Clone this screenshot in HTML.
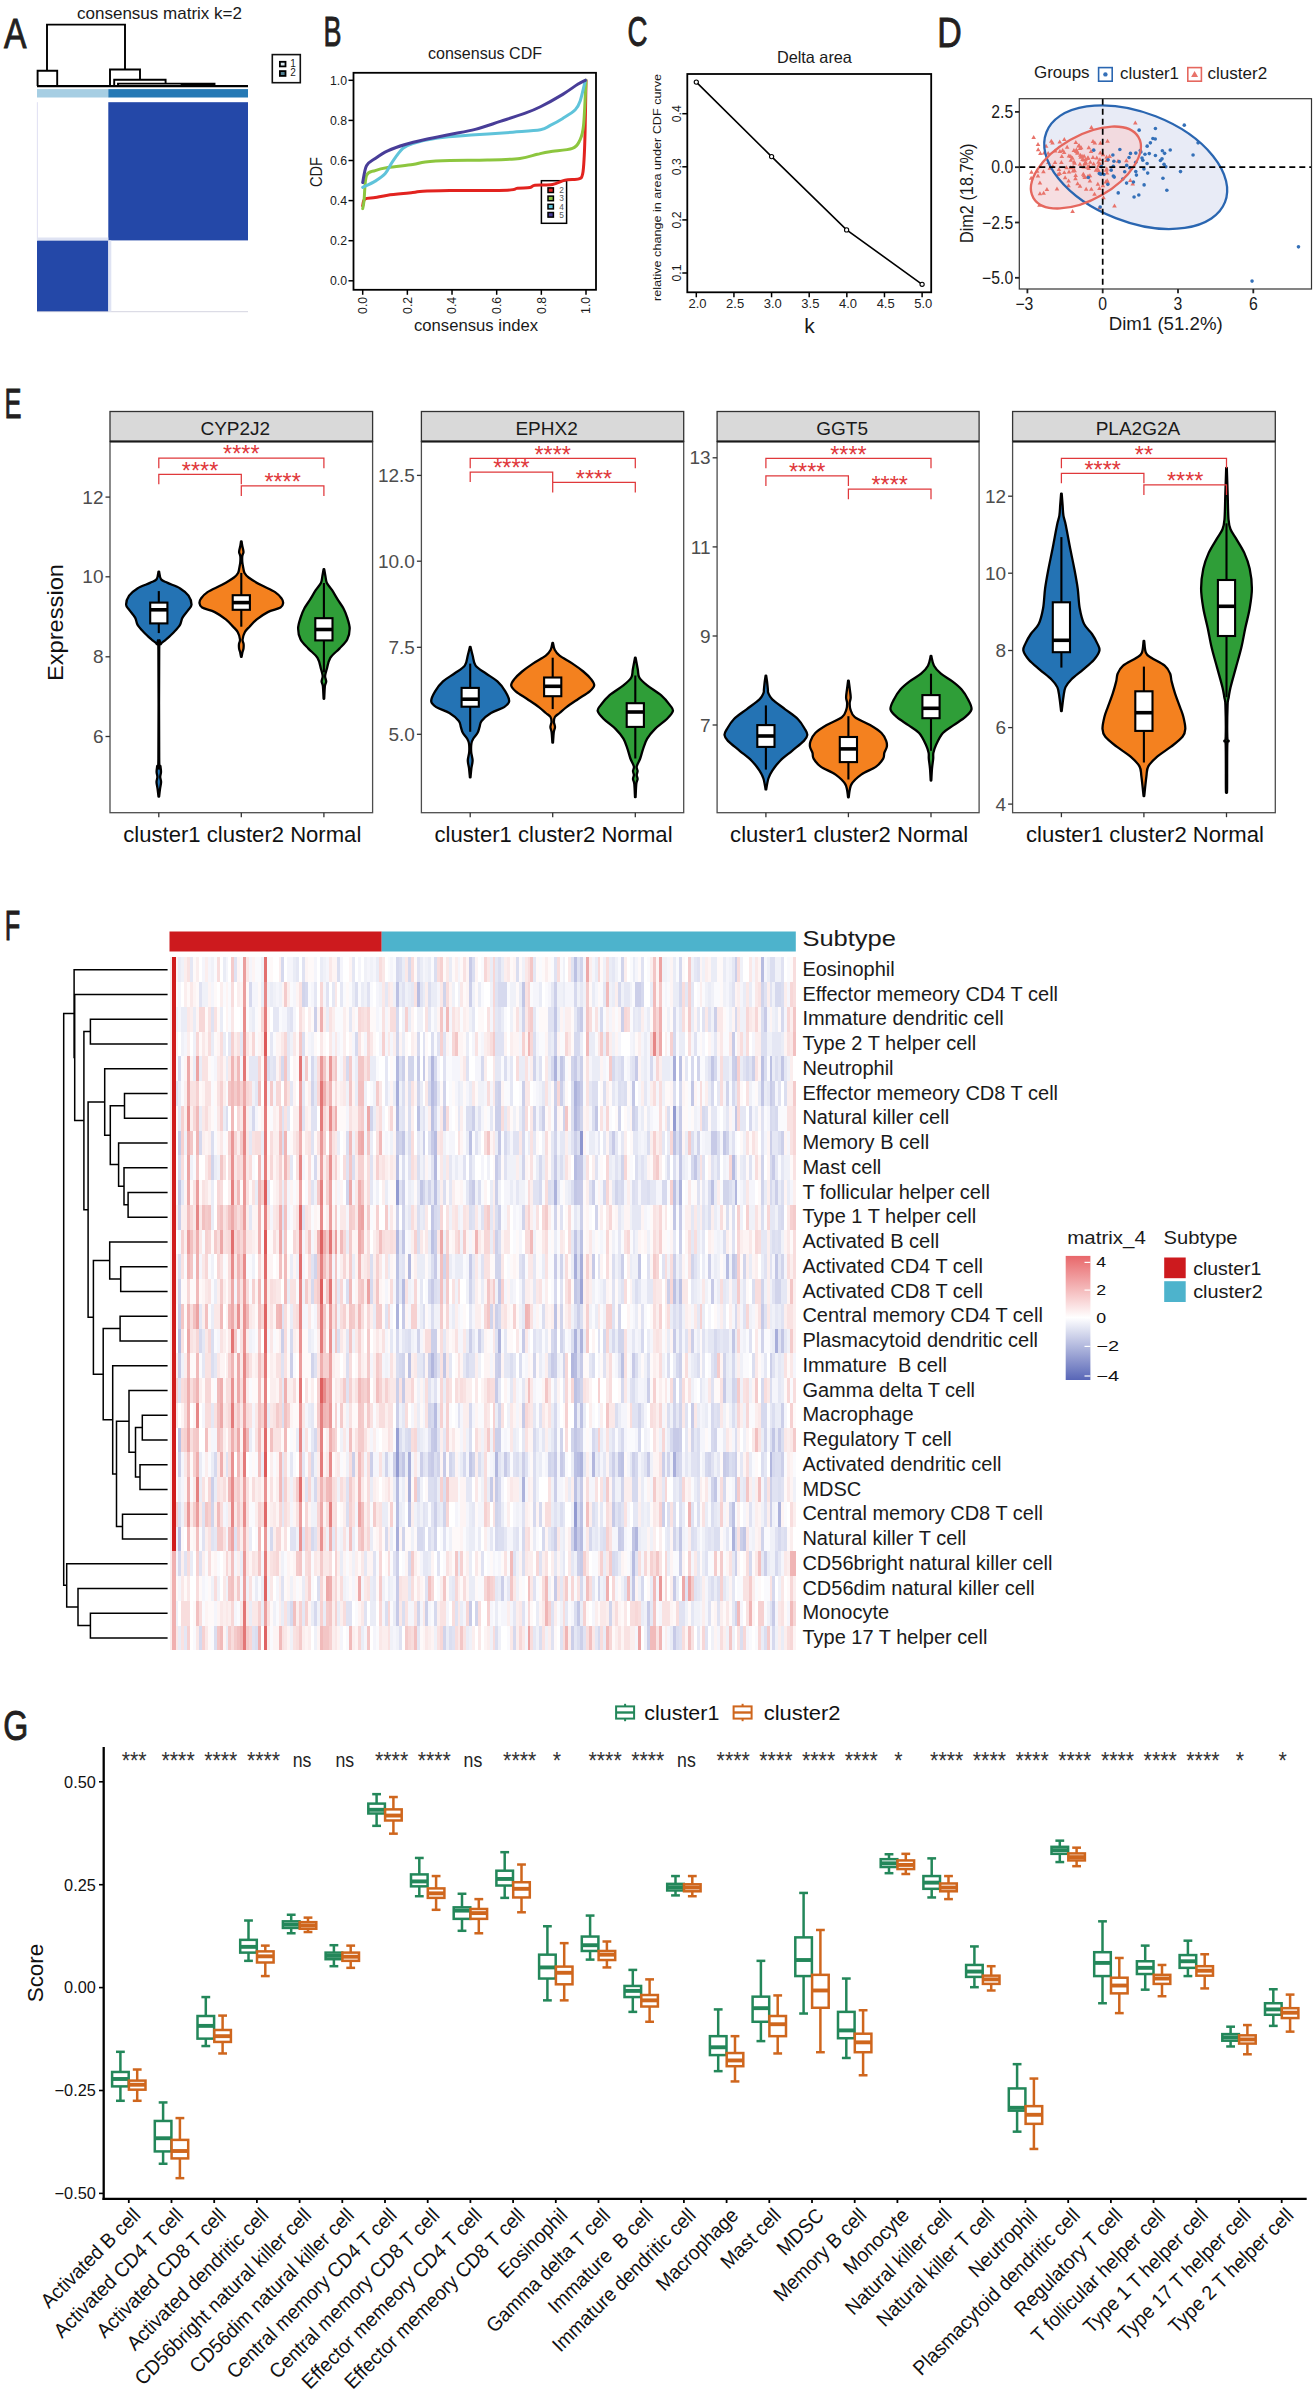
<!DOCTYPE html><html><head><meta charset="utf-8"><style>html,body{margin:0;padding:0;background:#fff;}svg{display:block;}text{font-family:"Liberation Sans",sans-serif;}</style></head><body>
<svg width="1315" height="2396" viewBox="0 0 1315 2396">
<rect x="0" y="0" width="1315" height="2396" fill="#fff"/>
<text x="4" y="47.5" font-size="42" fill="#231f20" textLength="22.5" lengthAdjust="spacingAndGlyphs" stroke="#231f20" stroke-width="0.9">A</text>
<text x="77" y="18.8" font-size="17" fill="#1a1a1a" textLength="165" lengthAdjust="spacingAndGlyphs">consensus matrix k=2</text>
<polyline points="47,70.8 47,24.6 125,24.6 125,69.5" fill="none" stroke="#000" stroke-width="1.9"/>
<polyline points="37.6,86 37.6,70.8 57.2,70.8 57.2,86" fill="none" stroke="#000" stroke-width="1.9"/>
<polyline points="110,86 110,69.5 140,69.5 140,79.8" fill="none" stroke="#000" stroke-width="1.9"/>
<polyline points="114.2,86 114.2,79.8 165.6,79.8 165.6,83.6" fill="none" stroke="#000" stroke-width="1.9"/>
<polyline points="118,86 118,83.6 214.5,83.6 214.5,86" fill="none" stroke="#000" stroke-width="1.9"/>
<line x1="180.7" y1="84.6" x2="214.5" y2="84.6" stroke="#000" stroke-width="1.4"/>
<line x1="37" y1="86.2" x2="248" y2="86.2" stroke="#000" stroke-width="2.2"/>
<rect x="37" y="89.1" width="71.3" height="8.4" fill="#a6cee3"/>
<rect x="108.3" y="89.1" width="139.7" height="8.4" fill="#2579b5"/>
<rect x="108.3" y="102.2" width="139.7" height="138.2" fill="#2448a8"/>
<rect x="37" y="240.4" width="71.3" height="71.3" fill="#2448a8"/>
<line x1="37" y1="311.7" x2="248" y2="311.7" stroke="#c8c8d8" stroke-width="0.8"/>
<line x1="37.4" y1="102.2" x2="37.4" y2="240.4" stroke="#d8d8f0" stroke-width="0.8"/>
<rect x="37" y="237.5" width="71.3" height="2.9" fill="#dfe3f3"/>
<rect x="108.3" y="240.4" width="3" height="71.3" fill="#dfe3f3"/>
<rect x="272.3" y="54.6" width="28" height="28.1" fill="#fff" stroke="#111" stroke-width="1.6"/>
<rect x="279.9" y="61.8" width="5.6" height="4.6" fill="#d8e8f0" stroke="#000" stroke-width="1.8"/>
<rect x="279.9" y="71.1" width="5.6" height="4.8" fill="#4f7f90" stroke="#000" stroke-width="1.8"/>
<text x="293" y="66.6" font-size="10" fill="#1a1a1a" text-anchor="middle">1</text>
<text x="293.1" y="76" font-size="10" fill="#1a1a1a" text-anchor="middle">2</text>
<text x="323.5" y="46.4" font-size="42" fill="#231f20" textLength="18" lengthAdjust="spacingAndGlyphs" stroke="#231f20" stroke-width="0.9">B</text>
<text x="485" y="58.8" font-size="16" fill="#1a1a1a" text-anchor="middle" textLength="114" lengthAdjust="spacingAndGlyphs">consensus CDF</text>
<rect x="353.5" y="72.8" width="242.5" height="217" fill="none" stroke="#000" stroke-width="1.8"/>
<line x1="348.5" y1="280.8" x2="353.5" y2="280.8" stroke="#000" stroke-width="1.5"/>
<text x="347" y="285.2" font-size="12.3" fill="#1a1a1a" text-anchor="end">0.0</text>
<line x1="348.5" y1="240.7" x2="353.5" y2="240.7" stroke="#000" stroke-width="1.5"/>
<text x="347" y="245.1" font-size="12.3" fill="#1a1a1a" text-anchor="end">0.2</text>
<line x1="348.5" y1="200.6" x2="353.5" y2="200.6" stroke="#000" stroke-width="1.5"/>
<text x="347" y="205" font-size="12.3" fill="#1a1a1a" text-anchor="end">0.4</text>
<line x1="348.5" y1="160.5" x2="353.5" y2="160.5" stroke="#000" stroke-width="1.5"/>
<text x="347" y="164.9" font-size="12.3" fill="#1a1a1a" text-anchor="end">0.6</text>
<line x1="348.5" y1="120.4" x2="353.5" y2="120.4" stroke="#000" stroke-width="1.5"/>
<text x="347" y="124.8" font-size="12.3" fill="#1a1a1a" text-anchor="end">0.8</text>
<line x1="348.5" y1="80.3" x2="353.5" y2="80.3" stroke="#000" stroke-width="1.5"/>
<text x="347" y="84.7" font-size="12.3" fill="#1a1a1a" text-anchor="end">1.0</text>
<line x1="362.7" y1="289.8" x2="362.7" y2="294.8" stroke="#000" stroke-width="1.5"/>
<text x="367.1" y="296.8" font-size="12.3" fill="#1a1a1a" text-anchor="end" transform="rotate(-90 367.1 296.8)">0.0</text>
<line x1="407.36" y1="289.8" x2="407.36" y2="294.8" stroke="#000" stroke-width="1.5"/>
<text x="411.76" y="296.8" font-size="12.3" fill="#1a1a1a" text-anchor="end" transform="rotate(-90 411.76 296.8)">0.2</text>
<line x1="452.02" y1="289.8" x2="452.02" y2="294.8" stroke="#000" stroke-width="1.5"/>
<text x="456.42" y="296.8" font-size="12.3" fill="#1a1a1a" text-anchor="end" transform="rotate(-90 456.42 296.8)">0.4</text>
<line x1="496.68" y1="289.8" x2="496.68" y2="294.8" stroke="#000" stroke-width="1.5"/>
<text x="501.08" y="296.8" font-size="12.3" fill="#1a1a1a" text-anchor="end" transform="rotate(-90 501.08 296.8)">0.6</text>
<line x1="541.34" y1="289.8" x2="541.34" y2="294.8" stroke="#000" stroke-width="1.5"/>
<text x="545.74" y="296.8" font-size="12.3" fill="#1a1a1a" text-anchor="end" transform="rotate(-90 545.74 296.8)">0.8</text>
<line x1="586" y1="289.8" x2="586" y2="294.8" stroke="#000" stroke-width="1.5"/>
<text x="590.4" y="296.8" font-size="12.3" fill="#1a1a1a" text-anchor="end" transform="rotate(-90 590.4 296.8)">1.0</text>
<text x="476" y="331" font-size="16" fill="#1a1a1a" text-anchor="middle" textLength="124" lengthAdjust="spacingAndGlyphs">consensus index</text>
<text x="322.3" y="172" font-size="16" fill="#1a1a1a" text-anchor="middle" textLength="30" lengthAdjust="spacingAndGlyphs" transform="rotate(-90 322.3 172)">CDF</text>
<rect x="541.4" y="180.7" width="25.2" height="42.6" fill="none" stroke="#000" stroke-width="1.5"/>
<rect x="548" y="187.9" width="5.4" height="4.6" fill="#e2231f" stroke="#000" stroke-width="1.5"/>
<text x="561.6" y="193.1" font-size="8.3" fill="#555" text-anchor="middle">2</text>
<rect x="548" y="196.1" width="5.4" height="4.6" fill="#8dc63f" stroke="#000" stroke-width="1.5"/>
<text x="561.6" y="201.3" font-size="8.3" fill="#555" text-anchor="middle">3</text>
<rect x="548" y="204.3" width="5.4" height="4.6" fill="#5fc3da" stroke="#000" stroke-width="1.5"/>
<text x="561.6" y="209.5" font-size="8.3" fill="#555" text-anchor="middle">4</text>
<rect x="548" y="212.5" width="5.4" height="4.6" fill="#483d98" stroke="#000" stroke-width="1.5"/>
<text x="561.6" y="217.7" font-size="8.3" fill="#555" text-anchor="middle">5</text>
<path d="M362.7,205.81 C363.07,204.68 362.85,200.37 364.93,199 C367.02,197.63 371.41,198.23 375.2,197.59 C379,196.96 381.46,196.02 387.71,195.19 C393.96,194.35 406.84,193.25 412.72,192.58 C418.6,191.91 416.81,191.51 422.99,191.18 C429.17,190.84 435.72,190.74 449.79,190.57 C463.85,190.41 496.12,190.57 507.4,190.17 C518.68,189.77 513.69,188.6 517.45,188.17 C521.21,187.73 527.05,188.07 529.95,187.57 C532.85,187.07 531.11,185.66 534.86,185.16 C538.62,184.66 547.48,185.4 552.5,184.56 C557.53,183.72 560.62,181.08 565.01,180.15 C569.4,179.21 575.91,179.98 578.85,178.95 C581.79,177.91 581.76,177.68 582.65,173.93 C583.54,170.19 583.8,163.74 584.21,156.49 C584.62,149.24 584.81,143.12 585.11,130.43 C585.4,117.73 585.85,88.65 586,80.3" fill="none" stroke="#e2231f" stroke-width="3" stroke-linejoin="round" stroke-linecap="round"/>
<path d="M362.7,208.62 C362.92,207.28 363.41,206.11 364.04,200.6 C364.67,195.09 364.64,180.55 366.5,175.54 C368.36,170.53 371.67,171.86 375.2,170.53 C378.74,169.19 381.46,168.52 387.71,167.52 C393.96,166.52 406.47,165.45 412.72,164.51 C418.97,163.57 419.05,162.57 425.22,161.9 C431.4,161.24 439.44,160.8 449.79,160.5 C460.13,160.2 475.62,160.43 487.3,160.1 C498.99,159.76 511.57,159.46 519.9,158.5 C528.24,157.53 532.33,155.42 537.32,154.28 C542.31,153.15 543.98,152.65 549.83,151.68 C555.67,150.71 567.39,150.34 572.38,148.47 C577.37,146.6 577.89,144.29 579.75,140.45 C581.61,136.61 582.5,135.44 583.54,125.41 C584.59,115.39 585.59,87.82 586,80.3" fill="none" stroke="#8dc63f" stroke-width="3" stroke-linejoin="round" stroke-linecap="round"/>
<path d="M362.7,187.37 C364.78,186.33 371.45,183.46 375.2,181.15 C378.96,178.85 382.31,176.87 385.25,173.53 C388.19,170.19 389.91,165.28 392.85,161.1 C395.79,156.92 399.58,151.41 402.89,148.47 C406.21,145.53 406.91,145.2 412.72,143.46 C418.52,141.72 427.31,139.48 437.73,138.04 C448.15,136.61 462.74,135.81 475.24,134.84 C487.75,133.87 501.89,133.06 512.76,132.23 C523.62,131.39 534.19,130.96 540.45,129.82 C546.7,128.69 546.55,127.32 550.27,125.41 C553.99,123.51 558.61,121 562.78,118.4 C566.95,115.79 572.38,112.68 575.28,109.77 C578.18,106.87 578.52,105.86 580.19,100.95 C581.87,96.04 584.47,83.74 585.33,80.3" fill="none" stroke="#5fc3da" stroke-width="3" stroke-linejoin="round" stroke-linecap="round"/>
<path d="M362.7,182.56 C363.33,179.75 364.41,169.72 366.5,165.71 C368.58,161.7 371.67,160.97 375.2,158.5 C378.74,156.02 382.72,153.22 387.71,150.88 C392.7,148.54 398.87,146.36 405.13,144.46 C411.38,142.56 417.78,141.12 425.22,139.45 C432.67,137.78 441.45,136.11 449.79,134.44 C458.12,132.76 466.83,131.59 475.24,129.42 C483.65,127.25 491.92,124.11 500.25,121.4 C508.59,118.7 518.56,115.62 525.26,113.18 C531.96,110.74 534.19,109.91 540.45,106.77 C546.7,103.62 556.56,98.08 562.78,94.34 C568.99,90.59 573.98,86.65 577.74,84.31 C581.5,81.97 584.06,80.97 585.33,80.3" fill="none" stroke="#483d98" stroke-width="3" stroke-linejoin="round" stroke-linecap="round"/>
<text x="627.5" y="46.4" font-size="42" fill="#231f20" textLength="20" lengthAdjust="spacingAndGlyphs" stroke="#231f20" stroke-width="0.9">C</text>
<text x="814.4" y="62.5" font-size="16.5" fill="#1a1a1a" text-anchor="middle" textLength="75" lengthAdjust="spacingAndGlyphs">Delta area</text>
<rect x="687.3" y="74" width="243.9" height="218.3" fill="none" stroke="#000" stroke-width="1.8"/>
<line x1="696.3" y1="292.3" x2="696.3" y2="297.3" stroke="#000" stroke-width="1.5"/>
<text x="697.5" y="307.6" font-size="13" fill="#222" text-anchor="middle">2.0</text>
<line x1="733.93" y1="292.3" x2="733.93" y2="297.3" stroke="#000" stroke-width="1.5"/>
<text x="735.13" y="307.6" font-size="13" fill="#222" text-anchor="middle">2.5</text>
<line x1="771.57" y1="292.3" x2="771.57" y2="297.3" stroke="#000" stroke-width="1.5"/>
<text x="772.77" y="307.6" font-size="13" fill="#222" text-anchor="middle">3.0</text>
<line x1="809.2" y1="292.3" x2="809.2" y2="297.3" stroke="#000" stroke-width="1.5"/>
<text x="810.4" y="307.6" font-size="13" fill="#222" text-anchor="middle">3.5</text>
<line x1="846.84" y1="292.3" x2="846.84" y2="297.3" stroke="#000" stroke-width="1.5"/>
<text x="848.04" y="307.6" font-size="13" fill="#222" text-anchor="middle">4.0</text>
<line x1="884.47" y1="292.3" x2="884.47" y2="297.3" stroke="#000" stroke-width="1.5"/>
<text x="885.67" y="307.6" font-size="13" fill="#222" text-anchor="middle">4.5</text>
<line x1="922.11" y1="292.3" x2="922.11" y2="297.3" stroke="#000" stroke-width="1.5"/>
<text x="923.31" y="307.6" font-size="13" fill="#222" text-anchor="middle">5.0</text>
<line x1="682.3" y1="273" x2="687.3" y2="273" stroke="#000" stroke-width="1.5"/>
<text x="681.3" y="273" font-size="12.3" fill="#1a1a1a" text-anchor="middle" transform="rotate(-90 681.3 273)">0.1</text>
<line x1="682.3" y1="219.9" x2="687.3" y2="219.9" stroke="#000" stroke-width="1.5"/>
<text x="681.3" y="219.9" font-size="12.3" fill="#1a1a1a" text-anchor="middle" transform="rotate(-90 681.3 219.9)">0.2</text>
<line x1="682.3" y1="166.8" x2="687.3" y2="166.8" stroke="#000" stroke-width="1.5"/>
<text x="681.3" y="166.8" font-size="12.3" fill="#1a1a1a" text-anchor="middle" transform="rotate(-90 681.3 166.8)">0.3</text>
<line x1="682.3" y1="113.7" x2="687.3" y2="113.7" stroke="#000" stroke-width="1.5"/>
<text x="681.3" y="113.7" font-size="12.3" fill="#1a1a1a" text-anchor="middle" transform="rotate(-90 681.3 113.7)">0.4</text>
<text x="661.2" y="187.5" font-size="11.6" fill="#1a1a1a" text-anchor="middle" textLength="227" lengthAdjust="spacingAndGlyphs" transform="rotate(-90 661.2 187.5)">relative change in area under CDF curve</text>
<text x="809.5" y="332.5" font-size="21" fill="#1a1a1a" text-anchor="middle">k</text>
<polyline points="696.3,82.1 771.6,156.6 846.6,229.9 922.1,284.3" fill="none" stroke="#000" stroke-width="1.6"/>
<circle cx="696.3" cy="82.1" r="2.1" fill="#fff" stroke="#000" stroke-width="1.1"/>
<circle cx="771.6" cy="156.6" r="2.1" fill="#fff" stroke="#000" stroke-width="1.1"/>
<circle cx="846.6" cy="229.9" r="2.1" fill="#fff" stroke="#000" stroke-width="1.1"/>
<circle cx="922.1" cy="284.3" r="2.1" fill="#fff" stroke="#000" stroke-width="1.1"/>
<text x="937.3" y="46.6" font-size="42" fill="#231f20" textLength="24.5" lengthAdjust="spacingAndGlyphs" stroke="#231f20" stroke-width="0.9">D</text>
<ellipse cx="1135.7" cy="167.2" rx="95.9" ry="54.7" transform="rotate(21.4 1135.7 167.2)" fill="#e8ebf6"/>
<ellipse cx="1085.9" cy="167.5" rx="60.7" ry="31.8" transform="rotate(-30 1085.9 167.5)" fill="#f4d6da" fill-opacity="0.8"/>
<path d="M1072.46,155.78 L1070.16,159.77 L1074.76,159.77Z" fill="#e8736a"/>
<path d="M1073.06,168.58 L1070.76,172.57 L1075.36,172.57Z" fill="#e8736a"/>
<path d="M1058.93,167.01 L1056.63,170.99 L1061.23,170.99Z" fill="#e8736a"/>
<path d="M1099.93,157.14 L1097.63,161.12 L1102.23,161.12Z" fill="#e8736a"/>
<path d="M1098.42,159.85 L1096.12,163.83 L1100.72,163.83Z" fill="#e8736a"/>
<path d="M1085.53,160.83 L1083.23,164.82 L1087.83,164.82Z" fill="#e8736a"/>
<path d="M1044.15,150.46 L1041.85,154.44 L1046.45,154.44Z" fill="#e8736a"/>
<path d="M1087.77,155.98 L1085.47,159.96 L1090.07,159.96Z" fill="#e8736a"/>
<path d="M1043.64,190.71 L1041.34,194.69 L1045.94,194.69Z" fill="#e8736a"/>
<path d="M1059.74,170.95 L1057.44,174.94 L1062.04,174.94Z" fill="#e8736a"/>
<path d="M1083.73,164.41 L1081.43,168.4 L1086.03,168.4Z" fill="#e8736a"/>
<path d="M1088.06,173.65 L1085.76,177.63 L1090.36,177.63Z" fill="#e8736a"/>
<path d="M1083.8,157.6 L1081.5,161.58 L1086.1,161.58Z" fill="#e8736a"/>
<path d="M1064.32,137.11 L1062.02,141.09 L1066.62,141.09Z" fill="#e8736a"/>
<path d="M1088.78,145.17 L1086.48,149.15 L1091.08,149.15Z" fill="#e8736a"/>
<path d="M1065.14,175.15 L1062.84,179.14 L1067.44,179.14Z" fill="#e8736a"/>
<path d="M1070.69,165.35 L1068.39,169.34 L1072.99,169.34Z" fill="#e8736a"/>
<path d="M1090.29,159.86 L1087.99,163.84 L1092.59,163.84Z" fill="#e8736a"/>
<path d="M1068.62,178.52 L1066.32,182.5 L1070.92,182.5Z" fill="#e8736a"/>
<path d="M1067.15,144.8 L1064.85,148.78 L1069.45,148.78Z" fill="#e8736a"/>
<path d="M1061.38,159.91 L1059.08,163.9 L1063.68,163.9Z" fill="#e8736a"/>
<path d="M1086.16,186.77 L1083.86,190.75 L1088.46,190.75Z" fill="#e8736a"/>
<path d="M1078.57,143.48 L1076.27,147.46 L1080.87,147.46Z" fill="#e8736a"/>
<path d="M1037.15,168.68 L1034.85,172.67 L1039.45,172.67Z" fill="#e8736a"/>
<path d="M1075.47,176.36 L1073.17,180.34 L1077.77,180.34Z" fill="#e8736a"/>
<path d="M1087.59,164.67 L1085.29,168.65 L1089.89,168.65Z" fill="#e8736a"/>
<path d="M1048.19,150.89 L1045.89,154.87 L1050.49,154.87Z" fill="#e8736a"/>
<path d="M1091.04,149.06 L1088.74,153.04 L1093.34,153.04Z" fill="#e8736a"/>
<path d="M1106.53,158.09 L1104.23,162.08 L1108.83,162.08Z" fill="#e8736a"/>
<path d="M1080,183.82 L1077.7,187.8 L1082.3,187.8Z" fill="#e8736a"/>
<path d="M1089.96,173.18 L1087.66,177.16 L1092.26,177.16Z" fill="#e8736a"/>
<path d="M1068.51,183.29 L1066.21,187.27 L1070.81,187.27Z" fill="#e8736a"/>
<path d="M1058.17,171.93 L1055.87,175.91 L1060.47,175.91Z" fill="#e8736a"/>
<path d="M1103.48,195.16 L1101.18,199.15 L1105.78,199.15Z" fill="#e8736a"/>
<path d="M1048.33,160 L1046.03,163.98 L1050.63,163.98Z" fill="#e8736a"/>
<path d="M1106.58,154.75 L1104.28,158.73 L1108.88,158.73Z" fill="#e8736a"/>
<path d="M1039.45,202.7 L1037.15,206.68 L1041.75,206.68Z" fill="#e8736a"/>
<path d="M1084.78,175.1 L1082.48,179.09 L1087.08,179.09Z" fill="#e8736a"/>
<path d="M1055.11,148.57 L1052.81,152.55 L1057.41,152.55Z" fill="#e8736a"/>
<path d="M1099.72,161.27 L1097.42,165.25 L1102.02,165.25Z" fill="#e8736a"/>
<path d="M1082.54,156.98 L1080.24,160.96 L1084.84,160.96Z" fill="#e8736a"/>
<path d="M1109.61,154.12 L1107.31,158.1 L1111.91,158.1Z" fill="#e8736a"/>
<path d="M1088.01,155.22 L1085.71,159.21 L1090.31,159.21Z" fill="#e8736a"/>
<path d="M1046.11,143.86 L1043.81,147.84 L1048.41,147.84Z" fill="#e8736a"/>
<path d="M1096.78,155.5 L1094.48,159.49 L1099.08,159.49Z" fill="#e8736a"/>
<path d="M1037.96,173.52 L1035.66,177.5 L1040.26,177.5Z" fill="#e8736a"/>
<path d="M1094.51,191.75 L1092.21,195.73 L1096.81,195.73Z" fill="#e8736a"/>
<path d="M1073.9,147.92 L1071.6,151.9 L1076.2,151.9Z" fill="#e8736a"/>
<path d="M1051.27,138.77 L1048.97,142.76 L1053.57,142.76Z" fill="#e8736a"/>
<path d="M1088.68,166.03 L1086.38,170.01 L1090.98,170.01Z" fill="#e8736a"/>
<path d="M1084.12,153.64 L1081.82,157.63 L1086.42,157.63Z" fill="#e8736a"/>
<path d="M1080.02,145.96 L1077.72,149.95 L1082.32,149.95Z" fill="#e8736a"/>
<path d="M1064.32,170.13 L1062.02,174.11 L1066.62,174.11Z" fill="#e8736a"/>
<path d="M1098.52,163.29 L1096.22,167.27 L1100.82,167.27Z" fill="#e8736a"/>
<path d="M1059.92,149.05 L1057.62,153.03 L1062.22,153.03Z" fill="#e8736a"/>
<path d="M1107.03,170.59 L1104.73,174.58 L1109.33,174.58Z" fill="#e8736a"/>
<path d="M1049.89,165.79 L1047.59,169.77 L1052.19,169.77Z" fill="#e8736a"/>
<path d="M1074.61,168.32 L1072.31,172.3 L1076.91,172.3Z" fill="#e8736a"/>
<path d="M1105.81,179.6 L1103.51,183.59 L1108.11,183.59Z" fill="#e8736a"/>
<path d="M1102.91,183.34 L1100.61,187.33 L1105.21,187.33Z" fill="#e8736a"/>
<path d="M1061.8,153.93 L1059.5,157.91 L1064.1,157.91Z" fill="#e8736a"/>
<path d="M1100.26,150.4 L1097.96,154.39 L1102.56,154.39Z" fill="#e8736a"/>
<path d="M1084.53,161.5 L1082.23,165.48 L1086.83,165.48Z" fill="#e8736a"/>
<path d="M1080.66,154.8 L1078.36,158.78 L1082.96,158.78Z" fill="#e8736a"/>
<path d="M1074.06,159.41 L1071.76,163.39 L1076.36,163.39Z" fill="#e8736a"/>
<path d="M1089.1,163.69 L1086.8,167.67 L1091.4,167.67Z" fill="#e8736a"/>
<path d="M1092.94,154.94 L1090.64,158.93 L1095.24,158.93Z" fill="#e8736a"/>
<path d="M1117.97,158.67 L1115.67,162.66 L1120.27,162.66Z" fill="#e8736a"/>
<path d="M1069.01,169.47 L1066.71,173.46 L1071.31,173.46Z" fill="#e8736a"/>
<path d="M1077.34,149.4 L1075.04,153.38 L1079.64,153.38Z" fill="#e8736a"/>
<path d="M1070.84,157.73 L1068.54,161.71 L1073.14,161.71Z" fill="#e8736a"/>
<path d="M1114.49,203.42 L1112.19,207.4 L1116.79,207.4Z" fill="#e8736a"/>
<path d="M1055.03,159.93 L1052.73,163.91 L1057.33,163.91Z" fill="#e8736a"/>
<path d="M1085.6,160.01 L1083.3,163.99 L1087.9,163.99Z" fill="#e8736a"/>
<path d="M1068.94,153.56 L1066.64,157.54 L1071.24,157.54Z" fill="#e8736a"/>
<path d="M1083.27,171.79 L1080.97,175.77 L1085.57,175.77Z" fill="#e8736a"/>
<path d="M1126.4,158.2 L1124.1,162.19 L1128.7,162.19Z" fill="#e8736a"/>
<path d="M1066.47,165.24 L1064.17,169.23 L1068.77,169.23Z" fill="#e8736a"/>
<path d="M1073.07,164.68 L1070.77,168.66 L1075.37,168.66Z" fill="#e8736a"/>
<path d="M1097.85,181.8 L1095.55,185.78 L1100.15,185.78Z" fill="#e8736a"/>
<path d="M1076.26,148.94 L1073.96,152.92 L1078.56,152.92Z" fill="#e8736a"/>
<path d="M1094.79,140.62 L1092.49,144.6 L1097.09,144.6Z" fill="#e8736a"/>
<path d="M1043.44,169.18 L1041.14,173.16 L1045.74,173.16Z" fill="#e8736a"/>
<path d="M1070.75,154.05 L1068.45,158.04 L1073.05,158.04Z" fill="#e8736a"/>
<path d="M1099.52,205.24 L1097.22,209.23 L1101.82,209.23Z" fill="#e8736a"/>
<path d="M1099.46,186.12 L1097.16,190.1 L1101.76,190.1Z" fill="#e8736a"/>
<path d="M1091.32,186.81 L1089.02,190.79 L1093.62,190.79Z" fill="#e8736a"/>
<path d="M1081.13,145.21 L1078.83,149.19 L1083.43,149.19Z" fill="#e8736a"/>
<path d="M1074.6,160.74 L1072.3,164.73 L1076.9,164.73Z" fill="#e8736a"/>
<path d="M1093.61,161.51 L1091.31,165.5 L1095.91,165.5Z" fill="#e8736a"/>
<path d="M1075.82,139.96 L1073.52,143.95 L1078.12,143.95Z" fill="#e8736a"/>
<path d="M1098.65,168.25 L1096.35,172.24 L1100.95,172.24Z" fill="#e8736a"/>
<path d="M1132.73,181.46 L1130.43,185.45 L1135.03,185.45Z" fill="#e8736a"/>
<path d="M1095.97,167.82 L1093.67,171.8 L1098.27,171.8Z" fill="#e8736a"/>
<path d="M1080.26,152.79 L1077.96,156.77 L1082.56,156.77Z" fill="#e8736a"/>
<path d="M1082.06,153.82 L1079.76,157.8 L1084.36,157.8Z" fill="#e8736a"/>
<path d="M1046.93,187.08 L1044.63,191.06 L1049.23,191.06Z" fill="#e8736a"/>
<path d="M1089.95,178.62 L1087.65,182.6 L1092.25,182.6Z" fill="#e8736a"/>
<path d="M1056.98,186.47 L1054.68,190.45 L1059.28,190.45Z" fill="#e8736a"/>
<path d="M1103.03,152.14 L1100.73,156.13 L1105.33,156.13Z" fill="#e8736a"/>
<path d="M1107.18,178.22 L1104.88,182.21 L1109.48,182.21Z" fill="#e8736a"/>
<path d="M1077.62,181.36 L1075.32,185.34 L1079.92,185.34Z" fill="#e8736a"/>
<path d="M1092.98,139.09 L1090.68,143.08 L1095.28,143.08Z" fill="#e8736a"/>
<path d="M1059.72,139.54 L1057.42,143.53 L1062.02,143.53Z" fill="#e8736a"/>
<path d="M1097.44,166.46 L1095.14,170.44 L1099.74,170.44Z" fill="#e8736a"/>
<path d="M1038,141.92 L1035.7,145.91 L1040.3,145.91Z" fill="#e8736a"/>
<path d="M1075.67,173.04 L1073.37,177.02 L1077.97,177.02Z" fill="#e8736a"/>
<path d="M1085.62,157.36 L1083.32,161.34 L1087.92,161.34Z" fill="#e8736a"/>
<path d="M1107.68,179.5 L1105.38,183.48 L1109.98,183.48Z" fill="#e8736a"/>
<path d="M1100.42,140.67 L1098.12,144.66 L1102.72,144.66Z" fill="#e8736a"/>
<path d="M1106.76,166.5 L1104.46,170.48 L1109.06,170.48Z" fill="#e8736a"/>
<path d="M1062.66,147.93 L1060.36,151.92 L1064.96,151.92Z" fill="#e8736a"/>
<path d="M1079.91,161.78 L1077.61,165.76 L1082.21,165.76Z" fill="#e8736a"/>
<path d="M1106.2,167.78 L1103.9,171.77 L1108.5,171.77Z" fill="#e8736a"/>
<path d="M1031.48,169.7 L1029.18,173.68 L1033.78,173.68Z" fill="#e8736a"/>
<path d="M1040.37,151.03 L1038.07,155.01 L1042.67,155.01Z" fill="#e8736a"/>
<path d="M1083.97,173.17 L1081.67,177.15 L1086.27,177.15Z" fill="#e8736a"/>
<path d="M1077.41,150.81 L1075.11,154.8 L1079.71,154.8Z" fill="#e8736a"/>
<path d="M1079.19,143.16 L1076.89,147.15 L1081.49,147.15Z" fill="#e8736a"/>
<path d="M1076.37,147.6 L1074.07,151.58 L1078.67,151.58Z" fill="#e8736a"/>
<path d="M1107.55,138.78 L1105.25,142.76 L1109.85,142.76Z" fill="#e8736a"/>
<path d="M1064.11,150.08 L1061.81,154.06 L1066.41,154.06Z" fill="#e8736a"/>
<path d="M1039.93,180.48 L1037.63,184.46 L1042.23,184.46Z" fill="#e8736a"/>
<path d="M1038.19,147.15 L1035.89,151.14 L1040.49,151.14Z" fill="#e8736a"/>
<path d="M1052.86,163.9 L1050.56,167.89 L1055.16,167.89Z" fill="#e8736a"/>
<path d="M1033.67,134.95 L1031.38,138.93 L1035.97,138.93Z" fill="#e8736a"/>
<path d="M1072.58,209.05 L1070.28,213.03 L1074.88,213.03Z" fill="#e8736a"/>
<path d="M1135.33,120.57 L1133.03,124.55 L1137.63,124.55Z" fill="#e8736a"/>
<path d="M1031.16,175.87 L1028.87,179.85 L1033.46,179.85Z" fill="#e8736a"/>
<path d="M1130.31,178.08 L1128.01,182.07 L1132.61,182.07Z" fill="#e8736a"/>
<path d="M1091.4,124.99 L1089.11,128.98 L1093.7,128.98Z" fill="#e8736a"/>
<path d="M1039.95,191.35 L1037.65,195.34 L1042.25,195.34Z" fill="#e8736a"/>
<path d="M1052.5,140.48 L1050.2,144.46 L1054.8,144.46Z" fill="#e8736a"/>
<circle cx="1126.69" cy="165.4" r="1.8" fill="#3470b8"/>
<circle cx="1119.17" cy="161.63" r="1.8" fill="#3470b8"/>
<circle cx="1164.03" cy="164.35" r="1.8" fill="#3470b8"/>
<circle cx="1140.31" cy="150.6" r="1.8" fill="#3470b8"/>
<circle cx="1126.58" cy="183.1" r="1.8" fill="#3470b8"/>
<circle cx="1119.85" cy="149.55" r="1.8" fill="#3470b8"/>
<circle cx="1099.32" cy="173.58" r="1.8" fill="#3470b8"/>
<circle cx="1149.27" cy="153.59" r="1.8" fill="#3470b8"/>
<circle cx="1130.45" cy="153.41" r="1.8" fill="#3470b8"/>
<circle cx="1133.43" cy="181.94" r="1.8" fill="#3470b8"/>
<circle cx="1100.87" cy="174.17" r="1.8" fill="#3470b8"/>
<circle cx="1147.68" cy="173.12" r="1.8" fill="#3470b8"/>
<circle cx="1113.32" cy="176.07" r="1.8" fill="#3470b8"/>
<circle cx="1101.47" cy="166.67" r="1.8" fill="#3470b8"/>
<circle cx="1108.1" cy="159.75" r="1.8" fill="#3470b8"/>
<circle cx="1118.23" cy="192.91" r="1.8" fill="#3470b8"/>
<circle cx="1143.95" cy="168.95" r="1.8" fill="#3470b8"/>
<circle cx="1088.33" cy="177.57" r="1.8" fill="#3470b8"/>
<circle cx="1135.79" cy="171.58" r="1.8" fill="#3470b8"/>
<circle cx="1144.99" cy="154.24" r="1.8" fill="#3470b8"/>
<circle cx="1142.85" cy="160.29" r="1.8" fill="#3470b8"/>
<circle cx="1155.42" cy="155.5" r="1.8" fill="#3470b8"/>
<circle cx="1138.8" cy="194.95" r="1.8" fill="#3470b8"/>
<circle cx="1147.19" cy="146.16" r="1.8" fill="#3470b8"/>
<circle cx="1124.72" cy="171.74" r="1.8" fill="#3470b8"/>
<circle cx="1166.84" cy="190.27" r="1.8" fill="#3470b8"/>
<circle cx="1139.14" cy="130.14" r="1.8" fill="#3470b8"/>
<circle cx="1112.85" cy="155.07" r="1.8" fill="#3470b8"/>
<circle cx="1165.82" cy="166.72" r="1.8" fill="#3470b8"/>
<circle cx="1140.87" cy="152.01" r="1.8" fill="#3470b8"/>
<circle cx="1113.26" cy="166.27" r="1.8" fill="#3470b8"/>
<circle cx="1135.82" cy="153.12" r="1.8" fill="#3470b8"/>
<circle cx="1129.66" cy="167.8" r="1.8" fill="#3470b8"/>
<circle cx="1111.18" cy="170.15" r="1.8" fill="#3470b8"/>
<circle cx="1147.1" cy="163.53" r="1.8" fill="#3470b8"/>
<circle cx="1114.25" cy="177.09" r="1.8" fill="#3470b8"/>
<circle cx="1142.01" cy="158.08" r="1.8" fill="#3470b8"/>
<circle cx="1162.01" cy="158.84" r="1.8" fill="#3470b8"/>
<circle cx="1129.04" cy="157.48" r="1.8" fill="#3470b8"/>
<circle cx="1093.71" cy="150.13" r="1.8" fill="#3470b8"/>
<circle cx="1136.43" cy="175.08" r="1.8" fill="#3470b8"/>
<circle cx="1155.26" cy="138.97" r="1.8" fill="#3470b8"/>
<circle cx="1103.91" cy="174.57" r="1.8" fill="#3470b8"/>
<circle cx="1135.79" cy="162.35" r="1.8" fill="#3470b8"/>
<circle cx="1122.81" cy="179" r="1.8" fill="#3470b8"/>
<circle cx="1170.23" cy="150.07" r="1.8" fill="#3470b8"/>
<circle cx="1107.83" cy="184.33" r="1.8" fill="#3470b8"/>
<circle cx="1162.37" cy="150.77" r="1.8" fill="#3470b8"/>
<circle cx="1164.59" cy="153.34" r="1.8" fill="#3470b8"/>
<circle cx="1113.89" cy="161.24" r="1.8" fill="#3470b8"/>
<circle cx="1252.05" cy="281.12" r="1.8" fill="#3470b8"/>
<circle cx="1298.48" cy="246.83" r="1.8" fill="#3470b8"/>
<circle cx="1184.28" cy="125.17" r="1.8" fill="#3470b8"/>
<circle cx="1198.08" cy="142.87" r="1.8" fill="#3470b8"/>
<circle cx="1193.06" cy="155.03" r="1.8" fill="#3470b8"/>
<circle cx="1155.41" cy="128.49" r="1.8" fill="#3470b8"/>
<circle cx="1100.19" cy="207.02" r="1.8" fill="#3470b8"/>
<circle cx="1134.08" cy="197.06" r="1.8" fill="#3470b8"/>
<circle cx="1180.51" cy="171.62" r="1.8" fill="#3470b8"/>
<circle cx="1162.94" cy="178.26" r="1.8" fill="#3470b8"/>
<circle cx="1160.43" cy="160.56" r="1.8" fill="#3470b8"/>
<circle cx="1144.12" cy="184.9" r="1.8" fill="#3470b8"/>
<circle cx="1150.39" cy="142.87" r="1.8" fill="#3470b8"/>
<circle cx="1152.9" cy="138.44" r="1.8" fill="#3470b8"/>
<ellipse cx="1135.7" cy="167.2" rx="95.9" ry="54.7" transform="rotate(21.4 1135.7 167.2)" fill="none" stroke="#2a66b1" stroke-width="2.3"/>
<ellipse cx="1085.9" cy="167.5" rx="60.7" ry="31.8" transform="rotate(-30 1085.9 167.5)" fill="none" stroke="#e5675e" stroke-width="2.3"/>
<line x1="1102.7" y1="98.7" x2="1102.7" y2="289" stroke="#000" stroke-width="1.7" stroke-dasharray="6,4"/>
<line x1="1019.3" y1="167.2" x2="1311.5" y2="167.2" stroke="#000" stroke-width="1.7" stroke-dasharray="6,4"/>
<rect x="1019.3" y="98.7" width="292.2" height="190.3" fill="none" stroke="#333" stroke-width="1.2"/>
<line x1="1015" y1="111.9" x2="1019.3" y2="111.9" stroke="#222" stroke-width="1.8"/>
<text x="1013.2" y="118" font-size="17.5" fill="#1a1a1a" text-anchor="end" textLength="21.89" lengthAdjust="spacingAndGlyphs">2.5</text>
<line x1="1015" y1="167.2" x2="1019.3" y2="167.2" stroke="#222" stroke-width="1.8"/>
<text x="1013.2" y="173.3" font-size="17.5" fill="#1a1a1a" text-anchor="end" textLength="21.89" lengthAdjust="spacingAndGlyphs">0.0</text>
<line x1="1015" y1="222.5" x2="1019.3" y2="222.5" stroke="#222" stroke-width="1.8"/>
<text x="1013.2" y="228.6" font-size="17.5" fill="#1a1a1a" text-anchor="end" textLength="31.09" lengthAdjust="spacingAndGlyphs">−2.5</text>
<line x1="1015" y1="277.8" x2="1019.3" y2="277.8" stroke="#222" stroke-width="1.8"/>
<text x="1013.2" y="283.9" font-size="17.5" fill="#1a1a1a" text-anchor="end" textLength="31.09" lengthAdjust="spacingAndGlyphs">−5.0</text>
<line x1="1027.4" y1="289" x2="1027.4" y2="293.3" stroke="#222" stroke-width="1.8"/>
<text x="1024.4" y="310.3" font-size="17.5" fill="#1a1a1a" text-anchor="middle" textLength="17.96" lengthAdjust="spacingAndGlyphs">−3</text>
<line x1="1102.7" y1="289" x2="1102.7" y2="293.3" stroke="#222" stroke-width="1.8"/>
<text x="1102.7" y="310.3" font-size="17.5" fill="#1a1a1a" text-anchor="middle" textLength="8.76" lengthAdjust="spacingAndGlyphs">0</text>
<line x1="1178" y1="289" x2="1178" y2="293.3" stroke="#222" stroke-width="1.8"/>
<text x="1178" y="310.3" font-size="17.5" fill="#1a1a1a" text-anchor="middle" textLength="8.76" lengthAdjust="spacingAndGlyphs">3</text>
<line x1="1253.3" y1="289" x2="1253.3" y2="293.3" stroke="#222" stroke-width="1.8"/>
<text x="1253.3" y="310.3" font-size="17.5" fill="#1a1a1a" text-anchor="middle" textLength="8.76" lengthAdjust="spacingAndGlyphs">6</text>
<text x="1165.7" y="330.2" font-size="17.5" fill="#1a1a1a" text-anchor="middle" textLength="114" lengthAdjust="spacingAndGlyphs">Dim1 (51.2%)</text>
<text x="973.4" y="193.3" font-size="17.5" fill="#1a1a1a" text-anchor="middle" textLength="99.5" lengthAdjust="spacingAndGlyphs" transform="rotate(-90 973.4 193.3)">Dim2 (18.7%)</text>
<text x="1034" y="78" font-size="16.5" fill="#1a1a1a" textLength="55.6" lengthAdjust="spacingAndGlyphs">Groups</text>
<rect x="1098.6" y="67.6" width="13.6" height="13.6" fill="#fff" stroke="#2a66b1" stroke-width="1.6"/>
<circle cx="1105.4" cy="74.4" r="2.2" fill="#3470b8"/>
<text x="1120" y="78.8" font-size="16.5" fill="#1a1a1a" textLength="59" lengthAdjust="spacingAndGlyphs">cluster1</text>
<rect x="1187.8" y="67.6" width="13.6" height="13.6" fill="#fff" stroke="#e5675e" stroke-width="1.6"/>
<path d="M1194.6,70.96 L1191.1,77.02 L1198.1,77.02Z" fill="#e8736a"/>
<text x="1207.5" y="78.8" font-size="16.5" fill="#1a1a1a" textLength="59.8" lengthAdjust="spacingAndGlyphs">cluster2</text>
<text x="4.6" y="418" font-size="42" fill="#231f20" textLength="17" lengthAdjust="spacingAndGlyphs" stroke="#231f20" stroke-width="0.9">E</text>
<text x="62.6" y="622.5" font-size="22.5" fill="#111" text-anchor="middle" textLength="117" lengthAdjust="spacingAndGlyphs" transform="rotate(-90 62.6 622.5)">Expression</text>
<rect x="110" y="411.5" width="262.6" height="30" fill="#d9d9d9" stroke="#333" stroke-width="1.3"/>
<rect x="110" y="441.5" width="262.6" height="371.2" fill="#fff" stroke="#4d4d4d" stroke-width="1.3"/>
<line x1="110" y1="441.5" x2="372.6" y2="441.5" stroke="#1a1a1a" stroke-width="2"/>
<text x="235.3" y="434.8" font-size="19" fill="#1a1a1a" text-anchor="middle">CYP2J2</text>
<line x1="105.5" y1="497.1" x2="110" y2="497.1" stroke="#333" stroke-width="1.3"/>
<text x="103.5" y="503.7" font-size="19" fill="#4d4d4d" text-anchor="end">12</text>
<line x1="105.5" y1="576.8" x2="110" y2="576.8" stroke="#333" stroke-width="1.3"/>
<text x="103.5" y="583.4" font-size="19" fill="#4d4d4d" text-anchor="end">10</text>
<line x1="105.5" y1="656.8" x2="110" y2="656.8" stroke="#333" stroke-width="1.3"/>
<text x="103.5" y="663.4" font-size="19" fill="#4d4d4d" text-anchor="end">8</text>
<line x1="105.5" y1="736.5" x2="110" y2="736.5" stroke="#333" stroke-width="1.3"/>
<text x="103.5" y="743.1" font-size="19" fill="#4d4d4d" text-anchor="end">6</text>
<line x1="158.8" y1="812.7" x2="158.8" y2="817.2" stroke="#333" stroke-width="1.3"/>
<line x1="241.3" y1="812.7" x2="241.3" y2="817.2" stroke="#333" stroke-width="1.3"/>
<line x1="323.9" y1="812.7" x2="323.9" y2="817.2" stroke="#333" stroke-width="1.3"/>
<text x="242.3" y="842.2" font-size="21.3" fill="#111" text-anchor="middle" textLength="238" lengthAdjust="spacingAndGlyphs">cluster1 cluster2 Normal</text>
<path d="M158.8,571.6 L159.1,571.6 C159.42,572.88 159.58,577.42 161,579.3 C162.42,581.18 164.4,581.38 167.6,582.9 C170.8,584.42 176.72,586.27 180.2,588.4 C183.68,590.53 186.62,592.97 188.5,595.7 C190.38,598.43 191.58,602.37 191.5,604.8 C191.42,607.23 189.5,608.17 188,610.3 C186.5,612.43 183.83,615.17 182.5,617.6 C181.17,620.03 181.45,622.47 180,624.9 C178.55,627.33 176.12,629.77 173.8,632.2 C171.48,634.63 168.27,637.52 166.1,639.5 C163.93,641.48 161.95,642.35 160.8,644.1 C159.65,645.85 159.47,631.02 159.2,650 C158.93,668.98 159,738.67 159.2,758 C159.4,777.33 160.1,763.67 160.4,766 C160.7,768.33 161.03,770.17 161,772 C160.97,773.83 160.18,775.33 160.2,777 C160.22,778.67 161.13,780 161.1,782 C161.07,784 160.33,786.55 160,789 C159.67,791.45 159.25,795.42 159.1,796.7 L158.8,796.7 L158.5,796.7 C158.35,795.42 157.93,791.45 157.6,789 C157.27,786.55 156.53,784 156.5,782 C156.47,780 157.38,778.67 157.4,777 C157.42,775.33 156.63,773.83 156.6,772 C156.57,770.17 156.9,768.33 157.2,766 C157.5,763.67 158.2,777.33 158.4,758 C158.6,738.67 158.67,668.98 158.4,650 C158.13,631.02 157.95,645.85 156.8,644.1 C155.65,642.35 153.67,641.48 151.5,639.5 C149.33,637.52 146.12,634.63 143.8,632.2 C141.48,629.77 139.05,627.33 137.6,624.9 C136.15,622.47 136.43,620.03 135.1,617.6 C133.77,615.17 131.1,612.43 129.6,610.3 C128.1,608.17 126.18,607.23 126.1,604.8 C126.02,602.37 127.22,598.43 129.1,595.7 C130.98,592.97 133.92,590.53 137.4,588.4 C140.88,586.27 146.8,584.42 150,582.9 C153.2,581.38 155.18,581.18 156.6,579.3 C158.02,577.42 158.18,572.88 158.5,571.6 Z" fill="#2473b4" stroke="#000" stroke-width="2.3" stroke-linejoin="round"/>
<path d="M241.3,541.3 L241.6,541.3 C241.72,542.08 241.98,544.23 242.3,546 C242.62,547.77 243.5,550.23 243.5,551.9 C243.5,553.57 242.5,554.32 242.3,556 C242.1,557.68 242.13,560 242.3,562 C242.47,564 242.93,566.18 243.3,568 C243.67,569.82 243.62,571.32 244.5,572.9 C245.38,574.48 245.93,575.52 248.6,577.5 C251.27,579.48 256.08,582.37 260.5,584.8 C264.92,587.23 271.6,589.83 275.1,592.1 C278.6,594.37 280.17,596.58 281.5,598.4 C282.83,600.22 283.27,601.47 283.1,603 C282.93,604.53 283.05,606.08 280.5,607.6 C277.95,609.12 271.75,610.13 267.8,612.1 C263.85,614.07 259.85,616.97 256.8,619.4 C253.75,621.83 251.5,624.57 249.5,626.7 C247.5,628.83 245.95,630.07 244.8,632.2 C243.65,634.33 242.8,637.53 242.6,639.5 C242.4,641.47 243.45,642.48 243.6,644 C243.75,645.52 243.68,647.27 243.5,648.6 C243.32,649.93 242.82,650.63 242.5,652 C242.18,653.37 241.75,656 241.6,656.8 L241.3,656.8 L241,656.8 C240.85,656 240.42,653.37 240.1,652 C239.78,650.63 239.28,649.93 239.1,648.6 C238.92,647.27 238.85,645.52 239,644 C239.15,642.48 240.2,641.47 240,639.5 C239.8,637.53 238.95,634.33 237.8,632.2 C236.65,630.07 235.1,628.83 233.1,626.7 C231.1,624.57 228.85,621.83 225.8,619.4 C222.75,616.97 218.75,614.07 214.8,612.1 C210.85,610.13 204.65,609.12 202.1,607.6 C199.55,606.08 199.67,604.53 199.5,603 C199.33,601.47 199.77,600.22 201.1,598.4 C202.43,596.58 204,594.37 207.5,592.1 C211,589.83 217.68,587.23 222.1,584.8 C226.52,582.37 231.33,579.48 234,577.5 C236.67,575.52 237.22,574.48 238.1,572.9 C238.98,571.32 238.93,569.82 239.3,568 C239.67,566.18 240.13,564 240.3,562 C240.47,560 240.5,557.68 240.3,556 C240.1,554.32 239.1,553.57 239.1,551.9 C239.1,550.23 239.98,547.77 240.3,546 C240.62,544.23 240.88,542.08 241,541.3 Z" fill="#f4811f" stroke="#000" stroke-width="2.3" stroke-linejoin="round"/>
<path d="M323.9,569.2 L324.2,569.2 C324.4,570.33 324.95,573.72 325.4,576 C325.85,578.28 325.78,580.53 326.9,582.9 C328.02,585.27 330.32,587.45 332.1,590.2 C333.88,592.95 335.7,596.35 337.6,599.4 C339.5,602.45 341.9,605.47 343.5,608.5 C345.1,611.53 346.17,614.25 347.2,617.6 C348.23,620.95 349.7,624.95 349.7,628.6 C349.7,632.25 348.92,636.17 347.2,639.5 C345.48,642.83 342.22,645.55 339.4,648.6 C336.58,651.65 332.38,654.45 330.3,657.8 C328.22,661.15 327.77,665.67 326.9,668.7 C326.03,671.73 325.22,673.87 325.1,676 C324.98,678.13 326.23,679.83 326.2,681.5 C326.17,683.17 325.23,683.12 324.9,686 C324.57,688.88 324.32,696.67 324.2,698.8 L323.9,698.8 L323.6,698.8 C323.48,696.67 323.23,688.88 322.9,686 C322.57,683.12 321.63,683.17 321.6,681.5 C321.57,679.83 322.82,678.13 322.7,676 C322.58,673.87 321.77,671.73 320.9,668.7 C320.03,665.67 319.58,661.15 317.5,657.8 C315.42,654.45 311.22,651.65 308.4,648.6 C305.58,645.55 302.32,642.83 300.6,639.5 C298.88,636.17 298.1,632.25 298.1,628.6 C298.1,624.95 299.57,620.95 300.6,617.6 C301.63,614.25 302.7,611.53 304.3,608.5 C305.9,605.47 308.3,602.45 310.2,599.4 C312.1,596.35 313.92,592.95 315.7,590.2 C317.48,587.45 319.78,585.27 320.9,582.9 C322.02,580.53 321.95,578.28 322.4,576 C322.85,573.72 323.4,570.33 323.6,569.2 Z" fill="#2f9e38" stroke="#000" stroke-width="2.3" stroke-linejoin="round"/>
<line x1="158.8" y1="591.1" x2="158.8" y2="633.1" stroke="#000" stroke-width="2.1"/>
<rect x="150.2" y="602.6" width="17.2" height="20.8" fill="#fff" stroke="#000" stroke-width="2.1"/>
<line x1="150.2" y1="609.8" x2="167.4" y2="609.8" stroke="#000" stroke-width="3.6"/>
<line x1="241.3" y1="572.9" x2="241.3" y2="626.7" stroke="#000" stroke-width="2.1"/>
<rect x="232.7" y="595.2" width="17.2" height="14.6" fill="#fff" stroke="#000" stroke-width="2.1"/>
<line x1="232.7" y1="602.6" x2="249.9" y2="602.6" stroke="#000" stroke-width="3.6"/>
<line x1="323.9" y1="583" x2="323.9" y2="672.4" stroke="#000" stroke-width="2.1"/>
<rect x="315.3" y="618.2" width="17.2" height="22.2" fill="#fff" stroke="#000" stroke-width="2.1"/>
<line x1="315.3" y1="629.5" x2="332.5" y2="629.5" stroke="#000" stroke-width="3.6"/>
<polyline points="158.8,468.2 158.8,458.2 323.9,458.2 323.9,468.2" fill="none" stroke="#e0383b" stroke-width="1.25"/>
<polyline points="158.8,484.3 158.8,474.3 241.3,474.3 241.3,484.3" fill="none" stroke="#e0383b" stroke-width="1.25"/>
<polyline points="241.3,495.9 241.3,485.9 323.9,485.9 323.9,495.9" fill="none" stroke="#e0383b" stroke-width="1.25"/>
<text x="241.3" y="462.4" font-size="24" fill="#e0383b" text-anchor="middle" textLength="36.4" lengthAdjust="spacingAndGlyphs">****</text>
<text x="200.05" y="478.5" font-size="24" fill="#e0383b" text-anchor="middle" textLength="36.4" lengthAdjust="spacingAndGlyphs">****</text>
<text x="282.6" y="490.1" font-size="24" fill="#e0383b" text-anchor="middle" textLength="36.4" lengthAdjust="spacingAndGlyphs">****</text>
<rect x="421.4" y="411.5" width="262.3" height="30" fill="#d9d9d9" stroke="#333" stroke-width="1.3"/>
<rect x="421.4" y="441.5" width="262.3" height="371.2" fill="#fff" stroke="#4d4d4d" stroke-width="1.3"/>
<line x1="421.4" y1="441.5" x2="683.7" y2="441.5" stroke="#1a1a1a" stroke-width="2"/>
<text x="546.55" y="434.8" font-size="19" fill="#1a1a1a" text-anchor="middle">EPHX2</text>
<line x1="416.9" y1="475.4" x2="421.4" y2="475.4" stroke="#333" stroke-width="1.3"/>
<text x="414.9" y="482" font-size="19" fill="#4d4d4d" text-anchor="end">12.5</text>
<line x1="416.9" y1="561.2" x2="421.4" y2="561.2" stroke="#333" stroke-width="1.3"/>
<text x="414.9" y="567.8" font-size="19" fill="#4d4d4d" text-anchor="end">10.0</text>
<line x1="416.9" y1="647.3" x2="421.4" y2="647.3" stroke="#333" stroke-width="1.3"/>
<text x="414.9" y="653.9" font-size="19" fill="#4d4d4d" text-anchor="end">7.5</text>
<line x1="416.9" y1="734.3" x2="421.4" y2="734.3" stroke="#333" stroke-width="1.3"/>
<text x="414.9" y="740.9" font-size="19" fill="#4d4d4d" text-anchor="end">5.0</text>
<line x1="470.2" y1="812.7" x2="470.2" y2="817.2" stroke="#333" stroke-width="1.3"/>
<line x1="552.7" y1="812.7" x2="552.7" y2="817.2" stroke="#333" stroke-width="1.3"/>
<line x1="635.3" y1="812.7" x2="635.3" y2="817.2" stroke="#333" stroke-width="1.3"/>
<text x="553.55" y="842.2" font-size="21.3" fill="#111" text-anchor="middle" textLength="238" lengthAdjust="spacingAndGlyphs">cluster1 cluster2 Normal</text>
<path d="M470.2,646.8 L470.5,646.8 C470.87,648.28 471.85,652.57 472.7,655.7 C473.55,658.83 473.38,662.63 475.6,665.6 C477.82,668.57 482.37,670.87 486,673.5 C489.63,676.13 494.18,678.43 497.4,681.4 C500.62,684.37 503.33,688 505.3,691.3 C507.27,694.6 509.38,698.57 509.2,701.2 C509.02,703.83 507.23,705.13 504.2,707.1 C501.17,709.07 494.77,710.7 491,713 C487.23,715.3 483.5,718.58 481.6,720.9 C479.7,723.22 480.27,724.92 479.6,726.9 C478.93,728.88 478.67,730.83 477.6,732.8 C476.53,734.77 474.23,736.88 473.2,738.7 C472.17,740.52 471.73,741.48 471.4,743.7 C471.07,745.92 471,749.2 471.2,752 C471.4,754.8 472.57,757.83 472.6,760.5 C472.63,763.17 471.75,765.2 471.4,768 C471.05,770.8 470.65,775.75 470.5,777.3 L470.2,777.3 L469.9,777.3 C469.75,775.75 469.35,770.8 469,768 C468.65,765.2 467.77,763.17 467.8,760.5 C467.83,757.83 469,754.8 469.2,752 C469.4,749.2 469.33,745.92 469,743.7 C468.67,741.48 468.23,740.52 467.2,738.7 C466.17,736.88 463.87,734.77 462.8,732.8 C461.73,730.83 461.47,728.88 460.8,726.9 C460.13,724.92 460.7,723.22 458.8,720.9 C456.9,718.58 453.17,715.3 449.4,713 C445.63,710.7 439.23,709.07 436.2,707.1 C433.17,705.13 431.38,703.83 431.2,701.2 C431.02,698.57 433.13,694.6 435.1,691.3 C437.07,688 439.78,684.37 443,681.4 C446.22,678.43 450.77,676.13 454.4,673.5 C458.03,670.87 462.58,668.57 464.8,665.6 C467.02,662.63 466.85,658.83 467.7,655.7 C468.55,652.57 469.53,648.28 469.9,646.8 Z" fill="#2473b4" stroke="#000" stroke-width="2.3" stroke-linejoin="round"/>
<path d="M552.7,642.9 L553,642.9 C553.28,644.05 553.6,647.67 554.7,649.8 C555.8,651.93 556.63,653.4 559.6,655.7 C562.57,658 568.55,660.97 572.5,663.6 C576.45,666.23 580.17,668.87 583.3,671.5 C586.43,674.13 589.48,677.08 591.3,679.4 C593.12,681.72 594.47,683.42 594.2,685.4 C593.93,687.38 592.42,689 589.7,691.3 C586.98,693.6 581.77,696.57 577.9,699.2 C574.03,701.83 569.55,704.8 566.5,707.1 C563.45,709.4 561.53,711.35 559.6,713 C557.67,714.65 555.85,715.5 554.9,717 C553.95,718.5 553.88,720.35 553.9,722 C553.92,723.65 555.02,725.23 555,726.9 C554.98,728.57 554.13,729.37 553.8,732 C553.47,734.63 553.13,740.92 553,742.7 L552.7,742.7 L552.4,742.7 C552.27,740.92 551.93,734.63 551.6,732 C551.27,729.37 550.42,728.57 550.4,726.9 C550.38,725.23 551.48,723.65 551.5,722 C551.52,720.35 551.45,718.5 550.5,717 C549.55,715.5 547.73,714.65 545.8,713 C543.87,711.35 541.95,709.4 538.9,707.1 C535.85,704.8 531.37,701.83 527.5,699.2 C523.63,696.57 518.42,693.6 515.7,691.3 C512.98,689 511.47,687.38 511.2,685.4 C510.93,683.42 512.28,681.72 514.1,679.4 C515.92,677.08 518.97,674.13 522.1,671.5 C525.23,668.87 528.95,666.23 532.9,663.6 C536.85,660.97 542.83,658 545.8,655.7 C548.77,653.4 549.6,651.93 550.7,649.8 C551.8,647.67 552.12,644.05 552.4,642.9 Z" fill="#f4811f" stroke="#000" stroke-width="2.3" stroke-linejoin="round"/>
<path d="M635.3,657.7 L635.6,657.7 C635.97,659.67 637.18,666.2 637.8,669.5 C638.42,672.8 637.73,674.85 639.3,677.5 C640.87,680.15 643.58,682.45 647.2,685.4 C650.82,688.35 657.22,691.92 661,695.2 C664.78,698.48 667.92,702.45 669.9,705.1 C671.88,707.75 673.4,708.78 672.9,711.1 C672.4,713.42 669.87,716.03 666.9,719 C663.93,721.97 658.38,725.62 655.1,728.9 C651.82,732.18 649.18,735.42 647.2,738.7 C645.22,741.98 644.37,745.3 643.2,748.6 C642.03,751.9 641.28,755.53 640.2,758.5 C639.12,761.47 637.13,764.32 636.7,766.4 C636.27,768.48 637.6,769.57 637.6,771 C637.6,772.43 636.7,773.67 636.7,775 C636.7,776.33 637.67,777.5 637.6,779 C637.53,780.5 636.63,780.98 636.3,784 C635.97,787.02 635.72,794.92 635.6,797.1 L635.3,797.1 L635,797.1 C634.88,794.92 634.63,787.02 634.3,784 C633.97,780.98 633.07,780.5 633,779 C632.93,777.5 633.9,776.33 633.9,775 C633.9,773.67 633,772.43 633,771 C633,769.57 634.33,768.48 633.9,766.4 C633.47,764.32 631.48,761.47 630.4,758.5 C629.32,755.53 628.57,751.9 627.4,748.6 C626.23,745.3 625.38,741.98 623.4,738.7 C621.42,735.42 618.78,732.18 615.5,728.9 C612.22,725.62 606.67,721.97 603.7,719 C600.73,716.03 598.2,713.42 597.7,711.1 C597.2,708.78 598.72,707.75 600.7,705.1 C602.68,702.45 605.82,698.48 609.6,695.2 C613.38,691.92 619.78,688.35 623.4,685.4 C627.02,682.45 629.73,680.15 631.3,677.5 C632.87,674.85 632.18,672.8 632.8,669.5 C633.42,666.2 634.63,659.67 635,657.7 Z" fill="#2f9e38" stroke="#000" stroke-width="2.3" stroke-linejoin="round"/>
<line x1="470.2" y1="663.6" x2="470.2" y2="731.8" stroke="#000" stroke-width="2.1"/>
<rect x="461.6" y="687.9" width="17.2" height="18.8" fill="#fff" stroke="#000" stroke-width="2.1"/>
<line x1="461.6" y1="699.2" x2="478.8" y2="699.2" stroke="#000" stroke-width="3.6"/>
<line x1="552.7" y1="657.7" x2="552.7" y2="709.1" stroke="#000" stroke-width="2.1"/>
<rect x="544.1" y="677.5" width="17.2" height="18.7" fill="#fff" stroke="#000" stroke-width="2.1"/>
<line x1="544.1" y1="686.3" x2="561.3" y2="686.3" stroke="#000" stroke-width="3.6"/>
<line x1="635.3" y1="675.5" x2="635.3" y2="758.5" stroke="#000" stroke-width="2.1"/>
<rect x="626.7" y="703.2" width="17.2" height="23.7" fill="#fff" stroke="#000" stroke-width="2.1"/>
<line x1="626.7" y1="712" x2="643.9" y2="712" stroke="#000" stroke-width="3.6"/>
<polyline points="470.2,468.3 470.2,458.3 635.3,458.3 635.3,468.3" fill="none" stroke="#e0383b" stroke-width="1.25"/>
<polyline points="470.2,482.1 470.2,472.1 552.7,472.1 552.7,482.1" fill="none" stroke="#e0383b" stroke-width="1.25"/>
<polyline points="552.7,492.4 552.7,482.4 635.3,482.4 635.3,492.4" fill="none" stroke="#e0383b" stroke-width="1.25"/>
<text x="552.7" y="462.5" font-size="24" fill="#e0383b" text-anchor="middle" textLength="36.4" lengthAdjust="spacingAndGlyphs">****</text>
<text x="511.45" y="476.3" font-size="24" fill="#e0383b" text-anchor="middle" textLength="36.4" lengthAdjust="spacingAndGlyphs">****</text>
<text x="594" y="486.6" font-size="24" fill="#e0383b" text-anchor="middle" textLength="36.4" lengthAdjust="spacingAndGlyphs">****</text>
<rect x="717.1" y="411.5" width="262" height="30" fill="#d9d9d9" stroke="#333" stroke-width="1.3"/>
<rect x="717.1" y="441.5" width="262" height="371.2" fill="#fff" stroke="#4d4d4d" stroke-width="1.3"/>
<line x1="717.1" y1="441.5" x2="979.1" y2="441.5" stroke="#1a1a1a" stroke-width="2"/>
<text x="842.1" y="434.8" font-size="19" fill="#1a1a1a" text-anchor="middle">GGT5</text>
<line x1="712.6" y1="457.8" x2="717.1" y2="457.8" stroke="#333" stroke-width="1.3"/>
<text x="710.6" y="464.4" font-size="19" fill="#4d4d4d" text-anchor="end">13</text>
<line x1="712.6" y1="546.9" x2="717.1" y2="546.9" stroke="#333" stroke-width="1.3"/>
<text x="710.6" y="553.5" font-size="19" fill="#4d4d4d" text-anchor="end">11</text>
<line x1="712.6" y1="636" x2="717.1" y2="636" stroke="#333" stroke-width="1.3"/>
<text x="710.6" y="642.6" font-size="19" fill="#4d4d4d" text-anchor="end">9</text>
<line x1="712.6" y1="725" x2="717.1" y2="725" stroke="#333" stroke-width="1.3"/>
<text x="710.6" y="731.6" font-size="19" fill="#4d4d4d" text-anchor="end">7</text>
<line x1="765.9" y1="812.7" x2="765.9" y2="817.2" stroke="#333" stroke-width="1.3"/>
<line x1="848.4" y1="812.7" x2="848.4" y2="817.2" stroke="#333" stroke-width="1.3"/>
<line x1="931" y1="812.7" x2="931" y2="817.2" stroke="#333" stroke-width="1.3"/>
<text x="849.1" y="842.2" font-size="21.3" fill="#111" text-anchor="middle" textLength="238" lengthAdjust="spacingAndGlyphs">cluster1 cluster2 Normal</text>
<path d="M765.9,675.7 L766.2,675.7 C766.35,676.75 766.82,679.7 767.1,682 C767.38,684.3 767.7,687.67 767.9,689.5 C768.1,691.33 767.57,691.35 768.3,693 C769.03,694.65 769.48,696.68 772.3,699.4 C775.12,702.12 780.92,706 785.2,709.3 C789.48,712.6 794.72,715.9 798,719.2 C801.28,722.5 803.35,726.47 804.9,729.1 C806.45,731.73 807.47,733.03 807.3,735 C807.13,736.97 806.43,738.27 803.9,740.9 C801.37,743.53 796.05,747.5 792.1,750.8 C788.15,754.1 783.5,757.4 780.2,760.7 C776.9,764 774.27,767.63 772.3,770.6 C770.33,773.57 769.42,775.37 768.4,778.5 C767.38,781.63 766.57,787.58 766.2,789.4 L765.9,789.4 L765.6,789.4 C765.23,787.58 764.42,781.63 763.4,778.5 C762.38,775.37 761.47,773.57 759.5,770.6 C757.53,767.63 754.9,764 751.6,760.7 C748.3,757.4 743.65,754.1 739.7,750.8 C735.75,747.5 730.43,743.53 727.9,740.9 C725.37,738.27 724.67,736.97 724.5,735 C724.33,733.03 725.35,731.73 726.9,729.1 C728.45,726.47 730.52,722.5 733.8,719.2 C737.08,715.9 742.32,712.6 746.6,709.3 C750.88,706 756.68,702.12 759.5,699.4 C762.32,696.68 762.77,694.65 763.5,693 C764.23,691.35 763.7,691.33 763.9,689.5 C764.1,687.67 764.42,684.3 764.7,682 C764.98,679.7 765.45,676.75 765.6,675.7 Z" fill="#2473b4" stroke="#000" stroke-width="2.3" stroke-linejoin="round"/>
<path d="M848.4,680.6 L848.7,680.6 C848.9,682.17 849.57,687.2 849.9,690 C850.23,692.8 850.73,695.23 850.7,697.4 C850.67,699.57 849.75,701.02 849.7,703 C849.65,704.98 849.55,706.93 850.4,709.3 C851.25,711.67 851.52,714.57 854.8,717.2 C858.08,719.83 865.65,722.47 870.1,725.1 C874.55,727.73 878.82,730.37 881.5,733 C884.18,735.63 885.32,738.58 886.2,740.9 C887.08,743.22 887.12,744.92 886.8,746.9 C886.48,748.88 884.9,750.83 884.3,752.8 C883.7,754.77 884.57,756.4 883.2,758.7 C881.83,761 879.77,763.95 876.1,766.6 C872.43,769.25 865.32,771.63 861.2,774.6 C857.08,777.57 853.48,780.62 851.4,784.4 C849.32,788.18 849.15,795.15 848.7,797.3 L848.4,797.3 L848.1,797.3 C847.65,795.15 847.48,788.18 845.4,784.4 C843.32,780.62 839.72,777.57 835.6,774.6 C831.48,771.63 824.37,769.25 820.7,766.6 C817.03,763.95 814.97,761 813.6,758.7 C812.23,756.4 813.1,754.77 812.5,752.8 C811.9,750.83 810.32,748.88 810,746.9 C809.68,744.92 809.72,743.22 810.6,740.9 C811.48,738.58 812.62,735.63 815.3,733 C817.98,730.37 822.25,727.73 826.7,725.1 C831.15,722.47 838.72,719.83 842,717.2 C845.28,714.57 845.55,711.67 846.4,709.3 C847.25,706.93 847.15,704.98 847.1,703 C847.05,701.02 846.13,699.57 846.1,697.4 C846.07,695.23 846.57,692.8 846.9,690 C847.23,687.2 847.9,682.17 848.1,680.6 Z" fill="#f4811f" stroke="#000" stroke-width="2.3" stroke-linejoin="round"/>
<path d="M931,655.9 L931.3,655.9 C931.75,657.55 932.4,662.83 934,665.8 C935.6,668.77 937.78,671.07 940.9,673.7 C944.02,676.33 949.25,678.97 952.7,681.6 C956.15,684.23 959.03,686.53 961.6,689.5 C964.17,692.47 966.45,696.1 968.1,699.4 C969.75,702.7 972,706.33 971.5,709.3 C971,712.27 968.07,714.57 965.1,717.2 C962.13,719.83 957.4,722.47 953.7,725.1 C950,727.73 945.85,729.7 942.9,733 C939.95,736.3 937.58,741.6 936,744.9 C934.42,748.2 933.87,750.5 933.4,752.8 C932.93,755.1 933.43,756.07 933.2,758.7 C932.97,761.33 932.32,764.97 932,768.6 C931.68,772.23 931.42,778.52 931.3,780.5 L931,780.5 L930.7,780.5 C930.58,778.52 930.32,772.23 930,768.6 C929.68,764.97 929.03,761.33 928.8,758.7 C928.57,756.07 929.07,755.1 928.6,752.8 C928.13,750.5 927.58,748.2 926,744.9 C924.42,741.6 922.05,736.3 919.1,733 C916.15,729.7 912,727.73 908.3,725.1 C904.6,722.47 899.87,719.83 896.9,717.2 C893.93,714.57 891,712.27 890.5,709.3 C890,706.33 892.25,702.7 893.9,699.4 C895.55,696.1 897.83,692.47 900.4,689.5 C902.97,686.53 905.85,684.23 909.3,681.6 C912.75,678.97 917.98,676.33 921.1,673.7 C924.22,671.07 926.4,668.77 928,665.8 C929.6,662.83 930.25,657.55 930.7,655.9 Z" fill="#2f9e38" stroke="#000" stroke-width="2.3" stroke-linejoin="round"/>
<line x1="765.9" y1="705.4" x2="765.9" y2="769.6" stroke="#000" stroke-width="2.1"/>
<rect x="757.3" y="725.1" width="17.2" height="21.8" fill="#fff" stroke="#000" stroke-width="2.1"/>
<line x1="757.3" y1="736" x2="774.5" y2="736" stroke="#000" stroke-width="3.6"/>
<line x1="848.4" y1="716.2" x2="848.4" y2="779.5" stroke="#000" stroke-width="2.1"/>
<rect x="839.8" y="737" width="17.2" height="25.1" fill="#fff" stroke="#000" stroke-width="2.1"/>
<line x1="839.8" y1="748.9" x2="857" y2="748.9" stroke="#000" stroke-width="3.6"/>
<line x1="931" y1="673.7" x2="931" y2="750.8" stroke="#000" stroke-width="2.1"/>
<rect x="922.4" y="695.1" width="17.2" height="23.1" fill="#fff" stroke="#000" stroke-width="2.1"/>
<line x1="922.4" y1="708.3" x2="939.6" y2="708.3" stroke="#000" stroke-width="3.6"/>
<polyline points="765.9,468.3 765.9,458.3 931,458.3 931,468.3" fill="none" stroke="#e0383b" stroke-width="1.25"/>
<polyline points="765.9,485.9 765.9,475.9 848.4,475.9 848.4,485.9" fill="none" stroke="#e0383b" stroke-width="1.25"/>
<polyline points="848.4,499.2 848.4,489.2 931,489.2 931,499.2" fill="none" stroke="#e0383b" stroke-width="1.25"/>
<text x="848.4" y="462.5" font-size="24" fill="#e0383b" text-anchor="middle" textLength="36.4" lengthAdjust="spacingAndGlyphs">****</text>
<text x="807.15" y="480.1" font-size="24" fill="#e0383b" text-anchor="middle" textLength="36.4" lengthAdjust="spacingAndGlyphs">****</text>
<text x="889.7" y="493.4" font-size="24" fill="#e0383b" text-anchor="middle" textLength="36.4" lengthAdjust="spacingAndGlyphs">****</text>
<rect x="1012.6" y="411.5" width="262.7" height="30" fill="#d9d9d9" stroke="#333" stroke-width="1.3"/>
<rect x="1012.6" y="441.5" width="262.7" height="371.2" fill="#fff" stroke="#4d4d4d" stroke-width="1.3"/>
<line x1="1012.6" y1="441.5" x2="1275.3" y2="441.5" stroke="#1a1a1a" stroke-width="2"/>
<text x="1137.95" y="434.8" font-size="19" fill="#1a1a1a" text-anchor="middle">PLA2G2A</text>
<line x1="1008.1" y1="496.2" x2="1012.6" y2="496.2" stroke="#333" stroke-width="1.3"/>
<text x="1006.1" y="502.8" font-size="19" fill="#4d4d4d" text-anchor="end">12</text>
<line x1="1008.1" y1="573.2" x2="1012.6" y2="573.2" stroke="#333" stroke-width="1.3"/>
<text x="1006.1" y="579.8" font-size="19" fill="#4d4d4d" text-anchor="end">10</text>
<line x1="1008.1" y1="650.5" x2="1012.6" y2="650.5" stroke="#333" stroke-width="1.3"/>
<text x="1006.1" y="657.1" font-size="19" fill="#4d4d4d" text-anchor="end">8</text>
<line x1="1008.1" y1="727.6" x2="1012.6" y2="727.6" stroke="#333" stroke-width="1.3"/>
<text x="1006.1" y="734.2" font-size="19" fill="#4d4d4d" text-anchor="end">6</text>
<line x1="1008.1" y1="804.1" x2="1012.6" y2="804.1" stroke="#333" stroke-width="1.3"/>
<text x="1006.1" y="810.7" font-size="19" fill="#4d4d4d" text-anchor="end">4</text>
<line x1="1061.4" y1="812.7" x2="1061.4" y2="817.2" stroke="#333" stroke-width="1.3"/>
<line x1="1143.9" y1="812.7" x2="1143.9" y2="817.2" stroke="#333" stroke-width="1.3"/>
<line x1="1226.5" y1="812.7" x2="1226.5" y2="817.2" stroke="#333" stroke-width="1.3"/>
<text x="1144.95" y="842.2" font-size="21.3" fill="#111" text-anchor="middle" textLength="238" lengthAdjust="spacingAndGlyphs">cluster1 cluster2 Normal</text>
<path d="M1061.4,493.6 L1061.7,493.6 C1061.85,495.5 1062.32,501.37 1062.6,505 C1062.88,508.63 1062.87,512.03 1063.4,515.4 C1063.93,518.77 1064.65,519.6 1065.8,525.2 C1066.95,530.8 1068.88,541.75 1070.3,549 C1071.72,556.25 1073.07,562.12 1074.3,568.7 C1075.53,575.28 1076.8,581.9 1077.7,588.5 C1078.6,595.1 1078.63,602.37 1079.7,608.3 C1080.77,614.23 1082.05,619.82 1084.1,624.1 C1086.15,628.38 1089.77,630.7 1092,634 C1094.23,637.3 1096.27,641.1 1097.5,643.9 C1098.73,646.7 1099.98,648.17 1099.4,650.8 C1098.82,653.43 1096.72,656.57 1094,659.7 C1091.28,662.83 1086.88,666.3 1083.1,669.6 C1079.32,672.9 1074.25,676.53 1071.3,679.5 C1068.35,682.47 1066.72,684.45 1065.4,687.4 C1064.08,690.35 1064.02,693.25 1063.4,697.2 C1062.78,701.15 1061.98,708.78 1061.7,711.1 L1061.4,711.1 L1061.1,711.1 C1060.82,708.78 1060.02,701.15 1059.4,697.2 C1058.78,693.25 1058.72,690.35 1057.4,687.4 C1056.08,684.45 1054.45,682.47 1051.5,679.5 C1048.55,676.53 1043.48,672.9 1039.7,669.6 C1035.92,666.3 1031.52,662.83 1028.8,659.7 C1026.08,656.57 1023.98,653.43 1023.4,650.8 C1022.82,648.17 1024.07,646.7 1025.3,643.9 C1026.53,641.1 1028.57,637.3 1030.8,634 C1033.03,630.7 1036.65,628.38 1038.7,624.1 C1040.75,619.82 1042.03,614.23 1043.1,608.3 C1044.17,602.37 1044.2,595.1 1045.1,588.5 C1046,581.9 1047.27,575.28 1048.5,568.7 C1049.73,562.12 1051.08,556.25 1052.5,549 C1053.92,541.75 1055.85,530.8 1057,525.2 C1058.15,519.6 1058.87,518.77 1059.4,515.4 C1059.93,512.03 1059.92,508.63 1060.2,505 C1060.48,501.37 1060.95,495.5 1061.1,493.6 Z" fill="#2473b4" stroke="#000" stroke-width="2.3" stroke-linejoin="round"/>
<path d="M1143.9,640.9 L1144.2,640.9 C1144.48,642.88 1144.72,650 1145.9,652.8 C1147.08,655.6 1148.17,655.57 1151.3,657.7 C1154.43,659.83 1161.57,662.97 1164.7,665.6 C1167.83,668.23 1168.95,670.87 1170.1,673.5 C1171.25,676.13 1170.78,678.1 1171.6,681.4 C1172.42,684.7 1173.6,689.02 1175,693.3 C1176.4,697.58 1178.6,703.15 1180,707.1 C1181.4,711.05 1182.52,713.37 1183.4,717 C1184.28,720.63 1185.45,725.6 1185.3,728.9 C1185.15,732.2 1184.87,733.83 1182.5,736.8 C1180.13,739.77 1175.32,743.4 1171.1,746.7 C1166.88,750 1161,753.32 1157.2,756.6 C1153.4,759.88 1150.1,763.12 1148.3,766.4 C1146.5,769.68 1147.08,771.35 1146.4,776.3 C1145.72,781.25 1144.57,792.8 1144.2,796.1 L1143.9,796.1 L1143.6,796.1 C1143.23,792.8 1142.08,781.25 1141.4,776.3 C1140.72,771.35 1141.3,769.68 1139.5,766.4 C1137.7,763.12 1134.4,759.88 1130.6,756.6 C1126.8,753.32 1120.92,750 1116.7,746.7 C1112.48,743.4 1107.67,739.77 1105.3,736.8 C1102.93,733.83 1102.65,732.2 1102.5,728.9 C1102.35,725.6 1103.52,720.63 1104.4,717 C1105.28,713.37 1106.4,711.05 1107.8,707.1 C1109.2,703.15 1111.4,697.58 1112.8,693.3 C1114.2,689.02 1115.38,684.7 1116.2,681.4 C1117.02,678.1 1116.55,676.13 1117.7,673.5 C1118.85,670.87 1119.97,668.23 1123.1,665.6 C1126.23,662.97 1133.37,659.83 1136.5,657.7 C1139.63,655.57 1140.72,655.6 1141.9,652.8 C1143.08,650 1143.32,642.88 1143.6,640.9 Z" fill="#f4811f" stroke="#000" stroke-width="2.3" stroke-linejoin="round"/>
<path d="M1226.5,467.9 L1226.8,467.9 C1226.95,472.52 1227.42,487.03 1227.7,495.6 C1227.98,504.17 1228.03,513.7 1228.5,519.3 C1228.97,524.9 1229.18,525.9 1230.5,529.2 C1231.82,532.5 1234.1,535.15 1236.4,539.1 C1238.7,543.05 1242.08,547.97 1244.3,552.9 C1246.52,557.83 1248.43,562.77 1249.7,568.7 C1250.97,574.63 1251.9,581.9 1251.9,588.5 C1251.9,595.1 1250.8,601.72 1249.7,608.3 C1248.6,614.88 1246.7,621.42 1245.3,628 C1243.9,634.58 1242.87,641.2 1241.3,647.8 C1239.73,654.4 1237.7,661 1235.9,667.6 C1234.1,674.2 1231.7,682.47 1230.5,687.4 C1229.3,692.33 1229.18,694.27 1228.7,697.2 C1228.22,700.13 1227.83,698.4 1227.6,705 C1227.37,711.6 1227.12,730.8 1227.3,736.8 C1227.48,742.8 1228.7,739.63 1228.7,741 C1228.7,742.37 1227.57,737.17 1227.3,745 C1227.03,752.83 1227.18,780.15 1227.1,788 C1227.02,795.85 1226.85,791.42 1226.8,792.1 L1226.5,792.1 L1226.2,792.1 C1226.15,791.42 1225.98,795.85 1225.9,788 C1225.82,780.15 1225.97,752.83 1225.7,745 C1225.43,737.17 1224.3,742.37 1224.3,741 C1224.3,739.63 1225.52,742.8 1225.7,736.8 C1225.88,730.8 1225.63,711.6 1225.4,705 C1225.17,698.4 1224.78,700.13 1224.3,697.2 C1223.82,694.27 1223.7,692.33 1222.5,687.4 C1221.3,682.47 1218.9,674.2 1217.1,667.6 C1215.3,661 1213.27,654.4 1211.7,647.8 C1210.13,641.2 1209.1,634.58 1207.7,628 C1206.3,621.42 1204.4,614.88 1203.3,608.3 C1202.2,601.72 1201.1,595.1 1201.1,588.5 C1201.1,581.9 1202.03,574.63 1203.3,568.7 C1204.57,562.77 1206.48,557.83 1208.7,552.9 C1210.92,547.97 1214.3,543.05 1216.6,539.1 C1218.9,535.15 1221.18,532.5 1222.5,529.2 C1223.82,525.9 1224.03,524.9 1224.5,519.3 C1224.97,513.7 1225.02,504.17 1225.3,495.6 C1225.58,487.03 1226.05,472.52 1226.2,467.9 Z" fill="#2f9e38" stroke="#000" stroke-width="2.3" stroke-linejoin="round"/>
<line x1="1061.4" y1="537.1" x2="1061.4" y2="667.6" stroke="#000" stroke-width="2.1"/>
<rect x="1052.8" y="602.3" width="17.2" height="49.9" fill="#fff" stroke="#000" stroke-width="2.1"/>
<line x1="1052.8" y1="640.3" x2="1070" y2="640.3" stroke="#000" stroke-width="3.6"/>
<line x1="1143.9" y1="666.6" x2="1143.9" y2="762.5" stroke="#000" stroke-width="2.1"/>
<rect x="1135.3" y="691.3" width="17.2" height="39.6" fill="#fff" stroke="#000" stroke-width="2.1"/>
<line x1="1135.3" y1="712.7" x2="1152.5" y2="712.7" stroke="#000" stroke-width="3.6"/>
<line x1="1226.5" y1="523.3" x2="1226.5" y2="697.2" stroke="#000" stroke-width="2.1"/>
<rect x="1217.9" y="580" width="17.2" height="56" fill="#fff" stroke="#000" stroke-width="2.1"/>
<line x1="1217.9" y1="606.3" x2="1235.1" y2="606.3" stroke="#000" stroke-width="3.6"/>
<polyline points="1061.4,468.3 1061.4,458.3 1226.5,458.3 1226.5,468.3" fill="none" stroke="#e0383b" stroke-width="1.25"/>
<polyline points="1061.4,483.3 1061.4,473.3 1143.9,473.3 1143.9,483.3" fill="none" stroke="#e0383b" stroke-width="1.25"/>
<polyline points="1143.9,494.9 1143.9,484.9 1226.5,484.9 1226.5,494.9" fill="none" stroke="#e0383b" stroke-width="1.25"/>
<text x="1143.9" y="462.5" font-size="24" fill="#e0383b" text-anchor="middle" textLength="18.2" lengthAdjust="spacingAndGlyphs">**</text>
<text x="1102.65" y="477.5" font-size="24" fill="#e0383b" text-anchor="middle" textLength="36.4" lengthAdjust="spacingAndGlyphs">****</text>
<text x="1185.2" y="489.1" font-size="24" fill="#e0383b" text-anchor="middle" textLength="36.4" lengthAdjust="spacingAndGlyphs">****</text>
<text x="4.8" y="939.5" font-size="42" fill="#231f20" textLength="15.5" lengthAdjust="spacingAndGlyphs" stroke="#231f20" stroke-width="0.9">F</text>
<rect x="169.5" y="931.5" width="212.2" height="20" fill="#cd1a1e"/>
<rect x="381.7" y="931.5" width="414.1" height="20" fill="#4db3cc"/>
<text x="802.4" y="945.8" font-size="22" fill="#1a1a1a" textLength="93.6" lengthAdjust="spacingAndGlyphs">Subtype</text>
<g shape-rendering="crispEdges">
<path fill="#fbeeee" d="M169.5 957.3h5.89v24.75h-5.89zM184.24 957.3h2.95v24.75h-2.95zM196.03 957.3h2.95v24.75h-2.95zM204.87 957.3h2.95v24.75h-2.95zM278.55 957.3h2.95v24.75h-2.95zM454.6 957.3h2.92v24.75h-2.92zM504.18 957.3h2.92v24.75h-2.92zM545.01 957.3h2.92v24.75h-2.92zM588.75 957.3h2.92v24.75h-2.92zM623.74 957.3h2.92v24.75h-2.92zM649.99 957.3h2.92v24.75h-2.92zM705.4 957.3h2.92v24.75h-2.92zM169.5 982.05h5.89v24.75h-5.89zM184.24 982.05h2.95v24.75h-2.95zM219.6 982.05h2.95v24.75h-2.95zM237.29 982.05h2.95v24.75h-2.95zM287.39 982.05h2.95v24.75h-2.95zM390.45 982.05h2.92v24.75h-2.92zM425.44 982.05h2.92v24.75h-2.92zM615 982.05h2.92v24.75h-2.92zM699.57 982.05h2.92v24.75h-2.92zM737.48 982.05h2.92v24.75h-2.92zM766.64 982.05h2.92v24.75h-2.92zM784.14 982.05h2.92v24.75h-2.92zM169.5 1006.8h5.89v24.75h-5.89zM190.13 1006.8h2.95v24.75h-2.95zM302.12 1006.8h2.95v24.75h-2.95zM308.02 1006.8h2.95v24.75h-2.95zM322.76 1006.8h2.95v24.75h-2.95zM331.6 1006.8h2.95v24.75h-2.95zM343.39 1006.8h2.95v24.75h-2.95zM454.6 1006.8h2.92v24.75h-2.92zM463.35 1006.8h2.92v24.75h-2.92zM565.42 1006.8h5.83v24.75h-5.83zM606.25 1006.8h2.92v24.75h-2.92zM641.24 1006.8h2.92v24.75h-2.92zM752.06 1006.8h2.92v24.75h-2.92zM789.97 1006.8h2.92v24.75h-2.92zM169.5 1031.55h5.89v24.75h-5.89zM187.18 1031.55h2.95v24.75h-2.95zM234.34 1031.55h2.95v24.75h-2.95zM343.39 1031.55h2.95v24.75h-2.95zM393.36 1031.55h2.92v24.75h-2.92zM410.86 1031.55h2.92v24.75h-2.92zM483.77 1031.55h2.92v24.75h-2.92zM510.01 1031.55h2.92v24.75h-2.92zM609.16 1031.55h2.92v24.75h-2.92zM638.33 1031.55h2.92v24.75h-2.92zM664.57 1031.55h2.92v24.75h-2.92zM737.48 1031.55h2.92v24.75h-2.92zM754.97 1031.55h5.83v24.75h-5.83zM169.5 1056.3h5.89v24.75h-5.89zM325.7 1056.3h2.95v24.75h-2.95zM483.77 1056.3h2.92v24.75h-2.92zM530.43 1056.3h2.92v24.75h-2.92zM658.74 1056.3h2.92v24.75h-2.92zM789.97 1056.3h2.92v24.75h-2.92zM169.5 1081.05h5.89v24.75h-5.89zM184.24 1081.05h2.95v24.75h-2.95zM222.55 1081.05h2.95v24.75h-2.95zM308.02 1081.05h2.95v24.75h-2.95zM340.44 1081.05h2.95v24.75h-2.95zM606.25 1081.05h2.92v24.75h-2.92zM641.24 1081.05h2.92v24.75h-2.92zM649.99 1081.05h2.92v24.75h-2.92zM705.4 1081.05h2.92v24.75h-2.92zM787.05 1081.05h5.83v24.75h-5.83zM169.5 1105.8h5.89v24.75h-5.89zM184.24 1105.8h2.95v24.75h-2.95zM190.13 1105.8h2.95v24.75h-2.95zM207.81 1105.8h2.95v24.75h-2.95zM246.13 1105.8h2.95v24.75h-2.95zM272.65 1105.8h2.95v24.75h-2.95zM293.28 1105.8h5.89v24.75h-5.89zM305.07 1105.8h2.95v24.75h-2.95zM352.23 1105.8h5.89v24.75h-5.89zM387.53 1105.8h2.92v24.75h-2.92zM410.86 1105.8h2.92v24.75h-2.92zM428.36 1105.8h2.92v24.75h-2.92zM460.44 1105.8h2.92v24.75h-2.92zM547.92 1105.8h2.92v24.75h-2.92zM585.83 1105.8h2.92v24.75h-2.92zM169.5 1130.55h5.89v24.75h-5.89zM201.92 1130.55h2.95v24.75h-2.95zM207.81 1130.55h2.95v24.75h-2.95zM237.29 1130.55h2.95v24.75h-2.95zM272.65 1130.55h5.89v24.75h-5.89zM565.42 1130.55h2.92v24.75h-2.92zM623.74 1130.55h2.92v24.75h-2.92zM649.99 1130.55h2.92v24.75h-2.92zM655.82 1130.55h2.92v24.75h-2.92zM754.97 1130.55h2.92v24.75h-2.92zM169.5 1155.3h5.89v24.75h-5.89zM322.76 1155.3h2.95v24.75h-2.95zM355.17 1155.3h2.95v24.75h-2.95zM384.62 1155.3h2.92v24.75h-2.92zM393.36 1155.3h2.92v24.75h-2.92zM515.85 1155.3h2.92v24.75h-2.92zM591.67 1155.3h2.92v24.75h-2.92zM658.74 1155.3h2.92v24.75h-2.92zM169.5 1180.05h5.89v24.75h-5.89zM228.44 1180.05h2.95v24.75h-2.95zM275.6 1180.05h2.95v24.75h-2.95zM334.54 1180.05h2.95v24.75h-2.95zM381.7 1180.05h2.92v24.75h-2.92zM440.02 1180.05h2.92v24.75h-2.92zM451.69 1180.05h2.92v24.75h-2.92zM492.52 1180.05h2.92v24.75h-2.92zM530.43 1180.05h2.92v24.75h-2.92zM585.83 1180.05h2.92v24.75h-2.92zM626.66 1180.05h2.92v24.75h-2.92zM717.06 1180.05h2.92v24.75h-2.92zM766.64 1180.05h2.92v24.75h-2.92zM792.88 1180.05h2.92v24.75h-2.92zM169.5 1204.8h8.84v24.75h-8.84zM181.29 1204.8h5.89v24.75h-5.89zM246.13 1204.8h2.95v24.75h-2.95zM293.28 1204.8h2.95v24.75h-2.95zM325.7 1204.8h2.95v24.75h-2.95zM413.78 1204.8h2.92v24.75h-2.92zM530.43 1204.8h2.92v24.75h-2.92zM547.92 1204.8h2.92v24.75h-2.92zM600.41 1204.8h2.92v24.75h-2.92zM684.98 1204.8h5.83v24.75h-5.83zM699.57 1204.8h2.92v24.75h-2.92zM711.23 1204.8h2.92v24.75h-2.92zM169.5 1229.55h5.89v24.75h-5.89zM184.24 1229.55h2.95v24.75h-2.95zM252.02 1229.55h2.95v24.75h-2.95zM275.6 1229.55h2.95v24.75h-2.95zM313.91 1229.55h2.95v24.75h-2.95zM372.86 1229.55h2.95v24.75h-2.95zM410.86 1229.55h2.92v24.75h-2.92zM562.5 1229.55h2.92v24.75h-2.92zM708.31 1229.55h2.92v24.75h-2.92zM725.81 1229.55h2.92v24.75h-2.92zM740.39 1229.55h2.92v24.75h-2.92zM766.64 1229.55h2.92v24.75h-2.92zM169.5 1254.3h5.89v24.75h-5.89zM340.44 1254.3h2.95v24.75h-2.95zM361.07 1254.3h2.95v24.75h-2.95zM372.86 1254.3h2.95v24.75h-2.95zM413.78 1254.3h2.92v24.75h-2.92zM588.75 1254.3h2.92v24.75h-2.92zM626.66 1254.3h2.92v24.75h-2.92zM746.22 1254.3h2.92v24.75h-2.92zM754.97 1254.3h2.92v24.75h-2.92zM766.64 1254.3h2.92v24.75h-2.92zM789.97 1254.3h2.92v24.75h-2.92zM169.5 1279.05h5.89v24.75h-5.89zM216.66 1279.05h2.95v24.75h-2.95zM222.55 1279.05h2.95v24.75h-2.95zM266.76 1279.05h2.95v24.75h-2.95zM322.76 1279.05h2.95v24.75h-2.95zM331.6 1279.05h2.95v24.75h-2.95zM364.02 1279.05h2.95v24.75h-2.95zM475.02 1279.05h2.92v24.75h-2.92zM524.59 1279.05h5.83v24.75h-5.83zM545.01 1279.05h2.92v24.75h-2.92zM582.92 1279.05h2.92v24.75h-2.92zM588.75 1279.05h2.92v24.75h-2.92zM766.64 1279.05h2.92v24.75h-2.92zM792.88 1279.05h2.92v24.75h-2.92zM169.5 1303.8h5.89v24.75h-5.89zM201.92 1303.8h2.95v24.75h-2.95zM252.02 1303.8h2.95v24.75h-2.95zM266.76 1303.8h2.95v24.75h-2.95zM369.91 1303.8h2.95v24.75h-2.95zM454.6 1303.8h2.92v24.75h-2.92zM475.02 1303.8h5.83v24.75h-5.83zM545.01 1303.8h2.92v24.75h-2.92zM550.84 1303.8h2.92v24.75h-2.92zM565.42 1303.8h2.92v24.75h-2.92zM655.82 1303.8h2.92v24.75h-2.92zM664.57 1303.8h2.92v24.75h-2.92zM684.98 1303.8h2.92v24.75h-2.92zM719.98 1303.8h2.92v24.75h-2.92zM728.73 1303.8h2.92v24.75h-2.92zM784.14 1303.8h2.92v24.75h-2.92zM792.88 1303.8h2.92v24.75h-2.92zM169.5 1328.55h5.89v24.75h-5.89zM222.55 1328.55h2.95v24.75h-2.95zM246.13 1328.55h2.95v24.75h-2.95zM278.55 1328.55h2.95v24.75h-2.95zM293.28 1328.55h2.95v24.75h-2.95zM316.86 1328.55h2.95v24.75h-2.95zM361.07 1328.55h2.95v24.75h-2.95zM445.86 1328.55h2.92v24.75h-2.92zM792.88 1328.55h2.92v24.75h-2.92zM169.5 1353.3h8.84v24.75h-8.84zM184.24 1353.3h2.95v24.75h-2.95zM225.5 1353.3h2.95v24.75h-2.95zM254.97 1353.3h2.95v24.75h-2.95zM269.71 1353.3h2.95v24.75h-2.95zM331.6 1353.3h2.95v24.75h-2.95zM361.07 1353.3h2.95v24.75h-2.95zM372.86 1353.3h2.95v24.75h-2.95zM410.86 1353.3h2.92v24.75h-2.92zM475.02 1353.3h2.92v24.75h-2.92zM545.01 1353.3h2.92v24.75h-2.92zM606.25 1353.3h2.92v24.75h-2.92zM652.91 1353.3h2.92v24.75h-2.92zM737.48 1353.3h2.92v24.75h-2.92zM169.5 1378.05h5.89v24.75h-5.89zM198.97 1378.05h2.95v24.75h-2.95zM234.34 1378.05h2.95v24.75h-2.95zM246.13 1378.05h2.95v24.75h-2.95zM269.71 1378.05h5.89v24.75h-5.89zM287.39 1378.05h5.89v24.75h-5.89zM310.97 1378.05h2.95v24.75h-2.95zM337.49 1378.05h2.95v24.75h-2.95zM352.23 1378.05h2.95v24.75h-2.95zM372.86 1378.05h2.95v24.75h-2.95zM466.27 1378.05h5.83v24.75h-5.83zM524.59 1378.05h2.92v24.75h-2.92zM658.74 1378.05h2.92v24.75h-2.92zM169.5 1402.8h5.89v24.75h-5.89zM375.81 1402.8h2.95v24.75h-2.95zM384.62 1402.8h2.92v24.75h-2.92zM413.78 1402.8h2.92v24.75h-2.92zM463.35 1402.8h5.83v24.75h-5.83zM588.75 1402.8h2.92v24.75h-2.92zM600.41 1402.8h2.92v24.75h-2.92zM655.82 1402.8h2.92v24.75h-2.92zM740.39 1402.8h2.92v24.75h-2.92zM754.97 1402.8h2.92v24.75h-2.92zM169.5 1427.55h5.89v24.75h-5.89zM222.55 1427.55h2.95v24.75h-2.95zM260.86 1427.55h2.95v24.75h-2.95zM325.7 1427.55h2.95v24.75h-2.95zM372.86 1427.55h2.95v24.75h-2.95zM440.02 1427.55h2.92v24.75h-2.92zM463.35 1427.55h2.92v24.75h-2.92zM477.93 1427.55h2.92v24.75h-2.92zM545.01 1427.55h2.92v24.75h-2.92zM737.48 1427.55h2.92v24.75h-2.92zM787.05 1427.55h2.92v24.75h-2.92zM169.5 1452.3h5.89v24.75h-5.89zM204.87 1452.3h2.95v24.75h-2.95zM222.55 1452.3h2.95v24.75h-2.95zM269.71 1452.3h2.95v24.75h-2.95zM316.86 1452.3h2.95v24.75h-2.95zM334.54 1452.3h2.95v24.75h-2.95zM355.17 1452.3h2.95v24.75h-2.95zM475.02 1452.3h2.92v24.75h-2.92zM585.83 1452.3h2.92v24.75h-2.92zM787.05 1452.3h2.92v24.75h-2.92zM169.5 1477.05h5.89v24.75h-5.89zM254.97 1477.05h2.95v24.75h-2.95zM275.6 1477.05h2.95v24.75h-2.95zM287.39 1477.05h2.95v24.75h-2.95zM302.12 1477.05h2.95v24.75h-2.95zM372.86 1477.05h2.95v24.75h-2.95zM384.62 1477.05h2.92v24.75h-2.92zM492.52 1477.05h2.92v24.75h-2.92zM512.93 1477.05h5.83v24.75h-5.83zM527.51 1477.05h2.92v24.75h-2.92zM565.42 1477.05h2.92v24.75h-2.92zM571.25 1477.05h2.92v24.75h-2.92zM623.74 1477.05h8.75v24.75h-8.75zM655.82 1477.05h2.92v24.75h-2.92zM687.9 1477.05h2.92v24.75h-2.92zM699.57 1477.05h2.92v24.75h-2.92zM749.14 1477.05h2.92v24.75h-2.92zM754.97 1477.05h2.92v24.75h-2.92zM169.5 1501.8h5.89v24.75h-5.89zM213.71 1501.8h2.95v24.75h-2.95zM254.97 1501.8h2.95v24.75h-2.95zM269.71 1501.8h2.95v24.75h-2.95zM343.39 1501.8h2.95v24.75h-2.95zM364.02 1501.8h2.95v24.75h-2.95zM410.86 1501.8h2.92v24.75h-2.92zM507.1 1501.8h2.92v24.75h-2.92zM524.59 1501.8h2.92v24.75h-2.92zM588.75 1501.8h2.92v24.75h-2.92zM638.33 1501.8h2.92v24.75h-2.92zM655.82 1501.8h2.92v24.75h-2.92zM737.48 1501.8h2.92v24.75h-2.92zM754.97 1501.8h2.92v24.75h-2.92zM766.64 1501.8h2.92v24.75h-2.92zM792.88 1501.8h2.92v24.75h-2.92zM169.5 1526.55h5.89v24.75h-5.89zM204.87 1526.55h2.95v24.75h-2.95zM240.23 1526.55h2.95v24.75h-2.95zM272.65 1526.55h2.95v24.75h-2.95zM387.53 1526.55h2.92v24.75h-2.92zM483.77 1526.55h2.92v24.75h-2.92zM568.34 1526.55h2.92v24.75h-2.92zM652.91 1526.55h2.92v24.75h-2.92zM658.74 1526.55h2.92v24.75h-2.92zM687.9 1526.55h2.92v24.75h-2.92zM757.89 1526.55h2.92v24.75h-2.92zM789.97 1526.55h2.92v24.75h-2.92zM169.5 1551.3h5.89v24.75h-5.89zM181.29 1551.3h2.95v24.75h-2.95zM201.92 1551.3h2.95v24.75h-2.95zM228.44 1551.3h2.95v24.75h-2.95zM237.29 1551.3h2.95v24.75h-2.95zM266.76 1551.3h2.95v24.75h-2.95zM316.86 1551.3h2.95v24.75h-2.95zM337.49 1551.3h2.95v24.75h-2.95zM355.17 1551.3h2.95v24.75h-2.95zM413.78 1551.3h2.92v24.75h-2.92zM448.77 1551.3h2.92v24.75h-2.92zM466.27 1551.3h2.92v24.75h-2.92zM527.51 1551.3h5.83v24.75h-5.83zM542.09 1551.3h2.92v24.75h-2.92zM550.84 1551.3h2.92v24.75h-2.92zM597.5 1551.3h2.92v24.75h-2.92zM787.05 1551.3h2.92v24.75h-2.92zM169.5 1576.05h5.89v24.75h-5.89zM234.34 1576.05h2.95v24.75h-2.95zM278.55 1576.05h2.95v24.75h-2.95zM440.02 1576.05h2.92v24.75h-2.92zM457.52 1576.05h2.92v24.75h-2.92zM670.4 1576.05h2.92v24.75h-2.92zM702.48 1576.05h2.92v24.75h-2.92zM752.06 1576.05h2.92v24.75h-2.92zM792.88 1576.05h2.92v24.75h-2.92zM169.5 1600.8h5.89v24.75h-5.89zM222.55 1600.8h2.95v24.75h-2.95zM228.44 1600.8h2.95v24.75h-2.95zM278.55 1600.8h2.95v24.75h-2.95zM296.23 1600.8h2.95v24.75h-2.95zM331.6 1600.8h2.95v24.75h-2.95zM340.44 1600.8h2.95v24.75h-2.95zM437.11 1600.8h2.92v24.75h-2.92zM507.1 1600.8h2.92v24.75h-2.92zM515.85 1600.8h2.92v24.75h-2.92zM553.76 1600.8h2.92v24.75h-2.92zM594.58 1600.8h2.92v24.75h-2.92zM606.25 1600.8h2.92v24.75h-2.92zM612.08 1600.8h2.92v24.75h-2.92zM702.48 1600.8h2.92v24.75h-2.92zM719.98 1600.8h2.92v24.75h-2.92zM169.5 1625.55h5.89v24.75h-5.89zM266.76 1625.55h2.95v24.75h-2.95zM302.12 1625.55h2.95v24.75h-2.95zM308.02 1625.55h2.95v24.75h-2.95zM331.6 1625.55h2.95v24.75h-2.95zM352.23 1625.55h2.95v24.75h-2.95zM381.7 1625.55h5.83v24.75h-5.83zM428.36 1625.55h2.92v24.75h-2.92zM472.1 1625.55h2.92v24.75h-2.92zM486.68 1625.55h2.92v24.75h-2.92zM515.85 1625.55h2.92v24.75h-2.92zM547.92 1625.55h2.92v24.75h-2.92zM568.34 1625.55h2.92v24.75h-2.92zM615 1625.55h2.92v24.75h-2.92zM629.58 1625.55h5.83v24.75h-5.83zM664.57 1625.55h2.92v24.75h-2.92zM722.9 1625.55h2.92v24.75h-2.92zM778.3 1625.55h2.92v24.75h-2.92zM784.14 1625.55h2.92v24.75h-2.92z"/>
<path fill="#fdf4f4" d="M175.39 957.3h2.95v24.75h-2.95zM237.29 957.3h2.95v24.75h-2.95zM252.02 957.3h2.95v24.75h-2.95zM305.07 957.3h2.95v24.75h-2.95zM331.6 957.3h5.89v24.75h-5.89zM349.28 957.3h2.95v24.75h-2.95zM466.27 957.3h2.92v24.75h-2.92zM475.02 957.3h2.92v24.75h-2.92zM512.93 957.3h2.92v24.75h-2.92zM655.82 957.3h2.92v24.75h-2.92zM670.4 957.3h2.92v24.75h-2.92zM699.57 957.3h2.92v24.75h-2.92zM708.31 957.3h2.92v24.75h-2.92zM757.89 957.3h2.92v24.75h-2.92zM193.08 982.05h2.95v24.75h-2.95zM207.81 982.05h2.95v24.75h-2.95zM225.5 982.05h2.95v24.75h-2.95zM240.23 982.05h2.95v24.75h-2.95zM281.49 982.05h2.95v24.75h-2.95zM296.23 982.05h2.95v24.75h-2.95zM448.77 982.05h2.92v24.75h-2.92zM466.27 982.05h2.92v24.75h-2.92zM655.82 982.05h2.92v24.75h-2.92zM670.4 982.05h2.92v24.75h-2.92zM734.56 982.05h2.92v24.75h-2.92zM196.03 1006.8h2.95v24.75h-2.95zM225.5 1006.8h2.95v24.75h-2.95zM266.76 1006.8h2.95v24.75h-2.95zM316.86 1006.8h2.95v24.75h-2.95zM352.23 1006.8h2.95v24.75h-2.95zM387.53 1006.8h2.92v24.75h-2.92zM410.86 1006.8h2.92v24.75h-2.92zM437.11 1006.8h2.92v24.75h-2.92zM466.27 1006.8h2.92v24.75h-2.92zM559.59 1006.8h2.92v24.75h-2.92zM612.08 1006.8h2.92v24.75h-2.92zM617.91 1006.8h2.92v24.75h-2.92zM693.73 1006.8h2.92v24.75h-2.92zM731.64 1006.8h2.92v24.75h-2.92zM757.89 1006.8h2.92v24.75h-2.92zM769.55 1006.8h2.92v24.75h-2.92zM175.39 1031.55h2.95v24.75h-2.95zM204.87 1031.55h2.95v24.75h-2.95zM216.66 1031.55h2.95v24.75h-2.95zM249.07 1031.55h2.95v24.75h-2.95zM257.92 1031.55h2.95v24.75h-2.95zM275.6 1031.55h5.89v24.75h-5.89zM349.28 1031.55h2.95v24.75h-2.95zM399.2 1031.55h2.92v24.75h-2.92zM413.78 1031.55h2.92v24.75h-2.92zM445.86 1031.55h2.92v24.75h-2.92zM457.52 1031.55h5.83v24.75h-5.83zM504.18 1031.55h2.92v24.75h-2.92zM512.93 1031.55h5.83v24.75h-5.83zM524.59 1031.55h2.92v24.75h-2.92zM545.01 1031.55h2.92v24.75h-2.92zM556.67 1031.55h2.92v24.75h-2.92zM615 1031.55h2.92v24.75h-2.92zM708.31 1031.55h2.92v24.75h-2.92zM717.06 1031.55h2.92v24.75h-2.92zM784.14 1031.55h2.92v24.75h-2.92zM184.24 1056.3h2.95v24.75h-2.95zM190.13 1056.3h2.95v24.75h-2.95zM222.55 1056.3h2.95v24.75h-2.95zM246.13 1056.3h2.95v24.75h-2.95zM275.6 1056.3h2.95v24.75h-2.95zM293.28 1056.3h2.95v24.75h-2.95zM460.44 1056.3h2.92v24.75h-2.92zM600.41 1056.3h2.92v24.75h-2.92zM638.33 1056.3h2.92v24.75h-2.92zM757.89 1056.3h2.92v24.75h-2.92zM201.92 1081.05h2.95v24.75h-2.95zM293.28 1081.05h2.95v24.75h-2.95zM331.6 1081.05h2.95v24.75h-2.95zM337.49 1081.05h2.95v24.75h-2.95zM352.23 1081.05h2.95v24.75h-2.95zM390.45 1081.05h2.92v24.75h-2.92zM405.03 1081.05h2.92v24.75h-2.92zM413.78 1081.05h2.92v24.75h-2.92zM501.26 1081.05h2.92v24.75h-2.92zM670.4 1081.05h2.92v24.75h-2.92zM682.07 1081.05h2.92v24.75h-2.92zM693.73 1081.05h2.92v24.75h-2.92zM260.86 1105.8h2.95v24.75h-2.95zM275.6 1105.8h2.95v24.75h-2.95zM308.02 1105.8h2.95v24.75h-2.95zM556.67 1105.8h2.92v24.75h-2.92zM582.92 1105.8h2.92v24.75h-2.92zM629.58 1105.8h2.92v24.75h-2.92zM728.73 1105.8h2.92v24.75h-2.92zM204.87 1130.55h2.95v24.75h-2.95zM216.66 1130.55h2.95v24.75h-2.95zM393.36 1130.55h2.92v24.75h-2.92zM460.44 1130.55h2.92v24.75h-2.92zM489.6 1130.55h2.92v24.75h-2.92zM582.92 1130.55h2.92v24.75h-2.92zM606.25 1130.55h2.92v24.75h-2.92zM682.07 1130.55h2.92v24.75h-2.92zM766.64 1130.55h2.92v24.75h-2.92zM784.14 1130.55h2.92v24.75h-2.92zM266.76 1155.3h2.95v24.75h-2.95zM272.65 1155.3h2.95v24.75h-2.95zM281.49 1155.3h2.95v24.75h-2.95zM316.86 1155.3h2.95v24.75h-2.95zM337.49 1155.3h2.95v24.75h-2.95zM372.86 1155.3h2.95v24.75h-2.95zM387.53 1155.3h2.92v24.75h-2.92zM425.44 1155.3h2.92v24.75h-2.92zM524.59 1155.3h2.92v24.75h-2.92zM568.34 1155.3h2.92v24.75h-2.92zM647.07 1155.3h2.92v24.75h-2.92zM708.31 1155.3h2.92v24.75h-2.92zM757.89 1155.3h2.92v24.75h-2.92zM766.64 1155.3h2.92v24.75h-2.92zM184.24 1180.05h2.95v24.75h-2.95zM207.81 1180.05h2.95v24.75h-2.95zM272.65 1180.05h2.95v24.75h-2.95zM290.34 1180.05h2.95v24.75h-2.95zM296.23 1180.05h2.95v24.75h-2.95zM322.76 1180.05h2.95v24.75h-2.95zM340.44 1180.05h2.95v24.75h-2.95zM364.02 1180.05h2.95v24.75h-2.95zM460.44 1180.05h2.92v24.75h-2.92zM483.77 1180.05h2.92v24.75h-2.92zM597.5 1180.05h2.92v24.75h-2.92zM609.16 1180.05h2.92v24.75h-2.92zM784.14 1180.05h2.92v24.75h-2.92zM252.02 1204.8h5.89v24.75h-5.89zM313.91 1204.8h2.95v24.75h-2.95zM331.6 1204.8h2.95v24.75h-2.95zM364.02 1204.8h2.95v24.75h-2.95zM585.83 1204.8h2.92v24.75h-2.92zM615 1204.8h2.92v24.75h-2.92zM623.74 1204.8h5.83v24.75h-5.83zM641.24 1204.8h2.92v24.75h-2.92zM757.89 1204.8h2.92v24.75h-2.92zM254.97 1229.55h2.95v24.75h-2.95zM337.49 1229.55h2.95v24.75h-2.95zM352.23 1229.55h5.89v24.75h-5.89zM364.02 1229.55h2.95v24.75h-2.95zM451.69 1229.55h2.92v24.75h-2.92zM466.27 1229.55h2.92v24.75h-2.92zM472.1 1229.55h2.92v24.75h-2.92zM480.85 1229.55h2.92v24.75h-2.92zM501.26 1229.55h2.92v24.75h-2.92zM585.83 1229.55h2.92v24.75h-2.92zM638.33 1229.55h2.92v24.75h-2.92zM644.16 1229.55h2.92v24.75h-2.92zM670.4 1229.55h2.92v24.75h-2.92zM684.98 1229.55h2.92v24.75h-2.92zM711.23 1229.55h2.92v24.75h-2.92zM743.31 1229.55h5.83v24.75h-5.83zM784.14 1229.55h2.92v24.75h-2.92zM175.39 1254.3h2.95v24.75h-2.95zM260.86 1254.3h2.95v24.75h-2.95zM266.76 1254.3h5.89v24.75h-5.89zM293.28 1254.3h2.95v24.75h-2.95zM346.33 1254.3h2.95v24.75h-2.95zM355.17 1254.3h2.95v24.75h-2.95zM390.45 1254.3h2.92v24.75h-2.92zM512.93 1254.3h2.92v24.75h-2.92zM582.92 1254.3h2.92v24.75h-2.92zM600.41 1254.3h2.92v24.75h-2.92zM649.99 1254.3h2.92v24.75h-2.92zM682.07 1254.3h2.92v24.75h-2.92zM752.06 1254.3h2.92v24.75h-2.92zM175.39 1279.05h2.95v24.75h-2.95zM201.92 1279.05h2.95v24.75h-2.95zM254.97 1279.05h2.95v24.75h-2.95zM355.17 1279.05h2.95v24.75h-2.95zM378.75 1279.05h2.95v24.75h-2.95zM483.77 1279.05h2.92v24.75h-2.92zM507.1 1279.05h2.92v24.75h-2.92zM530.43 1279.05h2.92v24.75h-2.92zM606.25 1279.05h2.92v24.75h-2.92zM629.58 1279.05h2.92v24.75h-2.92zM728.73 1279.05h2.92v24.75h-2.92zM787.05 1279.05h2.92v24.75h-2.92zM225.5 1303.8h2.95v24.75h-2.95zM272.65 1303.8h2.95v24.75h-2.95zM325.7 1303.8h2.95v24.75h-2.95zM346.33 1303.8h2.95v24.75h-2.95zM405.03 1303.8h2.92v24.75h-2.92zM507.1 1303.8h2.92v24.75h-2.92zM536.26 1303.8h2.92v24.75h-2.92zM547.92 1303.8h2.92v24.75h-2.92zM556.67 1303.8h2.92v24.75h-2.92zM582.92 1303.8h2.92v24.75h-2.92zM626.66 1303.8h2.92v24.75h-2.92zM687.9 1303.8h2.92v24.75h-2.92zM754.97 1303.8h2.92v24.75h-2.92zM296.23 1328.55h2.95v24.75h-2.95zM343.39 1328.55h2.95v24.75h-2.95zM372.86 1328.55h2.95v24.75h-2.95zM378.75 1328.55h2.95v24.75h-2.95zM422.53 1328.55h2.92v24.75h-2.92zM451.69 1328.55h2.92v24.75h-2.92zM483.77 1328.55h2.92v24.75h-2.92zM591.67 1328.55h2.92v24.75h-2.92zM664.57 1328.55h2.92v24.75h-2.92zM670.4 1328.55h2.92v24.75h-2.92zM219.6 1353.3h5.89v24.75h-5.89zM234.34 1353.3h2.95v24.75h-2.95zM252.02 1353.3h2.95v24.75h-2.95zM272.65 1353.3h2.95v24.75h-2.95zM334.54 1353.3h5.89v24.75h-5.89zM343.39 1353.3h2.95v24.75h-2.95zM364.02 1353.3h2.95v24.75h-2.95zM393.36 1353.3h2.92v24.75h-2.92zM425.44 1353.3h2.92v24.75h-2.92zM460.44 1353.3h2.92v24.75h-2.92zM483.77 1353.3h5.83v24.75h-5.83zM492.52 1353.3h2.92v24.75h-2.92zM501.26 1353.3h2.92v24.75h-2.92zM527.51 1353.3h2.92v24.75h-2.92zM655.82 1353.3h2.92v24.75h-2.92zM719.98 1353.3h2.92v24.75h-2.92zM222.55 1378.05h2.95v24.75h-2.95zM260.86 1378.05h2.95v24.75h-2.95zM275.6 1378.05h2.95v24.75h-2.95zM419.61 1378.05h2.92v24.75h-2.92zM480.85 1378.05h2.92v24.75h-2.92zM504.18 1378.05h2.92v24.75h-2.92zM542.09 1378.05h2.92v24.75h-2.92zM556.67 1378.05h2.92v24.75h-2.92zM588.75 1378.05h2.92v24.75h-2.92zM752.06 1378.05h2.92v24.75h-2.92zM181.29 1402.8h2.95v24.75h-2.95zM193.08 1402.8h2.95v24.75h-2.95zM290.34 1402.8h2.95v24.75h-2.95zM343.39 1402.8h2.95v24.75h-2.95zM364.02 1402.8h2.95v24.75h-2.95zM475.02 1402.8h2.92v24.75h-2.92zM512.93 1402.8h2.92v24.75h-2.92zM518.76 1402.8h2.92v24.75h-2.92zM545.01 1402.8h2.92v24.75h-2.92zM664.57 1402.8h2.92v24.75h-2.92zM207.81 1427.55h2.95v24.75h-2.95zM240.23 1427.55h2.95v24.75h-2.95zM352.23 1427.55h2.95v24.75h-2.95zM366.96 1427.55h2.95v24.75h-2.95zM381.7 1427.55h5.83v24.75h-5.83zM448.77 1427.55h2.92v24.75h-2.92zM527.51 1427.55h5.83v24.75h-5.83zM655.82 1427.55h2.92v24.75h-2.92zM687.9 1427.55h2.92v24.75h-2.92zM728.73 1427.55h2.92v24.75h-2.92zM746.22 1427.55h2.92v24.75h-2.92zM275.6 1452.3h2.95v24.75h-2.95zM322.76 1452.3h2.95v24.75h-2.95zM440.02 1452.3h2.92v24.75h-2.92zM454.6 1452.3h2.92v24.75h-2.92zM606.25 1452.3h2.92v24.75h-2.92zM652.91 1452.3h5.83v24.75h-5.83zM743.31 1452.3h2.92v24.75h-2.92zM789.97 1452.3h2.92v24.75h-2.92zM184.24 1477.05h2.95v24.75h-2.95zM225.5 1477.05h2.95v24.75h-2.95zM260.86 1477.05h2.95v24.75h-2.95zM355.17 1477.05h2.95v24.75h-2.95zM375.81 1477.05h2.95v24.75h-2.95zM381.7 1477.05h2.92v24.75h-2.92zM390.45 1477.05h2.92v24.75h-2.92zM405.03 1477.05h2.92v24.75h-2.92zM460.44 1477.05h5.83v24.75h-5.83zM507.1 1477.05h2.92v24.75h-2.92zM530.43 1477.05h2.92v24.75h-2.92zM609.16 1477.05h2.92v24.75h-2.92zM638.33 1477.05h2.92v24.75h-2.92zM647.07 1477.05h2.92v24.75h-2.92zM684.98 1477.05h2.92v24.75h-2.92zM789.97 1477.05h2.92v24.75h-2.92zM266.76 1501.8h2.95v24.75h-2.95zM275.6 1501.8h2.95v24.75h-2.95zM293.28 1501.8h2.95v24.75h-2.95zM308.02 1501.8h2.95v24.75h-2.95zM322.76 1501.8h2.95v24.75h-2.95zM460.44 1501.8h5.83v24.75h-5.83zM527.51 1501.8h2.92v24.75h-2.92zM536.26 1501.8h2.92v24.75h-2.92zM725.81 1501.8h2.92v24.75h-2.92zM746.22 1501.8h2.92v24.75h-2.92zM757.89 1501.8h2.92v24.75h-2.92zM781.22 1501.8h2.92v24.75h-2.92zM193.08 1526.55h2.95v24.75h-2.95zM375.81 1526.55h2.95v24.75h-2.95zM399.2 1526.55h2.92v24.75h-2.92zM460.44 1526.55h2.92v24.75h-2.92zM545.01 1526.55h2.92v24.75h-2.92zM647.07 1526.55h2.92v24.75h-2.92zM670.4 1526.55h2.92v24.75h-2.92zM754.97 1526.55h2.92v24.75h-2.92zM213.71 1551.3h2.95v24.75h-2.95zM222.55 1551.3h2.95v24.75h-2.95zM249.07 1551.3h2.95v24.75h-2.95zM278.55 1551.3h2.95v24.75h-2.95zM287.39 1551.3h2.95v24.75h-2.95zM293.28 1551.3h2.95v24.75h-2.95zM343.39 1551.3h2.95v24.75h-2.95zM349.28 1551.3h2.95v24.75h-2.95zM366.96 1551.3h5.89v24.75h-5.89zM405.03 1551.3h2.92v24.75h-2.92zM431.28 1551.3h2.92v24.75h-2.92zM518.76 1551.3h2.92v24.75h-2.92zM556.67 1551.3h2.92v24.75h-2.92zM620.83 1551.3h2.92v24.75h-2.92zM647.07 1551.3h2.92v24.75h-2.92zM670.4 1551.3h2.92v24.75h-2.92zM682.07 1551.3h2.92v24.75h-2.92zM725.81 1551.3h2.92v24.75h-2.92zM737.48 1551.3h2.92v24.75h-2.92zM287.39 1576.05h2.95v24.75h-2.95zM293.28 1576.05h2.95v24.75h-2.95zM322.76 1576.05h2.95v24.75h-2.95zM337.49 1576.05h2.95v24.75h-2.95zM355.17 1576.05h2.95v24.75h-2.95zM419.61 1576.05h2.92v24.75h-2.92zM466.27 1576.05h2.92v24.75h-2.92zM635.41 1576.05h2.92v24.75h-2.92zM728.73 1576.05h2.92v24.75h-2.92zM204.87 1600.8h2.95v24.75h-2.95zM216.66 1600.8h2.95v24.75h-2.95zM308.02 1600.8h2.95v24.75h-2.95zM358.12 1600.8h2.95v24.75h-2.95zM539.17 1600.8h2.92v24.75h-2.92zM617.91 1600.8h2.92v24.75h-2.92zM670.4 1600.8h2.92v24.75h-2.92zM714.15 1600.8h2.92v24.75h-2.92zM752.06 1600.8h2.92v24.75h-2.92zM222.55 1625.55h2.95v24.75h-2.95zM272.65 1625.55h5.89v24.75h-5.89zM287.39 1625.55h2.95v24.75h-2.95zM305.07 1625.55h2.95v24.75h-2.95zM316.86 1625.55h2.95v24.75h-2.95zM337.49 1625.55h2.95v24.75h-2.95zM355.17 1625.55h2.95v24.75h-2.95zM422.53 1625.55h2.92v24.75h-2.92zM431.28 1625.55h2.92v24.75h-2.92zM483.77 1625.55h2.92v24.75h-2.92zM620.83 1625.55h2.92v24.75h-2.92zM684.98 1625.55h2.92v24.75h-2.92zM714.15 1625.55h2.92v24.75h-2.92zM792.88 1625.55h2.92v24.75h-2.92z"/>
<path fill="#eaecf6" d="M178.34 957.3h2.95v24.75h-2.95zM222.55 957.3h2.95v24.75h-2.95zM293.28 957.3h2.95v24.75h-2.95zM319.81 957.3h2.95v24.75h-2.95zM375.81 957.3h2.95v24.75h-2.95zM402.11 957.3h2.92v24.75h-2.92zM419.61 957.3h2.92v24.75h-2.92zM428.36 957.3h2.92v24.75h-2.92zM448.77 957.3h2.92v24.75h-2.92zM489.6 957.3h2.92v24.75h-2.92zM501.26 957.3h2.92v24.75h-2.92zM594.58 957.3h2.92v24.75h-2.92zM609.16 957.3h2.92v24.75h-2.92zM632.49 957.3h2.92v24.75h-2.92zM673.32 957.3h2.92v24.75h-2.92zM711.23 957.3h5.83v24.75h-5.83zM722.9 957.3h2.92v24.75h-2.92zM766.64 957.3h2.92v24.75h-2.92zM260.86 982.05h2.95v24.75h-2.95zM269.71 982.05h2.95v24.75h-2.95zM352.23 982.05h2.95v24.75h-2.95zM361.07 982.05h2.95v24.75h-2.95zM399.2 982.05h2.92v24.75h-2.92zM407.95 982.05h2.92v24.75h-2.92zM422.53 982.05h2.92v24.75h-2.92zM431.28 982.05h5.83v24.75h-5.83zM477.93 982.05h2.92v24.75h-2.92zM518.76 982.05h2.92v24.75h-2.92zM539.17 982.05h2.92v24.75h-2.92zM562.5 982.05h2.92v24.75h-2.92zM591.67 982.05h2.92v24.75h-2.92zM612.08 982.05h2.92v24.75h-2.92zM649.99 982.05h2.92v24.75h-2.92zM673.32 982.05h5.83v24.75h-5.83zM708.31 982.05h2.92v24.75h-2.92zM728.73 982.05h2.92v24.75h-2.92zM743.31 982.05h2.92v24.75h-2.92zM749.14 982.05h2.92v24.75h-2.92zM181.29 1006.8h5.89v24.75h-5.89zM193.08 1006.8h2.95v24.75h-2.95zM219.6 1006.8h2.95v24.75h-2.95zM252.02 1006.8h2.95v24.75h-2.95zM325.7 1006.8h2.95v24.75h-2.95zM407.95 1006.8h2.92v24.75h-2.92zM501.26 1006.8h2.92v24.75h-2.92zM556.67 1006.8h2.92v24.75h-2.92zM635.41 1006.8h2.92v24.75h-2.92zM647.07 1006.8h2.92v24.75h-2.92zM690.82 1006.8h2.92v24.75h-2.92zM775.39 1006.8h2.92v24.75h-2.92zM210.76 1031.55h2.95v24.75h-2.95zM222.55 1031.55h2.95v24.75h-2.95zM402.11 1031.55h2.92v24.75h-2.92zM466.27 1031.55h2.92v24.75h-2.92zM550.84 1031.55h2.92v24.75h-2.92zM580 1031.55h2.92v24.75h-2.92zM588.75 1031.55h5.83v24.75h-5.83zM603.33 1031.55h2.92v24.75h-2.92zM644.16 1031.55h2.92v24.75h-2.92zM679.15 1031.55h5.83v24.75h-5.83zM781.22 1031.55h2.92v24.75h-2.92zM193.08 1056.3h2.95v24.75h-2.95zM198.97 1056.3h2.95v24.75h-2.95zM225.5 1056.3h2.95v24.75h-2.95zM313.91 1056.3h2.95v24.75h-2.95zM355.17 1056.3h2.95v24.75h-2.95zM369.91 1056.3h5.89v24.75h-5.89zM518.76 1056.3h5.83v24.75h-5.83zM547.92 1056.3h2.92v24.75h-2.92zM556.67 1056.3h2.92v24.75h-2.92zM591.67 1056.3h8.75v24.75h-8.75zM644.16 1056.3h2.92v24.75h-2.92zM661.65 1056.3h8.75v24.75h-8.75zM705.4 1056.3h2.92v24.75h-2.92zM740.39 1056.3h2.92v24.75h-2.92zM772.47 1056.3h2.92v24.75h-2.92zM178.34 1081.05h2.95v24.75h-2.95zM355.17 1081.05h2.95v24.75h-2.95zM393.36 1081.05h2.92v24.75h-2.92zM419.61 1081.05h2.92v24.75h-2.92zM457.52 1081.05h2.92v24.75h-2.92zM469.19 1081.05h2.92v24.75h-2.92zM708.31 1081.05h2.92v24.75h-2.92zM757.89 1081.05h2.92v24.75h-2.92zM763.72 1081.05h2.92v24.75h-2.92zM198.97 1105.8h2.95v24.75h-2.95zM222.55 1105.8h2.95v24.75h-2.95zM372.86 1105.8h2.95v24.75h-2.95zM419.61 1105.8h2.92v24.75h-2.92zM518.76 1105.8h2.92v24.75h-2.92zM641.24 1105.8h2.92v24.75h-2.92zM647.07 1105.8h2.92v24.75h-2.92zM676.24 1105.8h2.92v24.75h-2.92zM754.97 1105.8h2.92v24.75h-2.92zM260.86 1130.55h2.95v24.75h-2.95zM337.49 1130.55h2.95v24.75h-2.95zM369.91 1130.55h2.95v24.75h-2.95zM466.27 1130.55h2.92v24.75h-2.92zM495.43 1130.55h2.92v24.75h-2.92zM527.51 1130.55h2.92v24.75h-2.92zM588.75 1130.55h5.83v24.75h-5.83zM667.49 1130.55h2.92v24.75h-2.92zM684.98 1130.55h2.92v24.75h-2.92zM213.71 1155.3h2.95v24.75h-2.95zM442.94 1155.3h2.92v24.75h-2.92zM454.6 1155.3h2.92v24.75h-2.92zM472.1 1155.3h2.92v24.75h-2.92zM536.26 1155.3h2.92v24.75h-2.92zM542.09 1155.3h2.92v24.75h-2.92zM556.67 1155.3h2.92v24.75h-2.92zM562.5 1155.3h2.92v24.75h-2.92zM582.92 1155.3h2.92v24.75h-2.92zM609.16 1155.3h2.92v24.75h-2.92zM617.91 1155.3h2.92v24.75h-2.92zM638.33 1155.3h2.92v24.75h-2.92zM644.16 1155.3h2.92v24.75h-2.92zM682.07 1155.3h2.92v24.75h-2.92zM714.15 1155.3h2.92v24.75h-2.92zM740.39 1155.3h2.92v24.75h-2.92zM210.76 1180.05h2.95v24.75h-2.95zM254.97 1180.05h2.95v24.75h-2.95zM281.49 1180.05h2.95v24.75h-2.95zM384.62 1180.05h2.92v24.75h-2.92zM407.95 1180.05h2.92v24.75h-2.92zM489.6 1180.05h2.92v24.75h-2.92zM510.01 1180.05h2.92v24.75h-2.92zM568.34 1180.05h2.92v24.75h-2.92zM714.15 1180.05h2.92v24.75h-2.92zM743.31 1180.05h2.92v24.75h-2.92zM763.72 1180.05h2.92v24.75h-2.92zM778.3 1180.05h2.92v24.75h-2.92zM787.05 1180.05h2.92v24.75h-2.92zM210.76 1204.8h2.95v24.75h-2.95zM419.61 1204.8h2.92v24.75h-2.92zM696.65 1204.8h2.92v24.75h-2.92zM705.4 1204.8h2.92v24.75h-2.92zM714.15 1204.8h2.92v24.75h-2.92zM281.49 1229.55h2.95v24.75h-2.95zM346.33 1229.55h2.95v24.75h-2.95zM428.36 1229.55h2.92v24.75h-2.92zM489.6 1229.55h2.92v24.75h-2.92zM553.76 1229.55h2.92v24.75h-2.92zM696.65 1229.55h2.92v24.75h-2.92zM290.34 1254.3h2.95v24.75h-2.95zM352.23 1254.3h2.95v24.75h-2.95zM387.53 1254.3h2.92v24.75h-2.92zM416.69 1254.3h8.75v24.75h-8.75zM448.77 1254.3h2.92v24.75h-2.92zM454.6 1254.3h8.75v24.75h-8.75zM542.09 1254.3h2.92v24.75h-2.92zM571.25 1254.3h2.92v24.75h-2.92zM629.58 1254.3h2.92v24.75h-2.92zM696.65 1254.3h2.92v24.75h-2.92zM702.48 1254.3h2.92v24.75h-2.92zM714.15 1254.3h2.92v24.75h-2.92zM749.14 1254.3h2.92v24.75h-2.92zM760.81 1254.3h2.92v24.75h-2.92zM213.71 1279.05h2.95v24.75h-2.95zM287.39 1279.05h2.95v24.75h-2.95zM442.94 1279.05h2.92v24.75h-2.92zM480.85 1279.05h2.92v24.75h-2.92zM617.91 1279.05h2.92v24.75h-2.92zM632.49 1279.05h2.92v24.75h-2.92zM693.73 1279.05h2.92v24.75h-2.92zM717.06 1279.05h2.92v24.75h-2.92zM725.81 1279.05h2.92v24.75h-2.92zM210.76 1303.8h2.95v24.75h-2.95zM290.34 1303.8h2.95v24.75h-2.95zM372.86 1303.8h2.95v24.75h-2.95zM419.61 1303.8h2.92v24.75h-2.92zM451.69 1303.8h2.92v24.75h-2.92zM594.58 1303.8h2.92v24.75h-2.92zM635.41 1303.8h2.92v24.75h-2.92zM670.4 1303.8h2.92v24.75h-2.92zM702.48 1303.8h2.92v24.75h-2.92zM722.9 1303.8h2.92v24.75h-2.92zM769.55 1303.8h2.92v24.75h-2.92zM778.3 1303.8h2.92v24.75h-2.92zM308.02 1328.55h2.95v24.75h-2.95zM466.27 1328.55h2.92v24.75h-2.92zM536.26 1328.55h2.92v24.75h-2.92zM545.01 1328.55h2.92v24.75h-2.92zM582.92 1328.55h2.92v24.75h-2.92zM609.16 1328.55h2.92v24.75h-2.92zM615 1328.55h2.92v24.75h-2.92zM647.07 1328.55h2.92v24.75h-2.92zM667.49 1328.55h2.92v24.75h-2.92zM696.65 1328.55h2.92v24.75h-2.92zM734.56 1328.55h2.92v24.75h-2.92zM772.47 1328.55h2.92v24.75h-2.92zM539.17 1353.3h2.92v24.75h-2.92zM673.32 1353.3h2.92v24.75h-2.92zM690.82 1353.3h2.92v24.75h-2.92zM725.81 1353.3h2.92v24.75h-2.92zM781.22 1353.3h2.92v24.75h-2.92zM442.94 1378.05h2.92v24.75h-2.92zM635.41 1378.05h2.92v24.75h-2.92zM725.81 1378.05h5.83v24.75h-5.83zM781.22 1378.05h2.92v24.75h-2.92zM266.76 1402.8h2.95v24.75h-2.95zM308.02 1402.8h2.95v24.75h-2.95zM416.69 1402.8h2.92v24.75h-2.92zM437.11 1402.8h2.92v24.75h-2.92zM495.43 1402.8h2.92v24.75h-2.92zM550.84 1402.8h2.92v24.75h-2.92zM577.09 1402.8h2.92v24.75h-2.92zM582.92 1402.8h2.92v24.75h-2.92zM617.91 1402.8h2.92v24.75h-2.92zM696.65 1402.8h2.92v24.75h-2.92zM705.4 1402.8h2.92v24.75h-2.92zM734.56 1402.8h2.92v24.75h-2.92zM775.39 1402.8h5.83v24.75h-5.83zM249.07 1427.55h2.95v24.75h-2.95zM296.23 1427.55h2.95v24.75h-2.95zM402.11 1427.55h2.92v24.75h-2.92zM419.61 1427.55h2.92v24.75h-2.92zM512.93 1427.55h2.92v24.75h-2.92zM600.41 1427.55h2.92v24.75h-2.92zM609.16 1427.55h2.92v24.75h-2.92zM667.49 1427.55h2.92v24.75h-2.92zM722.9 1427.55h2.92v24.75h-2.92zM760.81 1427.55h2.92v24.75h-2.92zM198.97 1452.3h2.95v24.75h-2.95zM210.76 1452.3h2.95v24.75h-2.95zM260.86 1452.3h2.95v24.75h-2.95zM405.03 1452.3h2.92v24.75h-2.92zM460.44 1452.3h2.92v24.75h-2.92zM480.85 1452.3h2.92v24.75h-2.92zM501.26 1452.3h2.92v24.75h-2.92zM518.76 1452.3h2.92v24.75h-2.92zM539.17 1452.3h2.92v24.75h-2.92zM571.25 1452.3h2.92v24.75h-2.92zM594.58 1452.3h2.92v24.75h-2.92zM641.24 1452.3h2.92v24.75h-2.92zM749.14 1452.3h2.92v24.75h-2.92zM178.34 1477.05h2.95v24.75h-2.95zM198.97 1477.05h2.95v24.75h-2.95zM213.71 1477.05h2.95v24.75h-2.95zM369.91 1477.05h2.95v24.75h-2.95zM393.36 1477.05h2.92v24.75h-2.92zM402.11 1477.05h2.92v24.75h-2.92zM437.11 1477.05h2.92v24.75h-2.92zM486.68 1477.05h2.92v24.75h-2.92zM568.34 1477.05h2.92v24.75h-2.92zM641.24 1477.05h2.92v24.75h-2.92zM676.24 1477.05h2.92v24.75h-2.92zM693.73 1477.05h2.92v24.75h-2.92zM740.39 1477.05h2.92v24.75h-2.92zM381.7 1501.8h5.83v24.75h-5.83zM399.2 1501.8h2.92v24.75h-2.92zM440.02 1501.8h2.92v24.75h-2.92zM469.19 1501.8h2.92v24.75h-2.92zM501.26 1501.8h2.92v24.75h-2.92zM550.84 1501.8h2.92v24.75h-2.92zM556.67 1501.8h2.92v24.75h-2.92zM641.24 1501.8h2.92v24.75h-2.92zM647.07 1501.8h2.92v24.75h-2.92zM682.07 1501.8h2.92v24.75h-2.92zM705.4 1501.8h2.92v24.75h-2.92zM717.06 1501.8h2.92v24.75h-2.92zM249.07 1526.55h2.95v24.75h-2.95zM352.23 1526.55h2.95v24.75h-2.95zM369.91 1526.55h2.95v24.75h-2.95zM390.45 1526.55h2.92v24.75h-2.92zM469.19 1526.55h5.83v24.75h-5.83zM477.93 1526.55h2.92v24.75h-2.92zM533.34 1526.55h2.92v24.75h-2.92zM562.5 1526.55h2.92v24.75h-2.92zM591.67 1526.55h2.92v24.75h-2.92zM638.33 1526.55h2.92v24.75h-2.92zM664.57 1526.55h2.92v24.75h-2.92zM190.13 1551.3h2.95v24.75h-2.95zM240.23 1551.3h2.95v24.75h-2.95zM340.44 1551.3h2.95v24.75h-2.95zM428.36 1551.3h2.92v24.75h-2.92zM457.52 1551.3h2.92v24.75h-2.92zM469.19 1551.3h2.92v24.75h-2.92zM603.33 1551.3h2.92v24.75h-2.92zM617.91 1551.3h2.92v24.75h-2.92zM629.58 1551.3h2.92v24.75h-2.92zM667.49 1551.3h2.92v24.75h-2.92zM702.48 1551.3h2.92v24.75h-2.92zM766.64 1551.3h2.92v24.75h-2.92zM254.97 1576.05h2.95v24.75h-2.95zM260.86 1576.05h2.95v24.75h-2.95zM302.12 1576.05h2.95v24.75h-2.95zM369.91 1576.05h2.95v24.75h-2.95zM387.53 1576.05h2.92v24.75h-2.92zM448.77 1576.05h2.92v24.75h-2.92zM469.19 1576.05h5.83v24.75h-5.83zM498.35 1576.05h2.92v24.75h-2.92zM603.33 1576.05h2.92v24.75h-2.92zM629.58 1576.05h2.92v24.75h-2.92zM649.99 1576.05h2.92v24.75h-2.92zM676.24 1576.05h2.92v24.75h-2.92zM699.57 1576.05h2.92v24.75h-2.92zM714.15 1576.05h2.92v24.75h-2.92zM249.07 1600.8h2.95v24.75h-2.95zM260.86 1600.8h2.95v24.75h-2.95zM281.49 1600.8h2.95v24.75h-2.95zM310.97 1600.8h2.95v24.75h-2.95zM322.76 1600.8h2.95v24.75h-2.95zM337.49 1600.8h2.95v24.75h-2.95zM369.91 1600.8h5.89v24.75h-5.89zM393.36 1600.8h2.92v24.75h-2.92zM460.44 1600.8h2.92v24.75h-2.92zM495.43 1600.8h2.92v24.75h-2.92zM536.26 1600.8h2.92v24.75h-2.92zM580 1600.8h2.92v24.75h-2.92zM641.24 1600.8h2.92v24.75h-2.92zM178.34 1625.55h2.95v24.75h-2.95zM225.5 1625.55h2.95v24.75h-2.95zM361.07 1625.55h2.95v24.75h-2.95zM445.86 1625.55h2.92v24.75h-2.92zM466.27 1625.55h2.92v24.75h-2.92zM603.33 1625.55h2.92v24.75h-2.92zM670.4 1625.55h2.92v24.75h-2.92zM760.81 1625.55h2.92v24.75h-2.92zM781.22 1625.55h2.92v24.75h-2.92z"/>
<path fill="#f0f1f8" d="M181.29 957.3h2.95v24.75h-2.95zM210.76 957.3h2.95v24.75h-2.95zM260.86 957.3h2.95v24.75h-2.95zM322.76 957.3h2.95v24.75h-2.95zM364.02 957.3h2.95v24.75h-2.95zM369.91 957.3h2.95v24.75h-2.95zM425.44 957.3h2.92v24.75h-2.92zM521.68 957.3h2.92v24.75h-2.92zM562.5 957.3h2.92v24.75h-2.92zM603.33 957.3h2.92v24.75h-2.92zM615 957.3h2.92v24.75h-2.92zM661.65 957.3h5.83v24.75h-5.83zM690.82 957.3h2.92v24.75h-2.92zM702.48 957.3h2.92v24.75h-2.92zM728.73 957.3h2.92v24.75h-2.92zM740.39 957.3h2.92v24.75h-2.92zM775.39 957.3h5.83v24.75h-5.83zM201.92 982.05h5.89v24.75h-5.89zM266.76 982.05h2.95v24.75h-2.95zM272.65 982.05h2.95v24.75h-2.95zM278.55 982.05h2.95v24.75h-2.95zM364.02 982.05h2.95v24.75h-2.95zM378.75 982.05h2.95v24.75h-2.95zM393.36 982.05h2.92v24.75h-2.92zM405.03 982.05h2.92v24.75h-2.92zM451.69 982.05h2.92v24.75h-2.92zM457.52 982.05h2.92v24.75h-2.92zM472.1 982.05h2.92v24.75h-2.92zM489.6 982.05h2.92v24.75h-2.92zM510.01 982.05h5.83v24.75h-5.83zM556.67 982.05h5.83v24.75h-5.83zM577.09 982.05h2.92v24.75h-2.92zM582.92 982.05h2.92v24.75h-2.92zM609.16 982.05h2.92v24.75h-2.92zM620.83 982.05h2.92v24.75h-2.92zM629.58 982.05h2.92v24.75h-2.92zM705.4 982.05h2.92v24.75h-2.92zM711.23 982.05h2.92v24.75h-2.92zM722.9 982.05h2.92v24.75h-2.92zM772.47 982.05h2.92v24.75h-2.92zM175.39 1006.8h2.95v24.75h-2.95zM249.07 1006.8h2.95v24.75h-2.95zM402.11 1006.8h2.92v24.75h-2.92zM416.69 1006.8h5.83v24.75h-5.83zM434.19 1006.8h2.92v24.75h-2.92zM469.19 1006.8h2.92v24.75h-2.92zM510.01 1006.8h2.92v24.75h-2.92zM518.76 1006.8h2.92v24.75h-2.92zM667.49 1006.8h2.92v24.75h-2.92zM711.23 1006.8h2.92v24.75h-2.92zM728.73 1006.8h2.92v24.75h-2.92zM740.39 1006.8h5.83v24.75h-5.83zM772.47 1006.8h2.92v24.75h-2.92zM181.29 1031.55h2.95v24.75h-2.95zM193.08 1031.55h2.95v24.75h-2.95zM290.34 1031.55h2.95v24.75h-2.95zM310.97 1031.55h2.95v24.75h-2.95zM612.08 1031.55h2.92v24.75h-2.92zM632.49 1031.55h2.92v24.75h-2.92zM743.31 1031.55h2.92v24.75h-2.92zM766.64 1031.55h5.83v24.75h-5.83zM302.12 1056.3h2.95v24.75h-2.95zM536.26 1056.3h2.92v24.75h-2.92zM641.24 1056.3h2.92v24.75h-2.92zM670.4 1056.3h2.92v24.75h-2.92zM728.73 1056.3h2.92v24.75h-2.92zM787.05 1056.3h2.92v24.75h-2.92zM252.02 1081.05h2.95v24.75h-2.95zM346.33 1081.05h2.95v24.75h-2.95zM364.02 1081.05h2.95v24.75h-2.95zM372.86 1081.05h2.95v24.75h-2.95zM399.2 1081.05h2.92v24.75h-2.92zM460.44 1081.05h2.92v24.75h-2.92zM477.93 1081.05h5.83v24.75h-5.83zM539.17 1081.05h2.92v24.75h-2.92zM547.92 1081.05h2.92v24.75h-2.92zM615 1081.05h2.92v24.75h-2.92zM661.65 1081.05h2.92v24.75h-2.92zM749.14 1081.05h2.92v24.75h-2.92zM249.07 1105.8h2.95v24.75h-2.95zM475.02 1105.8h2.92v24.75h-2.92zM512.93 1105.8h2.92v24.75h-2.92zM693.73 1105.8h2.92v24.75h-2.92zM722.9 1105.8h2.92v24.75h-2.92zM184.24 1130.55h2.95v24.75h-2.95zM352.23 1130.55h2.95v24.75h-2.95zM390.45 1130.55h2.92v24.75h-2.92zM405.03 1130.55h2.92v24.75h-2.92zM419.61 1130.55h2.92v24.75h-2.92zM442.94 1130.55h2.92v24.75h-2.92zM477.93 1130.55h2.92v24.75h-2.92zM542.09 1130.55h2.92v24.75h-2.92zM568.34 1130.55h2.92v24.75h-2.92zM638.33 1130.55h2.92v24.75h-2.92zM644.16 1130.55h2.92v24.75h-2.92zM693.73 1130.55h2.92v24.75h-2.92zM705.4 1130.55h5.83v24.75h-5.83zM728.73 1130.55h2.92v24.75h-2.92zM743.31 1130.55h2.92v24.75h-2.92zM190.13 1155.3h2.95v24.75h-2.95zM216.66 1155.3h2.95v24.75h-2.95zM419.61 1155.3h2.92v24.75h-2.92zM486.68 1155.3h2.92v24.75h-2.92zM507.1 1155.3h8.75v24.75h-8.75zM518.76 1155.3h2.92v24.75h-2.92zM612.08 1155.3h2.92v24.75h-2.92zM664.57 1155.3h2.92v24.75h-2.92zM684.98 1155.3h2.92v24.75h-2.92zM722.9 1155.3h2.92v24.75h-2.92zM784.14 1155.3h5.83v24.75h-5.83zM313.91 1180.05h2.95v24.75h-2.95zM375.81 1180.05h2.95v24.75h-2.95zM410.86 1180.05h2.92v24.75h-2.92zM475.02 1180.05h2.92v24.75h-2.92zM498.35 1180.05h2.92v24.75h-2.92zM518.76 1180.05h5.83v24.75h-5.83zM565.42 1180.05h2.92v24.75h-2.92zM405.03 1204.8h2.92v24.75h-2.92zM448.77 1204.8h2.92v24.75h-2.92zM457.52 1204.8h2.92v24.75h-2.92zM577.09 1204.8h2.92v24.75h-2.92zM620.83 1204.8h2.92v24.75h-2.92zM629.58 1204.8h2.92v24.75h-2.92zM740.39 1204.8h2.92v24.75h-2.92zM749.14 1204.8h5.83v24.75h-5.83zM775.39 1204.8h2.92v24.75h-2.92zM442.94 1229.55h2.92v24.75h-2.92zM460.44 1229.55h2.92v24.75h-2.92zM533.34 1229.55h2.92v24.75h-2.92zM612.08 1229.55h2.92v24.75h-2.92zM635.41 1229.55h2.92v24.75h-2.92zM647.07 1229.55h2.92v24.75h-2.92zM717.06 1229.55h2.92v24.75h-2.92zM781.22 1229.55h2.92v24.75h-2.92zM210.76 1254.3h2.95v24.75h-2.95zM252.02 1254.3h2.95v24.75h-2.95zM296.23 1254.3h2.95v24.75h-2.95zM428.36 1254.3h2.92v24.75h-2.92zM615 1254.3h2.92v24.75h-2.92zM632.49 1254.3h5.83v24.75h-5.83zM667.49 1254.3h2.92v24.75h-2.92zM676.24 1254.3h2.92v24.75h-2.92zM717.06 1254.3h2.92v24.75h-2.92zM728.73 1254.3h2.92v24.75h-2.92zM302.12 1279.05h2.95v24.75h-2.95zM407.95 1279.05h2.92v24.75h-2.92zM454.6 1279.05h2.92v24.75h-2.92zM466.27 1279.05h2.92v24.75h-2.92zM495.43 1279.05h2.92v24.75h-2.92zM510.01 1279.05h2.92v24.75h-2.92zM591.67 1279.05h2.92v24.75h-2.92zM600.41 1279.05h2.92v24.75h-2.92zM696.65 1279.05h2.92v24.75h-2.92zM705.4 1279.05h2.92v24.75h-2.92zM740.39 1279.05h2.92v24.75h-2.92zM763.72 1279.05h2.92v24.75h-2.92zM769.55 1279.05h2.92v24.75h-2.92zM337.49 1303.8h2.95v24.75h-2.95zM434.19 1303.8h5.83v24.75h-5.83zM518.76 1303.8h2.92v24.75h-2.92zM571.25 1303.8h2.92v24.75h-2.92zM588.75 1303.8h2.92v24.75h-2.92zM603.33 1303.8h2.92v24.75h-2.92zM682.07 1303.8h2.92v24.75h-2.92zM749.14 1303.8h2.92v24.75h-2.92zM772.47 1303.8h2.92v24.75h-2.92zM249.07 1328.55h2.95v24.75h-2.95zM310.97 1328.55h2.95v24.75h-2.95zM331.6 1328.55h2.95v24.75h-2.95zM352.23 1328.55h2.95v24.75h-2.95zM410.86 1328.55h2.92v24.75h-2.92zM638.33 1328.55h2.92v24.75h-2.92zM676.24 1328.55h2.92v24.75h-2.92zM705.4 1328.55h2.92v24.75h-2.92zM728.73 1328.55h2.92v24.75h-2.92zM743.31 1328.55h2.92v24.75h-2.92zM769.55 1328.55h2.92v24.75h-2.92zM787.05 1328.55h2.92v24.75h-2.92zM181.29 1353.3h2.95v24.75h-2.95zM384.62 1353.3h2.92v24.75h-2.92zM477.93 1353.3h2.92v24.75h-2.92zM556.67 1353.3h2.92v24.75h-2.92zM638.33 1353.3h2.92v24.75h-2.92zM644.16 1353.3h2.92v24.75h-2.92zM661.65 1353.3h2.92v24.75h-2.92zM728.73 1353.3h2.92v24.75h-2.92zM734.56 1353.3h2.92v24.75h-2.92zM740.39 1353.3h2.92v24.75h-2.92zM775.39 1353.3h2.92v24.75h-2.92zM416.69 1378.05h2.92v24.75h-2.92zM422.53 1378.05h2.92v24.75h-2.92zM431.28 1378.05h2.92v24.75h-2.92zM644.16 1378.05h2.92v24.75h-2.92zM690.82 1378.05h2.92v24.75h-2.92zM702.48 1378.05h2.92v24.75h-2.92zM740.39 1378.05h2.92v24.75h-2.92zM749.14 1378.05h2.92v24.75h-2.92zM346.33 1402.8h2.95v24.75h-2.95zM399.2 1402.8h2.92v24.75h-2.92zM507.1 1402.8h2.92v24.75h-2.92zM670.4 1402.8h2.92v24.75h-2.92zM702.48 1402.8h2.92v24.75h-2.92zM722.9 1402.8h2.92v24.75h-2.92zM728.73 1402.8h2.92v24.75h-2.92zM743.31 1402.8h2.92v24.75h-2.92zM302.12 1427.55h2.95v24.75h-2.95zM340.44 1427.55h2.95v24.75h-2.95zM422.53 1427.55h2.92v24.75h-2.92zM466.27 1427.55h2.92v24.75h-2.92zM480.85 1427.55h2.92v24.75h-2.92zM489.6 1427.55h2.92v24.75h-2.92zM515.85 1427.55h2.92v24.75h-2.92zM547.92 1427.55h2.92v24.75h-2.92zM644.16 1427.55h2.92v24.75h-2.92zM658.74 1427.55h2.92v24.75h-2.92zM743.31 1427.55h2.92v24.75h-2.92zM313.91 1452.3h2.95v24.75h-2.95zM346.33 1452.3h2.95v24.75h-2.95zM381.7 1452.3h2.92v24.75h-2.92zM387.53 1452.3h2.92v24.75h-2.92zM492.52 1452.3h2.92v24.75h-2.92zM536.26 1452.3h2.92v24.75h-2.92zM649.99 1452.3h2.92v24.75h-2.92zM664.57 1452.3h2.92v24.75h-2.92zM670.4 1452.3h2.92v24.75h-2.92zM687.9 1452.3h2.92v24.75h-2.92zM702.48 1452.3h2.92v24.75h-2.92zM714.15 1452.3h2.92v24.75h-2.92zM290.34 1477.05h2.95v24.75h-2.95zM310.97 1477.05h2.95v24.75h-2.95zM337.49 1477.05h2.95v24.75h-2.95zM419.61 1477.05h2.92v24.75h-2.92zM480.85 1477.05h2.92v24.75h-2.92zM518.76 1477.05h2.92v24.75h-2.92zM536.26 1477.05h2.92v24.75h-2.92zM550.84 1477.05h2.92v24.75h-2.92zM615 1477.05h5.83v24.75h-5.83zM752.06 1477.05h2.92v24.75h-2.92zM792.88 1477.05h2.92v24.75h-2.92zM181.29 1501.8h2.95v24.75h-2.95zM225.5 1501.8h2.95v24.75h-2.95zM310.97 1501.8h5.89v24.75h-5.89zM402.11 1501.8h2.92v24.75h-2.92zM413.78 1501.8h2.92v24.75h-2.92zM419.61 1501.8h2.92v24.75h-2.92zM515.85 1501.8h2.92v24.75h-2.92zM571.25 1501.8h2.92v24.75h-2.92zM644.16 1501.8h2.92v24.75h-2.92zM760.81 1501.8h2.92v24.75h-2.92zM772.47 1501.8h2.92v24.75h-2.92zM175.39 1526.55h2.95v24.75h-2.95zM296.23 1526.55h2.95v24.75h-2.95zM325.7 1526.55h2.95v24.75h-2.95zM340.44 1526.55h2.95v24.75h-2.95zM410.86 1526.55h2.92v24.75h-2.92zM448.77 1526.55h2.92v24.75h-2.92zM466.27 1526.55h2.92v24.75h-2.92zM559.59 1526.55h2.92v24.75h-2.92zM597.5 1526.55h2.92v24.75h-2.92zM641.24 1526.55h5.83v24.75h-5.83zM649.99 1526.55h2.92v24.75h-2.92zM682.07 1526.55h2.92v24.75h-2.92zM696.65 1526.55h2.92v24.75h-2.92zM702.48 1526.55h2.92v24.75h-2.92zM752.06 1526.55h2.92v24.75h-2.92zM769.55 1526.55h5.83v24.75h-5.83zM281.49 1551.3h2.95v24.75h-2.95zM352.23 1551.3h2.95v24.75h-2.95zM515.85 1551.3h2.92v24.75h-2.92zM559.59 1551.3h2.92v24.75h-2.92zM574.17 1551.3h2.92v24.75h-2.92zM769.55 1551.3h5.83v24.75h-5.83zM210.76 1576.05h2.95v24.75h-2.95zM216.66 1576.05h2.95v24.75h-2.95zM225.5 1576.05h2.95v24.75h-2.95zM246.13 1576.05h2.95v24.75h-2.95zM266.76 1576.05h2.95v24.75h-2.95zM290.34 1576.05h2.95v24.75h-2.95zM343.39 1576.05h2.95v24.75h-2.95zM381.7 1576.05h2.92v24.75h-2.92zM390.45 1576.05h2.92v24.75h-2.92zM515.85 1576.05h2.92v24.75h-2.92zM547.92 1576.05h2.92v24.75h-2.92zM600.41 1576.05h2.92v24.75h-2.92zM620.83 1576.05h2.92v24.75h-2.92zM638.33 1576.05h2.92v24.75h-2.92zM725.81 1576.05h2.92v24.75h-2.92zM778.3 1576.05h2.92v24.75h-2.92zM175.39 1600.8h2.95v24.75h-2.95zM272.65 1600.8h2.95v24.75h-2.95zM316.86 1600.8h2.95v24.75h-2.95zM559.59 1600.8h2.92v24.75h-2.92zM644.16 1600.8h2.92v24.75h-2.92zM684.98 1600.8h2.92v24.75h-2.92zM693.73 1600.8h5.83v24.75h-5.83zM766.64 1600.8h2.92v24.75h-2.92zM290.34 1625.55h2.95v24.75h-2.95zM313.91 1625.55h2.95v24.75h-2.95zM390.45 1625.55h2.92v24.75h-2.92zM396.28 1625.55h2.92v24.75h-2.92zM434.19 1625.55h2.92v24.75h-2.92zM469.19 1625.55h2.92v24.75h-2.92zM489.6 1625.55h2.92v24.75h-2.92zM498.35 1625.55h2.92v24.75h-2.92zM536.26 1625.55h2.92v24.75h-2.92zM545.01 1625.55h2.92v24.75h-2.92zM644.16 1625.55h2.92v24.75h-2.92zM711.23 1625.55h2.92v24.75h-2.92zM725.81 1625.55h2.92v24.75h-2.92zM731.64 1625.55h2.92v24.75h-2.92zM775.39 1625.55h2.92v24.75h-2.92z"/>
<path fill="#f9e2e2" d="M187.18 957.3h2.95v24.75h-2.95zM463.35 957.3h2.92v24.75h-2.92zM299.18 982.05h2.95v24.75h-2.95zM413.78 982.05h2.92v24.75h-2.92zM524.59 982.05h2.92v24.75h-2.92zM757.89 982.05h2.92v24.75h-2.92zM207.81 1006.8h2.95v24.75h-2.95zM213.71 1006.8h2.95v24.75h-2.95zM328.65 1006.8h2.95v24.75h-2.95zM364.02 1006.8h2.95v24.75h-2.95zM381.7 1006.8h2.92v24.75h-2.92zM425.44 1006.8h2.92v24.75h-2.92zM451.69 1006.8h2.92v24.75h-2.92zM486.68 1006.8h2.92v24.75h-2.92zM515.85 1006.8h2.92v24.75h-2.92zM594.58 1006.8h2.92v24.75h-2.92zM237.29 1031.55h2.95v24.75h-2.95zM358.12 1031.55h2.95v24.75h-2.95zM475.02 1031.55h2.92v24.75h-2.92zM787.05 1031.55h2.92v24.75h-2.92zM201.92 1056.3h5.89v24.75h-5.89zM219.6 1056.3h2.95v24.75h-2.95zM234.34 1056.3h2.95v24.75h-2.95zM278.55 1056.3h2.95v24.75h-2.95zM343.39 1056.3h2.95v24.75h-2.95zM364.02 1056.3h2.95v24.75h-2.95zM524.59 1056.3h2.92v24.75h-2.92zM585.83 1056.3h2.92v24.75h-2.92zM754.97 1056.3h2.92v24.75h-2.92zM190.13 1081.05h5.89v24.75h-5.89zM204.87 1081.05h5.89v24.75h-5.89zM216.66 1081.05h2.95v24.75h-2.95zM287.39 1081.05h2.95v24.75h-2.95zM410.86 1081.05h2.92v24.75h-2.92zM545.01 1081.05h2.92v24.75h-2.92zM585.83 1081.05h2.92v24.75h-2.92zM746.22 1081.05h2.92v24.75h-2.92zM284.44 1105.8h2.95v24.75h-2.95zM349.28 1105.8h2.95v24.75h-2.95zM600.41 1105.8h2.92v24.75h-2.92zM699.57 1105.8h2.92v24.75h-2.92zM787.05 1105.8h5.83v24.75h-5.83zM252.02 1130.55h2.95v24.75h-2.95zM308.02 1130.55h2.95v24.75h-2.95zM316.86 1130.55h2.95v24.75h-2.95zM331.6 1130.55h2.95v24.75h-2.95zM355.17 1130.55h2.95v24.75h-2.95zM375.81 1130.55h2.95v24.75h-2.95zM440.02 1130.55h2.92v24.75h-2.92zM457.52 1130.55h2.92v24.75h-2.92zM530.43 1130.55h2.92v24.75h-2.92zM658.74 1130.55h2.92v24.75h-2.92zM746.22 1130.55h2.92v24.75h-2.92zM752.06 1130.55h2.92v24.75h-2.92zM789.97 1130.55h2.92v24.75h-2.92zM222.55 1155.3h2.95v24.75h-2.95zM296.23 1155.3h2.95v24.75h-2.95zM381.7 1155.3h2.92v24.75h-2.92zM530.43 1155.3h2.92v24.75h-2.92zM545.01 1155.3h2.92v24.75h-2.92zM565.42 1155.3h2.92v24.75h-2.92zM585.83 1155.3h2.92v24.75h-2.92zM699.57 1155.3h2.92v24.75h-2.92zM792.88 1155.3h2.92v24.75h-2.92zM193.08 1180.05h2.95v24.75h-2.95zM201.92 1180.05h2.95v24.75h-2.95zM234.34 1180.05h2.95v24.75h-2.95zM246.13 1180.05h2.95v24.75h-2.95zM252.02 1180.05h2.95v24.75h-2.95zM308.02 1180.05h2.95v24.75h-2.95zM222.55 1204.8h2.95v24.75h-2.95zM275.6 1204.8h2.95v24.75h-2.95zM296.23 1204.8h2.95v24.75h-2.95zM305.07 1204.8h2.95v24.75h-2.95zM445.86 1204.8h2.92v24.75h-2.92zM454.6 1204.8h2.92v24.75h-2.92zM463.35 1204.8h2.92v24.75h-2.92zM524.59 1204.8h2.92v24.75h-2.92zM536.26 1204.8h2.92v24.75h-2.92zM652.91 1204.8h2.92v24.75h-2.92zM754.97 1204.8h2.92v24.75h-2.92zM222.55 1229.55h2.95v24.75h-2.95zM296.23 1229.55h2.95v24.75h-2.95zM375.81 1229.55h2.95v24.75h-2.95zM384.62 1229.55h5.83v24.75h-5.83zM393.36 1229.55h2.92v24.75h-2.92zM623.74 1229.55h2.92v24.75h-2.92zM181.29 1254.3h2.95v24.75h-2.95zM219.6 1254.3h2.95v24.75h-2.95zM384.62 1254.3h2.92v24.75h-2.92zM483.77 1254.3h5.83v24.75h-5.83zM545.01 1254.3h2.92v24.75h-2.92zM687.9 1254.3h2.92v24.75h-2.92zM207.81 1279.05h2.95v24.75h-2.95zM228.44 1279.05h2.95v24.75h-2.95zM240.23 1279.05h2.95v24.75h-2.95zM272.65 1279.05h2.95v24.75h-2.95zM290.34 1279.05h5.89v24.75h-5.89zM405.03 1279.05h2.92v24.75h-2.92zM451.69 1279.05h2.92v24.75h-2.92zM489.6 1279.05h2.92v24.75h-2.92zM539.17 1279.05h2.92v24.75h-2.92zM565.42 1279.05h2.92v24.75h-2.92zM585.83 1279.05h2.92v24.75h-2.92zM652.91 1279.05h2.92v24.75h-2.92zM269.71 1303.8h2.95v24.75h-2.95zM293.28 1303.8h2.95v24.75h-2.95zM331.6 1303.8h2.95v24.75h-2.95zM504.18 1303.8h2.92v24.75h-2.92zM530.43 1303.8h2.92v24.75h-2.92zM568.34 1303.8h2.92v24.75h-2.92zM757.89 1303.8h2.92v24.75h-2.92zM787.05 1303.8h5.83v24.75h-5.83zM181.29 1328.55h2.95v24.75h-2.95zM190.13 1328.55h2.95v24.75h-2.95zM219.6 1328.55h2.95v24.75h-2.95zM240.23 1328.55h2.95v24.75h-2.95zM381.7 1328.55h2.92v24.75h-2.92zM454.6 1328.55h2.92v24.75h-2.92zM623.74 1328.55h2.92v24.75h-2.92zM655.82 1328.55h2.92v24.75h-2.92zM204.87 1353.3h5.89v24.75h-5.89zM249.07 1353.3h2.95v24.75h-2.95zM275.6 1353.3h5.89v24.75h-5.89zM284.44 1353.3h2.95v24.75h-2.95zM390.45 1353.3h2.92v24.75h-2.92zM440.02 1353.3h2.92v24.75h-2.92zM457.52 1353.3h2.92v24.75h-2.92zM623.74 1353.3h2.92v24.75h-2.92zM784.14 1353.3h2.92v24.75h-2.92zM305.07 1378.05h2.95v24.75h-2.95zM340.44 1378.05h2.95v24.75h-2.95zM355.17 1378.05h2.95v24.75h-2.95zM387.53 1378.05h2.92v24.75h-2.92zM399.2 1378.05h2.92v24.75h-2.92zM448.77 1378.05h2.92v24.75h-2.92zM463.35 1378.05h2.92v24.75h-2.92zM547.92 1378.05h2.92v24.75h-2.92zM582.92 1378.05h2.92v24.75h-2.92zM687.9 1378.05h2.92v24.75h-2.92zM719.98 1378.05h2.92v24.75h-2.92zM743.31 1378.05h2.92v24.75h-2.92zM213.71 1402.8h2.95v24.75h-2.95zM225.5 1402.8h2.95v24.75h-2.95zM249.07 1402.8h2.95v24.75h-2.95zM272.65 1402.8h2.95v24.75h-2.95zM349.28 1402.8h2.95v24.75h-2.95zM369.91 1402.8h2.95v24.75h-2.95zM387.53 1402.8h5.83v24.75h-5.83zM425.44 1402.8h2.92v24.75h-2.92zM483.77 1402.8h2.92v24.75h-2.92zM501.26 1402.8h2.92v24.75h-2.92zM527.51 1402.8h2.92v24.75h-2.92zM547.92 1402.8h2.92v24.75h-2.92zM652.91 1402.8h2.92v24.75h-2.92zM254.97 1427.55h2.95v24.75h-2.95zM272.65 1427.55h8.84v24.75h-8.84zM305.07 1427.55h2.95v24.75h-2.95zM355.17 1427.55h2.95v24.75h-2.95zM364.02 1427.55h2.95v24.75h-2.95zM387.53 1427.55h2.92v24.75h-2.92zM524.59 1427.55h2.92v24.75h-2.92zM606.25 1427.55h2.92v24.75h-2.92zM652.91 1427.55h2.92v24.75h-2.92zM757.89 1427.55h2.92v24.75h-2.92zM378.75 1452.3h2.95v24.75h-2.95zM658.74 1452.3h2.92v24.75h-2.92zM201.92 1477.05h2.95v24.75h-2.95zM216.66 1477.05h2.95v24.75h-2.95zM246.13 1477.05h2.95v24.75h-2.95zM269.71 1477.05h2.95v24.75h-2.95zM316.86 1477.05h2.95v24.75h-2.95zM334.54 1477.05h2.95v24.75h-2.95zM352.23 1477.05h2.95v24.75h-2.95zM387.53 1477.05h2.92v24.75h-2.92zM547.92 1477.05h2.92v24.75h-2.92zM594.58 1477.05h2.92v24.75h-2.92zM600.41 1477.05h2.92v24.75h-2.92zM766.64 1477.05h2.92v24.75h-2.92zM240.23 1501.8h2.95v24.75h-2.95zM246.13 1501.8h2.95v24.75h-2.95zM296.23 1501.8h2.95v24.75h-2.95zM331.6 1501.8h2.95v24.75h-2.95zM352.23 1501.8h2.95v24.75h-2.95zM378.75 1501.8h2.95v24.75h-2.95zM492.52 1501.8h2.92v24.75h-2.92zM623.74 1501.8h2.92v24.75h-2.92zM670.4 1501.8h2.92v24.75h-2.92zM702.48 1501.8h2.92v24.75h-2.92zM207.81 1526.55h2.95v24.75h-2.95zM222.55 1526.55h2.95v24.75h-2.95zM284.44 1526.55h2.95v24.75h-2.95zM316.86 1526.55h2.95v24.75h-2.95zM322.76 1526.55h2.95v24.75h-2.95zM343.39 1526.55h2.95v24.75h-2.95zM378.75 1526.55h2.95v24.75h-2.95zM524.59 1526.55h2.92v24.75h-2.92zM609.16 1526.55h2.92v24.75h-2.92zM737.48 1526.55h2.92v24.75h-2.92zM252.02 1551.3h2.95v24.75h-2.95zM269.71 1551.3h2.95v24.75h-2.95zM445.86 1551.3h2.92v24.75h-2.92zM504.18 1551.3h2.92v24.75h-2.92zM545.01 1551.3h2.92v24.75h-2.92zM658.74 1551.3h2.92v24.75h-2.92zM728.73 1551.3h2.92v24.75h-2.92zM249.07 1576.05h2.95v24.75h-2.95zM366.96 1576.05h2.95v24.75h-2.95zM399.2 1576.05h2.92v24.75h-2.92zM556.67 1576.05h2.92v24.75h-2.92zM562.5 1576.05h2.92v24.75h-2.92zM577.09 1576.05h2.92v24.75h-2.92zM743.31 1576.05h5.83v24.75h-5.83zM769.55 1576.05h2.92v24.75h-2.92zM266.76 1600.8h2.95v24.75h-2.95zM284.44 1600.8h2.95v24.75h-2.95zM405.03 1600.8h2.92v24.75h-2.92zM413.78 1600.8h2.92v24.75h-2.92zM440.02 1600.8h5.83v24.75h-5.83zM661.65 1600.8h8.75v24.75h-8.75zM746.22 1600.8h2.92v24.75h-2.92zM781.22 1600.8h2.92v24.75h-2.92zM181.29 1625.55h2.95v24.75h-2.95zM281.49 1625.55h2.95v24.75h-2.95zM293.28 1625.55h2.95v24.75h-2.95zM387.53 1625.55h2.92v24.75h-2.92zM437.11 1625.55h2.92v24.75h-2.92zM463.35 1625.55h2.92v24.75h-2.92zM542.09 1625.55h2.92v24.75h-2.92zM617.91 1625.55h2.92v24.75h-2.92zM623.74 1625.55h5.83v24.75h-5.83zM655.82 1625.55h2.92v24.75h-2.92zM690.82 1625.55h2.92v24.75h-2.92zM737.48 1625.55h2.92v24.75h-2.92z"/>
<path fill="#e5e7f4" d="M190.13 957.3h2.95v24.75h-2.95zM296.23 957.3h2.95v24.75h-2.95zM352.23 957.3h2.95v24.75h-2.95zM495.43 957.3h2.92v24.75h-2.92zM533.34 957.3h2.92v24.75h-2.92zM612.08 957.3h2.92v24.75h-2.92zM693.73 957.3h2.92v24.75h-2.92zM731.64 957.3h2.92v24.75h-2.92zM313.91 982.05h2.95v24.75h-2.95zM331.6 982.05h2.95v24.75h-2.95zM340.44 982.05h2.95v24.75h-2.95zM384.62 982.05h2.92v24.75h-2.92zM410.86 982.05h2.92v24.75h-2.92zM550.84 982.05h2.92v24.75h-2.92zM580 982.05h2.92v24.75h-2.92zM603.33 982.05h2.92v24.75h-2.92zM623.74 982.05h5.83v24.75h-5.83zM684.98 982.05h2.92v24.75h-2.92zM690.82 982.05h2.92v24.75h-2.92zM272.65 1006.8h5.89v24.75h-5.89zM287.39 1006.8h2.95v24.75h-2.95zM349.28 1006.8h2.95v24.75h-2.95zM428.36 1006.8h2.92v24.75h-2.92zM472.1 1006.8h2.92v24.75h-2.92zM495.43 1006.8h2.92v24.75h-2.92zM533.34 1006.8h2.92v24.75h-2.92zM574.17 1006.8h2.92v24.75h-2.92zM632.49 1006.8h2.92v24.75h-2.92zM638.33 1006.8h2.92v24.75h-2.92zM679.15 1006.8h2.92v24.75h-2.92zM696.65 1006.8h2.92v24.75h-2.92zM228.44 1031.55h2.95v24.75h-2.95zM240.23 1031.55h2.95v24.75h-2.95zM269.71 1031.55h2.95v24.75h-2.95zM287.39 1031.55h2.95v24.75h-2.95zM547.92 1031.55h2.92v24.75h-2.92zM714.15 1031.55h2.92v24.75h-2.92zM772.47 1031.55h8.75v24.75h-8.75zM249.07 1056.3h8.84v24.75h-8.84zM269.71 1056.3h2.95v24.75h-2.95zM287.39 1056.3h2.95v24.75h-2.95zM384.62 1056.3h2.92v24.75h-2.92zM495.43 1056.3h5.83v24.75h-5.83zM510.01 1056.3h2.92v24.75h-2.92zM615 1056.3h2.92v24.75h-2.92zM629.58 1056.3h2.92v24.75h-2.92zM684.98 1056.3h2.92v24.75h-2.92zM722.9 1056.3h5.83v24.75h-5.83zM778.3 1056.3h2.92v24.75h-2.92zM784.14 1056.3h2.92v24.75h-2.92zM254.97 1081.05h2.95v24.75h-2.95zM290.34 1081.05h2.95v24.75h-2.95zM302.12 1081.05h2.95v24.75h-2.95zM313.91 1081.05h2.95v24.75h-2.95zM384.62 1081.05h2.92v24.75h-2.92zM437.11 1081.05h2.92v24.75h-2.92zM510.01 1081.05h2.92v24.75h-2.92zM542.09 1081.05h2.92v24.75h-2.92zM562.5 1081.05h2.92v24.75h-2.92zM588.75 1081.05h2.92v24.75h-2.92zM612.08 1081.05h2.92v24.75h-2.92zM644.16 1081.05h2.92v24.75h-2.92zM717.06 1081.05h2.92v24.75h-2.92zM734.56 1081.05h2.92v24.75h-2.92zM766.64 1081.05h2.92v24.75h-2.92zM178.34 1105.8h2.95v24.75h-2.95zM287.39 1105.8h2.95v24.75h-2.95zM399.2 1105.8h2.92v24.75h-2.92zM457.52 1105.8h2.92v24.75h-2.92zM489.6 1105.8h2.92v24.75h-2.92zM504.18 1105.8h2.92v24.75h-2.92zM711.23 1105.8h5.83v24.75h-5.83zM725.81 1105.8h2.92v24.75h-2.92zM740.39 1105.8h5.83v24.75h-5.83zM249.07 1130.55h2.95v24.75h-2.95zM416.69 1130.55h2.92v24.75h-2.92zM507.1 1130.55h2.92v24.75h-2.92zM533.34 1130.55h2.92v24.75h-2.92zM550.84 1130.55h2.92v24.75h-2.92zM559.59 1130.55h5.83v24.75h-5.83zM597.5 1130.55h2.92v24.75h-2.92zM603.33 1130.55h2.92v24.75h-2.92zM615 1130.55h2.92v24.75h-2.92zM620.83 1130.55h2.92v24.75h-2.92zM632.49 1130.55h5.83v24.75h-5.83zM661.65 1130.55h2.92v24.75h-2.92zM772.47 1130.55h5.83v24.75h-5.83zM290.34 1155.3h2.95v24.75h-2.95zM422.53 1155.3h2.92v24.75h-2.92zM448.77 1155.3h2.92v24.75h-2.92zM550.84 1155.3h2.92v24.75h-2.92zM743.31 1155.3h2.92v24.75h-2.92zM775.39 1155.3h2.92v24.75h-2.92zM781.22 1155.3h2.92v24.75h-2.92zM181.29 1180.05h2.95v24.75h-2.95zM266.76 1180.05h2.95v24.75h-2.95zM369.91 1180.05h2.95v24.75h-2.95zM416.69 1180.05h2.92v24.75h-2.92zM425.44 1180.05h2.92v24.75h-2.92zM431.28 1180.05h2.92v24.75h-2.92zM437.11 1180.05h2.92v24.75h-2.92zM448.77 1180.05h2.92v24.75h-2.92zM466.27 1180.05h2.92v24.75h-2.92zM515.85 1180.05h2.92v24.75h-2.92zM556.67 1180.05h2.92v24.75h-2.92zM612.08 1180.05h2.92v24.75h-2.92zM649.99 1180.05h5.83v24.75h-5.83zM676.24 1180.05h2.92v24.75h-2.92zM702.48 1180.05h2.92v24.75h-2.92zM731.64 1180.05h2.92v24.75h-2.92zM772.47 1180.05h2.92v24.75h-2.92zM249.07 1204.8h2.95v24.75h-2.95zM407.95 1204.8h2.92v24.75h-2.92zM422.53 1204.8h2.92v24.75h-2.92zM489.6 1204.8h2.92v24.75h-2.92zM574.17 1204.8h2.92v24.75h-2.92zM617.91 1204.8h2.92v24.75h-2.92zM632.49 1204.8h8.75v24.75h-8.75zM690.82 1204.8h2.92v24.75h-2.92zM769.55 1204.8h5.83v24.75h-5.83zM399.2 1229.55h2.92v24.75h-2.92zM571.25 1229.55h2.92v24.75h-2.92zM617.91 1229.55h2.92v24.75h-2.92zM632.49 1229.55h2.92v24.75h-2.92zM673.32 1229.55h2.92v24.75h-2.92zM690.82 1229.55h2.92v24.75h-2.92zM702.48 1229.55h2.92v24.75h-2.92zM760.81 1229.55h5.83v24.75h-5.83zM769.55 1229.55h2.92v24.75h-2.92zM399.2 1254.3h2.92v24.75h-2.92zM472.1 1254.3h2.92v24.75h-2.92zM533.34 1254.3h2.92v24.75h-2.92zM617.91 1254.3h2.92v24.75h-2.92zM778.3 1254.3h2.92v24.75h-2.92zM337.49 1279.05h2.95v24.75h-2.95zM399.2 1279.05h2.92v24.75h-2.92zM419.61 1279.05h2.92v24.75h-2.92zM472.1 1279.05h2.92v24.75h-2.92zM533.34 1279.05h2.92v24.75h-2.92zM603.33 1279.05h2.92v24.75h-2.92zM638.33 1279.05h2.92v24.75h-2.92zM647.07 1279.05h5.83v24.75h-5.83zM690.82 1279.05h2.92v24.75h-2.92zM722.9 1279.05h2.92v24.75h-2.92zM731.64 1279.05h5.83v24.75h-5.83zM743.31 1279.05h2.92v24.75h-2.92zM781.22 1279.05h5.83v24.75h-5.83zM198.97 1303.8h2.95v24.75h-2.95zM469.19 1303.8h2.92v24.75h-2.92zM521.68 1303.8h2.92v24.75h-2.92zM676.24 1303.8h2.92v24.75h-2.92zM696.65 1303.8h2.92v24.75h-2.92zM775.39 1303.8h2.92v24.75h-2.92zM201.92 1328.55h2.95v24.75h-2.95zM346.33 1328.55h2.95v24.75h-2.95zM390.45 1328.55h2.92v24.75h-2.92zM402.11 1328.55h2.92v24.75h-2.92zM442.94 1328.55h2.92v24.75h-2.92zM472.1 1328.55h2.92v24.75h-2.92zM480.85 1328.55h2.92v24.75h-2.92zM504.18 1328.55h2.92v24.75h-2.92zM539.17 1328.55h2.92v24.75h-2.92zM632.49 1328.55h2.92v24.75h-2.92zM708.31 1328.55h5.83v24.75h-5.83zM719.98 1328.55h2.92v24.75h-2.92zM784.14 1328.55h2.92v24.75h-2.92zM201.92 1353.3h2.95v24.75h-2.95zM213.71 1353.3h2.95v24.75h-2.95zM416.69 1353.3h5.83v24.75h-5.83zM448.77 1353.3h2.92v24.75h-2.92zM463.35 1353.3h2.92v24.75h-2.92zM504.18 1353.3h5.83v24.75h-5.83zM512.93 1353.3h2.92v24.75h-2.92zM588.75 1353.3h2.92v24.75h-2.92zM693.73 1353.3h2.92v24.75h-2.92zM702.48 1353.3h2.92v24.75h-2.92zM763.72 1353.3h2.92v24.75h-2.92zM778.3 1353.3h2.92v24.75h-2.92zM281.49 1378.05h2.95v24.75h-2.95zM498.35 1378.05h2.92v24.75h-2.92zM510.01 1378.05h2.92v24.75h-2.92zM521.68 1378.05h2.92v24.75h-2.92zM553.76 1378.05h2.92v24.75h-2.92zM562.5 1378.05h2.92v24.75h-2.92zM699.57 1378.05h2.92v24.75h-2.92zM778.3 1378.05h2.92v24.75h-2.92zM210.76 1402.8h2.95v24.75h-2.95zM310.97 1402.8h2.95v24.75h-2.95zM402.11 1402.8h2.92v24.75h-2.92zM533.34 1402.8h2.92v24.75h-2.92zM641.24 1402.8h2.92v24.75h-2.92zM676.24 1402.8h2.92v24.75h-2.92zM769.55 1402.8h2.92v24.75h-2.92zM310.97 1427.55h2.95v24.75h-2.95zM416.69 1427.55h2.92v24.75h-2.92zM442.94 1427.55h2.92v24.75h-2.92zM521.68 1427.55h2.92v24.75h-2.92zM536.26 1427.55h2.92v24.75h-2.92zM542.09 1427.55h2.92v24.75h-2.92zM550.84 1427.55h2.92v24.75h-2.92zM617.91 1427.55h2.92v24.75h-2.92zM684.98 1427.55h2.92v24.75h-2.92zM693.73 1427.55h2.92v24.75h-2.92zM775.39 1427.55h2.92v24.75h-2.92zM281.49 1452.3h2.95v24.75h-2.95zM290.34 1452.3h2.95v24.75h-2.95zM302.12 1452.3h2.95v24.75h-2.95zM425.44 1452.3h2.92v24.75h-2.92zM582.92 1452.3h2.92v24.75h-2.92zM603.33 1452.3h2.92v24.75h-2.92zM615 1452.3h2.92v24.75h-2.92zM629.58 1452.3h2.92v24.75h-2.92zM684.98 1452.3h2.92v24.75h-2.92zM717.06 1452.3h2.92v24.75h-2.92zM740.39 1452.3h2.92v24.75h-2.92zM763.72 1452.3h2.92v24.75h-2.92zM466.27 1477.05h5.83v24.75h-5.83zM603.33 1477.05h2.92v24.75h-2.92zM661.65 1477.05h2.92v24.75h-2.92zM673.32 1477.05h2.92v24.75h-2.92zM743.31 1477.05h2.92v24.75h-2.92zM281.49 1501.8h2.95v24.75h-2.95zM416.69 1501.8h2.92v24.75h-2.92zM425.44 1501.8h2.92v24.75h-2.92zM437.11 1501.8h2.92v24.75h-2.92zM472.1 1501.8h2.92v24.75h-2.92zM562.5 1501.8h2.92v24.75h-2.92zM594.58 1501.8h2.92v24.75h-2.92zM600.41 1501.8h2.92v24.75h-2.92zM632.49 1501.8h5.83v24.75h-5.83zM714.15 1501.8h2.92v24.75h-2.92zM213.71 1526.55h2.95v24.75h-2.95zM331.6 1526.55h2.95v24.75h-2.95zM431.28 1526.55h2.92v24.75h-2.92zM489.6 1526.55h2.92v24.75h-2.92zM504.18 1526.55h2.92v24.75h-2.92zM512.93 1526.55h2.92v24.75h-2.92zM547.92 1526.55h2.92v24.75h-2.92zM594.58 1526.55h2.92v24.75h-2.92zM667.49 1526.55h2.92v24.75h-2.92zM676.24 1526.55h2.92v24.75h-2.92zM705.4 1526.55h2.92v24.75h-2.92zM711.23 1526.55h2.92v24.75h-2.92zM725.81 1526.55h2.92v24.75h-2.92zM364.02 1551.3h2.95v24.75h-2.95zM422.53 1551.3h5.83v24.75h-5.83zM553.76 1551.3h2.92v24.75h-2.92zM562.5 1551.3h2.92v24.75h-2.92zM571.25 1551.3h2.92v24.75h-2.92zM696.65 1551.3h2.92v24.75h-2.92zM731.64 1551.3h2.92v24.75h-2.92zM760.81 1551.3h2.92v24.75h-2.92zM778.3 1551.3h2.92v24.75h-2.92zM372.86 1576.05h2.95v24.75h-2.95zM407.95 1576.05h2.92v24.75h-2.92zM451.69 1576.05h2.92v24.75h-2.92zM495.43 1576.05h2.92v24.75h-2.92zM507.1 1576.05h2.92v24.75h-2.92zM559.59 1576.05h2.92v24.75h-2.92zM591.67 1576.05h2.92v24.75h-2.92zM696.65 1576.05h2.92v24.75h-2.92zM708.31 1576.05h2.92v24.75h-2.92zM722.9 1576.05h2.92v24.75h-2.92zM731.64 1576.05h2.92v24.75h-2.92zM287.39 1600.8h2.95v24.75h-2.95zM302.12 1600.8h2.95v24.75h-2.95zM512.93 1600.8h2.92v24.75h-2.92zM565.42 1600.8h2.92v24.75h-2.92zM649.99 1600.8h2.92v24.75h-2.92zM690.82 1600.8h2.92v24.75h-2.92zM731.64 1600.8h2.92v24.75h-2.92zM184.24 1625.55h2.95v24.75h-2.95zM416.69 1625.55h2.92v24.75h-2.92zM533.34 1625.55h2.92v24.75h-2.92zM574.17 1625.55h2.92v24.75h-2.92zM594.58 1625.55h2.92v24.75h-2.92zM696.65 1625.55h2.92v24.75h-2.92z"/>
<path fill="#fef9f9" d="M193.08 957.3h2.95v24.75h-2.95zM269.71 957.3h2.95v24.75h-2.95zM308.02 957.3h5.89v24.75h-5.89zM413.78 957.3h2.92v24.75h-2.92zM442.94 957.3h2.92v24.75h-2.92zM451.69 957.3h2.92v24.75h-2.92zM460.44 957.3h2.92v24.75h-2.92zM510.01 957.3h2.92v24.75h-2.92zM518.76 957.3h2.92v24.75h-2.92zM536.26 957.3h2.92v24.75h-2.92zM542.09 957.3h2.92v24.75h-2.92zM547.92 957.3h2.92v24.75h-2.92zM600.41 957.3h2.92v24.75h-2.92zM638.33 957.3h2.92v24.75h-2.92zM682.07 957.3h2.92v24.75h-2.92zM717.06 957.3h5.83v24.75h-5.83zM789.97 957.3h2.92v24.75h-2.92zM175.39 982.05h2.95v24.75h-2.95zM187.18 982.05h2.95v24.75h-2.95zM196.03 982.05h2.95v24.75h-2.95zM213.71 982.05h2.95v24.75h-2.95zM246.13 982.05h2.95v24.75h-2.95zM257.92 982.05h2.95v24.75h-2.95zM346.33 982.05h2.95v24.75h-2.95zM463.35 982.05h2.92v24.75h-2.92zM475.02 982.05h2.92v24.75h-2.92zM515.85 982.05h2.92v24.75h-2.92zM588.75 982.05h2.92v24.75h-2.92zM597.5 982.05h2.92v24.75h-2.92zM719.98 982.05h2.92v24.75h-2.92zM204.87 1006.8h2.95v24.75h-2.95zM216.66 1006.8h2.95v24.75h-2.95zM257.92 1006.8h2.95v24.75h-2.95zM310.97 1006.8h2.95v24.75h-2.95zM346.33 1006.8h2.95v24.75h-2.95zM369.91 1006.8h5.89v24.75h-5.89zM477.93 1006.8h5.83v24.75h-5.83zM512.93 1006.8h2.92v24.75h-2.92zM539.17 1006.8h8.75v24.75h-8.75zM571.25 1006.8h2.92v24.75h-2.92zM649.99 1006.8h2.92v24.75h-2.92zM664.57 1006.8h2.92v24.75h-2.92zM670.4 1006.8h2.92v24.75h-2.92zM684.98 1006.8h2.92v24.75h-2.92zM722.9 1006.8h2.92v24.75h-2.92zM778.3 1006.8h2.92v24.75h-2.92zM198.97 1031.55h2.95v24.75h-2.95zM213.71 1031.55h2.95v24.75h-2.95zM266.76 1031.55h2.95v24.75h-2.95zM296.23 1031.55h2.95v24.75h-2.95zM305.07 1031.55h2.95v24.75h-2.95zM313.91 1031.55h2.95v24.75h-2.95zM322.76 1031.55h2.95v24.75h-2.95zM361.07 1031.55h2.95v24.75h-2.95zM372.86 1031.55h2.95v24.75h-2.95zM405.03 1031.55h2.92v24.75h-2.92zM425.44 1031.55h2.92v24.75h-2.92zM463.35 1031.55h2.92v24.75h-2.92zM571.25 1031.55h2.92v24.75h-2.92zM635.41 1031.55h2.92v24.75h-2.92zM699.57 1031.55h2.92v24.75h-2.92zM207.81 1056.3h2.95v24.75h-2.95zM260.86 1056.3h2.95v24.75h-2.95zM296.23 1056.3h2.95v24.75h-2.95zM390.45 1056.3h2.92v24.75h-2.92zM405.03 1056.3h2.92v24.75h-2.92zM425.44 1056.3h2.92v24.75h-2.92zM568.34 1056.3h2.92v24.75h-2.92zM582.92 1056.3h2.92v24.75h-2.92zM682.07 1056.3h2.92v24.75h-2.92zM198.97 1081.05h2.95v24.75h-2.95zM213.71 1081.05h2.95v24.75h-2.95zM305.07 1081.05h2.95v24.75h-2.95zM440.02 1081.05h2.92v24.75h-2.92zM451.69 1081.05h2.92v24.75h-2.92zM463.35 1081.05h2.92v24.75h-2.92zM475.02 1081.05h2.92v24.75h-2.92zM550.84 1081.05h2.92v24.75h-2.92zM565.42 1081.05h2.92v24.75h-2.92zM600.41 1081.05h2.92v24.75h-2.92zM609.16 1081.05h2.92v24.75h-2.92zM626.66 1081.05h2.92v24.75h-2.92zM664.57 1081.05h5.83v24.75h-5.83zM684.98 1081.05h2.92v24.75h-2.92zM740.39 1081.05h2.92v24.75h-2.92zM754.97 1081.05h2.92v24.75h-2.92zM175.39 1105.8h2.95v24.75h-2.95zM210.76 1105.8h2.95v24.75h-2.95zM257.92 1105.8h2.95v24.75h-2.95zM266.76 1105.8h2.95v24.75h-2.95zM337.49 1105.8h8.84v24.75h-8.84zM393.36 1105.8h2.92v24.75h-2.92zM405.03 1105.8h2.92v24.75h-2.92zM454.6 1105.8h2.92v24.75h-2.92zM483.77 1105.8h2.92v24.75h-2.92zM492.52 1105.8h2.92v24.75h-2.92zM510.01 1105.8h2.92v24.75h-2.92zM515.85 1105.8h2.92v24.75h-2.92zM545.01 1105.8h2.92v24.75h-2.92zM559.59 1105.8h2.92v24.75h-2.92zM568.34 1105.8h2.92v24.75h-2.92zM615 1105.8h2.92v24.75h-2.92zM623.74 1105.8h2.92v24.75h-2.92zM644.16 1105.8h2.92v24.75h-2.92zM670.4 1105.8h2.92v24.75h-2.92zM682.07 1105.8h5.83v24.75h-5.83zM690.82 1105.8h2.92v24.75h-2.92zM708.31 1105.8h2.92v24.75h-2.92zM757.89 1105.8h2.92v24.75h-2.92zM193.08 1130.55h2.95v24.75h-2.95zM225.5 1130.55h2.95v24.75h-2.95zM266.76 1130.55h2.95v24.75h-2.95zM290.34 1130.55h2.95v24.75h-2.95zM302.12 1130.55h2.95v24.75h-2.95zM313.91 1130.55h2.95v24.75h-2.95zM343.39 1130.55h2.95v24.75h-2.95zM536.26 1130.55h2.92v24.75h-2.92zM547.92 1130.55h2.92v24.75h-2.92zM629.58 1130.55h2.92v24.75h-2.92zM740.39 1130.55h2.92v24.75h-2.92zM749.14 1130.55h2.92v24.75h-2.92zM305.07 1155.3h2.95v24.75h-2.95zM364.02 1155.3h2.95v24.75h-2.95zM492.52 1155.3h2.92v24.75h-2.92zM501.26 1155.3h2.92v24.75h-2.92zM527.51 1155.3h2.92v24.75h-2.92zM547.92 1155.3h2.92v24.75h-2.92zM600.41 1155.3h2.92v24.75h-2.92zM626.66 1155.3h2.92v24.75h-2.92zM649.99 1155.3h2.92v24.75h-2.92zM737.48 1155.3h2.92v24.75h-2.92zM746.22 1155.3h2.92v24.75h-2.92zM789.97 1155.3h2.92v24.75h-2.92zM175.39 1180.05h2.95v24.75h-2.95zM190.13 1180.05h2.95v24.75h-2.95zM198.97 1180.05h2.95v24.75h-2.95zM240.23 1180.05h2.95v24.75h-2.95zM249.07 1180.05h2.95v24.75h-2.95zM390.45 1180.05h5.83v24.75h-5.83zM413.78 1180.05h2.92v24.75h-2.92zM445.86 1180.05h2.92v24.75h-2.92zM454.6 1180.05h5.83v24.75h-5.83zM562.5 1180.05h2.92v24.75h-2.92zM582.92 1180.05h2.92v24.75h-2.92zM693.73 1180.05h2.92v24.75h-2.92zM699.57 1180.05h2.92v24.75h-2.92zM757.89 1180.05h2.92v24.75h-2.92zM260.86 1204.8h2.95v24.75h-2.95zM316.86 1204.8h2.95v24.75h-2.95zM322.76 1204.8h2.95v24.75h-2.95zM372.86 1204.8h2.95v24.75h-2.95zM393.36 1204.8h2.92v24.75h-2.92zM556.67 1204.8h2.92v24.75h-2.92zM565.42 1204.8h2.92v24.75h-2.92zM582.92 1204.8h2.92v24.75h-2.92zM597.5 1204.8h2.92v24.75h-2.92zM612.08 1204.8h2.92v24.75h-2.92zM649.99 1204.8h2.92v24.75h-2.92zM661.65 1204.8h2.92v24.75h-2.92zM670.4 1204.8h2.92v24.75h-2.92zM722.9 1204.8h2.92v24.75h-2.92zM728.73 1204.8h2.92v24.75h-2.92zM210.76 1229.55h2.95v24.75h-2.95zM266.76 1229.55h5.89v24.75h-5.89zM422.53 1229.55h2.92v24.75h-2.92zM448.77 1229.55h2.92v24.75h-2.92zM515.85 1229.55h2.92v24.75h-2.92zM536.26 1229.55h5.83v24.75h-5.83zM550.84 1229.55h2.92v24.75h-2.92zM582.92 1229.55h2.92v24.75h-2.92zM594.58 1229.55h2.92v24.75h-2.92zM609.16 1229.55h2.92v24.75h-2.92zM641.24 1229.55h2.92v24.75h-2.92zM649.99 1229.55h2.92v24.75h-2.92zM661.65 1229.55h5.83v24.75h-5.83zM728.73 1229.55h2.92v24.75h-2.92zM752.06 1229.55h2.92v24.75h-2.92zM789.97 1229.55h2.92v24.75h-2.92zM225.5 1254.3h2.95v24.75h-2.95zM275.6 1254.3h2.95v24.75h-2.95zM281.49 1254.3h2.95v24.75h-2.95zM287.39 1254.3h2.95v24.75h-2.95zM305.07 1254.3h2.95v24.75h-2.95zM393.36 1254.3h2.92v24.75h-2.92zM405.03 1254.3h2.92v24.75h-2.92zM410.86 1254.3h2.92v24.75h-2.92zM425.44 1254.3h2.92v24.75h-2.92zM489.6 1254.3h5.83v24.75h-5.83zM510.01 1254.3h2.92v24.75h-2.92zM515.85 1254.3h2.92v24.75h-2.92zM536.26 1254.3h2.92v24.75h-2.92zM568.34 1254.3h2.92v24.75h-2.92zM609.16 1254.3h2.92v24.75h-2.92zM719.98 1254.3h2.92v24.75h-2.92zM740.39 1254.3h2.92v24.75h-2.92zM181.29 1279.05h5.89v24.75h-5.89zM190.13 1279.05h5.89v24.75h-5.89zM198.97 1279.05h2.95v24.75h-2.95zM225.5 1279.05h2.95v24.75h-2.95zM381.7 1279.05h2.92v24.75h-2.92zM387.53 1279.05h2.92v24.75h-2.92zM477.93 1279.05h2.92v24.75h-2.92zM571.25 1279.05h2.92v24.75h-2.92zM609.16 1279.05h2.92v24.75h-2.92zM615 1279.05h2.92v24.75h-2.92zM746.22 1279.05h2.92v24.75h-2.92zM175.39 1303.8h2.95v24.75h-2.95zM184.24 1303.8h2.95v24.75h-2.95zM254.97 1303.8h2.95v24.75h-2.95zM287.39 1303.8h2.95v24.75h-2.95zM364.02 1303.8h2.95v24.75h-2.95zM381.7 1303.8h2.92v24.75h-2.92zM425.44 1303.8h2.92v24.75h-2.92zM442.94 1303.8h2.92v24.75h-2.92zM463.35 1303.8h2.92v24.75h-2.92zM510.01 1303.8h2.92v24.75h-2.92zM515.85 1303.8h2.92v24.75h-2.92zM562.5 1303.8h2.92v24.75h-2.92zM615 1303.8h2.92v24.75h-2.92zM638.33 1303.8h2.92v24.75h-2.92zM649.99 1303.8h2.92v24.75h-2.92zM714.15 1303.8h2.92v24.75h-2.92zM225.5 1328.55h2.95v24.75h-2.95zM275.6 1328.55h2.95v24.75h-2.95zM302.12 1328.55h5.89v24.75h-5.89zM325.7 1328.55h2.95v24.75h-2.95zM387.53 1328.55h2.92v24.75h-2.92zM437.11 1328.55h2.92v24.75h-2.92zM448.77 1328.55h2.92v24.75h-2.92zM486.68 1328.55h2.92v24.75h-2.92zM507.1 1328.55h5.83v24.75h-5.83zM547.92 1328.55h2.92v24.75h-2.92zM699.57 1328.55h2.92v24.75h-2.92zM190.13 1353.3h5.89v24.75h-5.89zM266.76 1353.3h2.95v24.75h-2.95zM287.39 1353.3h2.95v24.75h-2.95zM302.12 1353.3h8.84v24.75h-8.84zM355.17 1353.3h2.95v24.75h-2.95zM405.03 1353.3h2.92v24.75h-2.92zM454.6 1353.3h2.92v24.75h-2.92zM530.43 1353.3h2.92v24.75h-2.92zM536.26 1353.3h2.92v24.75h-2.92zM582.92 1353.3h5.83v24.75h-5.83zM600.41 1353.3h2.92v24.75h-2.92zM641.24 1353.3h2.92v24.75h-2.92zM649.99 1353.3h2.92v24.75h-2.92zM682.07 1353.3h2.92v24.75h-2.92zM699.57 1353.3h2.92v24.75h-2.92zM757.89 1353.3h2.92v24.75h-2.92zM787.05 1353.3h2.92v24.75h-2.92zM201.92 1378.05h2.95v24.75h-2.95zM210.76 1378.05h2.95v24.75h-2.95zM252.02 1378.05h5.89v24.75h-5.89zM296.23 1378.05h2.95v24.75h-2.95zM308.02 1378.05h2.95v24.75h-2.95zM331.6 1378.05h2.95v24.75h-2.95zM413.78 1378.05h2.92v24.75h-2.92zM568.34 1378.05h2.92v24.75h-2.92zM617.91 1378.05h2.92v24.75h-2.92zM649.99 1378.05h2.92v24.75h-2.92zM655.82 1378.05h2.92v24.75h-2.92zM661.65 1378.05h2.92v24.75h-2.92zM684.98 1378.05h2.92v24.75h-2.92zM714.15 1378.05h5.83v24.75h-5.83zM784.14 1378.05h2.92v24.75h-2.92zM293.28 1402.8h5.89v24.75h-5.89zM313.91 1402.8h2.95v24.75h-2.95zM331.6 1402.8h2.95v24.75h-2.95zM352.23 1402.8h5.89v24.75h-5.89zM419.61 1402.8h2.92v24.75h-2.92zM562.5 1402.8h2.92v24.75h-2.92zM626.66 1402.8h2.92v24.75h-2.92zM725.81 1402.8h2.92v24.75h-2.92zM792.88 1402.8h2.92v24.75h-2.92zM225.5 1427.55h2.95v24.75h-2.95zM266.76 1427.55h2.95v24.75h-2.95zM281.49 1427.55h2.95v24.75h-2.95zM293.28 1427.55h2.95v24.75h-2.95zM322.76 1427.55h2.95v24.75h-2.95zM454.6 1427.55h5.83v24.75h-5.83zM585.83 1427.55h2.92v24.75h-2.92zM705.4 1427.55h2.92v24.75h-2.92zM175.39 1452.3h2.95v24.75h-2.95zM190.13 1452.3h2.95v24.75h-2.95zM252.02 1452.3h2.95v24.75h-2.95zM331.6 1452.3h2.95v24.75h-2.95zM343.39 1452.3h2.95v24.75h-2.95zM445.86 1452.3h2.92v24.75h-2.92zM530.43 1452.3h2.92v24.75h-2.92zM623.74 1452.3h2.92v24.75h-2.92zM719.98 1452.3h2.92v24.75h-2.92zM737.48 1452.3h2.92v24.75h-2.92zM754.97 1452.3h2.92v24.75h-2.92zM175.39 1477.05h2.95v24.75h-2.95zM204.87 1477.05h2.95v24.75h-2.95zM249.07 1477.05h2.95v24.75h-2.95zM266.76 1477.05h2.95v24.75h-2.95zM272.65 1477.05h2.95v24.75h-2.95zM364.02 1477.05h2.95v24.75h-2.95zM410.86 1477.05h2.92v24.75h-2.92zM425.44 1477.05h2.92v24.75h-2.92zM582.92 1477.05h2.92v24.75h-2.92zM702.48 1477.05h2.92v24.75h-2.92zM725.81 1477.05h2.92v24.75h-2.92zM784.14 1477.05h2.92v24.75h-2.92zM340.44 1501.8h2.95v24.75h-2.95zM387.53 1501.8h2.92v24.75h-2.92zM475.02 1501.8h2.92v24.75h-2.92zM530.43 1501.8h2.92v24.75h-2.92zM542.09 1501.8h2.92v24.75h-2.92zM597.5 1501.8h2.92v24.75h-2.92zM649.99 1501.8h2.92v24.75h-2.92zM699.57 1501.8h2.92v24.75h-2.92zM181.29 1526.55h2.95v24.75h-2.95zM190.13 1526.55h2.95v24.75h-2.95zM281.49 1526.55h2.95v24.75h-2.95zM372.86 1526.55h2.95v24.75h-2.95zM381.7 1526.55h2.92v24.75h-2.92zM405.03 1526.55h5.83v24.75h-5.83zM413.78 1526.55h2.92v24.75h-2.92zM451.69 1526.55h8.75v24.75h-8.75zM530.43 1526.55h2.92v24.75h-2.92zM565.42 1526.55h2.92v24.75h-2.92zM719.98 1526.55h2.92v24.75h-2.92zM787.05 1526.55h2.92v24.75h-2.92zM210.76 1551.3h2.95v24.75h-2.95zM290.34 1551.3h2.95v24.75h-2.95zM358.12 1551.3h2.95v24.75h-2.95zM384.62 1551.3h2.92v24.75h-2.92zM416.69 1551.3h2.92v24.75h-2.92zM451.69 1551.3h2.92v24.75h-2.92zM463.35 1551.3h2.92v24.75h-2.92zM477.93 1551.3h2.92v24.75h-2.92zM489.6 1551.3h2.92v24.75h-2.92zM501.26 1551.3h2.92v24.75h-2.92zM623.74 1551.3h2.92v24.75h-2.92zM699.57 1551.3h2.92v24.75h-2.92zM717.06 1551.3h2.92v24.75h-2.92zM743.31 1551.3h2.92v24.75h-2.92zM752.06 1551.3h2.92v24.75h-2.92zM175.39 1576.05h2.95v24.75h-2.95zM184.24 1576.05h2.95v24.75h-2.95zM198.97 1576.05h2.95v24.75h-2.95zM207.81 1576.05h2.95v24.75h-2.95zM284.44 1576.05h2.95v24.75h-2.95zM299.18 1576.05h2.95v24.75h-2.95zM349.28 1576.05h2.95v24.75h-2.95zM375.81 1576.05h2.95v24.75h-2.95zM413.78 1576.05h2.92v24.75h-2.92zM422.53 1576.05h2.92v24.75h-2.92zM445.86 1576.05h2.92v24.75h-2.92zM460.44 1576.05h2.92v24.75h-2.92zM475.02 1576.05h2.92v24.75h-2.92zM518.76 1576.05h2.92v24.75h-2.92zM539.17 1576.05h2.92v24.75h-2.92zM550.84 1576.05h2.92v24.75h-2.92zM617.91 1576.05h2.92v24.75h-2.92zM647.07 1576.05h2.92v24.75h-2.92zM661.65 1576.05h2.92v24.75h-2.92zM757.89 1576.05h2.92v24.75h-2.92zM787.05 1576.05h2.92v24.75h-2.92zM193.08 1600.8h2.95v24.75h-2.95zM207.81 1600.8h5.89v24.75h-5.89zM269.71 1600.8h2.95v24.75h-2.95zM530.43 1600.8h2.92v24.75h-2.92zM585.83 1600.8h2.92v24.75h-2.92zM597.5 1600.8h2.92v24.75h-2.92zM620.83 1600.8h2.92v24.75h-2.92zM673.32 1600.8h2.92v24.75h-2.92zM687.9 1600.8h2.92v24.75h-2.92zM711.23 1600.8h2.92v24.75h-2.92zM722.9 1600.8h2.92v24.75h-2.92zM728.73 1600.8h2.92v24.75h-2.92zM784.14 1600.8h2.92v24.75h-2.92zM207.81 1625.55h2.95v24.75h-2.95zM419.61 1625.55h2.92v24.75h-2.92zM553.76 1625.55h2.92v24.75h-2.92zM612.08 1625.55h2.92v24.75h-2.92zM699.57 1625.55h2.92v24.75h-2.92z"/>
<path fill="#ffffff" d="M198.97 957.3h2.95v24.75h-2.95zM219.6 957.3h2.95v24.75h-2.95zM228.44 957.3h2.95v24.75h-2.95zM272.65 957.3h5.89v24.75h-5.89zM284.44 957.3h2.95v24.75h-2.95zM299.18 957.3h2.95v24.75h-2.95zM316.86 957.3h2.95v24.75h-2.95zM343.39 957.3h5.89v24.75h-5.89zM355.17 957.3h2.95v24.75h-2.95zM361.07 957.3h2.95v24.75h-2.95zM384.62 957.3h2.92v24.75h-2.92zM477.93 957.3h2.92v24.75h-2.92zM565.42 957.3h2.92v24.75h-2.92zM626.66 957.3h2.92v24.75h-2.92zM644.16 957.3h2.92v24.75h-2.92zM684.98 957.3h2.92v24.75h-2.92zM743.31 957.3h5.83v24.75h-5.83zM784.14 957.3h2.92v24.75h-2.92zM181.29 982.05h2.95v24.75h-2.95zM216.66 982.05h2.95v24.75h-2.95zM234.34 982.05h2.95v24.75h-2.95zM316.86 982.05h2.95v24.75h-2.95zM328.65 982.05h2.95v24.75h-2.95zM337.49 982.05h2.95v24.75h-2.95zM372.86 982.05h2.95v24.75h-2.95zM454.6 982.05h2.92v24.75h-2.92zM483.77 982.05h5.83v24.75h-5.83zM542.09 982.05h2.92v24.75h-2.92zM644.16 982.05h5.83v24.75h-5.83zM693.73 982.05h2.92v24.75h-2.92zM222.55 1006.8h2.95v24.75h-2.95zM234.34 1006.8h5.89v24.75h-5.89zM269.71 1006.8h2.95v24.75h-2.95zM296.23 1006.8h2.95v24.75h-2.95zM305.07 1006.8h2.95v24.75h-2.95zM399.2 1006.8h2.92v24.75h-2.92zM413.78 1006.8h2.92v24.75h-2.92zM422.53 1006.8h2.92v24.75h-2.92zM475.02 1006.8h2.92v24.75h-2.92zM483.77 1006.8h2.92v24.75h-2.92zM507.1 1006.8h2.92v24.75h-2.92zM699.57 1006.8h2.92v24.75h-2.92zM178.34 1031.55h2.95v24.75h-2.95zM190.13 1031.55h2.95v24.75h-2.95zM225.5 1031.55h2.95v24.75h-2.95zM316.86 1031.55h2.95v24.75h-2.95zM325.7 1031.55h2.95v24.75h-2.95zM346.33 1031.55h2.95v24.75h-2.95zM375.81 1031.55h2.95v24.75h-2.95zM407.95 1031.55h2.92v24.75h-2.92zM419.61 1031.55h2.92v24.75h-2.92zM428.36 1031.55h2.92v24.75h-2.92zM469.19 1031.55h2.92v24.75h-2.92zM507.1 1031.55h2.92v24.75h-2.92zM582.92 1031.55h2.92v24.75h-2.92zM620.83 1031.55h8.75v24.75h-8.75zM661.65 1031.55h2.92v24.75h-2.92zM684.98 1031.55h2.92v24.75h-2.92zM705.4 1031.55h2.92v24.75h-2.92zM749.14 1031.55h2.92v24.75h-2.92zM290.34 1056.3h2.95v24.75h-2.95zM378.75 1056.3h5.86v24.75h-5.86zM387.53 1056.3h2.92v24.75h-2.92zM419.61 1056.3h2.92v24.75h-2.92zM440.02 1056.3h2.92v24.75h-2.92zM469.19 1056.3h5.83v24.75h-5.83zM486.68 1056.3h5.83v24.75h-5.83zM512.93 1056.3h2.92v24.75h-2.92zM542.09 1056.3h2.92v24.75h-2.92zM676.24 1056.3h2.92v24.75h-2.92zM687.9 1056.3h2.92v24.75h-2.92zM693.73 1056.3h2.92v24.75h-2.92zM792.88 1056.3h2.92v24.75h-2.92zM260.86 1081.05h2.95v24.75h-2.95zM281.49 1081.05h2.95v24.75h-2.95zM296.23 1081.05h2.95v24.75h-2.95zM366.96 1081.05h2.95v24.75h-2.95zM381.7 1081.05h2.92v24.75h-2.92zM422.53 1081.05h2.92v24.75h-2.92zM445.86 1081.05h2.92v24.75h-2.92zM512.93 1081.05h5.83v24.75h-5.83zM530.43 1081.05h2.92v24.75h-2.92zM568.34 1081.05h2.92v24.75h-2.92zM597.5 1081.05h2.92v24.75h-2.92zM635.41 1081.05h2.92v24.75h-2.92zM676.24 1081.05h2.92v24.75h-2.92zM714.15 1081.05h2.92v24.75h-2.92zM743.31 1081.05h2.92v24.75h-2.92zM781.22 1081.05h2.92v24.75h-2.92zM228.44 1105.8h2.95v24.75h-2.95zM234.34 1105.8h2.95v24.75h-2.95zM290.34 1105.8h2.95v24.75h-2.95zM316.86 1105.8h2.95v24.75h-2.95zM384.62 1105.8h2.92v24.75h-2.92zM413.78 1105.8h2.92v24.75h-2.92zM451.69 1105.8h2.92v24.75h-2.92zM527.51 1105.8h2.92v24.75h-2.92zM597.5 1105.8h2.92v24.75h-2.92zM612.08 1105.8h2.92v24.75h-2.92zM620.83 1105.8h2.92v24.75h-2.92zM719.98 1105.8h2.92v24.75h-2.92zM746.22 1105.8h2.92v24.75h-2.92zM175.39 1130.55h2.95v24.75h-2.95zM325.7 1130.55h2.95v24.75h-2.95zM340.44 1130.55h2.95v24.75h-2.95zM372.86 1130.55h2.95v24.75h-2.95zM413.78 1130.55h2.92v24.75h-2.92zM425.44 1130.55h2.92v24.75h-2.92zM454.6 1130.55h2.92v24.75h-2.92zM480.85 1130.55h2.92v24.75h-2.92zM539.17 1130.55h2.92v24.75h-2.92zM600.41 1130.55h2.92v24.75h-2.92zM626.66 1130.55h2.92v24.75h-2.92zM664.57 1130.55h2.92v24.75h-2.92zM737.48 1130.55h2.92v24.75h-2.92zM757.89 1130.55h2.92v24.75h-2.92zM175.39 1155.3h2.95v24.75h-2.95zM198.97 1155.3h5.89v24.75h-5.89zM225.5 1155.3h2.95v24.75h-2.95zM254.97 1155.3h2.95v24.75h-2.95zM293.28 1155.3h2.95v24.75h-2.95zM340.44 1155.3h2.95v24.75h-2.95zM466.27 1155.3h2.92v24.75h-2.92zM475.02 1155.3h5.83v24.75h-5.83zM483.77 1155.3h2.92v24.75h-2.92zM489.6 1155.3h2.92v24.75h-2.92zM571.25 1155.3h2.92v24.75h-2.92zM588.75 1155.3h2.92v24.75h-2.92zM603.33 1155.3h2.92v24.75h-2.92zM632.49 1155.3h2.92v24.75h-2.92zM661.65 1155.3h2.92v24.75h-2.92zM670.4 1155.3h2.92v24.75h-2.92zM705.4 1155.3h2.92v24.75h-2.92zM719.98 1155.3h2.92v24.75h-2.92zM763.72 1155.3h2.92v24.75h-2.92zM213.71 1180.05h2.95v24.75h-2.95zM222.55 1180.05h5.89v24.75h-5.89zM269.71 1180.05h2.95v24.75h-2.95zM302.12 1180.05h2.95v24.75h-2.95zM343.39 1180.05h2.95v24.75h-2.95zM378.75 1180.05h2.95v24.75h-2.95zM486.68 1180.05h2.92v24.75h-2.92zM501.26 1180.05h2.92v24.75h-2.92zM682.07 1180.05h2.92v24.75h-2.92zM754.97 1180.05h2.92v24.75h-2.92zM213.71 1204.8h2.95v24.75h-2.95zM378.75 1204.8h5.86v24.75h-5.86zM399.2 1204.8h2.92v24.75h-2.92zM428.36 1204.8h2.92v24.75h-2.92zM442.94 1204.8h2.92v24.75h-2.92zM510.01 1204.8h2.92v24.75h-2.92zM539.17 1204.8h2.92v24.75h-2.92zM562.5 1204.8h2.92v24.75h-2.92zM591.67 1204.8h2.92v24.75h-2.92zM603.33 1204.8h2.92v24.75h-2.92zM667.49 1204.8h2.92v24.75h-2.92zM734.56 1204.8h2.92v24.75h-2.92zM743.31 1204.8h2.92v24.75h-2.92zM784.14 1204.8h2.92v24.75h-2.92zM175.39 1229.55h2.95v24.75h-2.95zM287.39 1229.55h5.89v24.75h-5.89zM369.91 1229.55h2.95v24.75h-2.95zM510.01 1229.55h2.92v24.75h-2.92zM521.68 1229.55h2.92v24.75h-2.92zM565.42 1229.55h2.92v24.75h-2.92zM676.24 1229.55h2.92v24.75h-2.92zM682.07 1229.55h2.92v24.75h-2.92zM705.4 1229.55h2.92v24.75h-2.92zM734.56 1229.55h2.92v24.75h-2.92zM213.71 1254.3h2.95v24.75h-2.95zM254.97 1254.3h2.95v24.75h-2.95zM272.65 1254.3h2.95v24.75h-2.95zM504.18 1254.3h2.92v24.75h-2.92zM594.58 1254.3h2.92v24.75h-2.92zM603.33 1254.3h2.92v24.75h-2.92zM623.74 1254.3h2.92v24.75h-2.92zM641.24 1254.3h5.83v24.75h-5.83zM658.74 1254.3h2.92v24.75h-2.92zM699.57 1254.3h2.92v24.75h-2.92zM757.89 1254.3h2.92v24.75h-2.92zM281.49 1279.05h2.95v24.75h-2.95zM422.53 1279.05h2.92v24.75h-2.92zM448.77 1279.05h2.92v24.75h-2.92zM460.44 1279.05h5.83v24.75h-5.83zM515.85 1279.05h2.92v24.75h-2.92zM547.92 1279.05h2.92v24.75h-2.92zM556.67 1279.05h2.92v24.75h-2.92zM562.5 1279.05h2.92v24.75h-2.92zM626.66 1279.05h2.92v24.75h-2.92zM661.65 1279.05h2.92v24.75h-2.92zM687.9 1279.05h2.92v24.75h-2.92zM749.14 1279.05h2.92v24.75h-2.92zM222.55 1303.8h2.95v24.75h-2.95zM393.36 1303.8h2.92v24.75h-2.92zM399.2 1303.8h2.92v24.75h-2.92zM466.27 1303.8h2.92v24.75h-2.92zM620.83 1303.8h5.83v24.75h-5.83zM647.07 1303.8h2.92v24.75h-2.92zM661.65 1303.8h2.92v24.75h-2.92zM705.4 1303.8h2.92v24.75h-2.92zM711.23 1303.8h2.92v24.75h-2.92zM725.81 1303.8h2.92v24.75h-2.92zM175.39 1328.55h2.95v24.75h-2.95zM184.24 1328.55h2.95v24.75h-2.95zM260.86 1328.55h2.95v24.75h-2.95zM364.02 1328.55h2.95v24.75h-2.95zM369.91 1328.55h2.95v24.75h-2.95zM512.93 1328.55h2.92v24.75h-2.92zM530.43 1328.55h2.92v24.75h-2.92zM556.67 1328.55h2.92v24.75h-2.92zM588.75 1328.55h2.92v24.75h-2.92zM594.58 1328.55h2.92v24.75h-2.92zM600.41 1328.55h2.92v24.75h-2.92zM644.16 1328.55h2.92v24.75h-2.92zM752.06 1328.55h2.92v24.75h-2.92zM296.23 1353.3h2.95v24.75h-2.95zM340.44 1353.3h2.95v24.75h-2.95zM352.23 1353.3h2.95v24.75h-2.95zM451.69 1353.3h2.92v24.75h-2.92zM480.85 1353.3h2.92v24.75h-2.92zM515.85 1353.3h2.92v24.75h-2.92zM568.34 1353.3h2.92v24.75h-2.92zM594.58 1353.3h2.92v24.75h-2.92zM670.4 1353.3h2.92v24.75h-2.92zM705.4 1353.3h2.92v24.75h-2.92zM749.14 1353.3h2.92v24.75h-2.92zM766.64 1353.3h2.92v24.75h-2.92zM266.76 1378.05h2.95v24.75h-2.95zM302.12 1378.05h2.95v24.75h-2.95zM313.91 1378.05h2.95v24.75h-2.95zM369.91 1378.05h2.95v24.75h-2.95zM451.69 1378.05h2.92v24.75h-2.92zM472.1 1378.05h2.92v24.75h-2.92zM477.93 1378.05h2.92v24.75h-2.92zM501.26 1378.05h2.92v24.75h-2.92zM559.59 1378.05h2.92v24.75h-2.92zM591.67 1378.05h5.83v24.75h-5.83zM600.41 1378.05h5.83v24.75h-5.83zM612.08 1378.05h5.83v24.75h-5.83zM676.24 1378.05h2.92v24.75h-2.92zM696.65 1378.05h2.92v24.75h-2.92zM757.89 1378.05h2.92v24.75h-2.92zM178.34 1402.8h2.95v24.75h-2.95zM190.13 1402.8h2.95v24.75h-2.95zM198.97 1402.8h2.95v24.75h-2.95zM393.36 1402.8h2.92v24.75h-2.92zM407.95 1402.8h2.92v24.75h-2.92zM451.69 1402.8h2.92v24.75h-2.92zM489.6 1402.8h2.92v24.75h-2.92zM504.18 1402.8h2.92v24.75h-2.92zM559.59 1402.8h2.92v24.75h-2.92zM568.34 1402.8h5.83v24.75h-5.83zM585.83 1402.8h2.92v24.75h-2.92zM594.58 1402.8h2.92v24.75h-2.92zM603.33 1402.8h2.92v24.75h-2.92zM647.07 1402.8h2.92v24.75h-2.92zM687.9 1402.8h2.92v24.75h-2.92zM787.05 1402.8h2.92v24.75h-2.92zM175.39 1427.55h2.95v24.75h-2.95zM198.97 1427.55h5.89v24.75h-5.89zM287.39 1427.55h2.95v24.75h-2.95zM337.49 1427.55h2.95v24.75h-2.95zM378.75 1427.55h2.95v24.75h-2.95zM472.1 1427.55h2.92v24.75h-2.92zM518.76 1427.55h2.92v24.75h-2.92zM562.5 1427.55h2.92v24.75h-2.92zM568.34 1427.55h2.92v24.75h-2.92zM641.24 1427.55h2.92v24.75h-2.92zM649.99 1427.55h2.92v24.75h-2.92zM682.07 1427.55h2.92v24.75h-2.92zM740.39 1427.55h2.92v24.75h-2.92zM749.14 1427.55h2.92v24.75h-2.92zM234.34 1452.3h2.95v24.75h-2.95zM246.13 1452.3h2.95v24.75h-2.95zM266.76 1452.3h2.95v24.75h-2.95zM296.23 1452.3h2.95v24.75h-2.95zM568.34 1452.3h2.92v24.75h-2.92zM757.89 1452.3h2.92v24.75h-2.92zM766.64 1452.3h2.92v24.75h-2.92zM378.75 1477.05h2.95v24.75h-2.95zM422.53 1477.05h2.92v24.75h-2.92zM472.1 1477.05h2.92v24.75h-2.92zM504.18 1477.05h2.92v24.75h-2.92zM539.17 1477.05h8.75v24.75h-8.75zM597.5 1477.05h2.92v24.75h-2.92zM667.49 1477.05h5.83v24.75h-5.83zM302.12 1501.8h2.95v24.75h-2.95zM337.49 1501.8h2.95v24.75h-2.95zM405.03 1501.8h2.92v24.75h-2.92zM448.77 1501.8h5.83v24.75h-5.83zM489.6 1501.8h2.92v24.75h-2.92zM510.01 1501.8h2.92v24.75h-2.92zM565.42 1501.8h5.83v24.75h-5.83zM629.58 1501.8h2.92v24.75h-2.92zM664.57 1501.8h2.92v24.75h-2.92zM676.24 1501.8h2.92v24.75h-2.92zM684.98 1501.8h2.92v24.75h-2.92zM740.39 1501.8h2.92v24.75h-2.92zM787.05 1501.8h2.92v24.75h-2.92zM184.24 1526.55h2.95v24.75h-2.95zM252.02 1526.55h2.95v24.75h-2.95zM260.86 1526.55h2.95v24.75h-2.95zM287.39 1526.55h2.95v24.75h-2.95zM425.44 1526.55h2.92v24.75h-2.92zM437.11 1526.55h2.92v24.75h-2.92zM480.85 1526.55h2.92v24.75h-2.92zM539.17 1526.55h2.92v24.75h-2.92zM655.82 1526.55h2.92v24.75h-2.92zM661.65 1526.55h2.92v24.75h-2.92zM792.88 1526.55h2.92v24.75h-2.92zM193.08 1551.3h2.95v24.75h-2.95zM219.6 1551.3h2.95v24.75h-2.95zM331.6 1551.3h2.95v24.75h-2.95zM381.7 1551.3h2.92v24.75h-2.92zM399.2 1551.3h2.92v24.75h-2.92zM434.19 1551.3h2.92v24.75h-2.92zM440.02 1551.3h2.92v24.75h-2.92zM472.1 1551.3h2.92v24.75h-2.92zM483.77 1551.3h2.92v24.75h-2.92zM533.34 1551.3h2.92v24.75h-2.92zM547.92 1551.3h2.92v24.75h-2.92zM565.42 1551.3h2.92v24.75h-2.92zM588.75 1551.3h2.92v24.75h-2.92zM661.65 1551.3h2.92v24.75h-2.92zM684.98 1551.3h2.92v24.75h-2.92zM740.39 1551.3h2.92v24.75h-2.92zM190.13 1576.05h5.89v24.75h-5.89zM219.6 1576.05h2.95v24.75h-2.95zM272.65 1576.05h2.95v24.75h-2.95zM313.91 1576.05h2.95v24.75h-2.95zM434.19 1576.05h2.92v24.75h-2.92zM524.59 1576.05h2.92v24.75h-2.92zM609.16 1576.05h2.92v24.75h-2.92zM644.16 1576.05h2.92v24.75h-2.92zM667.49 1576.05h2.92v24.75h-2.92zM679.15 1576.05h2.92v24.75h-2.92zM734.56 1576.05h2.92v24.75h-2.92zM760.81 1576.05h2.92v24.75h-2.92zM775.39 1576.05h2.92v24.75h-2.92zM784.14 1576.05h2.92v24.75h-2.92zM178.34 1600.8h2.95v24.75h-2.95zM190.13 1600.8h2.95v24.75h-2.95zM352.23 1600.8h2.95v24.75h-2.95zM366.96 1600.8h2.95v24.75h-2.95zM375.81 1600.8h2.95v24.75h-2.95zM448.77 1600.8h2.92v24.75h-2.92zM472.1 1600.8h2.92v24.75h-2.92zM480.85 1600.8h5.83v24.75h-5.83zM533.34 1600.8h2.92v24.75h-2.92zM588.75 1600.8h2.92v24.75h-2.92zM626.66 1600.8h2.92v24.75h-2.92zM743.31 1600.8h2.92v24.75h-2.92zM754.97 1600.8h2.92v24.75h-2.92zM190.13 1625.55h2.95v24.75h-2.95zM260.86 1625.55h2.95v24.75h-2.95zM310.97 1625.55h2.95v24.75h-2.95zM343.39 1625.55h2.95v24.75h-2.95zM369.91 1625.55h2.95v24.75h-2.95zM402.11 1625.55h2.92v24.75h-2.92zM475.02 1625.55h2.92v24.75h-2.92zM480.85 1625.55h2.92v24.75h-2.92zM501.26 1625.55h5.83v24.75h-5.83zM556.67 1625.55h2.92v24.75h-2.92zM641.24 1625.55h2.92v24.75h-2.92zM693.73 1625.55h2.92v24.75h-2.92zM708.31 1625.55h2.92v24.75h-2.92zM734.56 1625.55h2.92v24.75h-2.92zM752.06 1625.55h2.92v24.75h-2.92z"/>
<path fill="#f5f5fb" d="M201.92 957.3h2.95v24.75h-2.95zM207.81 957.3h2.95v24.75h-2.95zM225.5 957.3h2.95v24.75h-2.95zM249.07 957.3h2.95v24.75h-2.95zM287.39 957.3h5.89v24.75h-5.89zM313.91 957.3h2.95v24.75h-2.95zM325.7 957.3h2.95v24.75h-2.95zM340.44 957.3h2.95v24.75h-2.95zM358.12 957.3h2.95v24.75h-2.95zM366.96 957.3h2.95v24.75h-2.95zM372.86 957.3h2.95v24.75h-2.95zM390.45 957.3h2.92v24.75h-2.92zM422.53 957.3h2.92v24.75h-2.92zM457.52 957.3h2.92v24.75h-2.92zM582.92 957.3h2.92v24.75h-2.92zM591.67 957.3h2.92v24.75h-2.92zM635.41 957.3h2.92v24.75h-2.92zM667.49 957.3h2.92v24.75h-2.92zM725.81 957.3h2.92v24.75h-2.92zM752.06 957.3h2.92v24.75h-2.92zM763.72 957.3h2.92v24.75h-2.92zM178.34 982.05h2.95v24.75h-2.95zM210.76 982.05h2.95v24.75h-2.95zM252.02 982.05h5.89v24.75h-5.89zM275.6 982.05h2.95v24.75h-2.95zM293.28 982.05h2.95v24.75h-2.95zM310.97 982.05h2.95v24.75h-2.95zM322.76 982.05h2.95v24.75h-2.95zM375.81 982.05h2.95v24.75h-2.95zM437.11 982.05h2.92v24.75h-2.92zM533.34 982.05h5.83v24.75h-5.83zM547.92 982.05h2.92v24.75h-2.92zM565.42 982.05h8.75v24.75h-8.75zM594.58 982.05h2.92v24.75h-2.92zM664.57 982.05h2.92v24.75h-2.92zM725.81 982.05h2.92v24.75h-2.92zM740.39 982.05h2.92v24.75h-2.92zM787.05 982.05h2.92v24.75h-2.92zM178.34 1006.8h2.95v24.75h-2.95zM281.49 1006.8h5.89v24.75h-5.89zM293.28 1006.8h2.95v24.75h-2.95zM375.81 1006.8h2.95v24.75h-2.95zM384.62 1006.8h2.92v24.75h-2.92zM442.94 1006.8h2.92v24.75h-2.92zM448.77 1006.8h2.92v24.75h-2.92zM489.6 1006.8h2.92v24.75h-2.92zM562.5 1006.8h2.92v24.75h-2.92zM582.92 1006.8h2.92v24.75h-2.92zM597.5 1006.8h2.92v24.75h-2.92zM609.16 1006.8h2.92v24.75h-2.92zM644.16 1006.8h2.92v24.75h-2.92zM676.24 1006.8h2.92v24.75h-2.92zM766.64 1006.8h2.92v24.75h-2.92zM784.14 1006.8h2.92v24.75h-2.92zM184.24 1031.55h2.95v24.75h-2.95zM308.02 1031.55h2.95v24.75h-2.95zM331.6 1031.55h2.95v24.75h-2.95zM337.49 1031.55h2.95v24.75h-2.95zM352.23 1031.55h2.95v24.75h-2.95zM364.02 1031.55h2.95v24.75h-2.95zM378.75 1031.55h2.95v24.75h-2.95zM384.62 1031.55h2.92v24.75h-2.92zM390.45 1031.55h2.92v24.75h-2.92zM472.1 1031.55h2.92v24.75h-2.92zM480.85 1031.55h2.92v24.75h-2.92zM518.76 1031.55h2.92v24.75h-2.92zM536.26 1031.55h2.92v24.75h-2.92zM617.91 1031.55h2.92v24.75h-2.92zM629.58 1031.55h2.92v24.75h-2.92zM641.24 1031.55h2.92v24.75h-2.92zM647.07 1031.55h2.92v24.75h-2.92zM690.82 1031.55h2.92v24.75h-2.92zM702.48 1031.55h2.92v24.75h-2.92zM711.23 1031.55h2.92v24.75h-2.92zM752.06 1031.55h2.92v24.75h-2.92zM213.71 1056.3h2.95v24.75h-2.95zM240.23 1056.3h2.95v24.75h-2.95zM340.44 1056.3h2.95v24.75h-2.95zM352.23 1056.3h2.95v24.75h-2.95zM437.11 1056.3h2.92v24.75h-2.92zM451.69 1056.3h8.75v24.75h-8.75zM475.02 1056.3h5.83v24.75h-5.83zM507.1 1056.3h2.92v24.75h-2.92zM527.51 1056.3h2.92v24.75h-2.92zM588.75 1056.3h2.92v24.75h-2.92zM603.33 1056.3h2.92v24.75h-2.92zM626.66 1056.3h2.92v24.75h-2.92zM647.07 1056.3h2.92v24.75h-2.92zM652.91 1056.3h2.92v24.75h-2.92zM717.06 1056.3h2.92v24.75h-2.92zM266.76 1081.05h2.95v24.75h-2.95zM272.65 1081.05h2.95v24.75h-2.95zM387.53 1081.05h2.92v24.75h-2.92zM454.6 1081.05h2.92v24.75h-2.92zM466.27 1081.05h2.92v24.75h-2.92zM483.77 1081.05h2.92v24.75h-2.92zM489.6 1081.05h2.92v24.75h-2.92zM536.26 1081.05h2.92v24.75h-2.92zM629.58 1081.05h2.92v24.75h-2.92zM638.33 1081.05h2.92v24.75h-2.92zM647.07 1081.05h2.92v24.75h-2.92zM655.82 1081.05h2.92v24.75h-2.92zM722.9 1081.05h2.92v24.75h-2.92zM775.39 1081.05h2.92v24.75h-2.92zM254.97 1105.8h2.95v24.75h-2.95zM346.33 1105.8h2.95v24.75h-2.95zM364.02 1105.8h2.95v24.75h-2.95zM381.7 1105.8h2.92v24.75h-2.92zM425.44 1105.8h2.92v24.75h-2.92zM437.11 1105.8h2.92v24.75h-2.92zM480.85 1105.8h2.92v24.75h-2.92zM536.26 1105.8h2.92v24.75h-2.92zM588.75 1105.8h2.92v24.75h-2.92zM603.33 1105.8h2.92v24.75h-2.92zM626.66 1105.8h2.92v24.75h-2.92zM638.33 1105.8h2.92v24.75h-2.92zM649.99 1105.8h2.92v24.75h-2.92zM696.65 1105.8h2.92v24.75h-2.92zM731.64 1105.8h2.92v24.75h-2.92zM752.06 1105.8h2.92v24.75h-2.92zM766.64 1105.8h2.92v24.75h-2.92zM364.02 1130.55h2.95v24.75h-2.95zM384.62 1130.55h2.92v24.75h-2.92zM448.77 1130.55h5.83v24.75h-5.83zM510.01 1130.55h2.92v24.75h-2.92zM556.67 1130.55h2.92v24.75h-2.92zM594.58 1130.55h2.92v24.75h-2.92zM641.24 1130.55h2.92v24.75h-2.92zM702.48 1130.55h2.92v24.75h-2.92zM719.98 1130.55h2.92v24.75h-2.92zM763.72 1130.55h2.92v24.75h-2.92zM787.05 1130.55h2.92v24.75h-2.92zM260.86 1155.3h2.95v24.75h-2.95zM302.12 1155.3h2.95v24.75h-2.95zM428.36 1155.3h2.92v24.75h-2.92zM451.69 1155.3h2.92v24.75h-2.92zM457.52 1155.3h5.83v24.75h-5.83zM480.85 1155.3h2.92v24.75h-2.92zM676.24 1155.3h2.92v24.75h-2.92zM725.81 1155.3h2.92v24.75h-2.92zM287.39 1180.05h2.95v24.75h-2.95zM337.49 1180.05h2.95v24.75h-2.95zM352.23 1180.05h2.95v24.75h-2.95zM504.18 1180.05h5.83v24.75h-5.83zM512.93 1180.05h2.92v24.75h-2.92zM600.41 1180.05h2.92v24.75h-2.92zM623.74 1180.05h2.92v24.75h-2.92zM629.58 1180.05h2.92v24.75h-2.92zM638.33 1180.05h2.92v24.75h-2.92zM655.82 1180.05h5.83v24.75h-5.83zM705.4 1180.05h2.92v24.75h-2.92zM740.39 1180.05h2.92v24.75h-2.92zM749.14 1180.05h5.83v24.75h-5.83zM789.97 1180.05h2.92v24.75h-2.92zM269.71 1204.8h2.95v24.75h-2.95zM287.39 1204.8h2.95v24.75h-2.95zM346.33 1204.8h2.95v24.75h-2.95zM387.53 1204.8h2.92v24.75h-2.92zM460.44 1204.8h2.92v24.75h-2.92zM477.93 1204.8h2.92v24.75h-2.92zM504.18 1204.8h2.92v24.75h-2.92zM512.93 1204.8h2.92v24.75h-2.92zM518.76 1204.8h2.92v24.75h-2.92zM533.34 1204.8h2.92v24.75h-2.92zM644.16 1204.8h2.92v24.75h-2.92zM717.06 1204.8h2.92v24.75h-2.92zM178.34 1229.55h2.95v24.75h-2.95zM302.12 1229.55h2.95v24.75h-2.95zM310.97 1229.55h2.95v24.75h-2.95zM407.95 1229.55h2.92v24.75h-2.92zM469.19 1229.55h2.92v24.75h-2.92zM518.76 1229.55h2.92v24.75h-2.92zM591.67 1229.55h2.92v24.75h-2.92zM600.41 1229.55h2.92v24.75h-2.92zM699.57 1229.55h2.92v24.75h-2.92zM714.15 1229.55h2.92v24.75h-2.92zM719.98 1229.55h2.92v24.75h-2.92zM198.97 1254.3h2.95v24.75h-2.95zM302.12 1254.3h2.95v24.75h-2.95zM331.6 1254.3h2.95v24.75h-2.95zM437.11 1254.3h2.92v24.75h-2.92zM451.69 1254.3h2.92v24.75h-2.92zM466.27 1254.3h2.92v24.75h-2.92zM477.93 1254.3h2.92v24.75h-2.92zM556.67 1254.3h2.92v24.75h-2.92zM562.5 1254.3h2.92v24.75h-2.92zM711.23 1254.3h2.92v24.75h-2.92zM722.9 1254.3h2.92v24.75h-2.92zM772.47 1254.3h2.92v24.75h-2.92zM784.14 1254.3h2.92v24.75h-2.92zM234.34 1279.05h2.95v24.75h-2.95zM384.62 1279.05h2.92v24.75h-2.92zM393.36 1279.05h2.92v24.75h-2.92zM410.86 1279.05h2.92v24.75h-2.92zM504.18 1279.05h2.92v24.75h-2.92zM512.93 1279.05h2.92v24.75h-2.92zM518.76 1279.05h2.92v24.75h-2.92zM597.5 1279.05h2.92v24.75h-2.92zM641.24 1279.05h5.83v24.75h-5.83zM699.57 1279.05h2.92v24.75h-2.92zM714.15 1279.05h2.92v24.75h-2.92zM302.12 1303.8h5.89v24.75h-5.89zM313.91 1303.8h2.95v24.75h-2.95zM390.45 1303.8h2.92v24.75h-2.92zM407.95 1303.8h2.92v24.75h-2.92zM416.69 1303.8h2.92v24.75h-2.92zM428.36 1303.8h2.92v24.75h-2.92zM448.77 1303.8h2.92v24.75h-2.92zM457.52 1303.8h2.92v24.75h-2.92zM472.1 1303.8h2.92v24.75h-2.92zM533.34 1303.8h2.92v24.75h-2.92zM632.49 1303.8h2.92v24.75h-2.92zM690.82 1303.8h2.92v24.75h-2.92zM708.31 1303.8h2.92v24.75h-2.92zM717.06 1303.8h2.92v24.75h-2.92zM731.64 1303.8h2.92v24.75h-2.92zM740.39 1303.8h2.92v24.75h-2.92zM752.06 1303.8h2.92v24.75h-2.92zM216.66 1328.55h2.95v24.75h-2.95zM252.02 1328.55h2.95v24.75h-2.95zM266.76 1328.55h2.95v24.75h-2.95zM384.62 1328.55h2.92v24.75h-2.92zM399.2 1328.55h2.92v24.75h-2.92zM413.78 1328.55h2.92v24.75h-2.92zM419.61 1328.55h2.92v24.75h-2.92zM457.52 1328.55h5.83v24.75h-5.83zM475.02 1328.55h2.92v24.75h-2.92zM527.51 1328.55h2.92v24.75h-2.92zM568.34 1328.55h2.92v24.75h-2.92zM626.66 1328.55h5.83v24.75h-5.83zM635.41 1328.55h2.92v24.75h-2.92zM649.99 1328.55h2.92v24.75h-2.92zM682.07 1328.55h2.92v24.75h-2.92zM693.73 1328.55h2.92v24.75h-2.92zM740.39 1328.55h2.92v24.75h-2.92zM369.91 1353.3h2.95v24.75h-2.95zM381.7 1353.3h2.92v24.75h-2.92zM387.53 1353.3h2.92v24.75h-2.92zM489.6 1353.3h2.92v24.75h-2.92zM524.59 1353.3h2.92v24.75h-2.92zM542.09 1353.3h2.92v24.75h-2.92zM559.59 1353.3h2.92v24.75h-2.92zM597.5 1353.3h2.92v24.75h-2.92zM615 1353.3h2.92v24.75h-2.92zM629.58 1353.3h2.92v24.75h-2.92zM687.9 1353.3h2.92v24.75h-2.92zM760.81 1353.3h2.92v24.75h-2.92zM792.88 1353.3h2.92v24.75h-2.92zM515.85 1378.05h2.92v24.75h-2.92zM533.34 1378.05h2.92v24.75h-2.92zM626.66 1378.05h2.92v24.75h-2.92zM638.33 1378.05h5.83v24.75h-5.83zM705.4 1378.05h2.92v24.75h-2.92zM772.47 1378.05h5.83v24.75h-5.83zM201.92 1402.8h2.95v24.75h-2.95zM252.02 1402.8h2.95v24.75h-2.95zM305.07 1402.8h2.95v24.75h-2.95zM410.86 1402.8h2.92v24.75h-2.92zM422.53 1402.8h2.92v24.75h-2.92zM442.94 1402.8h2.92v24.75h-2.92zM460.44 1402.8h2.92v24.75h-2.92zM472.1 1402.8h2.92v24.75h-2.92zM515.85 1402.8h2.92v24.75h-2.92zM556.67 1402.8h2.92v24.75h-2.92zM597.5 1402.8h2.92v24.75h-2.92zM620.83 1402.8h5.83v24.75h-5.83zM644.16 1402.8h2.92v24.75h-2.92zM661.65 1402.8h2.92v24.75h-2.92zM699.57 1402.8h2.92v24.75h-2.92zM784.14 1402.8h2.92v24.75h-2.92zM210.76 1427.55h5.89v24.75h-5.89zM346.33 1427.55h2.95v24.75h-2.95zM369.91 1427.55h2.95v24.75h-2.95zM425.44 1427.55h2.92v24.75h-2.92zM460.44 1427.55h2.92v24.75h-2.92zM504.18 1427.55h2.92v24.75h-2.92zM539.17 1427.55h2.92v24.75h-2.92zM603.33 1427.55h2.92v24.75h-2.92zM623.74 1427.55h2.92v24.75h-2.92zM635.41 1427.55h2.92v24.75h-2.92zM647.07 1427.55h2.92v24.75h-2.92zM664.57 1427.55h2.92v24.75h-2.92zM699.57 1427.55h5.83v24.75h-5.83zM731.64 1427.55h2.92v24.75h-2.92zM766.64 1427.55h2.92v24.75h-2.92zM181.29 1452.3h2.95v24.75h-2.95zM364.02 1452.3h2.95v24.75h-2.95zM372.86 1452.3h5.89v24.75h-5.89zM390.45 1452.3h2.92v24.75h-2.92zM410.86 1452.3h2.92v24.75h-2.92zM416.69 1452.3h2.92v24.75h-2.92zM457.52 1452.3h2.92v24.75h-2.92zM466.27 1452.3h2.92v24.75h-2.92zM489.6 1452.3h2.92v24.75h-2.92zM527.51 1452.3h2.92v24.75h-2.92zM545.01 1452.3h2.92v24.75h-2.92zM556.67 1452.3h2.92v24.75h-2.92zM588.75 1452.3h2.92v24.75h-2.92zM600.41 1452.3h2.92v24.75h-2.92zM626.66 1452.3h2.92v24.75h-2.92zM638.33 1452.3h2.92v24.75h-2.92zM682.07 1452.3h2.92v24.75h-2.92zM181.29 1477.05h2.95v24.75h-2.95zM399.2 1477.05h2.92v24.75h-2.92zM501.26 1477.05h2.92v24.75h-2.92zM524.59 1477.05h2.92v24.75h-2.92zM556.67 1477.05h5.83v24.75h-5.83zM588.75 1477.05h5.83v24.75h-5.83zM649.99 1477.05h2.92v24.75h-2.92zM708.31 1477.05h2.92v24.75h-2.92zM717.06 1477.05h2.92v24.75h-2.92zM731.64 1477.05h2.92v24.75h-2.92zM760.81 1477.05h2.92v24.75h-2.92zM222.55 1501.8h2.95v24.75h-2.95zM290.34 1501.8h2.95v24.75h-2.95zM355.17 1501.8h2.95v24.75h-2.95zM454.6 1501.8h2.92v24.75h-2.92zM466.27 1501.8h2.92v24.75h-2.92zM477.93 1501.8h5.83v24.75h-5.83zM512.93 1501.8h2.92v24.75h-2.92zM518.76 1501.8h2.92v24.75h-2.92zM626.66 1501.8h2.92v24.75h-2.92zM722.9 1501.8h2.92v24.75h-2.92zM743.31 1501.8h2.92v24.75h-2.92zM752.06 1501.8h2.92v24.75h-2.92zM775.39 1501.8h2.92v24.75h-2.92zM225.5 1526.55h2.95v24.75h-2.95zM266.76 1526.55h2.95v24.75h-2.95zM337.49 1526.55h2.95v24.75h-2.95zM346.33 1526.55h2.95v24.75h-2.95zM486.68 1526.55h2.92v24.75h-2.92zM507.1 1526.55h5.83v24.75h-5.83zM582.92 1526.55h2.92v24.75h-2.92zM612.08 1526.55h5.83v24.75h-5.83zM623.74 1526.55h2.92v24.75h-2.92zM684.98 1526.55h2.92v24.75h-2.92zM722.9 1526.55h2.92v24.75h-2.92zM749.14 1526.55h2.92v24.75h-2.92zM175.39 1551.3h2.95v24.75h-2.95zM234.34 1551.3h2.95v24.75h-2.95zM260.86 1551.3h2.95v24.75h-2.95zM419.61 1551.3h2.92v24.75h-2.92zM492.52 1551.3h2.92v24.75h-2.92zM498.35 1551.3h2.92v24.75h-2.92zM641.24 1551.3h2.92v24.75h-2.92zM690.82 1551.3h2.92v24.75h-2.92zM781.22 1551.3h2.92v24.75h-2.92zM178.34 1576.05h2.95v24.75h-2.95zM201.92 1576.05h2.95v24.75h-2.95zM240.23 1576.05h2.95v24.75h-2.95zM275.6 1576.05h2.95v24.75h-2.95zM346.33 1576.05h2.95v24.75h-2.95zM352.23 1576.05h2.95v24.75h-2.95zM361.07 1576.05h2.95v24.75h-2.95zM393.36 1576.05h2.92v24.75h-2.92zM504.18 1576.05h2.92v24.75h-2.92zM582.92 1576.05h2.92v24.75h-2.92zM615 1576.05h2.92v24.75h-2.92zM655.82 1576.05h2.92v24.75h-2.92zM705.4 1576.05h2.92v24.75h-2.92zM213.71 1600.8h2.95v24.75h-2.95zM234.34 1600.8h2.95v24.75h-2.95zM381.7 1600.8h2.92v24.75h-2.92zM407.95 1600.8h5.83v24.75h-5.83zM419.61 1600.8h2.92v24.75h-2.92zM428.36 1600.8h2.92v24.75h-2.92zM445.86 1600.8h2.92v24.75h-2.92zM463.35 1600.8h2.92v24.75h-2.92zM489.6 1600.8h2.92v24.75h-2.92zM501.26 1600.8h5.83v24.75h-5.83zM510.01 1600.8h2.92v24.75h-2.92zM571.25 1600.8h2.92v24.75h-2.92zM591.67 1600.8h2.92v24.75h-2.92zM658.74 1600.8h2.92v24.75h-2.92zM699.57 1600.8h2.92v24.75h-2.92zM705.4 1600.8h2.92v24.75h-2.92zM740.39 1600.8h2.92v24.75h-2.92zM775.39 1600.8h2.92v24.75h-2.92zM787.05 1600.8h2.92v24.75h-2.92zM340.44 1625.55h2.95v24.75h-2.95zM364.02 1625.55h2.95v24.75h-2.95zM372.86 1625.55h2.95v24.75h-2.95zM393.36 1625.55h2.92v24.75h-2.92zM524.59 1625.55h2.92v24.75h-2.92zM635.41 1625.55h2.92v24.75h-2.92zM667.49 1625.55h2.92v24.75h-2.92zM717.06 1625.55h2.92v24.75h-2.92zM746.22 1625.55h2.92v24.75h-2.92zM769.55 1625.55h2.92v24.75h-2.92z"/>
<path fill="#fafafd" d="M213.71 957.3h2.95v24.75h-2.95zM240.23 957.3h2.95v24.75h-2.95zM254.97 957.3h5.89v24.75h-5.89zM266.76 957.3h2.95v24.75h-2.95zM387.53 957.3h2.92v24.75h-2.92zM393.36 957.3h2.92v24.75h-2.92zM431.28 957.3h2.92v24.75h-2.92zM480.85 957.3h2.92v24.75h-2.92zM539.17 957.3h2.92v24.75h-2.92zM550.84 957.3h2.92v24.75h-2.92zM559.59 957.3h2.92v24.75h-2.92zM617.91 957.3h2.92v24.75h-2.92zM629.58 957.3h2.92v24.75h-2.92zM647.07 957.3h2.92v24.75h-2.92zM676.24 957.3h2.92v24.75h-2.92zM787.05 957.3h2.92v24.75h-2.92zM222.55 982.05h2.95v24.75h-2.95zM228.44 982.05h2.95v24.75h-2.95zM290.34 982.05h2.95v24.75h-2.95zM308.02 982.05h2.95v24.75h-2.95zM343.39 982.05h2.95v24.75h-2.95zM349.28 982.05h2.95v24.75h-2.95zM358.12 982.05h2.95v24.75h-2.95zM369.91 982.05h2.95v24.75h-2.95zM480.85 982.05h2.92v24.75h-2.92zM507.1 982.05h2.92v24.75h-2.92zM530.43 982.05h2.92v24.75h-2.92zM545.01 982.05h2.92v24.75h-2.92zM600.41 982.05h2.92v24.75h-2.92zM632.49 982.05h2.92v24.75h-2.92zM661.65 982.05h2.92v24.75h-2.92zM667.49 982.05h2.92v24.75h-2.92zM696.65 982.05h2.92v24.75h-2.92zM702.48 982.05h2.92v24.75h-2.92zM714.15 982.05h5.83v24.75h-5.83zM752.06 982.05h2.92v24.75h-2.92zM228.44 1006.8h2.95v24.75h-2.95zM240.23 1006.8h2.95v24.75h-2.95zM246.13 1006.8h2.95v24.75h-2.95zM254.97 1006.8h2.95v24.75h-2.95zM278.55 1006.8h2.95v24.75h-2.95zM334.54 1006.8h8.84v24.75h-8.84zM355.17 1006.8h2.95v24.75h-2.95zM378.75 1006.8h2.95v24.75h-2.95zM431.28 1006.8h2.92v24.75h-2.92zM460.44 1006.8h2.92v24.75h-2.92zM504.18 1006.8h2.92v24.75h-2.92zM536.26 1006.8h2.92v24.75h-2.92zM591.67 1006.8h2.92v24.75h-2.92zM603.33 1006.8h2.92v24.75h-2.92zM615 1006.8h2.92v24.75h-2.92zM629.58 1006.8h2.92v24.75h-2.92zM661.65 1006.8h2.92v24.75h-2.92zM725.81 1006.8h2.92v24.75h-2.92zM254.97 1031.55h2.95v24.75h-2.95zM272.65 1031.55h2.95v24.75h-2.95zM340.44 1031.55h2.95v24.75h-2.95zM434.19 1031.55h2.92v24.75h-2.92zM448.77 1031.55h2.92v24.75h-2.92zM477.93 1031.55h2.92v24.75h-2.92zM539.17 1031.55h5.83v24.75h-5.83zM559.59 1031.55h5.83v24.75h-5.83zM594.58 1031.55h2.92v24.75h-2.92zM667.49 1031.55h2.92v24.75h-2.92zM676.24 1031.55h2.92v24.75h-2.92zM696.65 1031.55h2.92v24.75h-2.92zM722.9 1031.55h5.83v24.75h-5.83zM734.56 1031.55h2.92v24.75h-2.92zM175.39 1056.3h2.95v24.75h-2.95zM181.29 1056.3h2.95v24.75h-2.95zM210.76 1056.3h2.95v24.75h-2.95zM308.02 1056.3h2.95v24.75h-2.95zM337.49 1056.3h2.95v24.75h-2.95zM375.81 1056.3h2.95v24.75h-2.95zM393.36 1056.3h2.92v24.75h-2.92zM413.78 1056.3h2.92v24.75h-2.92zM445.86 1056.3h5.83v24.75h-5.83zM501.26 1056.3h2.92v24.75h-2.92zM565.42 1056.3h2.92v24.75h-2.92zM606.25 1056.3h2.92v24.75h-2.92zM623.74 1056.3h2.92v24.75h-2.92zM699.57 1056.3h5.83v24.75h-5.83zM766.64 1056.3h2.92v24.75h-2.92zM181.29 1081.05h2.95v24.75h-2.95zM210.76 1081.05h2.95v24.75h-2.95zM225.5 1081.05h2.95v24.75h-2.95zM369.91 1081.05h2.95v24.75h-2.95zM448.77 1081.05h2.92v24.75h-2.92zM504.18 1081.05h5.83v24.75h-5.83zM518.76 1081.05h2.92v24.75h-2.92zM533.34 1081.05h2.92v24.75h-2.92zM582.92 1081.05h2.92v24.75h-2.92zM687.9 1081.05h2.92v24.75h-2.92zM696.65 1081.05h2.92v24.75h-2.92zM702.48 1081.05h2.92v24.75h-2.92zM728.73 1081.05h2.92v24.75h-2.92zM752.06 1081.05h2.92v24.75h-2.92zM213.71 1105.8h2.95v24.75h-2.95zM269.71 1105.8h2.95v24.75h-2.95zM448.77 1105.8h2.92v24.75h-2.92zM463.35 1105.8h2.92v24.75h-2.92zM486.68 1105.8h2.92v24.75h-2.92zM550.84 1105.8h2.92v24.75h-2.92zM609.16 1105.8h2.92v24.75h-2.92zM652.91 1105.8h5.83v24.75h-5.83zM661.65 1105.8h2.92v24.75h-2.92zM687.9 1105.8h2.92v24.75h-2.92zM717.06 1105.8h2.92v24.75h-2.92zM763.72 1105.8h2.92v24.75h-2.92zM778.3 1105.8h8.75v24.75h-8.75zM213.71 1130.55h2.95v24.75h-2.95zM222.55 1130.55h2.95v24.75h-2.95zM287.39 1130.55h2.95v24.75h-2.95zM381.7 1130.55h2.92v24.75h-2.92zM387.53 1130.55h2.92v24.75h-2.92zM445.86 1130.55h2.92v24.75h-2.92zM463.35 1130.55h2.92v24.75h-2.92zM472.1 1130.55h2.92v24.75h-2.92zM501.26 1130.55h2.92v24.75h-2.92zM524.59 1130.55h2.92v24.75h-2.92zM585.83 1130.55h2.92v24.75h-2.92zM617.91 1130.55h2.92v24.75h-2.92zM699.57 1130.55h2.92v24.75h-2.92zM734.56 1130.55h2.92v24.75h-2.92zM184.24 1155.3h2.95v24.75h-2.95zM193.08 1155.3h2.95v24.75h-2.95zM252.02 1155.3h2.95v24.75h-2.95zM310.97 1155.3h2.95v24.75h-2.95zM399.2 1155.3h2.92v24.75h-2.92zM405.03 1155.3h2.92v24.75h-2.92zM437.11 1155.3h2.92v24.75h-2.92zM533.34 1155.3h2.92v24.75h-2.92zM597.5 1155.3h2.92v24.75h-2.92zM629.58 1155.3h2.92v24.75h-2.92zM687.9 1155.3h2.92v24.75h-2.92zM752.06 1155.3h2.92v24.75h-2.92zM778.3 1155.3h2.92v24.75h-2.92zM293.28 1180.05h2.95v24.75h-2.95zM305.07 1180.05h2.95v24.75h-2.95zM331.6 1180.05h2.95v24.75h-2.95zM372.86 1180.05h2.95v24.75h-2.95zM387.53 1180.05h2.92v24.75h-2.92zM405.03 1180.05h2.92v24.75h-2.92zM463.35 1180.05h2.92v24.75h-2.92zM480.85 1180.05h2.92v24.75h-2.92zM524.59 1180.05h2.92v24.75h-2.92zM542.09 1180.05h2.92v24.75h-2.92zM559.59 1180.05h2.92v24.75h-2.92zM594.58 1180.05h2.92v24.75h-2.92zM667.49 1180.05h2.92v24.75h-2.92zM684.98 1180.05h2.92v24.75h-2.92zM690.82 1180.05h2.92v24.75h-2.92zM719.98 1180.05h2.92v24.75h-2.92zM737.48 1180.05h2.92v24.75h-2.92zM290.34 1204.8h2.95v24.75h-2.95zM310.97 1204.8h2.95v24.75h-2.95zM337.49 1204.8h2.95v24.75h-2.95zM369.91 1204.8h2.95v24.75h-2.95zM501.26 1204.8h2.92v24.75h-2.92zM515.85 1204.8h2.92v24.75h-2.92zM550.84 1204.8h2.92v24.75h-2.92zM571.25 1204.8h2.92v24.75h-2.92zM588.75 1204.8h2.92v24.75h-2.92zM647.07 1204.8h2.92v24.75h-2.92zM676.24 1204.8h2.92v24.75h-2.92zM682.07 1204.8h2.92v24.75h-2.92zM763.72 1204.8h2.92v24.75h-2.92zM201.92 1229.55h2.95v24.75h-2.95zM260.86 1229.55h2.95v24.75h-2.95zM405.03 1229.55h2.92v24.75h-2.92zM512.93 1229.55h2.92v24.75h-2.92zM547.92 1229.55h2.92v24.75h-2.92zM556.67 1229.55h2.92v24.75h-2.92zM597.5 1229.55h2.92v24.75h-2.92zM603.33 1229.55h2.92v24.75h-2.92zM615 1229.55h2.92v24.75h-2.92zM620.83 1229.55h2.92v24.75h-2.92zM629.58 1229.55h2.92v24.75h-2.92zM667.49 1229.55h2.92v24.75h-2.92zM184.24 1254.3h2.95v24.75h-2.95zM193.08 1254.3h2.95v24.75h-2.95zM207.81 1254.3h2.95v24.75h-2.95zM222.55 1254.3h2.95v24.75h-2.95zM246.13 1254.3h5.89v24.75h-5.89zM337.49 1254.3h2.95v24.75h-2.95zM381.7 1254.3h2.92v24.75h-2.92zM463.35 1254.3h2.92v24.75h-2.92zM507.1 1254.3h2.92v24.75h-2.92zM524.59 1254.3h2.92v24.75h-2.92zM539.17 1254.3h2.92v24.75h-2.92zM547.92 1254.3h5.83v24.75h-5.83zM684.98 1254.3h2.92v24.75h-2.92zM705.4 1254.3h2.92v24.75h-2.92zM210.76 1279.05h2.95v24.75h-2.95zM249.07 1279.05h2.95v24.75h-2.95zM260.86 1279.05h2.95v24.75h-2.95zM296.23 1279.05h2.95v24.75h-2.95zM343.39 1279.05h2.95v24.75h-2.95zM352.23 1279.05h2.95v24.75h-2.95zM416.69 1279.05h2.92v24.75h-2.92zM425.44 1279.05h2.92v24.75h-2.92zM542.09 1279.05h2.92v24.75h-2.92zM550.84 1279.05h2.92v24.75h-2.92zM594.58 1279.05h2.92v24.75h-2.92zM708.31 1279.05h2.92v24.75h-2.92zM207.81 1303.8h2.95v24.75h-2.95zM310.97 1303.8h2.95v24.75h-2.95zM460.44 1303.8h2.92v24.75h-2.92zM480.85 1303.8h2.92v24.75h-2.92zM539.17 1303.8h2.92v24.75h-2.92zM591.67 1303.8h2.92v24.75h-2.92zM600.41 1303.8h2.92v24.75h-2.92zM629.58 1303.8h2.92v24.75h-2.92zM644.16 1303.8h2.92v24.75h-2.92zM213.71 1328.55h2.95v24.75h-2.95zM237.29 1328.55h2.95v24.75h-2.95zM254.97 1328.55h2.95v24.75h-2.95zM272.65 1328.55h2.95v24.75h-2.95zM287.39 1328.55h2.95v24.75h-2.95zM313.91 1328.55h2.95v24.75h-2.95zM393.36 1328.55h2.92v24.75h-2.92zM489.6 1328.55h2.92v24.75h-2.92zM501.26 1328.55h2.92v24.75h-2.92zM518.76 1328.55h2.92v24.75h-2.92zM542.09 1328.55h2.92v24.75h-2.92zM565.42 1328.55h2.92v24.75h-2.92zM661.65 1328.55h2.92v24.75h-2.92zM746.22 1328.55h2.92v24.75h-2.92zM757.89 1328.55h2.92v24.75h-2.92zM763.72 1328.55h5.83v24.75h-5.83zM198.97 1353.3h2.95v24.75h-2.95zM293.28 1353.3h2.95v24.75h-2.95zM521.68 1353.3h2.92v24.75h-2.92zM612.08 1353.3h2.92v24.75h-2.92zM626.66 1353.3h2.92v24.75h-2.92zM664.57 1353.3h2.92v24.75h-2.92zM708.31 1353.3h2.92v24.75h-2.92zM743.31 1353.3h5.83v24.75h-5.83zM213.71 1378.05h2.95v24.75h-2.95zM249.07 1378.05h2.95v24.75h-2.95zM437.11 1378.05h2.92v24.75h-2.92zM507.1 1378.05h2.92v24.75h-2.92zM518.76 1378.05h2.92v24.75h-2.92zM536.26 1378.05h5.83v24.75h-5.83zM550.84 1378.05h2.92v24.75h-2.92zM667.49 1378.05h2.92v24.75h-2.92zM693.73 1378.05h2.92v24.75h-2.92zM789.97 1378.05h2.92v24.75h-2.92zM337.49 1402.8h2.95v24.75h-2.95zM372.86 1402.8h2.95v24.75h-2.95zM448.77 1402.8h2.92v24.75h-2.92zM454.6 1402.8h2.92v24.75h-2.92zM477.93 1402.8h5.83v24.75h-5.83zM536.26 1402.8h2.92v24.75h-2.92zM591.67 1402.8h2.92v24.75h-2.92zM708.31 1402.8h2.92v24.75h-2.92zM749.14 1402.8h5.83v24.75h-5.83zM766.64 1402.8h2.92v24.75h-2.92zM252.02 1427.55h2.95v24.75h-2.95zM290.34 1427.55h2.95v24.75h-2.95zM308.02 1427.55h2.95v24.75h-2.95zM375.81 1427.55h2.95v24.75h-2.95zM393.36 1427.55h2.92v24.75h-2.92zM501.26 1427.55h2.92v24.75h-2.92zM507.1 1427.55h2.92v24.75h-2.92zM556.67 1427.55h2.92v24.75h-2.92zM582.92 1427.55h2.92v24.75h-2.92zM588.75 1427.55h2.92v24.75h-2.92zM615 1427.55h2.92v24.75h-2.92zM626.66 1427.55h8.75v24.75h-8.75zM708.31 1427.55h2.92v24.75h-2.92zM717.06 1427.55h5.83v24.75h-5.83zM201.92 1452.3h2.95v24.75h-2.95zM207.81 1452.3h2.95v24.75h-2.95zM249.07 1452.3h2.95v24.75h-2.95zM254.97 1452.3h2.95v24.75h-2.95zM272.65 1452.3h2.95v24.75h-2.95zM287.39 1452.3h2.95v24.75h-2.95zM293.28 1452.3h2.95v24.75h-2.95zM305.07 1452.3h2.95v24.75h-2.95zM340.44 1452.3h2.95v24.75h-2.95zM486.68 1452.3h2.92v24.75h-2.92zM510.01 1452.3h2.92v24.75h-2.92zM542.09 1452.3h2.92v24.75h-2.92zM565.42 1452.3h2.92v24.75h-2.92zM699.57 1452.3h2.92v24.75h-2.92zM752.06 1452.3h2.92v24.75h-2.92zM784.14 1452.3h2.92v24.75h-2.92zM792.88 1452.3h2.92v24.75h-2.92zM190.13 1477.05h2.95v24.75h-2.95zM457.52 1477.05h2.92v24.75h-2.92zM477.93 1477.05h2.92v24.75h-2.92zM562.5 1477.05h2.92v24.75h-2.92zM644.16 1477.05h2.92v24.75h-2.92zM690.82 1477.05h2.92v24.75h-2.92zM728.73 1477.05h2.92v24.75h-2.92zM249.07 1501.8h5.89v24.75h-5.89zM369.91 1501.8h2.95v24.75h-2.95zM393.36 1501.8h2.92v24.75h-2.92zM428.36 1501.8h2.92v24.75h-2.92zM457.52 1501.8h2.92v24.75h-2.92zM504.18 1501.8h2.92v24.75h-2.92zM582.92 1501.8h2.92v24.75h-2.92zM603.33 1501.8h2.92v24.75h-2.92zM693.73 1501.8h2.92v24.75h-2.92zM708.31 1501.8h2.92v24.75h-2.92zM734.56 1501.8h2.92v24.75h-2.92zM784.14 1501.8h2.92v24.75h-2.92zM198.97 1526.55h2.95v24.75h-2.95zM254.97 1526.55h2.95v24.75h-2.95zM355.17 1526.55h2.95v24.75h-2.95zM393.36 1526.55h2.92v24.75h-2.92zM440.02 1526.55h2.92v24.75h-2.92zM445.86 1526.55h2.92v24.75h-2.92zM463.35 1526.55h2.92v24.75h-2.92zM475.02 1526.55h2.92v24.75h-2.92zM492.52 1526.55h2.92v24.75h-2.92zM518.76 1526.55h2.92v24.75h-2.92zM536.26 1526.55h2.92v24.75h-2.92zM626.66 1526.55h5.83v24.75h-5.83zM699.57 1526.55h2.92v24.75h-2.92zM728.73 1526.55h2.92v24.75h-2.92zM763.72 1526.55h5.83v24.75h-5.83zM204.87 1551.3h2.95v24.75h-2.95zM216.66 1551.3h2.95v24.75h-2.95zM284.44 1551.3h2.95v24.75h-2.95zM302.12 1551.3h2.95v24.75h-2.95zM310.97 1551.3h2.95v24.75h-2.95zM346.33 1551.3h2.95v24.75h-2.95zM375.81 1551.3h2.95v24.75h-2.95zM390.45 1551.3h2.92v24.75h-2.92zM402.11 1551.3h2.92v24.75h-2.92zM442.94 1551.3h2.92v24.75h-2.92zM486.68 1551.3h2.92v24.75h-2.92zM495.43 1551.3h2.92v24.75h-2.92zM507.1 1551.3h2.92v24.75h-2.92zM591.67 1551.3h5.83v24.75h-5.83zM626.66 1551.3h2.92v24.75h-2.92zM673.32 1551.3h5.83v24.75h-5.83zM708.31 1551.3h5.83v24.75h-5.83zM722.9 1551.3h2.92v24.75h-2.92zM204.87 1576.05h2.95v24.75h-2.95zM252.02 1576.05h2.95v24.75h-2.95zM257.92 1576.05h2.95v24.75h-2.95zM296.23 1576.05h2.95v24.75h-2.95zM310.97 1576.05h2.95v24.75h-2.95zM384.62 1576.05h2.92v24.75h-2.92zM437.11 1576.05h2.92v24.75h-2.92zM477.93 1576.05h5.83v24.75h-5.83zM521.68 1576.05h2.92v24.75h-2.92zM536.26 1576.05h2.92v24.75h-2.92zM568.34 1576.05h2.92v24.75h-2.92zM574.17 1576.05h2.92v24.75h-2.92zM594.58 1576.05h2.92v24.75h-2.92zM737.48 1576.05h5.83v24.75h-5.83zM754.97 1576.05h2.92v24.75h-2.92zM763.72 1576.05h5.83v24.75h-5.83zM201.92 1600.8h2.95v24.75h-2.95zM237.29 1600.8h2.95v24.75h-2.95zM275.6 1600.8h2.95v24.75h-2.95zM355.17 1600.8h2.95v24.75h-2.95zM390.45 1600.8h2.92v24.75h-2.92zM431.28 1600.8h2.92v24.75h-2.92zM492.52 1600.8h2.92v24.75h-2.92zM498.35 1600.8h2.92v24.75h-2.92zM524.59 1600.8h2.92v24.75h-2.92zM556.67 1600.8h2.92v24.75h-2.92zM568.34 1600.8h2.92v24.75h-2.92zM655.82 1600.8h2.92v24.75h-2.92zM763.72 1600.8h2.92v24.75h-2.92zM193.08 1625.55h2.95v24.75h-2.95zM210.76 1625.55h2.95v24.75h-2.95zM269.71 1625.55h2.95v24.75h-2.95zM346.33 1625.55h2.95v24.75h-2.95zM375.81 1625.55h2.95v24.75h-2.95zM507.1 1625.55h2.92v24.75h-2.92zM661.65 1625.55h2.92v24.75h-2.92zM749.14 1625.55h2.92v24.75h-2.92zM754.97 1625.55h2.92v24.75h-2.92z"/>
<path fill="#f8dddd" d="M216.66 957.3h2.95v24.75h-2.95zM378.75 957.3h2.95v24.75h-2.95zM410.86 957.3h2.92v24.75h-2.92zM437.11 957.3h2.92v24.75h-2.92zM527.51 957.3h2.92v24.75h-2.92zM556.67 957.3h2.92v24.75h-2.92zM606.25 957.3h2.92v24.75h-2.92zM737.48 957.3h2.92v24.75h-2.92zM792.88 957.3h2.92v24.75h-2.92zM231.39 982.05h2.95v24.75h-2.95zM445.86 982.05h2.92v24.75h-2.92zM682.07 982.05h2.92v24.75h-2.92zM792.88 982.05h2.92v24.75h-2.92zM299.18 1006.8h2.95v24.75h-2.95zM361.07 1006.8h2.95v24.75h-2.95zM390.45 1006.8h5.83v24.75h-5.83zM492.52 1006.8h2.92v24.75h-2.92zM588.75 1006.8h2.92v24.75h-2.92zM626.66 1006.8h2.92v24.75h-2.92zM682.07 1006.8h2.92v24.75h-2.92zM207.81 1031.55h2.95v24.75h-2.95zM219.6 1031.55h2.95v24.75h-2.95zM489.6 1031.55h2.92v24.75h-2.92zM687.9 1031.55h2.92v24.75h-2.92zM740.39 1031.55h2.92v24.75h-2.92zM746.22 1031.55h2.92v24.75h-2.92zM316.86 1056.3h2.95v24.75h-2.95zM515.85 1056.3h2.92v24.75h-2.92zM719.98 1056.3h2.92v24.75h-2.92zM249.07 1081.05h2.95v24.75h-2.95zM334.54 1081.05h2.95v24.75h-2.95zM486.68 1081.05h2.92v24.75h-2.92zM652.91 1081.05h2.92v24.75h-2.92zM658.74 1081.05h2.92v24.75h-2.92zM699.57 1081.05h2.92v24.75h-2.92zM719.98 1081.05h2.92v24.75h-2.92zM204.87 1105.8h2.95v24.75h-2.95zM378.75 1105.8h2.95v24.75h-2.95zM445.86 1105.8h2.92v24.75h-2.92zM501.26 1105.8h2.92v24.75h-2.92zM524.59 1105.8h2.92v24.75h-2.92zM658.74 1105.8h2.92v24.75h-2.92zM254.97 1130.55h5.89v24.75h-5.89zM269.71 1130.55h2.95v24.75h-2.95zM296.23 1130.55h2.95v24.75h-2.95zM410.86 1130.55h2.92v24.75h-2.92zM483.77 1130.55h2.92v24.75h-2.92zM545.01 1130.55h2.92v24.75h-2.92zM181.29 1155.3h2.95v24.75h-2.95zM228.44 1155.3h2.95v24.75h-2.95zM240.23 1155.3h2.95v24.75h-2.95zM249.07 1155.3h2.95v24.75h-2.95zM287.39 1155.3h2.95v24.75h-2.95zM308.02 1155.3h2.95v24.75h-2.95zM343.39 1155.3h2.95v24.75h-2.95zM366.96 1155.3h2.95v24.75h-2.95zM410.86 1155.3h2.92v24.75h-2.92zM754.97 1155.3h2.92v24.75h-2.92zM219.6 1180.05h2.95v24.75h-2.95zM366.96 1180.05h2.95v24.75h-2.95zM527.51 1180.05h2.92v24.75h-2.92zM545.01 1180.05h2.92v24.75h-2.92zM237.29 1204.8h2.95v24.75h-2.95zM410.86 1204.8h2.92v24.75h-2.92zM568.34 1204.8h2.92v24.75h-2.92zM719.98 1204.8h2.92v24.75h-2.92zM193.08 1229.55h2.95v24.75h-2.95zM216.66 1229.55h2.95v24.75h-2.95zM225.5 1229.55h2.95v24.75h-2.95zM272.65 1229.55h2.95v24.75h-2.95zM331.6 1229.55h2.95v24.75h-2.95zM366.96 1229.55h2.95v24.75h-2.95zM381.7 1229.55h2.92v24.75h-2.92zM390.45 1229.55h2.92v24.75h-2.92zM454.6 1229.55h2.92v24.75h-2.92zM492.52 1229.55h2.92v24.75h-2.92zM524.59 1229.55h5.83v24.75h-5.83zM545.01 1229.55h2.92v24.75h-2.92zM568.34 1229.55h2.92v24.75h-2.92zM652.91 1229.55h2.92v24.75h-2.92zM687.9 1229.55h2.92v24.75h-2.92zM693.73 1229.55h2.92v24.75h-2.92zM757.89 1229.55h2.92v24.75h-2.92zM792.88 1229.55h2.92v24.75h-2.92zM228.44 1254.3h2.95v24.75h-2.95zM308.02 1254.3h2.95v24.75h-2.95zM325.7 1254.3h2.95v24.75h-2.95zM366.96 1254.3h2.95v24.75h-2.95zM565.42 1254.3h2.92v24.75h-2.92zM606.25 1254.3h2.92v24.75h-2.92zM664.57 1254.3h2.92v24.75h-2.92zM670.4 1254.3h2.92v24.75h-2.92zM787.05 1254.3h2.92v24.75h-2.92zM792.88 1254.3h2.92v24.75h-2.92zM246.13 1279.05h2.95v24.75h-2.95zM269.71 1279.05h2.95v24.75h-2.95zM390.45 1279.05h2.92v24.75h-2.92zM457.52 1279.05h2.92v24.75h-2.92zM623.74 1279.05h2.92v24.75h-2.92zM719.98 1279.05h2.92v24.75h-2.92zM754.97 1279.05h5.83v24.75h-5.83zM190.13 1303.8h2.95v24.75h-2.95zM234.34 1303.8h2.95v24.75h-2.95zM284.44 1303.8h2.95v24.75h-2.95zM296.23 1303.8h2.95v24.75h-2.95zM340.44 1303.8h2.95v24.75h-2.95zM361.07 1303.8h2.95v24.75h-2.95zM652.91 1303.8h2.92v24.75h-2.92zM667.49 1303.8h2.92v24.75h-2.92zM284.44 1328.55h2.95v24.75h-2.95zM425.44 1328.55h5.83v24.75h-5.83zM440.02 1328.55h2.92v24.75h-2.92zM260.86 1353.3h2.95v24.75h-2.95zM349.28 1353.3h2.95v24.75h-2.95zM609.16 1353.3h2.92v24.75h-2.92zM658.74 1353.3h2.92v24.75h-2.92zM684.98 1353.3h2.92v24.75h-2.92zM181.29 1378.05h2.95v24.75h-2.95zM190.13 1378.05h2.95v24.75h-2.95zM225.5 1378.05h5.89v24.75h-5.89zM240.23 1378.05h2.95v24.75h-2.95zM293.28 1378.05h2.95v24.75h-2.95zM425.44 1378.05h2.92v24.75h-2.92zM454.6 1378.05h2.92v24.75h-2.92zM460.44 1378.05h2.92v24.75h-2.92zM489.6 1378.05h5.83v24.75h-5.83zM609.16 1378.05h2.92v24.75h-2.92zM670.4 1378.05h2.92v24.75h-2.92zM682.07 1378.05h2.92v24.75h-2.92zM746.22 1378.05h2.92v24.75h-2.92zM763.72 1378.05h2.92v24.75h-2.92zM792.88 1378.05h2.92v24.75h-2.92zM184.24 1402.8h2.95v24.75h-2.95zM204.87 1402.8h5.89v24.75h-5.89zM234.34 1402.8h2.95v24.75h-2.95zM246.13 1402.8h2.95v24.75h-2.95zM378.75 1402.8h5.86v24.75h-5.86zM405.03 1402.8h2.92v24.75h-2.92zM629.58 1402.8h2.92v24.75h-2.92zM649.99 1402.8h2.92v24.75h-2.92zM190.13 1427.55h2.95v24.75h-2.95zM228.44 1427.55h2.95v24.75h-2.95zM316.86 1427.55h2.95v24.75h-2.95zM410.86 1427.55h2.92v24.75h-2.92zM475.02 1427.55h2.92v24.75h-2.92zM565.42 1427.55h2.92v24.75h-2.92zM228.44 1452.3h2.95v24.75h-2.95zM284.44 1452.3h2.95v24.75h-2.95zM308.02 1452.3h2.95v24.75h-2.95zM349.28 1452.3h2.95v24.75h-2.95zM366.96 1452.3h2.95v24.75h-2.95zM483.77 1452.3h2.92v24.75h-2.92zM746.22 1452.3h2.92v24.75h-2.92zM222.55 1477.05h2.95v24.75h-2.95zM252.02 1477.05h2.95v24.75h-2.95zM331.6 1477.05h2.95v24.75h-2.95zM340.44 1477.05h2.95v24.75h-2.95zM366.96 1477.05h2.95v24.75h-2.95zM483.77 1477.05h2.92v24.75h-2.92zM585.83 1477.05h2.92v24.75h-2.92zM719.98 1477.05h2.92v24.75h-2.92zM184.24 1501.8h2.95v24.75h-2.95zM219.6 1501.8h2.95v24.75h-2.95zM260.86 1501.8h2.95v24.75h-2.95zM284.44 1501.8h2.95v24.75h-2.95zM325.7 1501.8h2.95v24.75h-2.95zM334.54 1501.8h2.95v24.75h-2.95zM366.96 1501.8h2.95v24.75h-2.95zM486.68 1501.8h2.92v24.75h-2.92zM545.01 1501.8h5.83v24.75h-5.83zM606.25 1501.8h2.92v24.75h-2.92zM789.97 1501.8h2.92v24.75h-2.92zM308.02 1526.55h2.95v24.75h-2.95zM527.51 1526.55h2.92v24.75h-2.92zM187.18 1551.3h2.95v24.75h-2.95zM207.81 1551.3h2.95v24.75h-2.95zM272.65 1551.3h2.95v24.75h-2.95zM305.07 1551.3h2.95v24.75h-2.95zM328.65 1551.3h2.95v24.75h-2.95zM387.53 1551.3h2.92v24.75h-2.92zM638.33 1551.3h2.92v24.75h-2.92zM652.91 1551.3h2.92v24.75h-2.92zM746.22 1551.3h2.92v24.75h-2.92zM196.03 1576.05h2.95v24.75h-2.95zM213.71 1576.05h2.95v24.75h-2.95zM340.44 1576.05h2.95v24.75h-2.95zM410.86 1576.05h2.92v24.75h-2.92zM463.35 1576.05h2.92v24.75h-2.92zM542.09 1576.05h2.92v24.75h-2.92zM588.75 1576.05h2.92v24.75h-2.92zM181.29 1600.8h8.84v24.75h-8.84zM198.97 1600.8h2.95v24.75h-2.95zM343.39 1600.8h2.95v24.75h-2.95zM451.69 1600.8h2.92v24.75h-2.92zM477.93 1600.8h2.92v24.75h-2.92zM562.5 1600.8h2.92v24.75h-2.92zM615 1600.8h2.92v24.75h-2.92zM629.58 1600.8h5.83v24.75h-5.83zM638.33 1600.8h2.92v24.75h-2.92zM676.24 1600.8h2.92v24.75h-2.92zM231.39 1625.55h2.95v24.75h-2.95zM296.23 1625.55h2.95v24.75h-2.95zM410.86 1625.55h2.92v24.75h-2.92zM454.6 1625.55h2.92v24.75h-2.92zM492.52 1625.55h2.92v24.75h-2.92zM530.43 1625.55h2.92v24.75h-2.92zM562.5 1625.55h2.92v24.75h-2.92zM585.83 1625.55h2.92v24.75h-2.92zM600.41 1625.55h2.92v24.75h-2.92zM682.07 1625.55h2.92v24.75h-2.92zM719.98 1625.55h2.92v24.75h-2.92zM787.05 1625.55h2.92v24.75h-2.92z"/>
<path fill="#f4cbcb" d="M231.39 957.3h2.95v24.75h-2.95zM687.9 957.3h2.92v24.75h-2.92zM284.44 982.05h2.95v24.75h-2.95zM585.83 982.05h2.92v24.75h-2.92zM530.43 1006.8h2.92v24.75h-2.92zM687.9 1006.8h2.92v24.75h-2.92zM492.52 1031.55h2.92v24.75h-2.92zM600.41 1031.55h2.92v24.75h-2.92zM606.25 1031.55h2.92v24.75h-2.92zM305.07 1056.3h2.95v24.75h-2.95zM349.28 1056.3h2.95v24.75h-2.95zM609.16 1056.3h2.92v24.75h-2.92zM234.34 1081.05h2.95v24.75h-2.95zM269.71 1081.05h2.95v24.75h-2.95zM284.44 1081.05h2.95v24.75h-2.95zM375.81 1081.05h2.95v24.75h-2.95zM792.88 1081.05h2.92v24.75h-2.92zM361.07 1105.8h2.95v24.75h-2.95zM240.23 1130.55h2.95v24.75h-2.95zM687.9 1130.55h2.92v24.75h-2.92zM655.82 1155.3h2.92v24.75h-2.92zM316.86 1180.05h2.95v24.75h-2.95zM204.87 1204.8h2.95v24.75h-2.95zM216.66 1204.8h2.95v24.75h-2.95zM234.34 1204.8h2.95v24.75h-2.95zM334.54 1204.8h2.95v24.75h-2.95zM349.28 1204.8h2.95v24.75h-2.95zM366.96 1204.8h2.95v24.75h-2.95zM384.62 1204.8h2.92v24.75h-2.92zM486.68 1204.8h2.92v24.75h-2.92zM545.01 1204.8h2.92v24.75h-2.92zM792.88 1204.8h2.92v24.75h-2.92zM213.71 1229.55h2.95v24.75h-2.95zM325.7 1229.55h2.95v24.75h-2.95zM349.28 1229.55h2.95v24.75h-2.95zM463.35 1229.55h2.92v24.75h-2.92zM316.86 1254.3h2.95v24.75h-2.95zM349.28 1254.3h2.95v24.75h-2.95zM445.86 1254.3h2.92v24.75h-2.92zM652.91 1254.3h2.92v24.75h-2.92zM219.6 1279.05h2.95v24.75h-2.95zM305.07 1279.05h2.95v24.75h-2.95zM316.86 1279.05h2.95v24.75h-2.95zM334.54 1279.05h2.95v24.75h-2.95zM358.12 1279.05h2.95v24.75h-2.95zM445.86 1279.05h2.92v24.75h-2.92zM492.52 1279.05h2.92v24.75h-2.92zM737.48 1279.05h2.92v24.75h-2.92zM352.23 1303.8h2.95v24.75h-2.95zM375.81 1303.8h5.89v24.75h-5.89zM440.02 1303.8h2.92v24.75h-2.92zM234.34 1328.55h2.95v24.75h-2.95zM257.92 1328.55h2.95v24.75h-2.95zM322.76 1328.55h2.95v24.75h-2.95zM366.96 1328.55h2.95v24.75h-2.95zM585.83 1328.55h2.92v24.75h-2.92zM789.97 1328.55h2.92v24.75h-2.92zM246.13 1353.3h2.95v24.75h-2.95zM366.96 1353.3h2.95v24.75h-2.95zM375.81 1353.3h2.95v24.75h-2.95zM717.06 1353.3h2.92v24.75h-2.92zM193.08 1378.05h2.95v24.75h-2.95zM343.39 1378.05h2.95v24.75h-2.95zM361.07 1378.05h2.95v24.75h-2.95zM737.48 1378.05h2.92v24.75h-2.92zM754.97 1378.05h2.92v24.75h-2.92zM275.6 1402.8h2.95v24.75h-2.95zM316.86 1402.8h2.95v24.75h-2.95zM340.44 1402.8h2.95v24.75h-2.95zM361.07 1402.8h2.95v24.75h-2.95zM366.96 1402.8h2.95v24.75h-2.95zM193.08 1427.55h2.95v24.75h-2.95zM219.6 1427.55h2.95v24.75h-2.95zM331.6 1427.55h2.95v24.75h-2.95zM358.12 1427.55h5.89v24.75h-5.89zM486.68 1427.55h2.92v24.75h-2.92zM792.88 1427.55h2.92v24.75h-2.92zM237.29 1477.05h2.95v24.75h-2.95zM296.23 1477.05h2.95v24.75h-2.95zM349.28 1477.05h2.95v24.75h-2.95zM413.78 1477.05h2.92v24.75h-2.92zM606.25 1477.05h2.92v24.75h-2.92zM652.91 1477.05h2.92v24.75h-2.92zM737.48 1477.05h2.92v24.75h-2.92zM193.08 1501.8h2.95v24.75h-2.95zM372.86 1501.8h2.95v24.75h-2.95zM216.66 1526.55h5.89v24.75h-5.89zM358.12 1526.55h2.95v24.75h-2.95zM296.23 1551.3h2.95v24.75h-2.95zM319.81 1551.3h2.95v24.75h-2.95zM410.86 1551.3h2.92v24.75h-2.92zM609.16 1551.3h2.92v24.75h-2.92zM714.15 1551.3h2.92v24.75h-2.92zM719.98 1551.3h2.92v24.75h-2.92zM237.29 1576.05h2.95v24.75h-2.95zM378.75 1576.05h2.95v24.75h-2.95zM565.42 1576.05h2.92v24.75h-2.92zM690.82 1576.05h2.92v24.75h-2.92zM749.14 1576.05h2.92v24.75h-2.92zM325.7 1600.8h2.95v24.75h-2.95zM228.44 1625.55h2.95v24.75h-2.95zM234.34 1625.55h2.95v24.75h-2.95zM246.13 1625.55h2.95v24.75h-2.95zM299.18 1625.55h2.95v24.75h-2.95zM405.03 1625.55h2.92v24.75h-2.92zM766.64 1625.55h2.92v24.75h-2.92z"/>
<path fill="#e0e2f2" d="M234.34 957.3h2.95v24.75h-2.95zM302.12 957.3h2.95v24.75h-2.95zM416.69 957.3h2.92v24.75h-2.92zM553.76 957.3h2.92v24.75h-2.92zM571.25 957.3h2.92v24.75h-2.92zM577.09 957.3h2.92v24.75h-2.92zM641.24 957.3h2.92v24.75h-2.92zM696.65 957.3h2.92v24.75h-2.92zM781.22 957.3h2.92v24.75h-2.92zM198.97 982.05h2.95v24.75h-2.95zM325.7 982.05h2.95v24.75h-2.95zM366.96 982.05h2.95v24.75h-2.95zM402.11 982.05h2.92v24.75h-2.92zM419.61 982.05h2.92v24.75h-2.92zM495.43 982.05h2.92v24.75h-2.92zM731.64 982.05h2.92v24.75h-2.92zM763.72 982.05h2.92v24.75h-2.92zM769.55 982.05h2.92v24.75h-2.92zM210.76 1006.8h2.95v24.75h-2.95zM290.34 1006.8h2.95v24.75h-2.95zM498.35 1006.8h2.92v24.75h-2.92zM547.92 1006.8h5.83v24.75h-5.83zM702.48 1006.8h2.92v24.75h-2.92zM708.31 1006.8h2.92v24.75h-2.92zM422.53 1031.55h2.92v24.75h-2.92zM437.11 1031.55h2.92v24.75h-2.92zM442.94 1031.55h2.92v24.75h-2.92zM495.43 1031.55h8.75v24.75h-8.75zM693.73 1031.55h2.92v24.75h-2.92zM272.65 1056.3h2.95v24.75h-2.95zM428.36 1056.3h2.92v24.75h-2.92zM442.94 1056.3h2.92v24.75h-2.92zM466.27 1056.3h2.92v24.75h-2.92zM539.17 1056.3h2.92v24.75h-2.92zM577.09 1056.3h2.92v24.75h-2.92zM617.91 1056.3h2.92v24.75h-2.92zM632.49 1056.3h2.92v24.75h-2.92zM708.31 1056.3h2.92v24.75h-2.92zM743.31 1056.3h2.92v24.75h-2.92zM749.14 1056.3h2.92v24.75h-2.92zM175.39 1081.05h2.95v24.75h-2.95zM620.83 1081.05h2.92v24.75h-2.92zM778.3 1081.05h2.92v24.75h-2.92zM281.49 1105.8h2.95v24.75h-2.95zM302.12 1105.8h2.95v24.75h-2.95zM310.97 1105.8h5.89v24.75h-5.89zM402.11 1105.8h2.92v24.75h-2.92zM422.53 1105.8h2.92v24.75h-2.92zM477.93 1105.8h2.92v24.75h-2.92zM539.17 1105.8h2.92v24.75h-2.92zM760.81 1105.8h2.92v24.75h-2.92zM310.97 1130.55h2.95v24.75h-2.95zM428.36 1130.55h2.92v24.75h-2.92zM475.02 1130.55h2.92v24.75h-2.92zM512.93 1130.55h5.83v24.75h-5.83zM571.25 1130.55h2.92v24.75h-2.92zM609.16 1130.55h2.92v24.75h-2.92zM731.64 1130.55h2.92v24.75h-2.92zM760.81 1130.55h2.92v24.75h-2.92zM346.33 1155.3h2.95v24.75h-2.95zM369.91 1155.3h2.95v24.75h-2.95zM407.95 1155.3h2.92v24.75h-2.92zM431.28 1155.3h2.92v24.75h-2.92zM463.35 1155.3h2.92v24.75h-2.92zM504.18 1155.3h2.92v24.75h-2.92zM594.58 1155.3h2.92v24.75h-2.92zM615 1155.3h2.92v24.75h-2.92zM641.24 1155.3h2.92v24.75h-2.92zM696.65 1155.3h2.92v24.75h-2.92zM702.48 1155.3h2.92v24.75h-2.92zM711.23 1155.3h2.92v24.75h-2.92zM734.56 1155.3h2.92v24.75h-2.92zM749.14 1155.3h2.92v24.75h-2.92zM310.97 1180.05h2.95v24.75h-2.95zM399.2 1180.05h2.92v24.75h-2.92zM533.34 1180.05h5.83v24.75h-5.83zM550.84 1180.05h2.92v24.75h-2.92zM588.75 1180.05h2.92v24.75h-2.92zM635.41 1180.05h2.92v24.75h-2.92zM641.24 1180.05h5.83v24.75h-5.83zM696.65 1180.05h2.92v24.75h-2.92zM281.49 1204.8h2.95v24.75h-2.95zM302.12 1204.8h2.95v24.75h-2.95zM472.1 1204.8h2.92v24.75h-2.92zM480.85 1204.8h2.92v24.75h-2.92zM559.59 1204.8h2.92v24.75h-2.92zM702.48 1204.8h2.92v24.75h-2.92zM577.09 1229.55h2.92v24.75h-2.92zM731.64 1229.55h2.92v24.75h-2.92zM775.39 1229.55h2.92v24.75h-2.92zM310.97 1254.3h2.95v24.75h-2.95zM402.11 1254.3h2.92v24.75h-2.92zM480.85 1254.3h2.92v24.75h-2.92zM518.76 1254.3h2.92v24.75h-2.92zM597.5 1254.3h2.92v24.75h-2.92zM647.07 1254.3h2.92v24.75h-2.92zM661.65 1254.3h2.92v24.75h-2.92zM679.15 1254.3h2.92v24.75h-2.92zM693.73 1254.3h2.92v24.75h-2.92zM763.72 1254.3h2.92v24.75h-2.92zM769.55 1254.3h2.92v24.75h-2.92zM437.11 1279.05h2.92v24.75h-2.92zM559.59 1279.05h2.92v24.75h-2.92zM612.08 1279.05h2.92v24.75h-2.92zM620.83 1279.05h2.92v24.75h-2.92zM676.24 1279.05h2.92v24.75h-2.92zM772.47 1279.05h2.92v24.75h-2.92zM281.49 1303.8h2.95v24.75h-2.95zM384.62 1303.8h2.92v24.75h-2.92zM574.17 1303.8h2.92v24.75h-2.92zM612.08 1303.8h2.92v24.75h-2.92zM641.24 1303.8h2.92v24.75h-2.92zM743.31 1303.8h2.92v24.75h-2.92zM763.72 1303.8h2.92v24.75h-2.92zM781.22 1303.8h2.92v24.75h-2.92zM405.03 1328.55h2.92v24.75h-2.92zM495.43 1328.55h2.92v24.75h-2.92zM533.34 1328.55h2.92v24.75h-2.92zM562.5 1328.55h2.92v24.75h-2.92zM577.09 1328.55h2.92v24.75h-2.92zM597.5 1328.55h2.92v24.75h-2.92zM684.98 1328.55h2.92v24.75h-2.92zM702.48 1328.55h2.92v24.75h-2.92zM717.06 1328.55h2.92v24.75h-2.92zM722.9 1328.55h5.83v24.75h-5.83zM749.14 1328.55h2.92v24.75h-2.92zM778.3 1328.55h2.92v24.75h-2.92zM281.49 1353.3h2.95v24.75h-2.95zM313.91 1353.3h2.95v24.75h-2.95zM437.11 1353.3h2.92v24.75h-2.92zM469.19 1353.3h5.83v24.75h-5.83zM603.33 1353.3h2.92v24.75h-2.92zM617.91 1353.3h2.92v24.75h-2.92zM711.23 1353.3h2.92v24.75h-2.92zM772.47 1353.3h2.92v24.75h-2.92zM178.34 1378.05h2.95v24.75h-2.95zM346.33 1378.05h2.95v24.75h-2.95zM428.36 1378.05h2.92v24.75h-2.92zM434.19 1378.05h2.92v24.75h-2.92zM629.58 1378.05h2.92v24.75h-2.92zM711.23 1378.05h2.92v24.75h-2.92zM457.52 1402.8h2.92v24.75h-2.92zM539.17 1402.8h2.92v24.75h-2.92zM632.49 1402.8h5.83v24.75h-5.83zM684.98 1402.8h2.92v24.75h-2.92zM714.15 1402.8h2.92v24.75h-2.92zM428.36 1427.55h2.92v24.75h-2.92zM437.11 1427.55h2.92v24.75h-2.92zM594.58 1427.55h2.92v24.75h-2.92zM612.08 1427.55h2.92v24.75h-2.92zM225.5 1452.3h2.95v24.75h-2.95zM422.53 1452.3h2.92v24.75h-2.92zM498.35 1452.3h2.92v24.75h-2.92zM512.93 1452.3h2.92v24.75h-2.92zM524.59 1452.3h2.92v24.75h-2.92zM597.5 1452.3h2.92v24.75h-2.92zM609.16 1452.3h2.92v24.75h-2.92zM644.16 1452.3h2.92v24.75h-2.92zM690.82 1452.3h5.83v24.75h-5.83zM711.23 1452.3h2.92v24.75h-2.92zM281.49 1477.05h2.95v24.75h-2.95zM305.07 1477.05h2.95v24.75h-2.95zM346.33 1477.05h2.95v24.75h-2.95zM577.09 1477.05h2.92v24.75h-2.92zM696.65 1477.05h2.92v24.75h-2.92zM772.47 1477.05h5.83v24.75h-5.83zM781.22 1477.05h2.92v24.75h-2.92zM201.92 1501.8h2.95v24.75h-2.95zM422.53 1501.8h2.92v24.75h-2.92zM431.28 1501.8h2.92v24.75h-2.92zM521.68 1501.8h2.92v24.75h-2.92zM553.76 1501.8h2.92v24.75h-2.92zM615 1501.8h2.92v24.75h-2.92zM620.83 1501.8h2.92v24.75h-2.92zM690.82 1501.8h2.92v24.75h-2.92zM749.14 1501.8h2.92v24.75h-2.92zM763.72 1501.8h2.92v24.75h-2.92zM201.92 1526.55h2.95v24.75h-2.95zM210.76 1526.55h2.95v24.75h-2.95zM234.34 1526.55h2.95v24.75h-2.95zM290.34 1526.55h5.89v24.75h-5.89zM302.12 1526.55h2.95v24.75h-2.95zM313.91 1526.55h2.95v24.75h-2.95zM442.94 1526.55h2.92v24.75h-2.92zM515.85 1526.55h2.92v24.75h-2.92zM600.41 1526.55h2.92v24.75h-2.92zM693.73 1526.55h2.92v24.75h-2.92zM708.31 1526.55h2.92v24.75h-2.92zM775.39 1526.55h2.92v24.75h-2.92zM781.22 1526.55h2.92v24.75h-2.92zM184.24 1551.3h2.95v24.75h-2.95zM198.97 1551.3h2.95v24.75h-2.95zM372.86 1551.3h2.95v24.75h-2.95zM393.36 1551.3h2.92v24.75h-2.92zM437.11 1551.3h2.92v24.75h-2.92zM480.85 1551.3h2.92v24.75h-2.92zM512.93 1551.3h2.92v24.75h-2.92zM539.17 1551.3h2.92v24.75h-2.92zM635.41 1551.3h2.92v24.75h-2.92zM705.4 1551.3h2.92v24.75h-2.92zM281.49 1576.05h2.95v24.75h-2.95zM425.44 1576.05h2.92v24.75h-2.92zM533.34 1576.05h2.92v24.75h-2.92zM623.74 1576.05h2.92v24.75h-2.92zM684.98 1576.05h2.92v24.75h-2.92zM693.73 1576.05h2.92v24.75h-2.92zM346.33 1600.8h5.89v24.75h-5.89zM364.02 1600.8h2.95v24.75h-2.95zM454.6 1600.8h2.92v24.75h-2.92zM521.68 1600.8h2.92v24.75h-2.92zM550.84 1600.8h2.92v24.75h-2.92zM679.15 1600.8h5.83v24.75h-5.83zM708.31 1600.8h2.92v24.75h-2.92zM717.06 1600.8h2.92v24.75h-2.92zM769.55 1600.8h2.92v24.75h-2.92zM252.02 1625.55h2.95v24.75h-2.95zM399.2 1625.55h2.92v24.75h-2.92zM451.69 1625.55h2.92v24.75h-2.92zM550.84 1625.55h2.92v24.75h-2.92zM559.59 1625.55h2.92v24.75h-2.92zM582.92 1625.55h2.92v24.75h-2.92zM679.15 1625.55h2.92v24.75h-2.92zM705.4 1625.55h2.92v24.75h-2.92z"/>
<path fill="#eb9e9e" d="M243.18 957.3h2.95v24.75h-2.95zM243.18 982.05h2.95v24.75h-2.95zM299.18 1105.8h2.95v24.75h-2.95zM319.81 1155.3h2.95v24.75h-2.95zM196.03 1180.05h2.95v24.75h-2.95zM243.18 1204.8h2.95v24.75h-2.95zM328.65 1204.8h2.95v24.75h-2.95zM187.18 1229.55h2.95v24.75h-2.95zM334.54 1229.55h2.95v24.75h-2.95zM243.18 1279.05h2.95v24.75h-2.95zM328.65 1303.8h2.95v24.75h-2.95zM299.18 1353.3h2.95v24.75h-2.95zM196.03 1501.8h2.95v24.75h-2.95zM299.18 1501.8h2.95v24.75h-2.95zM243.18 1576.05h2.95v24.75h-2.95zM263.81 1600.8h2.95v24.75h-2.95z"/>
<path fill="#fae8e8" d="M246.13 957.3h2.95v24.75h-2.95zM328.65 957.3h2.95v24.75h-2.95zM381.7 957.3h2.92v24.75h-2.92zM405.03 957.3h2.92v24.75h-2.92zM445.86 957.3h2.92v24.75h-2.92zM486.68 957.3h2.92v24.75h-2.92zM507.1 957.3h2.92v24.75h-2.92zM524.59 957.3h2.92v24.75h-2.92zM568.34 957.3h2.92v24.75h-2.92zM749.14 957.3h2.92v24.75h-2.92zM754.97 957.3h2.92v24.75h-2.92zM190.13 982.05h2.95v24.75h-2.95zM334.54 982.05h2.95v24.75h-2.95zM381.7 982.05h2.92v24.75h-2.92zM387.53 982.05h2.92v24.75h-2.92zM440.02 982.05h2.92v24.75h-2.92zM460.44 982.05h2.92v24.75h-2.92zM746.22 982.05h2.92v24.75h-2.92zM754.97 982.05h2.92v24.75h-2.92zM187.18 1006.8h2.95v24.75h-2.95zM231.39 1006.8h2.95v24.75h-2.95zM457.52 1006.8h2.92v24.75h-2.92zM524.59 1006.8h2.92v24.75h-2.92zM705.4 1006.8h2.92v24.75h-2.92zM717.06 1006.8h5.83v24.75h-5.83zM737.48 1006.8h2.92v24.75h-2.92zM749.14 1006.8h2.92v24.75h-2.92zM201.92 1031.55h2.95v24.75h-2.95zM246.13 1031.55h2.95v24.75h-2.95zM260.86 1031.55h2.95v24.75h-2.95zM281.49 1031.55h2.95v24.75h-2.95zM293.28 1031.55h2.95v24.75h-2.95zM319.81 1031.55h2.95v24.75h-2.95zM328.65 1031.55h2.95v24.75h-2.95zM334.54 1031.55h2.95v24.75h-2.95zM369.91 1031.55h2.95v24.75h-2.95zM387.53 1031.55h2.92v24.75h-2.92zM486.68 1031.55h2.92v24.75h-2.92zM568.34 1031.55h2.92v24.75h-2.92zM597.5 1031.55h2.92v24.75h-2.92zM719.98 1031.55h2.92v24.75h-2.92zM728.73 1031.55h2.92v24.75h-2.92zM789.97 1031.55h2.92v24.75h-2.92zM216.66 1056.3h2.95v24.75h-2.95zM228.44 1056.3h2.95v24.75h-2.95zM463.35 1056.3h2.92v24.75h-2.92zM492.52 1056.3h2.92v24.75h-2.92zM545.01 1056.3h2.92v24.75h-2.92zM343.39 1081.05h2.95v24.75h-2.95zM378.75 1081.05h2.95v24.75h-2.95zM425.44 1081.05h2.92v24.75h-2.92zM472.1 1081.05h2.92v24.75h-2.92zM492.52 1081.05h2.92v24.75h-2.92zM524.59 1081.05h5.83v24.75h-5.83zM201.92 1105.8h2.95v24.75h-2.95zM216.66 1105.8h2.95v24.75h-2.95zM240.23 1105.8h2.95v24.75h-2.95zM325.7 1105.8h2.95v24.75h-2.95zM375.81 1105.8h2.95v24.75h-2.95zM440.02 1105.8h2.92v24.75h-2.92zM507.1 1105.8h2.92v24.75h-2.92zM530.43 1105.8h2.92v24.75h-2.92zM664.57 1105.8h2.92v24.75h-2.92zM219.6 1130.55h2.95v24.75h-2.95zM246.13 1130.55h2.95v24.75h-2.95zM293.28 1130.55h2.95v24.75h-2.95zM305.07 1130.55h2.95v24.75h-2.95zM334.54 1130.55h2.95v24.75h-2.95zM437.11 1130.55h2.92v24.75h-2.92zM492.52 1130.55h2.92v24.75h-2.92zM518.76 1130.55h2.92v24.75h-2.92zM204.87 1155.3h2.95v24.75h-2.95zM234.34 1155.3h2.95v24.75h-2.95zM246.13 1155.3h2.95v24.75h-2.95zM275.6 1155.3h2.95v24.75h-2.95zM331.6 1155.3h2.95v24.75h-2.95zM378.75 1155.3h2.95v24.75h-2.95zM390.45 1155.3h2.92v24.75h-2.92zM413.78 1155.3h2.92v24.75h-2.92zM440.02 1155.3h2.92v24.75h-2.92zM445.86 1155.3h2.92v24.75h-2.92zM204.87 1180.05h2.95v24.75h-2.95zM355.17 1180.05h2.95v24.75h-2.95zM687.9 1180.05h2.92v24.75h-2.92zM746.22 1180.05h2.92v24.75h-2.92zM193.08 1204.8h2.95v24.75h-2.95zM198.97 1204.8h2.95v24.75h-2.95zM266.76 1204.8h2.95v24.75h-2.95zM272.65 1204.8h2.95v24.75h-2.95zM308.02 1204.8h2.95v24.75h-2.95zM340.44 1204.8h5.89v24.75h-5.89zM355.17 1204.8h2.95v24.75h-2.95zM390.45 1204.8h2.92v24.75h-2.92zM425.44 1204.8h2.92v24.75h-2.92zM451.69 1204.8h2.92v24.75h-2.92zM466.27 1204.8h2.92v24.75h-2.92zM475.02 1204.8h2.92v24.75h-2.92zM492.52 1204.8h2.92v24.75h-2.92zM507.1 1204.8h2.92v24.75h-2.92zM606.25 1204.8h2.92v24.75h-2.92zM655.82 1204.8h2.92v24.75h-2.92zM664.57 1204.8h2.92v24.75h-2.92zM693.73 1204.8h2.92v24.75h-2.92zM787.05 1204.8h2.92v24.75h-2.92zM198.97 1229.55h2.95v24.75h-2.95zM246.13 1229.55h5.89v24.75h-5.89zM305.07 1229.55h2.95v24.75h-2.95zM419.61 1229.55h2.92v24.75h-2.92zM425.44 1229.55h2.92v24.75h-2.92zM437.11 1229.55h2.92v24.75h-2.92zM477.93 1229.55h2.92v24.75h-2.92zM504.18 1229.55h5.83v24.75h-5.83zM542.09 1229.55h2.92v24.75h-2.92zM559.59 1229.55h2.92v24.75h-2.92zM588.75 1229.55h2.92v24.75h-2.92zM655.82 1229.55h2.92v24.75h-2.92zM749.14 1229.55h2.92v24.75h-2.92zM787.05 1229.55h2.92v24.75h-2.92zM201.92 1254.3h2.95v24.75h-2.95zM234.34 1254.3h2.95v24.75h-2.95zM364.02 1254.3h2.95v24.75h-2.95zM378.75 1254.3h2.95v24.75h-2.95zM475.02 1254.3h2.92v24.75h-2.92zM501.26 1254.3h2.92v24.75h-2.92zM527.51 1254.3h5.83v24.75h-5.83zM204.87 1279.05h2.95v24.75h-2.95zM275.6 1279.05h5.89v24.75h-5.89zM308.02 1279.05h2.95v24.75h-2.95zM372.86 1279.05h2.95v24.75h-2.95zM536.26 1279.05h2.92v24.75h-2.92zM655.82 1279.05h5.83v24.75h-5.83zM664.57 1279.05h2.92v24.75h-2.92zM682.07 1279.05h5.83v24.75h-5.83zM702.48 1279.05h2.92v24.75h-2.92zM213.71 1303.8h5.89v24.75h-5.89zM240.23 1303.8h2.95v24.75h-2.95zM249.07 1303.8h2.95v24.75h-2.95zM308.02 1303.8h2.95v24.75h-2.95zM355.17 1303.8h2.95v24.75h-2.95zM492.52 1303.8h2.92v24.75h-2.92zM501.26 1303.8h2.92v24.75h-2.92zM597.5 1303.8h2.92v24.75h-2.92zM693.73 1303.8h2.92v24.75h-2.92zM737.48 1303.8h2.92v24.75h-2.92zM766.64 1303.8h2.92v24.75h-2.92zM193.08 1328.55h2.95v24.75h-2.95zM204.87 1328.55h2.95v24.75h-2.95zM228.44 1328.55h2.95v24.75h-2.95zM269.71 1328.55h2.95v24.75h-2.95zM340.44 1328.55h2.95v24.75h-2.95zM355.17 1328.55h2.95v24.75h-2.95zM375.81 1328.55h2.95v24.75h-2.95zM463.35 1328.55h2.92v24.75h-2.92zM492.52 1328.55h2.92v24.75h-2.92zM515.85 1328.55h2.92v24.75h-2.92zM524.59 1328.55h2.92v24.75h-2.92zM652.91 1328.55h2.92v24.75h-2.92zM658.74 1328.55h2.92v24.75h-2.92zM687.9 1328.55h2.92v24.75h-2.92zM754.97 1328.55h2.92v24.75h-2.92zM216.66 1353.3h2.95v24.75h-2.95zM240.23 1353.3h2.95v24.75h-2.95zM316.86 1353.3h2.95v24.75h-2.95zM413.78 1353.3h2.92v24.75h-2.92zM445.86 1353.3h2.92v24.75h-2.92zM754.97 1353.3h2.92v24.75h-2.92zM789.97 1353.3h2.92v24.75h-2.92zM334.54 1378.05h2.95v24.75h-2.95zM381.7 1378.05h2.92v24.75h-2.92zM390.45 1378.05h5.83v24.75h-5.83zM405.03 1378.05h5.83v24.75h-5.83zM457.52 1378.05h2.92v24.75h-2.92zM475.02 1378.05h2.92v24.75h-2.92zM483.77 1378.05h2.92v24.75h-2.92zM512.93 1378.05h2.92v24.75h-2.92zM530.43 1378.05h2.92v24.75h-2.92zM585.83 1378.05h2.92v24.75h-2.92zM606.25 1378.05h2.92v24.75h-2.92zM623.74 1378.05h2.92v24.75h-2.92zM664.57 1378.05h2.92v24.75h-2.92zM708.31 1378.05h2.92v24.75h-2.92zM766.64 1378.05h2.92v24.75h-2.92zM175.39 1402.8h2.95v24.75h-2.95zM222.55 1402.8h2.95v24.75h-2.95zM240.23 1402.8h2.95v24.75h-2.95zM254.97 1402.8h2.95v24.75h-2.95zM269.71 1402.8h2.95v24.75h-2.95zM302.12 1402.8h2.95v24.75h-2.95zM486.68 1402.8h2.92v24.75h-2.92zM510.01 1402.8h2.92v24.75h-2.92zM530.43 1402.8h2.92v24.75h-2.92zM542.09 1402.8h2.92v24.75h-2.92zM609.16 1402.8h5.83v24.75h-5.83zM682.07 1402.8h2.92v24.75h-2.92zM693.73 1402.8h2.92v24.75h-2.92zM719.98 1402.8h2.92v24.75h-2.92zM757.89 1402.8h2.92v24.75h-2.92zM343.39 1427.55h2.95v24.75h-2.95zM390.45 1427.55h2.92v24.75h-2.92zM451.69 1427.55h2.92v24.75h-2.92zM483.77 1427.55h2.92v24.75h-2.92zM510.01 1427.55h2.92v24.75h-2.92zM725.81 1427.55h2.92v24.75h-2.92zM752.06 1427.55h2.92v24.75h-2.92zM784.14 1427.55h2.92v24.75h-2.92zM789.97 1427.55h2.92v24.75h-2.92zM184.24 1452.3h2.95v24.75h-2.95zM216.66 1452.3h2.95v24.75h-2.95zM240.23 1452.3h2.95v24.75h-2.95zM325.7 1452.3h2.95v24.75h-2.95zM337.49 1452.3h2.95v24.75h-2.95zM413.78 1452.3h2.92v24.75h-2.92zM193.08 1477.05h2.95v24.75h-2.95zM219.6 1477.05h2.95v24.75h-2.95zM240.23 1477.05h2.95v24.75h-2.95zM257.92 1477.05h2.95v24.75h-2.95zM293.28 1477.05h2.95v24.75h-2.95zM343.39 1477.05h2.95v24.75h-2.95zM361.07 1477.05h2.95v24.75h-2.95zM448.77 1477.05h8.75v24.75h-8.75zM475.02 1477.05h2.92v24.75h-2.92zM510.01 1477.05h2.92v24.75h-2.92zM658.74 1477.05h2.92v24.75h-2.92zM705.4 1477.05h2.92v24.75h-2.92zM787.05 1477.05h2.92v24.75h-2.92zM190.13 1501.8h2.95v24.75h-2.95zM198.97 1501.8h2.95v24.75h-2.95zM228.44 1501.8h2.95v24.75h-2.95zM234.34 1501.8h2.95v24.75h-2.95zM272.65 1501.8h2.95v24.75h-2.95zM287.39 1501.8h2.95v24.75h-2.95zM375.81 1501.8h2.95v24.75h-2.95zM609.16 1501.8h2.92v24.75h-2.92zM652.91 1501.8h2.92v24.75h-2.92zM246.13 1526.55h2.95v24.75h-2.95zM364.02 1526.55h2.95v24.75h-2.95zM556.67 1526.55h2.92v24.75h-2.92zM585.83 1526.55h2.92v24.75h-2.92zM746.22 1526.55h2.92v24.75h-2.92zM246.13 1551.3h2.95v24.75h-2.95zM254.97 1551.3h2.95v24.75h-2.95zM313.91 1551.3h2.95v24.75h-2.95zM322.76 1551.3h5.89v24.75h-5.89zM361.07 1551.3h2.95v24.75h-2.95zM475.02 1551.3h2.92v24.75h-2.92zM524.59 1551.3h2.92v24.75h-2.92zM568.34 1551.3h2.92v24.75h-2.92zM585.83 1551.3h2.92v24.75h-2.92zM606.25 1551.3h2.92v24.75h-2.92zM693.73 1551.3h2.92v24.75h-2.92zM754.97 1551.3h2.92v24.75h-2.92zM784.14 1551.3h2.92v24.75h-2.92zM181.29 1576.05h2.95v24.75h-2.95zM187.18 1576.05h2.95v24.75h-2.95zM222.55 1576.05h2.95v24.75h-2.95zM269.71 1576.05h2.95v24.75h-2.95zM305.07 1576.05h2.95v24.75h-2.95zM331.6 1576.05h2.95v24.75h-2.95zM364.02 1576.05h2.95v24.75h-2.95zM402.11 1576.05h5.83v24.75h-5.83zM416.69 1576.05h2.92v24.75h-2.92zM512.93 1576.05h2.92v24.75h-2.92zM530.43 1576.05h2.92v24.75h-2.92zM781.22 1576.05h2.92v24.75h-2.92zM219.6 1600.8h2.95v24.75h-2.95zM225.5 1600.8h2.95v24.75h-2.95zM240.23 1600.8h2.95v24.75h-2.95zM246.13 1600.8h2.95v24.75h-2.95zM252.02 1600.8h5.89v24.75h-5.89zM361.07 1600.8h2.95v24.75h-2.95zM399.2 1600.8h2.92v24.75h-2.92zM422.53 1600.8h2.92v24.75h-2.92zM457.52 1600.8h2.92v24.75h-2.92zM518.76 1600.8h2.92v24.75h-2.92zM542.09 1600.8h2.92v24.75h-2.92zM600.41 1600.8h5.83v24.75h-5.83zM623.74 1600.8h2.92v24.75h-2.92zM725.81 1600.8h2.92v24.75h-2.92zM778.3 1600.8h2.92v24.75h-2.92zM175.39 1625.55h2.95v24.75h-2.95zM196.03 1625.55h2.95v24.75h-2.95zM204.87 1625.55h2.95v24.75h-2.95zM284.44 1625.55h2.95v24.75h-2.95zM334.54 1625.55h2.95v24.75h-2.95zM378.75 1625.55h2.95v24.75h-2.95zM425.44 1625.55h2.92v24.75h-2.92zM457.52 1625.55h2.92v24.75h-2.92zM477.93 1625.55h2.92v24.75h-2.92zM510.01 1625.55h2.92v24.75h-2.92zM521.68 1625.55h2.92v24.75h-2.92zM591.67 1625.55h2.92v24.75h-2.92z"/>
<path fill="#e27070" d="M263.81 957.3h2.95v24.75h-2.95zM263.81 1081.05h2.95v24.75h-2.95zM231.39 1229.55h2.95v24.75h-2.95zM299.18 1254.3h2.95v24.75h-2.95zM299.18 1477.05h2.95v24.75h-2.95z"/>
<path fill="#d6d9ee" d="M281.49 957.3h2.95v24.75h-2.95zM396.28 957.3h2.92v24.75h-2.92zM407.95 957.3h2.92v24.75h-2.92zM679.15 957.3h2.92v24.75h-2.92zM249.07 982.05h2.95v24.75h-2.95zM305.07 982.05h2.95v24.75h-2.95zM498.35 982.05h8.75v24.75h-8.75zM574.17 982.05h2.92v24.75h-2.92zM617.91 982.05h2.92v24.75h-2.92zM641.24 982.05h2.92v24.75h-2.92zM679.15 982.05h2.92v24.75h-2.92zM775.39 982.05h5.83v24.75h-5.83zM396.28 1006.8h2.92v24.75h-2.92zM600.41 1006.8h2.92v24.75h-2.92zM673.32 1006.8h2.92v24.75h-2.92zM734.56 1006.8h2.92v24.75h-2.92zM781.22 1006.8h2.92v24.75h-2.92zM355.17 1031.55h2.95v24.75h-2.95zM416.69 1031.55h2.92v24.75h-2.92zM574.17 1031.55h5.83v24.75h-5.83zM673.32 1031.55h2.92v24.75h-2.92zM178.34 1056.3h2.95v24.75h-2.95zM281.49 1056.3h2.95v24.75h-2.95zM310.97 1056.3h2.95v24.75h-2.95zM346.33 1056.3h2.95v24.75h-2.95zM434.19 1056.3h2.92v24.75h-2.92zM480.85 1056.3h2.92v24.75h-2.92zM550.84 1056.3h2.92v24.75h-2.92zM612.08 1056.3h2.92v24.75h-2.92zM620.83 1056.3h2.92v24.75h-2.92zM649.99 1056.3h2.92v24.75h-2.92zM690.82 1056.3h2.92v24.75h-2.92zM714.15 1056.3h2.92v24.75h-2.92zM746.22 1056.3h2.92v24.75h-2.92zM428.36 1081.05h2.92v24.75h-2.92zM679.15 1081.05h2.92v24.75h-2.92zM711.23 1081.05h2.92v24.75h-2.92zM731.64 1081.05h2.92v24.75h-2.92zM252.02 1105.8h2.95v24.75h-2.95zM434.19 1105.8h2.92v24.75h-2.92zM521.68 1105.8h2.92v24.75h-2.92zM635.41 1105.8h2.92v24.75h-2.92zM702.48 1105.8h2.92v24.75h-2.92zM749.14 1105.8h2.92v24.75h-2.92zM769.55 1105.8h2.92v24.75h-2.92zM775.39 1105.8h2.92v24.75h-2.92zM198.97 1130.55h2.95v24.75h-2.95zM504.18 1130.55h2.92v24.75h-2.92zM521.68 1130.55h2.92v24.75h-2.92zM178.34 1155.3h2.95v24.75h-2.95zM313.91 1155.3h2.95v24.75h-2.95zM498.35 1155.3h2.92v24.75h-2.92zM539.17 1155.3h2.92v24.75h-2.92zM690.82 1155.3h2.92v24.75h-2.92zM769.55 1155.3h2.92v24.75h-2.92zM539.17 1180.05h2.92v24.75h-2.92zM603.33 1180.05h2.92v24.75h-2.92zM620.83 1180.05h2.92v24.75h-2.92zM661.65 1180.05h5.83v24.75h-5.83zM769.55 1180.05h2.92v24.75h-2.92zM434.19 1204.8h2.92v24.75h-2.92zM781.22 1204.8h2.92v24.75h-2.92zM521.68 1254.3h2.92v24.75h-2.92zM310.97 1279.05h2.95v24.75h-2.95zM369.91 1279.05h2.95v24.75h-2.95zM428.36 1279.05h2.92v24.75h-2.92zM553.76 1279.05h2.92v24.75h-2.92zM498.35 1303.8h2.92v24.75h-2.92zM679.15 1303.8h2.92v24.75h-2.92zM734.56 1303.8h2.92v24.75h-2.92zM198.97 1328.55h2.95v24.75h-2.95zM290.34 1328.55h2.95v24.75h-2.95zM396.28 1328.55h2.92v24.75h-2.92zM550.84 1328.55h2.92v24.75h-2.92zM603.33 1328.55h2.92v24.75h-2.92zM612.08 1328.55h2.92v24.75h-2.92zM641.24 1328.55h2.92v24.75h-2.92zM679.15 1328.55h2.92v24.75h-2.92zM714.15 1328.55h2.92v24.75h-2.92zM399.2 1353.3h2.92v24.75h-2.92zM422.53 1353.3h2.92v24.75h-2.92zM466.27 1353.3h2.92v24.75h-2.92zM676.24 1353.3h2.92v24.75h-2.92zM714.15 1353.3h2.92v24.75h-2.92zM731.64 1353.3h2.92v24.75h-2.92zM620.83 1378.05h2.92v24.75h-2.92zM679.15 1378.05h2.92v24.75h-2.92zM734.56 1378.05h2.92v24.75h-2.92zM760.81 1378.05h2.92v24.75h-2.92zM431.28 1402.8h2.92v24.75h-2.92zM469.19 1402.8h2.92v24.75h-2.92zM553.76 1402.8h2.92v24.75h-2.92zM711.23 1402.8h2.92v24.75h-2.92zM760.81 1402.8h5.83v24.75h-5.83zM313.91 1427.55h2.95v24.75h-2.95zM407.95 1427.55h2.92v24.75h-2.92zM533.34 1427.55h2.92v24.75h-2.92zM591.67 1427.55h2.92v24.75h-2.92zM620.83 1427.55h2.92v24.75h-2.92zM638.33 1427.55h2.92v24.75h-2.92zM670.4 1427.55h2.92v24.75h-2.92zM711.23 1427.55h2.92v24.75h-2.92zM213.71 1452.3h2.95v24.75h-2.95zM310.97 1452.3h2.95v24.75h-2.95zM463.35 1452.3h2.92v24.75h-2.92zM550.84 1452.3h2.92v24.75h-2.92zM635.41 1452.3h2.92v24.75h-2.92zM679.15 1452.3h2.92v24.75h-2.92zM705.4 1452.3h2.92v24.75h-2.92zM731.64 1452.3h2.92v24.75h-2.92zM772.47 1452.3h2.92v24.75h-2.92zM313.91 1477.05h2.95v24.75h-2.95zM416.69 1477.05h2.92v24.75h-2.92zM434.19 1477.05h2.92v24.75h-2.92zM498.35 1477.05h2.92v24.75h-2.92zM612.08 1477.05h2.92v24.75h-2.92zM632.49 1477.05h5.83v24.75h-5.83zM722.9 1477.05h2.92v24.75h-2.92zM498.35 1501.8h2.92v24.75h-2.92zM533.34 1501.8h2.92v24.75h-2.92zM539.17 1501.8h2.92v24.75h-2.92zM577.09 1501.8h2.92v24.75h-2.92zM617.91 1501.8h2.92v24.75h-2.92zM728.73 1501.8h2.92v24.75h-2.92zM269.71 1526.55h2.95v24.75h-2.95zM310.97 1526.55h2.95v24.75h-2.95zM384.62 1526.55h2.92v24.75h-2.92zM416.69 1526.55h5.83v24.75h-5.83zM495.43 1526.55h2.92v24.75h-2.92zM521.68 1526.55h2.92v24.75h-2.92zM542.09 1526.55h2.92v24.75h-2.92zM588.75 1526.55h2.92v24.75h-2.92zM778.3 1526.55h2.92v24.75h-2.92zM178.34 1551.3h2.95v24.75h-2.95zM407.95 1551.3h2.92v24.75h-2.92zM612.08 1551.3h2.92v24.75h-2.92zM749.14 1551.3h2.92v24.75h-2.92zM775.39 1551.3h2.92v24.75h-2.92zM580 1576.05h2.92v24.75h-2.92zM641.24 1576.05h2.92v24.75h-2.92zM772.47 1576.05h2.92v24.75h-2.92zM290.34 1600.8h2.95v24.75h-2.95zM313.91 1600.8h2.95v24.75h-2.95zM434.19 1600.8h2.92v24.75h-2.92zM198.97 1625.55h2.95v24.75h-2.95zM512.93 1625.55h2.92v24.75h-2.92zM597.5 1625.55h2.92v24.75h-2.92zM772.47 1625.55h2.92v24.75h-2.92z"/>
<path fill="#dbdef0" d="M337.49 957.3h2.95v24.75h-2.95zM399.2 957.3h2.92v24.75h-2.92zM434.19 957.3h2.92v24.75h-2.92zM472.1 957.3h2.92v24.75h-2.92zM498.35 957.3h2.92v24.75h-2.92zM515.85 957.3h2.92v24.75h-2.92zM769.55 957.3h5.83v24.75h-5.83zM355.17 982.05h2.95v24.75h-2.95zM428.36 982.05h2.92v24.75h-2.92zM781.22 982.05h2.92v24.75h-2.92zM760.81 1006.8h2.92v24.75h-2.92zM302.12 1031.55h2.95v24.75h-2.95zM431.28 1031.55h2.92v24.75h-2.92zM533.34 1031.55h2.92v24.75h-2.92zM760.81 1031.55h5.83v24.75h-5.83zM266.76 1056.3h2.95v24.75h-2.95zM399.2 1056.3h2.92v24.75h-2.92zM504.18 1056.3h2.92v24.75h-2.92zM763.72 1056.3h2.92v24.75h-2.92zM775.39 1056.3h2.92v24.75h-2.92zM402.11 1081.05h2.92v24.75h-2.92zM407.95 1081.05h2.92v24.75h-2.92zM571.25 1081.05h2.92v24.75h-2.92zM591.67 1081.05h5.83v24.75h-5.83zM603.33 1081.05h2.92v24.75h-2.92zM617.91 1081.05h2.92v24.75h-2.92zM623.74 1081.05h2.92v24.75h-2.92zM673.32 1081.05h2.92v24.75h-2.92zM784.14 1081.05h2.92v24.75h-2.92zM225.5 1105.8h2.95v24.75h-2.95zM407.95 1105.8h2.92v24.75h-2.92zM466.27 1105.8h5.83v24.75h-5.83zM571.25 1105.8h2.92v24.75h-2.92zM591.67 1105.8h2.92v24.75h-2.92zM667.49 1105.8h2.92v24.75h-2.92zM705.4 1105.8h2.92v24.75h-2.92zM772.47 1105.8h2.92v24.75h-2.92zM210.76 1130.55h2.95v24.75h-2.95zM281.49 1130.55h2.95v24.75h-2.95zM346.33 1130.55h2.95v24.75h-2.95zM407.95 1130.55h2.92v24.75h-2.92zM577.09 1130.55h2.92v24.75h-2.92zM647.07 1130.55h2.92v24.75h-2.92zM676.24 1130.55h2.92v24.75h-2.92zM690.82 1130.55h2.92v24.75h-2.92zM717.06 1130.55h2.92v24.75h-2.92zM778.3 1130.55h2.92v24.75h-2.92zM352.23 1155.3h2.95v24.75h-2.95zM402.11 1155.3h2.92v24.75h-2.92zM416.69 1155.3h2.92v24.75h-2.92zM469.19 1155.3h2.92v24.75h-2.92zM559.59 1155.3h2.92v24.75h-2.92zM635.41 1155.3h2.92v24.75h-2.92zM667.49 1155.3h2.92v24.75h-2.92zM673.32 1155.3h2.92v24.75h-2.92zM717.06 1155.3h2.92v24.75h-2.92zM442.94 1180.05h2.92v24.75h-2.92zM477.93 1180.05h2.92v24.75h-2.92zM547.92 1180.05h2.92v24.75h-2.92zM571.25 1180.05h2.92v24.75h-2.92zM617.91 1180.05h2.92v24.75h-2.92zM632.49 1180.05h2.92v24.75h-2.92zM647.07 1180.05h2.92v24.75h-2.92zM708.31 1180.05h2.92v24.75h-2.92zM728.73 1180.05h2.92v24.75h-2.92zM781.22 1180.05h2.92v24.75h-2.92zM416.69 1204.8h2.92v24.75h-2.92zM437.11 1204.8h2.92v24.75h-2.92zM469.19 1204.8h2.92v24.75h-2.92zM495.43 1204.8h2.92v24.75h-2.92zM708.31 1204.8h2.92v24.75h-2.92zM725.81 1204.8h2.92v24.75h-2.92zM731.64 1204.8h2.92v24.75h-2.92zM760.81 1204.8h2.92v24.75h-2.92zM778.3 1204.8h2.92v24.75h-2.92zM416.69 1229.55h2.92v24.75h-2.92zM498.35 1229.55h2.92v24.75h-2.92zM722.9 1229.55h2.92v24.75h-2.92zM772.47 1229.55h2.92v24.75h-2.92zM778.3 1229.55h2.92v24.75h-2.92zM178.34 1254.3h2.95v24.75h-2.95zM369.91 1254.3h2.95v24.75h-2.95zM431.28 1254.3h2.92v24.75h-2.92zM577.09 1254.3h2.92v24.75h-2.92zM612.08 1254.3h2.92v24.75h-2.92zM346.33 1279.05h2.95v24.75h-2.95zM434.19 1279.05h2.92v24.75h-2.92zM521.68 1279.05h2.92v24.75h-2.92zM635.41 1279.05h2.92v24.75h-2.92zM752.06 1279.05h2.92v24.75h-2.92zM422.53 1303.8h2.92v24.75h-2.92zM431.28 1303.8h2.92v24.75h-2.92zM542.09 1303.8h2.92v24.75h-2.92zM580 1303.8h2.92v24.75h-2.92zM673.32 1303.8h2.92v24.75h-2.92zM210.76 1328.55h2.95v24.75h-2.95zM337.49 1328.55h2.95v24.75h-2.95zM407.95 1328.55h2.92v24.75h-2.92zM571.25 1328.55h2.92v24.75h-2.92zM210.76 1353.3h2.95v24.75h-2.95zM346.33 1353.3h2.95v24.75h-2.95zM396.28 1353.3h2.92v24.75h-2.92zM510.01 1353.3h2.92v24.75h-2.92zM518.76 1353.3h2.92v24.75h-2.92zM547.92 1353.3h2.92v24.75h-2.92zM577.09 1353.3h2.92v24.75h-2.92zM591.67 1353.3h2.92v24.75h-2.92zM635.41 1353.3h2.92v24.75h-2.92zM647.07 1353.3h2.92v24.75h-2.92zM667.49 1353.3h2.92v24.75h-2.92zM696.65 1353.3h2.92v24.75h-2.92zM752.06 1353.3h2.92v24.75h-2.92zM632.49 1378.05h2.92v24.75h-2.92zM769.55 1378.05h2.92v24.75h-2.92zM281.49 1402.8h2.95v24.75h-2.95zM615 1402.8h2.92v24.75h-2.92zM667.49 1402.8h2.92v24.75h-2.92zM717.06 1402.8h2.92v24.75h-2.92zM731.64 1402.8h2.92v24.75h-2.92zM772.47 1402.8h2.92v24.75h-2.92zM399.2 1427.55h2.92v24.75h-2.92zM405.03 1427.55h2.92v24.75h-2.92zM469.19 1427.55h2.92v24.75h-2.92zM696.65 1427.55h2.92v24.75h-2.92zM734.56 1427.55h2.92v24.75h-2.92zM769.55 1427.55h2.92v24.75h-2.92zM781.22 1427.55h2.92v24.75h-2.92zM434.19 1452.3h2.92v24.75h-2.92zM451.69 1452.3h2.92v24.75h-2.92zM477.93 1452.3h2.92v24.75h-2.92zM507.1 1452.3h2.92v24.75h-2.92zM515.85 1452.3h2.92v24.75h-2.92zM533.34 1452.3h2.92v24.75h-2.92zM696.65 1452.3h2.92v24.75h-2.92zM728.73 1452.3h2.92v24.75h-2.92zM760.81 1452.3h2.92v24.75h-2.92zM775.39 1452.3h5.83v24.75h-5.83zM428.36 1477.05h5.83v24.75h-5.83zM442.94 1477.05h2.92v24.75h-2.92zM533.34 1477.05h2.92v24.75h-2.92zM679.15 1477.05h2.92v24.75h-2.92zM763.72 1477.05h2.92v24.75h-2.92zM778.3 1477.05h2.92v24.75h-2.92zM178.34 1501.8h2.95v24.75h-2.95zM346.33 1501.8h2.95v24.75h-2.95zM559.59 1501.8h2.92v24.75h-2.92zM591.67 1501.8h2.92v24.75h-2.92zM667.49 1501.8h2.92v24.75h-2.92zM673.32 1501.8h2.92v24.75h-2.92zM679.15 1501.8h2.92v24.75h-2.92zM696.65 1501.8h2.92v24.75h-2.92zM711.23 1501.8h2.92v24.75h-2.92zM422.53 1526.55h2.92v24.75h-2.92zM428.36 1526.55h2.92v24.75h-2.92zM498.35 1526.55h5.83v24.75h-5.83zM550.84 1526.55h2.92v24.75h-2.92zM603.33 1526.55h2.92v24.75h-2.92zM690.82 1526.55h2.92v24.75h-2.92zM714.15 1526.55h5.83v24.75h-5.83zM734.56 1526.55h2.92v24.75h-2.92zM784.14 1526.55h2.92v24.75h-2.92zM521.68 1551.3h2.92v24.75h-2.92zM615 1551.3h2.92v24.75h-2.92zM316.86 1576.05h2.95v24.75h-2.95zM711.23 1576.05h2.92v24.75h-2.92zM717.06 1576.05h2.92v24.75h-2.92zM384.62 1600.8h2.92v24.75h-2.92zM402.11 1600.8h2.92v24.75h-2.92zM574.17 1600.8h2.92v24.75h-2.92zM213.71 1625.55h2.95v24.75h-2.95zM254.97 1625.55h2.95v24.75h-2.95zM448.77 1625.55h2.92v24.75h-2.92zM495.43 1625.55h2.92v24.75h-2.92zM539.17 1625.55h2.92v24.75h-2.92zM577.09 1625.55h2.92v24.75h-2.92zM676.24 1625.55h2.92v24.75h-2.92zM740.39 1625.55h2.92v24.75h-2.92zM763.72 1625.55h2.92v24.75h-2.92z"/>
<path fill="#f6d1d1" d="M440.02 957.3h2.92v24.75h-2.92zM687.9 982.05h2.92v24.75h-2.92zM405.03 1006.8h2.92v24.75h-2.92zM527.51 1006.8h2.92v24.75h-2.92zM231.39 1031.55h2.95v24.75h-2.95zM381.7 1031.55h2.92v24.75h-2.92zM440.02 1031.55h2.92v24.75h-2.92zM521.68 1031.55h2.92v24.75h-2.92zM670.4 1031.55h2.92v24.75h-2.92zM366.96 1056.3h2.95v24.75h-2.95zM737.48 1056.3h2.92v24.75h-2.92zM196.03 1081.05h2.95v24.75h-2.95zM219.6 1081.05h2.95v24.75h-2.95zM240.23 1081.05h2.95v24.75h-2.95zM181.29 1105.8h2.95v24.75h-2.95zM219.6 1105.8h2.95v24.75h-2.95zM278.55 1105.8h2.95v24.75h-2.95zM331.6 1105.8h2.95v24.75h-2.95zM358.12 1105.8h2.95v24.75h-2.95zM181.29 1130.55h2.95v24.75h-2.95zM228.44 1130.55h2.95v24.75h-2.95zM322.76 1130.55h2.95v24.75h-2.95zM652.91 1130.55h2.92v24.75h-2.92zM278.55 1155.3h2.95v24.75h-2.95zM334.54 1155.3h2.95v24.75h-2.95zM358.12 1155.3h5.89v24.75h-5.89zM375.81 1155.3h2.95v24.75h-2.95zM260.86 1180.05h2.95v24.75h-2.95zM284.44 1180.05h2.95v24.75h-2.95zM325.7 1180.05h2.95v24.75h-2.95zM670.4 1180.05h2.92v24.75h-2.92zM240.23 1204.8h2.95v24.75h-2.95zM352.23 1204.8h2.95v24.75h-2.95zM375.81 1204.8h2.95v24.75h-2.95zM527.51 1204.8h2.92v24.75h-2.92zM737.48 1204.8h2.92v24.75h-2.92zM746.22 1204.8h2.92v24.75h-2.92zM789.97 1204.8h2.92v24.75h-2.92zM181.29 1229.55h2.95v24.75h-2.95zM204.87 1229.55h2.95v24.75h-2.95zM413.78 1229.55h2.92v24.75h-2.92zM445.86 1229.55h2.92v24.75h-2.92zM457.52 1229.55h2.92v24.75h-2.92zM658.74 1229.55h2.92v24.75h-2.92zM240.23 1254.3h2.95v24.75h-2.95zM375.81 1254.3h2.95v24.75h-2.95zM585.83 1254.3h2.92v24.75h-2.92zM737.48 1254.3h2.92v24.75h-2.92zM252.02 1279.05h2.95v24.75h-2.95zM501.26 1279.05h2.92v24.75h-2.92zM568.34 1279.05h2.92v24.75h-2.92zM343.39 1303.8h2.95v24.75h-2.95zM410.86 1303.8h5.83v24.75h-5.83zM512.93 1303.8h2.92v24.75h-2.92zM585.83 1303.8h2.92v24.75h-2.92zM606.25 1303.8h5.83v24.75h-5.83zM658.74 1303.8h2.92v24.75h-2.92zM699.57 1303.8h2.92v24.75h-2.92zM358.12 1328.55h2.95v24.75h-2.95zM228.44 1353.3h2.95v24.75h-2.95zM322.76 1353.3h5.89v24.75h-5.89zM175.39 1378.05h2.95v24.75h-2.95zM316.86 1378.05h2.95v24.75h-2.95zM349.28 1378.05h2.95v24.75h-2.95zM364.02 1378.05h2.95v24.75h-2.95zM378.75 1378.05h2.95v24.75h-2.95zM384.62 1378.05h2.92v24.75h-2.92zM597.5 1378.05h2.92v24.75h-2.92zM652.91 1378.05h2.92v24.75h-2.92zM260.86 1402.8h2.95v24.75h-2.95zM287.39 1402.8h2.95v24.75h-2.95zM334.54 1402.8h2.95v24.75h-2.95zM440.02 1402.8h2.92v24.75h-2.92zM445.86 1402.8h2.92v24.75h-2.92zM492.52 1402.8h2.92v24.75h-2.92zM565.42 1402.8h2.92v24.75h-2.92zM789.97 1402.8h2.92v24.75h-2.92zM184.24 1427.55h2.95v24.75h-2.95zM445.86 1427.55h2.92v24.75h-2.92zM492.52 1427.55h2.92v24.75h-2.92zM597.5 1427.55h2.92v24.75h-2.92zM193.08 1452.3h2.95v24.75h-2.95zM284.44 1477.05h2.95v24.75h-2.95zM440.02 1477.05h2.92v24.75h-2.92zM175.39 1501.8h2.95v24.75h-2.95zM207.81 1501.8h2.95v24.75h-2.95zM257.92 1501.8h2.95v24.75h-2.95zM349.28 1501.8h2.95v24.75h-2.95zM390.45 1501.8h2.92v24.75h-2.92zM483.77 1501.8h2.92v24.75h-2.92zM658.74 1501.8h2.92v24.75h-2.92zM719.98 1501.8h2.92v24.75h-2.92zM237.29 1526.55h2.95v24.75h-2.95zM305.07 1526.55h2.95v24.75h-2.95zM606.25 1526.55h2.92v24.75h-2.92zM196.03 1551.3h2.95v24.75h-2.95zM334.54 1551.3h2.95v24.75h-2.95zM460.44 1551.3h2.92v24.75h-2.92zM582.92 1551.3h2.92v24.75h-2.92zM600.41 1551.3h2.92v24.75h-2.92zM649.99 1551.3h2.92v24.75h-2.92zM687.9 1551.3h2.92v24.75h-2.92zM308.02 1576.05h2.95v24.75h-2.95zM489.6 1576.05h2.92v24.75h-2.92zM719.98 1576.05h2.92v24.75h-2.92zM257.92 1600.8h2.95v24.75h-2.95zM299.18 1600.8h2.95v24.75h-2.95zM305.07 1600.8h2.95v24.75h-2.95zM319.81 1600.8h2.95v24.75h-2.95zM334.54 1600.8h2.95v24.75h-2.95zM486.68 1600.8h2.92v24.75h-2.92zM547.92 1600.8h2.92v24.75h-2.92zM582.92 1600.8h2.92v24.75h-2.92zM757.89 1600.8h5.83v24.75h-5.83zM187.18 1625.55h2.95v24.75h-2.95zM201.92 1625.55h2.95v24.75h-2.95zM328.65 1625.55h2.95v24.75h-2.95z"/>
<path fill="#c7cae7" d="M469.19 957.3h2.92v24.75h-2.92zM580 1006.8h2.92v24.75h-2.92zM763.72 1006.8h2.92v24.75h-2.92zM731.64 1031.55h2.92v24.75h-2.92zM416.69 1056.3h2.92v24.75h-2.92zM422.53 1056.3h2.92v24.75h-2.92zM574.17 1056.3h2.92v24.75h-2.92zM635.41 1056.3h2.92v24.75h-2.92zM734.56 1056.3h2.92v24.75h-2.92zM434.19 1081.05h2.92v24.75h-2.92zM580 1081.05h2.92v24.75h-2.92zM769.55 1081.05h2.92v24.75h-2.92zM442.94 1105.8h2.92v24.75h-2.92zM553.76 1105.8h2.92v24.75h-2.92zM679.15 1105.8h2.92v24.75h-2.92zM178.34 1130.55h2.95v24.75h-2.95zM396.28 1130.55h2.92v24.75h-2.92zM431.28 1130.55h2.92v24.75h-2.92zM612.08 1130.55h2.92v24.75h-2.92zM711.23 1130.55h5.83v24.75h-5.83zM495.43 1155.3h2.92v24.75h-2.92zM553.76 1155.3h2.92v24.75h-2.92zM772.47 1155.3h2.92v24.75h-2.92zM472.1 1180.05h2.92v24.75h-2.92zM577.09 1180.05h5.83v24.75h-5.83zM679.15 1204.8h2.92v24.75h-2.92zM434.19 1254.3h2.92v24.75h-2.92zM469.19 1254.3h2.92v24.75h-2.92zM553.76 1254.3h2.92v24.75h-2.92zM591.67 1254.3h2.92v24.75h-2.92zM431.28 1279.05h2.92v24.75h-2.92zM711.23 1279.05h2.92v24.75h-2.92zM178.34 1303.8h2.95v24.75h-2.95zM402.11 1303.8h2.92v24.75h-2.92zM760.81 1303.8h2.92v24.75h-2.92zM521.68 1328.55h2.92v24.75h-2.92zM673.32 1328.55h2.92v24.75h-2.92zM178.34 1353.3h2.95v24.75h-2.95zM498.35 1353.3h2.92v24.75h-2.92zM550.84 1353.3h2.92v24.75h-2.92zM580 1353.3h2.92v24.75h-2.92zM632.49 1353.3h2.92v24.75h-2.92zM402.11 1378.05h2.92v24.75h-2.92zM495.43 1378.05h2.92v24.75h-2.92zM577.09 1378.05h2.92v24.75h-2.92zM722.9 1378.05h2.92v24.75h-2.92zM521.68 1402.8h2.92v24.75h-2.92zM690.82 1402.8h2.92v24.75h-2.92zM431.28 1427.55h2.92v24.75h-2.92zM673.32 1427.55h5.83v24.75h-5.83zM778.3 1427.55h2.92v24.75h-2.92zM431.28 1452.3h2.92v24.75h-2.92zM442.94 1452.3h2.92v24.75h-2.92zM504.18 1452.3h2.92v24.75h-2.92zM553.76 1452.3h2.92v24.75h-2.92zM559.59 1452.3h2.92v24.75h-2.92zM647.07 1452.3h2.92v24.75h-2.92zM722.9 1452.3h2.92v24.75h-2.92zM489.6 1477.05h2.92v24.75h-2.92zM495.43 1477.05h2.92v24.75h-2.92zM580 1477.05h2.92v24.75h-2.92zM612.08 1501.8h2.92v24.75h-2.92zM577.09 1526.55h2.92v24.75h-2.92zM617.91 1526.55h2.92v24.75h-2.92zM580 1551.3h2.92v24.75h-2.92zM396.28 1576.05h2.92v24.75h-2.92zM553.76 1576.05h2.92v24.75h-2.92zM673.32 1576.05h2.92v24.75h-2.92zM396.28 1600.8h2.92v24.75h-2.92zM469.19 1600.8h2.92v24.75h-2.92zM647.07 1600.8h2.92v24.75h-2.92zM772.47 1600.8h2.92v24.75h-2.92zM673.32 1625.55h2.92v24.75h-2.92z"/>
<path fill="#f7d7d7" d="M483.77 957.3h2.92v24.75h-2.92zM492.52 957.3h2.92v24.75h-2.92zM597.5 957.3h2.92v24.75h-2.92zM319.81 982.05h2.95v24.75h-2.95zM492.52 982.05h2.92v24.75h-2.92zM527.51 982.05h2.92v24.75h-2.92zM789.97 982.05h2.92v24.75h-2.92zM198.97 1006.8h5.89v24.75h-5.89zM260.86 1006.8h2.95v24.75h-2.95zM358.12 1006.8h2.95v24.75h-2.95zM366.96 1006.8h2.95v24.75h-2.95zM623.74 1006.8h2.92v24.75h-2.92zM655.82 1006.8h2.92v24.75h-2.92zM746.22 1006.8h2.92v24.75h-2.92zM754.97 1006.8h2.92v24.75h-2.92zM787.05 1006.8h2.92v24.75h-2.92zM196.03 1031.55h2.95v24.75h-2.95zM252.02 1031.55h2.95v24.75h-2.95zM284.44 1031.55h2.95v24.75h-2.95zM366.96 1031.55h2.95v24.75h-2.95zM451.69 1031.55h2.92v24.75h-2.92zM530.43 1031.55h2.92v24.75h-2.92zM565.42 1031.55h2.92v24.75h-2.92zM649.99 1031.55h2.92v24.75h-2.92zM655.82 1031.55h2.92v24.75h-2.92zM257.92 1056.3h2.95v24.75h-2.95zM331.6 1056.3h2.95v24.75h-2.95zM655.82 1056.3h2.92v24.75h-2.92zM246.13 1081.05h2.95v24.75h-2.95zM275.6 1081.05h5.89v24.75h-5.89zM316.86 1081.05h2.95v24.75h-2.95zM325.7 1081.05h2.95v24.75h-2.95zM556.67 1081.05h2.92v24.75h-2.92zM737.48 1081.05h2.92v24.75h-2.92zM193.08 1105.8h2.95v24.75h-2.95zM237.29 1105.8h2.95v24.75h-2.95zM322.76 1105.8h2.95v24.75h-2.95zM390.45 1105.8h2.92v24.75h-2.92zM606.25 1105.8h2.92v24.75h-2.92zM737.48 1105.8h2.92v24.75h-2.92zM792.88 1105.8h2.92v24.75h-2.92zM234.34 1130.55h2.95v24.75h-2.95zM670.4 1130.55h2.92v24.75h-2.92zM792.88 1130.55h2.92v24.75h-2.92zM207.81 1155.3h2.95v24.75h-2.95zM237.29 1155.3h2.95v24.75h-2.95zM269.71 1155.3h2.95v24.75h-2.95zM325.7 1155.3h2.95v24.75h-2.95zM606.25 1155.3h2.92v24.75h-2.92zM623.74 1155.3h2.92v24.75h-2.92zM652.91 1155.3h2.92v24.75h-2.92zM728.73 1155.3h2.92v24.75h-2.92zM216.66 1180.05h2.95v24.75h-2.95zM278.55 1180.05h2.95v24.75h-2.95zM606.25 1180.05h2.92v24.75h-2.92zM190.13 1204.8h2.95v24.75h-2.95zM225.5 1204.8h2.95v24.75h-2.95zM440.02 1204.8h2.92v24.75h-2.92zM483.77 1204.8h2.92v24.75h-2.92zM542.09 1204.8h2.92v24.75h-2.92zM609.16 1204.8h2.92v24.75h-2.92zM658.74 1204.8h2.92v24.75h-2.92zM766.64 1204.8h2.92v24.75h-2.92zM207.81 1229.55h2.95v24.75h-2.95zM228.44 1229.55h2.95v24.75h-2.95zM234.34 1229.55h2.95v24.75h-2.95zM240.23 1229.55h2.95v24.75h-2.95zM293.28 1229.55h2.95v24.75h-2.95zM343.39 1229.55h2.95v24.75h-2.95zM483.77 1229.55h5.83v24.75h-5.83zM606.25 1229.55h2.92v24.75h-2.92zM626.66 1229.55h2.92v24.75h-2.92zM737.48 1229.55h2.92v24.75h-2.92zM754.97 1229.55h2.92v24.75h-2.92zM204.87 1254.3h2.95v24.75h-2.95zM216.66 1254.3h2.95v24.75h-2.95zM257.92 1254.3h2.95v24.75h-2.95zM343.39 1254.3h2.95v24.75h-2.95zM655.82 1254.3h2.92v24.75h-2.92zM187.18 1279.05h2.95v24.75h-2.95zM313.91 1279.05h2.95v24.75h-2.95zM340.44 1279.05h2.95v24.75h-2.95zM413.78 1279.05h2.92v24.75h-2.92zM670.4 1279.05h2.92v24.75h-2.92zM260.86 1303.8h2.95v24.75h-2.95zM316.86 1303.8h2.95v24.75h-2.95zM366.96 1303.8h2.95v24.75h-2.95zM387.53 1303.8h2.92v24.75h-2.92zM445.86 1303.8h2.92v24.75h-2.92zM483.77 1303.8h2.92v24.75h-2.92zM746.22 1303.8h2.92v24.75h-2.92zM196.03 1328.55h2.95v24.75h-2.95zM207.81 1328.55h2.95v24.75h-2.95zM606.25 1328.55h2.92v24.75h-2.92zM737.48 1328.55h2.92v24.75h-2.92zM358.12 1353.3h2.95v24.75h-2.95zM378.75 1353.3h2.95v24.75h-2.95zM565.42 1353.3h2.92v24.75h-2.92zM184.24 1378.05h2.95v24.75h-2.95zM204.87 1378.05h5.89v24.75h-5.89zM278.55 1378.05h2.95v24.75h-2.95zM410.86 1378.05h2.92v24.75h-2.92zM440.02 1378.05h2.92v24.75h-2.92zM445.86 1378.05h2.92v24.75h-2.92zM486.68 1378.05h2.92v24.75h-2.92zM565.42 1378.05h2.92v24.75h-2.92zM571.25 1378.05h2.92v24.75h-2.92zM787.05 1378.05h2.92v24.75h-2.92zM228.44 1402.8h2.95v24.75h-2.95zM278.55 1402.8h2.95v24.75h-2.95zM524.59 1402.8h2.92v24.75h-2.92zM658.74 1402.8h2.92v24.75h-2.92zM737.48 1402.8h2.92v24.75h-2.92zM746.22 1402.8h2.92v24.75h-2.92zM181.29 1427.55h2.95v24.75h-2.95zM234.34 1427.55h2.95v24.75h-2.95zM334.54 1427.55h2.95v24.75h-2.95zM413.78 1427.55h2.92v24.75h-2.92zM661.65 1427.55h2.92v24.75h-2.92zM361.07 1452.3h2.95v24.75h-2.95zM207.81 1477.05h2.95v24.75h-2.95zM234.34 1477.05h2.95v24.75h-2.95zM308.02 1477.05h2.95v24.75h-2.95zM322.76 1477.05h2.95v24.75h-2.95zM664.57 1477.05h2.92v24.75h-2.92zM682.07 1477.05h2.92v24.75h-2.92zM278.55 1501.8h2.95v24.75h-2.95zM305.07 1501.8h2.95v24.75h-2.95zM316.86 1501.8h2.95v24.75h-2.95zM445.86 1501.8h2.92v24.75h-2.92zM275.6 1526.55h5.89v24.75h-5.89zM334.54 1526.55h2.95v24.75h-2.95zM366.96 1526.55h2.95v24.75h-2.95zM225.5 1551.3h2.95v24.75h-2.95zM275.6 1551.3h2.95v24.75h-2.95zM308.02 1551.3h2.95v24.75h-2.95zM378.75 1551.3h2.95v24.75h-2.95zM536.26 1551.3h2.92v24.75h-2.92zM644.16 1551.3h2.92v24.75h-2.92zM664.57 1551.3h2.92v24.75h-2.92zM319.81 1576.05h2.95v24.75h-2.95zM334.54 1576.05h2.95v24.75h-2.95zM431.28 1576.05h2.92v24.75h-2.92zM454.6 1576.05h2.92v24.75h-2.92zM483.77 1576.05h2.92v24.75h-2.92zM492.52 1576.05h2.92v24.75h-2.92zM571.25 1576.05h2.92v24.75h-2.92zM612.08 1576.05h2.92v24.75h-2.92zM664.57 1576.05h2.92v24.75h-2.92zM789.97 1576.05h2.92v24.75h-2.92zM231.39 1600.8h2.95v24.75h-2.95zM378.75 1600.8h2.95v24.75h-2.95zM387.53 1600.8h2.92v24.75h-2.92zM466.27 1600.8h2.92v24.75h-2.92zM527.51 1600.8h2.92v24.75h-2.92zM635.41 1600.8h2.92v24.75h-2.92zM792.88 1600.8h2.92v24.75h-2.92zM249.07 1625.55h2.95v24.75h-2.95zM358.12 1625.55h2.95v24.75h-2.95zM407.95 1625.55h2.92v24.75h-2.92zM440.02 1625.55h2.92v24.75h-2.92zM518.76 1625.55h2.92v24.75h-2.92zM609.16 1625.55h2.92v24.75h-2.92zM702.48 1625.55h2.92v24.75h-2.92zM743.31 1625.55h2.92v24.75h-2.92zM757.89 1625.55h2.92v24.75h-2.92zM789.97 1625.55h2.92v24.75h-2.92z"/>
<path fill="#f3c6c6" d="M530.43 957.3h2.92v24.75h-2.92zM652.91 957.3h2.92v24.75h-2.92zM658.74 982.05h2.92v24.75h-2.92zM440.02 1006.8h2.92v24.75h-2.92zM585.83 1006.8h2.92v24.75h-2.92zM792.88 1006.8h2.92v24.75h-2.92zM299.18 1031.55h2.95v24.75h-2.95zM454.6 1031.55h2.92v24.75h-2.92zM284.44 1056.3h2.95v24.75h-2.95zM322.76 1056.3h2.95v24.75h-2.95zM334.54 1056.3h2.95v24.75h-2.95zM358.12 1056.3h5.89v24.75h-5.89zM228.44 1081.05h2.95v24.75h-2.95zM349.28 1081.05h2.95v24.75h-2.95zM565.42 1105.8h2.92v24.75h-2.92zM190.13 1130.55h2.95v24.75h-2.95zM366.96 1130.55h2.95v24.75h-2.95zM486.68 1130.55h2.92v24.75h-2.92zM196.03 1155.3h2.95v24.75h-2.95zM219.6 1155.3h2.95v24.75h-2.95zM349.28 1155.3h2.95v24.75h-2.95zM361.07 1180.05h2.95v24.75h-2.95zM207.81 1204.8h2.95v24.75h-2.95zM237.29 1229.55h2.95v24.75h-2.95zM284.44 1229.55h2.95v24.75h-2.95zM308.02 1229.55h2.95v24.75h-2.95zM190.13 1254.3h2.95v24.75h-2.95zM334.54 1254.3h2.95v24.75h-2.95zM325.7 1279.05h2.95v24.75h-2.95zM361.07 1279.05h2.95v24.75h-2.95zM375.81 1279.05h2.95v24.75h-2.95zM486.68 1279.05h2.92v24.75h-2.92zM789.97 1279.05h2.92v24.75h-2.92zM181.29 1303.8h2.95v24.75h-2.95zM322.76 1303.8h2.95v24.75h-2.95zM349.28 1303.8h2.95v24.75h-2.95zM486.68 1303.8h2.92v24.75h-2.92zM334.54 1328.55h2.95v24.75h-2.95zM349.28 1328.55h2.95v24.75h-2.95zM545.01 1378.05h2.92v24.75h-2.92zM237.29 1402.8h2.95v24.75h-2.95zM358.12 1402.8h2.95v24.75h-2.95zM606.25 1402.8h2.92v24.75h-2.92zM196.03 1427.55h2.95v24.75h-2.95zM187.18 1452.3h2.95v24.75h-2.95zM445.86 1477.05h2.92v24.75h-2.92zM746.22 1477.05h2.92v24.75h-2.92zM204.87 1501.8h2.95v24.75h-2.95zM237.29 1501.8h2.95v24.75h-2.95zM257.92 1551.3h2.95v24.75h-2.95zM299.18 1551.3h2.95v24.75h-2.95zM454.6 1551.3h2.92v24.75h-2.92zM655.82 1551.3h2.92v24.75h-2.92zM228.44 1576.05h2.95v24.75h-2.95zM442.94 1576.05h2.92v24.75h-2.92zM486.68 1576.05h2.92v24.75h-2.92zM510.01 1576.05h2.92v24.75h-2.92zM328.65 1600.8h2.95v24.75h-2.95zM652.91 1600.8h2.92v24.75h-2.92zM216.66 1625.55h2.95v24.75h-2.95zM322.76 1625.55h5.89v24.75h-5.89zM366.96 1625.55h2.95v24.75h-2.95zM460.44 1625.55h2.92v24.75h-2.92zM728.73 1625.55h2.92v24.75h-2.92z"/>
<path fill="#bcc1e3" d="M574.17 957.3h2.92v24.75h-2.92zM396.28 982.05h2.92v24.75h-2.92zM679.15 1056.3h2.92v24.75h-2.92zM760.81 1056.3h2.92v24.75h-2.92zM769.55 1056.3h2.92v24.75h-2.92zM577.09 1081.05h2.92v24.75h-2.92zM416.69 1105.8h2.92v24.75h-2.92zM431.28 1105.8h2.92v24.75h-2.92zM469.19 1130.55h2.92v24.75h-2.92zM673.32 1130.55h2.92v24.75h-2.92zM434.19 1180.05h2.92v24.75h-2.92zM673.32 1180.05h2.92v24.75h-2.92zM711.23 1180.05h2.92v24.75h-2.92zM431.28 1229.55h2.92v24.75h-2.92zM580 1229.55h2.92v24.75h-2.92zM396.28 1254.3h2.92v24.75h-2.92zM673.32 1279.05h2.92v24.75h-2.92zM679.15 1279.05h2.92v24.75h-2.92zM553.76 1303.8h2.92v24.75h-2.92zM407.95 1353.3h2.92v24.75h-2.92zM620.83 1353.3h2.92v24.75h-2.92zM574.17 1378.05h2.92v24.75h-2.92zM574.17 1402.8h2.92v24.75h-2.92zM580 1402.8h2.92v24.75h-2.92zM178.34 1427.55h2.95v24.75h-2.95zM574.17 1452.3h2.92v24.75h-2.92zM620.83 1452.3h2.92v24.75h-2.92zM574.17 1477.05h2.92v24.75h-2.92zM407.95 1501.8h2.92v24.75h-2.92zM580 1501.8h2.92v24.75h-2.92zM731.64 1501.8h2.92v24.75h-2.92z"/>
<path fill="#d1d4eb" d="M580 957.3h2.92v24.75h-2.92zM620.83 957.3h2.92v24.75h-2.92zM302.12 982.05h2.95v24.75h-2.95zM442.94 982.05h2.92v24.75h-2.92zM760.81 982.05h2.92v24.75h-2.92zM521.68 1006.8h2.92v24.75h-2.92zM577.09 1006.8h2.92v24.75h-2.92zM396.28 1031.55h2.92v24.75h-2.92zM407.95 1056.3h5.83v24.75h-5.83zM533.34 1056.3h2.92v24.75h-2.92zM562.5 1056.3h2.92v24.75h-2.92zM571.25 1056.3h2.92v24.75h-2.92zM696.65 1056.3h2.92v24.75h-2.92zM310.97 1081.05h2.95v24.75h-2.95zM416.69 1081.05h2.92v24.75h-2.92zM442.94 1081.05h2.92v24.75h-2.92zM495.43 1081.05h2.92v24.75h-2.92zM725.81 1081.05h2.92v24.75h-2.92zM772.47 1081.05h2.92v24.75h-2.92zM369.91 1105.8h2.95v24.75h-2.95zM533.34 1105.8h2.92v24.75h-2.92zM562.5 1105.8h2.92v24.75h-2.92zM580 1105.8h2.92v24.75h-2.92zM617.91 1105.8h2.92v24.75h-2.92zM399.2 1130.55h2.92v24.75h-2.92zM553.76 1130.55h2.92v24.75h-2.92zM696.65 1130.55h2.92v24.75h-2.92zM725.81 1130.55h2.92v24.75h-2.92zM210.76 1155.3h2.95v24.75h-2.95zM521.68 1155.3h2.92v24.75h-2.92zM620.83 1155.3h2.92v24.75h-2.92zM760.81 1155.3h2.92v24.75h-2.92zM346.33 1180.05h2.95v24.75h-2.95zM422.53 1180.05h2.92v24.75h-2.92zM428.36 1180.05h2.92v24.75h-2.92zM469.19 1180.05h2.92v24.75h-2.92zM615 1180.05h2.92v24.75h-2.92zM722.9 1180.05h5.83v24.75h-5.83zM760.81 1180.05h2.92v24.75h-2.92zM402.11 1204.8h2.92v24.75h-2.92zM521.68 1204.8h2.92v24.75h-2.92zM553.76 1204.8h2.92v24.75h-2.92zM594.58 1204.8h2.92v24.75h-2.92zM313.91 1254.3h2.95v24.75h-2.95zM442.94 1254.3h2.92v24.75h-2.92zM495.43 1254.3h5.83v24.75h-5.83zM559.59 1254.3h2.92v24.75h-2.92zM690.82 1254.3h2.92v24.75h-2.92zM743.31 1254.3h2.92v24.75h-2.92zM781.22 1254.3h2.92v24.75h-2.92zM469.19 1279.05h2.92v24.75h-2.92zM760.81 1279.05h2.92v24.75h-2.92zM775.39 1279.05h5.83v24.75h-5.83zM489.6 1303.8h2.92v24.75h-2.92zM559.59 1303.8h2.92v24.75h-2.92zM617.91 1303.8h2.92v24.75h-2.92zM416.69 1328.55h2.92v24.75h-2.92zM559.59 1328.55h2.92v24.75h-2.92zM617.91 1328.55h5.83v24.75h-5.83zM760.81 1328.55h2.92v24.75h-2.92zM310.97 1353.3h2.95v24.75h-2.95zM402.11 1353.3h2.92v24.75h-2.92zM533.34 1353.3h2.92v24.75h-2.92zM562.5 1353.3h2.92v24.75h-2.92zM722.9 1353.3h2.92v24.75h-2.92zM580 1378.05h2.92v24.75h-2.92zM673.32 1378.05h2.92v24.75h-2.92zM731.64 1378.05h2.92v24.75h-2.92zM428.36 1402.8h2.92v24.75h-2.92zM498.35 1402.8h2.92v24.75h-2.92zM638.33 1402.8h2.92v24.75h-2.92zM673.32 1402.8h2.92v24.75h-2.92zM679.15 1402.8h2.92v24.75h-2.92zM553.76 1427.55h2.92v24.75h-2.92zM559.59 1427.55h2.92v24.75h-2.92zM571.25 1427.55h2.92v24.75h-2.92zM580 1427.55h2.92v24.75h-2.92zM690.82 1427.55h2.92v24.75h-2.92zM714.15 1427.55h2.92v24.75h-2.92zM763.72 1427.55h2.92v24.75h-2.92zM384.62 1452.3h2.92v24.75h-2.92zM399.2 1452.3h2.92v24.75h-2.92zM437.11 1452.3h2.92v24.75h-2.92zM448.77 1452.3h2.92v24.75h-2.92zM472.1 1452.3h2.92v24.75h-2.92zM547.92 1452.3h2.92v24.75h-2.92zM562.5 1452.3h2.92v24.75h-2.92zM667.49 1452.3h2.92v24.75h-2.92zM676.24 1452.3h2.92v24.75h-2.92zM708.31 1452.3h2.92v24.75h-2.92zM620.83 1477.05h2.92v24.75h-2.92zM711.23 1477.05h2.92v24.75h-2.92zM210.76 1501.8h2.95v24.75h-2.95zM442.94 1501.8h2.92v24.75h-2.92zM495.43 1501.8h2.92v24.75h-2.92zM402.11 1526.55h2.92v24.75h-2.92zM434.19 1526.55h2.92v24.75h-2.92zM571.25 1526.55h2.92v24.75h-2.92zM673.32 1526.55h2.92v24.75h-2.92zM760.81 1526.55h2.92v24.75h-2.92zM597.5 1576.05h2.92v24.75h-2.92zM416.69 1600.8h2.92v24.75h-2.92zM475.02 1600.8h2.92v24.75h-2.92zM609.16 1600.8h2.92v24.75h-2.92zM734.56 1600.8h2.92v24.75h-2.92zM442.94 1625.55h2.92v24.75h-2.92z"/>
<path fill="#eda9a9" d="M585.83 957.3h2.92v24.75h-2.92zM658.74 1031.55h2.92v24.75h-2.92zM187.18 1056.3h2.95v24.75h-2.95zM187.18 1081.05h2.95v24.75h-2.95zM243.18 1081.05h2.95v24.75h-2.95zM366.96 1105.8h2.95v24.75h-2.95zM361.07 1130.55h2.95v24.75h-2.95zM187.18 1180.05h2.95v24.75h-2.95zM349.28 1180.05h2.95v24.75h-2.95zM231.39 1204.8h2.95v24.75h-2.95zM358.12 1204.8h2.95v24.75h-2.95zM219.6 1229.55h2.95v24.75h-2.95zM278.55 1229.55h2.95v24.75h-2.95zM358.12 1229.55h2.95v24.75h-2.95zM440.02 1229.55h2.92v24.75h-2.92zM328.65 1254.3h2.95v24.75h-2.95zM231.39 1279.05h2.95v24.75h-2.95zM231.39 1303.8h2.95v24.75h-2.95zM187.18 1328.55h2.95v24.75h-2.95zM237.29 1353.3h2.95v24.75h-2.95zM237.29 1378.05h2.95v24.75h-2.95zM219.6 1402.8h2.95v24.75h-2.95zM187.18 1427.55h2.95v24.75h-2.95zM237.29 1427.55h2.95v24.75h-2.95zM299.18 1452.3h2.95v24.75h-2.95zM319.81 1501.8h2.95v24.75h-2.95zM325.7 1576.05h2.95v24.75h-2.95zM358.12 1576.05h2.95v24.75h-2.95zM682.07 1576.05h2.92v24.75h-2.92z"/>
<path fill="#eca3a3" d="M658.74 957.3h2.92v24.75h-2.92zM196.03 1056.3h2.95v24.75h-2.95zM299.18 1081.05h2.95v24.75h-2.95zM187.18 1155.3h2.95v24.75h-2.95zM299.18 1180.05h2.95v24.75h-2.95zM328.65 1180.05h2.95v24.75h-2.95zM361.07 1204.8h2.95v24.75h-2.95zM366.96 1279.05h2.95v24.75h-2.95zM196.03 1303.8h2.95v24.75h-2.95zM328.65 1353.3h2.95v24.75h-2.95zM328.65 1378.05h2.95v24.75h-2.95zM243.18 1402.8h2.95v24.75h-2.95zM243.18 1477.05h2.95v24.75h-2.95zM358.12 1501.8h2.95v24.75h-2.95zM231.39 1526.55h2.95v24.75h-2.95zM687.9 1576.05h2.92v24.75h-2.92zM527.51 1625.55h2.92v24.75h-2.92zM638.33 1625.55h2.92v24.75h-2.92z"/>
<path fill="#cccfe9" d="M734.56 957.3h2.92v24.75h-2.92zM469.19 982.05h2.92v24.75h-2.92zM553.76 982.05h2.92v24.75h-2.92zM635.41 982.05h5.83v24.75h-5.83zM313.91 1006.8h2.95v24.75h-2.95zM620.83 1006.8h2.92v24.75h-2.92zM714.15 1006.8h2.92v24.75h-2.92zM553.76 1031.55h2.92v24.75h-2.92zM402.11 1056.3h2.92v24.75h-2.92zM580 1056.3h2.92v24.75h-2.92zM731.64 1056.3h2.92v24.75h-2.92zM752.06 1056.3h2.92v24.75h-2.92zM498.35 1081.05h2.92v24.75h-2.92zM521.68 1081.05h2.92v24.75h-2.92zM553.76 1081.05h2.92v24.75h-2.92zM559.59 1081.05h2.92v24.75h-2.92zM472.1 1105.8h2.92v24.75h-2.92zM495.43 1105.8h5.83v24.75h-5.83zM542.09 1105.8h2.92v24.75h-2.92zM632.49 1105.8h2.92v24.75h-2.92zM422.53 1130.55h2.92v24.75h-2.92zM574.17 1130.55h2.92v24.75h-2.92zM769.55 1130.55h2.92v24.75h-2.92zM781.22 1130.55h2.92v24.75h-2.92zM402.11 1180.05h2.92v24.75h-2.92zM495.43 1180.05h2.92v24.75h-2.92zM591.67 1180.05h2.92v24.75h-2.92zM775.39 1180.05h2.92v24.75h-2.92zM178.34 1204.8h2.95v24.75h-2.95zM396.28 1204.8h2.92v24.75h-2.92zM498.35 1204.8h2.92v24.75h-2.92zM580 1204.8h2.92v24.75h-2.92zM434.19 1229.55h2.92v24.75h-2.92zM495.43 1229.55h2.92v24.75h-2.92zM679.15 1229.55h2.92v24.75h-2.92zM620.83 1254.3h2.92v24.75h-2.92zM673.32 1254.3h2.92v24.75h-2.92zM708.31 1254.3h2.92v24.75h-2.92zM734.56 1254.3h2.92v24.75h-2.92zM178.34 1279.05h2.95v24.75h-2.95zM577.09 1279.05h2.92v24.75h-2.92zM667.49 1279.05h2.92v24.75h-2.92zM495.43 1303.8h2.92v24.75h-2.92zM577.09 1303.8h2.92v24.75h-2.92zM281.49 1328.55h2.95v24.75h-2.95zM431.28 1328.55h5.83v24.75h-5.83zM469.19 1328.55h2.92v24.75h-2.92zM477.93 1328.55h2.92v24.75h-2.92zM553.76 1328.55h2.92v24.75h-2.92zM690.82 1328.55h2.92v24.75h-2.92zM290.34 1353.3h2.95v24.75h-2.95zM428.36 1353.3h2.92v24.75h-2.92zM434.19 1353.3h2.92v24.75h-2.92zM495.43 1353.3h2.92v24.75h-2.92zM553.76 1353.3h2.92v24.75h-2.92zM679.15 1353.3h2.92v24.75h-2.92zM769.55 1353.3h2.92v24.75h-2.92zM396.28 1378.05h2.92v24.75h-2.92zM647.07 1378.05h2.92v24.75h-2.92zM396.28 1402.8h2.92v24.75h-2.92zM781.22 1402.8h2.92v24.75h-2.92zM495.43 1427.55h5.83v24.75h-5.83zM577.09 1427.55h2.92v24.75h-2.92zM679.15 1427.55h2.92v24.75h-2.92zM178.34 1452.3h2.95v24.75h-2.95zM352.23 1452.3h2.95v24.75h-2.95zM369.91 1452.3h2.95v24.75h-2.95zM393.36 1452.3h2.92v24.75h-2.92zM419.61 1452.3h2.92v24.75h-2.92zM428.36 1452.3h2.92v24.75h-2.92zM521.68 1452.3h2.92v24.75h-2.92zM612.08 1452.3h2.92v24.75h-2.92zM632.49 1452.3h2.92v24.75h-2.92zM661.65 1452.3h2.92v24.75h-2.92zM725.81 1452.3h2.92v24.75h-2.92zM734.56 1452.3h2.92v24.75h-2.92zM781.22 1452.3h2.92v24.75h-2.92zM210.76 1477.05h2.95v24.75h-2.95zM553.76 1477.05h2.92v24.75h-2.92zM734.56 1477.05h2.92v24.75h-2.92zM769.55 1477.05h2.92v24.75h-2.92zM434.19 1501.8h2.92v24.75h-2.92zM661.65 1501.8h2.92v24.75h-2.92zM769.55 1501.8h2.92v24.75h-2.92zM553.76 1526.55h2.92v24.75h-2.92zM620.83 1526.55h2.92v24.75h-2.92zM740.39 1526.55h2.92v24.75h-2.92zM396.28 1551.3h2.92v24.75h-2.92zM577.09 1551.3h2.92v24.75h-2.92zM679.15 1551.3h2.92v24.75h-2.92zM734.56 1551.3h2.92v24.75h-2.92zM763.72 1551.3h2.92v24.75h-2.92zM501.26 1576.05h2.92v24.75h-2.92zM425.44 1600.8h2.92v24.75h-2.92zM571.25 1625.55h2.92v24.75h-2.92zM580 1625.55h2.92v24.75h-2.92zM647.07 1625.55h2.92v24.75h-2.92z"/>
<path fill="#b7bce1" d="M760.81 957.3h2.92v24.75h-2.92zM416.69 982.05h2.92v24.75h-2.92zM431.28 1081.05h2.92v24.75h-2.92zM434.19 1130.55h2.92v24.75h-2.92zM396.28 1155.3h2.92v24.75h-2.92zM574.17 1155.3h2.92v24.75h-2.92zM731.64 1155.3h2.92v24.75h-2.92zM725.81 1254.3h2.92v24.75h-2.92zM402.11 1279.05h2.92v24.75h-2.92zM178.34 1328.55h2.95v24.75h-2.95zM574.17 1353.3h2.92v24.75h-2.92zM434.19 1402.8h2.92v24.75h-2.92zM577.09 1452.3h2.92v24.75h-2.92zM396.28 1477.05h2.92v24.75h-2.92zM396.28 1501.8h2.92v24.75h-2.92zM178.34 1526.55h2.95v24.75h-2.95zM580 1526.55h2.92v24.75h-2.92zM632.49 1551.3h2.92v24.75h-2.92z"/>
<path fill="#e68787" d="M263.81 982.05h2.95v24.75h-2.95zM652.91 1031.55h2.92v24.75h-2.92zM243.18 1130.55h2.95v24.75h-2.95zM299.18 1155.3h2.95v24.75h-2.95zM196.03 1204.8h2.95v24.75h-2.95zM299.18 1229.55h2.95v24.75h-2.95zM299.18 1279.05h2.95v24.75h-2.95zM299.18 1303.8h2.95v24.75h-2.95zM243.18 1353.3h2.95v24.75h-2.95zM196.03 1402.8h2.95v24.75h-2.95zM263.81 1402.8h2.95v24.75h-2.95zM243.18 1427.55h2.95v24.75h-2.95zM299.18 1427.55h2.95v24.75h-2.95zM231.39 1501.8h2.95v24.75h-2.95z"/>
<path fill="#c2c6e5" d="M521.68 982.05h2.92v24.75h-2.92zM553.76 1006.8h2.92v24.75h-2.92zM559.59 1056.3h2.92v24.75h-2.92zM711.23 1056.3h2.92v24.75h-2.92zM781.22 1056.3h2.92v24.75h-2.92zM632.49 1081.05h2.92v24.75h-2.92zM690.82 1081.05h2.92v24.75h-2.92zM760.81 1081.05h2.92v24.75h-2.92zM577.09 1105.8h2.92v24.75h-2.92zM594.58 1105.8h2.92v24.75h-2.92zM734.56 1105.8h2.92v24.75h-2.92zM402.11 1130.55h2.92v24.75h-2.92zM498.35 1130.55h2.92v24.75h-2.92zM679.15 1130.55h2.92v24.75h-2.92zM722.9 1130.55h2.92v24.75h-2.92zM577.09 1155.3h5.83v24.75h-5.83zM679.15 1155.3h2.92v24.75h-2.92zM693.73 1155.3h2.92v24.75h-2.92zM178.34 1180.05h2.95v24.75h-2.95zM419.61 1180.05h2.92v24.75h-2.92zM574.17 1180.05h2.92v24.75h-2.92zM431.28 1204.8h2.92v24.75h-2.92zM673.32 1204.8h2.92v24.75h-2.92zM402.11 1229.55h2.92v24.75h-2.92zM574.17 1229.55h2.92v24.75h-2.92zM638.33 1254.3h2.92v24.75h-2.92zM731.64 1254.3h2.92v24.75h-2.92zM775.39 1254.3h2.92v24.75h-2.92zM396.28 1279.05h2.92v24.75h-2.92zM498.35 1279.05h2.92v24.75h-2.92zM574.17 1279.05h2.92v24.75h-2.92zM731.64 1328.55h2.92v24.75h-2.92zM781.22 1328.55h2.92v24.75h-2.92zM442.94 1353.3h2.92v24.75h-2.92zM434.19 1427.55h2.92v24.75h-2.92zM574.17 1427.55h2.92v24.75h-2.92zM772.47 1427.55h2.92v24.75h-2.92zM402.11 1452.3h2.92v24.75h-2.92zM469.19 1452.3h2.92v24.75h-2.92zM617.91 1452.3h2.92v24.75h-2.92zM714.15 1477.05h2.92v24.75h-2.92zM632.49 1526.55h2.92v24.75h-2.92zM679.15 1526.55h2.92v24.75h-2.92zM743.31 1526.55h2.92v24.75h-2.92zM632.49 1576.05h2.92v24.75h-2.92zM577.09 1600.8h2.92v24.75h-2.92z"/>
<path fill="#f1baba" d="M606.25 982.05h2.92v24.75h-2.92zM652.91 982.05h2.92v24.75h-2.92zM445.86 1006.8h2.92v24.75h-2.92zM585.83 1031.55h2.92v24.75h-2.92zM237.29 1056.3h2.95v24.75h-2.95zM231.39 1081.05h2.95v24.75h-2.95zM237.29 1081.05h2.95v24.75h-2.95zM196.03 1105.8h2.95v24.75h-2.95zM231.39 1105.8h2.95v24.75h-2.95zM349.28 1130.55h2.95v24.75h-2.95zM378.75 1130.55h2.95v24.75h-2.95zM257.92 1155.3h2.95v24.75h-2.95zM237.29 1180.05h2.95v24.75h-2.95zM340.44 1229.55h2.95v24.75h-2.95zM361.07 1229.55h2.95v24.75h-2.95zM530.43 1229.55h2.92v24.75h-2.92zM284.44 1254.3h2.95v24.75h-2.95zM196.03 1279.05h2.95v24.75h-2.95zM237.29 1279.05h2.95v24.75h-2.95zM257.92 1279.05h2.95v24.75h-2.95zM284.44 1279.05h2.95v24.75h-2.95zM349.28 1279.05h2.95v24.75h-2.95zM219.6 1303.8h2.95v24.75h-2.95zM228.44 1303.8h2.95v24.75h-2.95zM246.13 1303.8h2.95v24.75h-2.95zM275.6 1303.8h2.95v24.75h-2.95zM358.12 1303.8h2.95v24.75h-2.95zM527.51 1303.8h2.92v24.75h-2.92zM196.03 1353.3h2.95v24.75h-2.95zM216.66 1378.05h2.95v24.75h-2.95zM358.12 1378.05h2.95v24.75h-2.95zM325.7 1402.8h2.95v24.75h-2.95zM246.13 1427.55h2.95v24.75h-2.95zM257.92 1427.55h2.95v24.75h-2.95zM284.44 1427.55h2.95v24.75h-2.95zM237.29 1452.3h2.95v24.75h-2.95zM278.55 1452.3h2.95v24.75h-2.95zM358.12 1452.3h2.95v24.75h-2.95zM228.44 1477.05h2.95v24.75h-2.95zM278.55 1477.05h2.95v24.75h-2.95zM325.7 1477.05h2.95v24.75h-2.95zM216.66 1501.8h2.95v24.75h-2.95zM187.18 1526.55h2.95v24.75h-2.95zM257.92 1526.55h2.95v24.75h-2.95zM510.01 1551.3h2.92v24.75h-2.92zM545.01 1576.05h2.92v24.75h-2.92zM626.66 1576.05h2.92v24.75h-2.92zM652.91 1576.05h2.92v24.75h-2.92zM737.48 1600.8h2.92v24.75h-2.92zM789.97 1600.8h2.92v24.75h-2.92zM219.6 1625.55h2.95v24.75h-2.95zM278.55 1625.55h2.95v24.75h-2.95zM319.81 1625.55h2.95v24.75h-2.95zM349.28 1625.55h2.95v24.75h-2.95zM606.25 1625.55h2.92v24.75h-2.92zM649.99 1625.55h5.83v24.75h-5.83z"/>
<path fill="#e88c8c" d="M243.18 1006.8h2.95v24.75h-2.95zM243.18 1105.8h2.95v24.75h-2.95zM328.65 1105.8h2.95v24.75h-2.95zM319.81 1204.8h2.95v24.75h-2.95zM231.39 1254.3h2.95v24.75h-2.95zM243.18 1254.3h2.95v24.75h-2.95zM243.18 1378.05h2.95v24.75h-2.95zM322.76 1378.05h2.95v24.75h-2.95zM328.65 1452.3h2.95v24.75h-2.95zM231.39 1477.05h2.95v24.75h-2.95zM243.18 1501.8h2.95v24.75h-2.95z"/>
<path fill="#e47b7b" d="M263.81 1006.8h2.95v24.75h-2.95zM263.81 1056.3h2.95v24.75h-2.95zM263.81 1105.8h2.95v24.75h-2.95zM319.81 1105.8h2.95v24.75h-2.95zM263.81 1155.3h2.95v24.75h-2.95zM319.81 1303.8h2.95v24.75h-2.95zM319.81 1328.55h2.95v24.75h-2.95zM231.39 1402.8h2.95v24.75h-2.95zM243.18 1452.3h2.95v24.75h-2.95zM319.81 1452.3h2.95v24.75h-2.95zM263.81 1551.3h2.95v24.75h-2.95z"/>
<path fill="#efafaf" d="M319.81 1006.8h2.95v24.75h-2.95zM658.74 1006.8h2.92v24.75h-2.92zM322.76 1081.05h2.95v24.75h-2.95zM334.54 1105.8h2.95v24.75h-2.95zM187.18 1130.55h2.95v24.75h-2.95zM299.18 1130.55h2.95v24.75h-2.95zM358.12 1130.55h2.95v24.75h-2.95zM358.12 1180.05h2.95v24.75h-2.95zM278.55 1204.8h2.95v24.75h-2.95zM196.03 1229.55h2.95v24.75h-2.95zM322.76 1229.55h2.95v24.75h-2.95zM196.03 1254.3h2.95v24.75h-2.95zM319.81 1353.3h2.95v24.75h-2.95zM187.18 1378.05h2.95v24.75h-2.95zM219.6 1378.05h2.95v24.75h-2.95zM284.44 1378.05h2.95v24.75h-2.95zM187.18 1402.8h2.95v24.75h-2.95zM231.39 1427.55h2.95v24.75h-2.95zM328.65 1427.55h2.95v24.75h-2.95zM196.03 1452.3h2.95v24.75h-2.95zM219.6 1452.3h2.95v24.75h-2.95zM187.18 1477.05h2.95v24.75h-2.95zM243.18 1526.55h2.95v24.75h-2.95zM328.65 1526.55h2.95v24.75h-2.95zM328.65 1576.05h2.95v24.75h-2.95zM606.25 1576.05h2.92v24.75h-2.92zM257.92 1625.55h2.95v24.75h-2.95z"/>
<path fill="#f2c0c0" d="M652.91 1006.8h2.92v24.75h-2.92zM792.88 1031.55h2.92v24.75h-2.92zM257.92 1081.05h2.95v24.75h-2.95zM358.12 1081.05h5.89v24.75h-5.89zM278.55 1130.55h2.95v24.75h-2.95zM187.18 1204.8h2.95v24.75h-2.95zM201.92 1204.8h2.95v24.75h-2.95zM219.6 1204.8h2.95v24.75h-2.95zM228.44 1204.8h2.95v24.75h-2.95zM284.44 1204.8h2.95v24.75h-2.95zM190.13 1229.55h2.95v24.75h-2.95zM378.75 1229.55h2.95v24.75h-2.95zM278.55 1254.3h2.95v24.75h-2.95zM322.76 1254.3h2.95v24.75h-2.95zM440.02 1254.3h2.92v24.75h-2.92zM440.02 1279.05h2.92v24.75h-2.92zM193.08 1303.8h2.95v24.75h-2.95zM204.87 1303.8h2.95v24.75h-2.95zM257.92 1303.8h2.95v24.75h-2.95zM334.54 1303.8h2.95v24.75h-2.95zM257.92 1353.3h2.95v24.75h-2.95zM257.92 1378.05h2.95v24.75h-2.95zM366.96 1378.05h2.95v24.75h-2.95zM375.81 1378.05h2.95v24.75h-2.95zM527.51 1378.05h2.92v24.75h-2.92zM216.66 1402.8h2.95v24.75h-2.95zM257.92 1402.8h2.95v24.75h-2.95zM284.44 1402.8h2.95v24.75h-2.95zM204.87 1427.55h2.95v24.75h-2.95zM216.66 1427.55h2.95v24.75h-2.95zM269.71 1427.55h2.95v24.75h-2.95zM349.28 1427.55h2.95v24.75h-2.95zM754.97 1427.55h2.92v24.75h-2.92zM257.92 1452.3h2.95v24.75h-2.95zM757.89 1477.05h2.92v24.75h-2.92zM361.07 1501.8h2.95v24.75h-2.95zM585.83 1501.8h2.92v24.75h-2.92zM196.03 1526.55h2.95v24.75h-2.95zM228.44 1526.55h2.95v24.75h-2.95zM349.28 1526.55h2.95v24.75h-2.95zM361.07 1526.55h2.95v24.75h-2.95zM231.39 1551.3h2.95v24.75h-2.95zM757.89 1551.3h2.92v24.75h-2.92zM231.39 1576.05h2.95v24.75h-2.95zM428.36 1576.05h2.92v24.75h-2.92zM527.51 1576.05h2.92v24.75h-2.92zM585.83 1576.05h2.92v24.75h-2.92zM196.03 1600.8h2.95v24.75h-2.95zM293.28 1600.8h2.95v24.75h-2.95zM237.29 1625.55h2.95v24.75h-2.95zM413.78 1625.55h2.92v24.75h-2.92zM588.75 1625.55h2.92v24.75h-2.92zM687.9 1625.55h2.92v24.75h-2.92z"/>
<path fill="#ea9898" d="M243.18 1031.55h2.95v24.75h-2.95zM319.81 1056.3h2.95v24.75h-2.95zM328.65 1056.3h2.95v24.75h-2.95zM231.39 1130.55h2.95v24.75h-2.95zM319.81 1130.55h2.95v24.75h-2.95zM243.18 1155.3h2.95v24.75h-2.95zM243.18 1180.05h2.95v24.75h-2.95zM299.18 1402.8h2.95v24.75h-2.95zM328.65 1402.8h2.95v24.75h-2.95zM187.18 1501.8h2.95v24.75h-2.95zM263.81 1526.55h2.95v24.75h-2.95zM243.18 1551.3h2.95v24.75h-2.95zM658.74 1576.05h2.92v24.75h-2.92z"/>
<path fill="#dd5959" d="M263.81 1031.55h2.95v24.75h-2.95zM263.81 1229.55h2.95v24.75h-2.95zM263.81 1452.3h2.95v24.75h-2.95z"/>
<path fill="#f0b5b5" d="M527.51 1031.55h2.92v24.75h-2.92zM231.39 1056.3h2.95v24.75h-2.95zM328.65 1081.05h2.95v24.75h-2.95zM196.03 1130.55h2.95v24.75h-2.95zM284.44 1130.55h2.95v24.75h-2.95zM328.65 1130.55h2.95v24.75h-2.95zM284.44 1155.3h2.95v24.75h-2.95zM257.92 1180.05h2.95v24.75h-2.95zM257.92 1204.8h2.95v24.75h-2.95zM243.18 1229.55h2.95v24.75h-2.95zM257.92 1229.55h2.95v24.75h-2.95zM316.86 1229.55h2.95v24.75h-2.95zM475.02 1229.55h2.92v24.75h-2.92zM187.18 1254.3h2.95v24.75h-2.95zM237.29 1254.3h2.95v24.75h-2.95zM358.12 1254.3h2.95v24.75h-2.95zM187.18 1303.8h2.95v24.75h-2.95zM278.55 1303.8h2.95v24.75h-2.95zM524.59 1303.8h2.92v24.75h-2.92zM187.18 1353.3h2.95v24.75h-2.95zM231.39 1353.3h2.95v24.75h-2.95zM196.03 1378.05h2.95v24.75h-2.95zM325.7 1378.05h2.95v24.75h-2.95zM322.76 1402.8h2.95v24.75h-2.95zM319.81 1477.05h2.95v24.75h-2.95zM328.65 1477.05h2.95v24.75h-2.95zM358.12 1477.05h2.95v24.75h-2.95zM687.9 1501.8h2.92v24.75h-2.92zM789.97 1551.3h5.83v24.75h-5.83zM545.01 1600.8h2.92v24.75h-2.92zM749.14 1600.8h2.92v24.75h-2.92zM240.23 1625.55h2.95v24.75h-2.95zM565.42 1625.55h2.92v24.75h-2.92zM658.74 1625.55h2.92v24.75h-2.92z"/>
<path fill="#e37676" d="M243.18 1056.3h2.95v24.75h-2.95zM299.18 1056.3h2.95v24.75h-2.95zM319.81 1081.05h2.95v24.75h-2.95zM263.81 1130.55h2.95v24.75h-2.95zM328.65 1229.55h2.95v24.75h-2.95zM328.65 1279.05h2.95v24.75h-2.95zM231.39 1328.55h2.95v24.75h-2.95zM263.81 1353.3h2.95v24.75h-2.95zM299.18 1378.05h2.95v24.75h-2.95zM243.18 1600.8h2.95v24.75h-2.95zM243.18 1625.55h2.95v24.75h-2.95z"/>
<path fill="#b2b7de" d="M396.28 1056.3h2.92v24.75h-2.92zM431.28 1056.3h2.92v24.75h-2.92zM396.28 1105.8h2.92v24.75h-2.92zM574.17 1105.8h2.92v24.75h-2.92zM434.19 1155.3h2.92v24.75h-2.92zM734.56 1180.05h2.92v24.75h-2.92zM396.28 1229.55h2.92v24.75h-2.92zM407.95 1254.3h2.92v24.75h-2.92zM431.28 1353.3h2.92v24.75h-2.92zM571.25 1353.3h2.92v24.75h-2.92zM495.43 1452.3h2.92v24.75h-2.92zM591.67 1452.3h2.92v24.75h-2.92zM769.55 1452.3h2.92v24.75h-2.92zM635.41 1526.55h2.92v24.75h-2.92z"/>
<path fill="#adb3dc" d="M553.76 1056.3h2.92v24.75h-2.92zM574.17 1081.05h2.92v24.75h-2.92zM553.76 1180.05h2.92v24.75h-2.92zM679.15 1180.05h2.92v24.75h-2.92zM396.28 1303.8h2.92v24.75h-2.92zM498.35 1328.55h2.92v24.75h-2.92zM574.17 1328.55h2.92v24.75h-2.92zM580 1328.55h2.92v24.75h-2.92zM580 1452.3h2.92v24.75h-2.92zM521.68 1477.05h2.92v24.75h-2.92zM778.3 1501.8h2.92v24.75h-2.92zM731.64 1526.55h2.92v24.75h-2.92z"/>
<path fill="#a8aeda" d="M673.32 1056.3h2.92v24.75h-2.92zM396.28 1081.05h2.92v24.75h-2.92zM574.17 1254.3h2.92v24.75h-2.92zM580 1254.3h2.92v24.75h-2.92zM775.39 1328.55h2.92v24.75h-2.92zM407.95 1452.3h2.92v24.75h-2.92zM673.32 1452.3h2.92v24.75h-2.92zM407.95 1477.05h2.92v24.75h-2.92zM396.28 1526.55h2.92v24.75h-2.92zM574.17 1526.55h2.92v24.75h-2.92z"/>
<path fill="#e99292" d="M187.18 1105.8h2.95v24.75h-2.95zM231.39 1155.3h2.95v24.75h-2.95zM328.65 1155.3h2.95v24.75h-2.95zM237.29 1303.8h2.95v24.75h-2.95zM243.18 1303.8h2.95v24.75h-2.95zM243.18 1328.55h2.95v24.75h-2.95zM299.18 1328.55h2.95v24.75h-2.95zM328.65 1328.55h2.95v24.75h-2.95zM231.39 1378.05h2.95v24.75h-2.95zM231.39 1452.3h2.95v24.75h-2.95zM263.81 1477.05h2.95v24.75h-2.95zM299.18 1526.55h2.95v24.75h-2.95zM319.81 1526.55h2.95v24.75h-2.95z"/>
<path fill="#939bd1" d="M673.32 1105.8h2.92v24.75h-2.92zM396.28 1180.05h2.92v24.75h-2.92zM396.28 1452.3h2.92v24.75h-2.92zM574.17 1501.8h2.92v24.75h-2.92z"/>
<path fill="#8e96cf" d="M580 1130.55h2.92v24.75h-2.92z"/>
<path fill="#e58181" d="M231.39 1180.05h2.95v24.75h-2.95zM319.81 1180.05h2.95v24.75h-2.95zM263.81 1204.8h2.95v24.75h-2.95zM319.81 1254.3h2.95v24.75h-2.95zM263.81 1279.05h2.95v24.75h-2.95zM263.81 1378.05h2.95v24.75h-2.95zM319.81 1402.8h2.95v24.75h-2.95zM319.81 1427.55h2.95v24.75h-2.95zM196.03 1477.05h2.95v24.75h-2.95zM328.65 1501.8h2.95v24.75h-2.95z"/>
<path fill="#de5f5f" d="M263.81 1180.05h2.95v24.75h-2.95zM319.81 1279.05h2.95v24.75h-2.95zM319.81 1378.05h2.95v24.75h-2.95z"/>
<path fill="#e06a6a" d="M299.18 1204.8h2.95v24.75h-2.95zM263.81 1254.3h2.95v24.75h-2.95zM263.81 1427.55h2.95v24.75h-2.95zM263.81 1501.8h2.95v24.75h-2.95z"/>
<path fill="#df6464" d="M319.81 1229.55h2.95v24.75h-2.95zM263.81 1303.8h2.95v24.75h-2.95zM263.81 1328.55h2.95v24.75h-2.95zM263.81 1576.05h2.95v24.75h-2.95zM263.81 1625.55h2.95v24.75h-2.95z"/>
<path fill="#9ea4d6" d="M580 1279.05h2.92v24.75h-2.92z"/>
<path fill="#98a0d4" d="M396.28 1427.55h2.92v24.75h-2.92z"/>
<rect x="172.4" y="957.3" width="3.3" height="594" fill="#d01c1c"/>
<rect x="172.4" y="1551.3" width="3.3" height="99" fill="#f0b0b0"/>
</g>
<text x="802.4" y="975.97" font-size="20" fill="#1a1a1a">Eosinophil</text>
<text x="802.4" y="1000.72" font-size="20" fill="#1a1a1a">Effector memeory CD4 T cell</text>
<text x="802.4" y="1025.47" font-size="20" fill="#1a1a1a">Immature dendritic cell</text>
<text x="802.4" y="1050.22" font-size="20" fill="#1a1a1a">Type 2 T helper cell</text>
<text x="802.4" y="1074.97" font-size="20" fill="#1a1a1a">Neutrophil</text>
<text x="802.4" y="1099.72" font-size="20" fill="#1a1a1a">Effector memeory CD8 T cell</text>
<text x="802.4" y="1124.47" font-size="20" fill="#1a1a1a">Natural killer cell</text>
<text x="802.4" y="1149.22" font-size="20" fill="#1a1a1a">Memory B cell</text>
<text x="802.4" y="1173.97" font-size="20" fill="#1a1a1a">Mast cell</text>
<text x="802.4" y="1198.72" font-size="20" fill="#1a1a1a">T follicular helper cell</text>
<text x="802.4" y="1223.47" font-size="20" fill="#1a1a1a">Type 1 T helper cell</text>
<text x="802.4" y="1248.22" font-size="20" fill="#1a1a1a">Activated B cell</text>
<text x="802.4" y="1272.97" font-size="20" fill="#1a1a1a">Activated CD4 T cell</text>
<text x="802.4" y="1297.72" font-size="20" fill="#1a1a1a">Activated CD8 T cell</text>
<text x="802.4" y="1322.47" font-size="20" fill="#1a1a1a">Central memory CD4 T cell</text>
<text x="802.4" y="1347.22" font-size="20" fill="#1a1a1a">Plasmacytoid dendritic cell</text>
<text x="802.4" y="1371.97" font-size="20" fill="#1a1a1a" xml:space="preserve">Immature  B cell</text>
<text x="802.4" y="1396.72" font-size="20" fill="#1a1a1a">Gamma delta T cell</text>
<text x="802.4" y="1421.47" font-size="20" fill="#1a1a1a">Macrophage</text>
<text x="802.4" y="1446.22" font-size="20" fill="#1a1a1a">Regulatory T cell</text>
<text x="802.4" y="1470.97" font-size="20" fill="#1a1a1a">Activated dendritic cell</text>
<text x="802.4" y="1495.72" font-size="20" fill="#1a1a1a">MDSC</text>
<text x="802.4" y="1520.47" font-size="20" fill="#1a1a1a">Central memory CD8 T cell</text>
<text x="802.4" y="1545.22" font-size="20" fill="#1a1a1a">Natural killer T cell</text>
<text x="802.4" y="1569.97" font-size="20" fill="#1a1a1a">CD56bright natural killer cell</text>
<text x="802.4" y="1594.72" font-size="20" fill="#1a1a1a">CD56dim natural killer cell</text>
<text x="802.4" y="1619.47" font-size="20" fill="#1a1a1a">Monocyte</text>
<text x="802.4" y="1644.22" font-size="20" fill="#1a1a1a">Type 17 T helper cell</text>
<polyline points="167.6,1019.17 90.4,1019.17 90.4,1043.92 167.6,1043.92" fill="none" stroke="#000" stroke-width="1.5"/>
<polyline points="167.6,1093.42 124.5,1093.42 124.5,1118.17 167.6,1118.17" fill="none" stroke="#000" stroke-width="1.5"/>
<polyline points="167.6,1192.42 128.1,1192.42 128.1,1217.17 167.6,1217.17" fill="none" stroke="#000" stroke-width="1.5"/>
<polyline points="167.6,1167.67 124,1167.67 124,1204.8 128.1,1204.8" fill="none" stroke="#000" stroke-width="1.5"/>
<polyline points="167.6,1142.92 118.6,1142.92 118.6,1186.24 124,1186.24" fill="none" stroke="#000" stroke-width="1.5"/>
<polyline points="124.5,1105.8 110.3,1105.8 110.3,1164.58 118.6,1164.58" fill="none" stroke="#000" stroke-width="1.5"/>
<polyline points="167.6,1068.67 104.7,1068.67 104.7,1135.19 110.3,1135.19" fill="none" stroke="#000" stroke-width="1.5"/>
<polyline points="167.6,1266.67 120.7,1266.67 120.7,1291.42 167.6,1291.42" fill="none" stroke="#000" stroke-width="1.5"/>
<polyline points="167.6,1241.92 109.7,1241.92 109.7,1279.05 120.7,1279.05" fill="none" stroke="#000" stroke-width="1.5"/>
<polyline points="167.6,1316.17 120.1,1316.17 120.1,1340.92 167.6,1340.92" fill="none" stroke="#000" stroke-width="1.5"/>
<polyline points="167.6,1415.17 142.3,1415.17 142.3,1439.92 167.6,1439.92" fill="none" stroke="#000" stroke-width="1.5"/>
<polyline points="167.6,1464.67 140,1464.67 140,1489.42 167.6,1489.42" fill="none" stroke="#000" stroke-width="1.5"/>
<polyline points="142.3,1427.55 135.5,1427.55 135.5,1477.05 140,1477.05" fill="none" stroke="#000" stroke-width="1.5"/>
<polyline points="167.6,1390.42 129,1390.42 129,1452.3 135.5,1452.3" fill="none" stroke="#000" stroke-width="1.5"/>
<polyline points="167.6,1514.17 122.5,1514.17 122.5,1538.92 167.6,1538.92" fill="none" stroke="#000" stroke-width="1.5"/>
<polyline points="129,1421.36 116.5,1421.36 116.5,1526.55 122.5,1526.55" fill="none" stroke="#000" stroke-width="1.5"/>
<polyline points="167.6,1365.67 112.7,1365.67 112.7,1473.96 116.5,1473.96" fill="none" stroke="#000" stroke-width="1.5"/>
<polyline points="120.1,1328.55 103.2,1328.55 103.2,1419.82 112.7,1419.82" fill="none" stroke="#000" stroke-width="1.5"/>
<polyline points="109.7,1260.49 93.4,1260.49 93.4,1374.18 103.2,1374.18" fill="none" stroke="#000" stroke-width="1.5"/>
<polyline points="104.7,1101.93 88.1,1101.93 88.1,1317.34 93.4,1317.34" fill="none" stroke="#000" stroke-width="1.5"/>
<polyline points="90.4,1031.55 83.9,1031.55 83.9,1209.63 88.1,1209.63" fill="none" stroke="#000" stroke-width="1.5"/>
<polyline points="167.6,994.42 74.7,994.42 74.7,1120.59 83.9,1120.59" fill="none" stroke="#000" stroke-width="1.5"/>
<polyline points="167.6,969.67 74.1,969.67 74.1,1057.51 74.7,1057.51" fill="none" stroke="#000" stroke-width="1.5"/>
<polyline points="167.6,1613.17 90.4,1613.17 90.4,1637.92 167.6,1637.92" fill="none" stroke="#000" stroke-width="1.5"/>
<polyline points="167.6,1588.42 78,1588.42 78,1625.55 90.4,1625.55" fill="none" stroke="#000" stroke-width="1.5"/>
<polyline points="167.6,1563.67 66.7,1563.67 66.7,1606.99 78,1606.99" fill="none" stroke="#000" stroke-width="1.5"/>
<polyline points="74.1,1013.59 63.7,1013.59 63.7,1585.33 66.7,1585.33" fill="none" stroke="#000" stroke-width="1.5"/>
<text x="1067.3" y="1243.5" font-size="17.5" fill="#1a1a1a" textLength="78.5" lengthAdjust="spacingAndGlyphs">matrix_4</text>
<defs><linearGradient id="lg" x1="0" y1="0" x2="0" y2="1"><stop offset="0" stop-color="#e8676a"/><stop offset="0.497" stop-color="#ffffff"/><stop offset="1" stop-color="#5866b7"/></linearGradient></defs>
<rect x="1065.7" y="1255.9" width="24.7" height="124.1" fill="url(#lg)"/>
<line x1="1084.5" y1="1262.4" x2="1090.4" y2="1262.4" stroke="#fff" stroke-width="1.2"/>
<text x="1096.3" y="1267.4" font-size="14.5" fill="#111" textLength="9.9" lengthAdjust="spacingAndGlyphs">4</text>
<line x1="1084.5" y1="1290.1" x2="1090.4" y2="1290.1" stroke="#fff" stroke-width="1.2"/>
<text x="1096.3" y="1295.1" font-size="14.5" fill="#111" textLength="9.9" lengthAdjust="spacingAndGlyphs">2</text>
<line x1="1084.5" y1="1317.8" x2="1090.4" y2="1317.8" stroke="#fff" stroke-width="1.2"/>
<text x="1096.3" y="1322.8" font-size="14.5" fill="#111" textLength="9.9" lengthAdjust="spacingAndGlyphs">0</text>
<line x1="1084.5" y1="1346.4" x2="1090.4" y2="1346.4" stroke="#fff" stroke-width="1.2"/>
<text x="1096.3" y="1351.4" font-size="14.5" fill="#111" textLength="22.8" lengthAdjust="spacingAndGlyphs">−2</text>
<line x1="1084.5" y1="1376" x2="1090.4" y2="1376" stroke="#fff" stroke-width="1.2"/>
<text x="1096.3" y="1381" font-size="14.5" fill="#111" textLength="22.8" lengthAdjust="spacingAndGlyphs">−4</text>
<text x="1163.6" y="1244.3" font-size="17.5" fill="#1a1a1a" textLength="74" lengthAdjust="spacingAndGlyphs">Subtype</text>
<rect x="1164.2" y="1257.5" width="21.5" height="20.7" fill="#cd1a1e"/>
<rect x="1164.2" y="1281.2" width="21.5" height="20.8" fill="#4db3cc"/>
<text x="1193.2" y="1275" font-size="17.5" fill="#1a1a1a" textLength="68.2" lengthAdjust="spacingAndGlyphs">cluster1</text>
<text x="1193.2" y="1298" font-size="17.5" fill="#1a1a1a" textLength="69.5" lengthAdjust="spacingAndGlyphs">cluster2</text>
<text x="3.3" y="1740" font-size="42" fill="#231f20" textLength="25" lengthAdjust="spacingAndGlyphs" stroke="#231f20" stroke-width="0.9">G</text>
<line x1="625.1" y1="1703.8" x2="625.1" y2="1721.2" stroke="#23875a" stroke-width="2"/>
<rect x="616.1" y="1706.4" width="18" height="12.2" fill="#fff" stroke="#23875a" stroke-width="2"/>
<line x1="616.1" y1="1712.5" x2="634.1" y2="1712.5" stroke="#23875a" stroke-width="2.4"/>
<text x="644.3" y="1719.5" font-size="21" fill="#111" textLength="75" lengthAdjust="spacingAndGlyphs">cluster1</text>
<line x1="742.6" y1="1703.8" x2="742.6" y2="1721.2" stroke="#cf661d" stroke-width="2"/>
<rect x="733.6" y="1706.4" width="18" height="12.2" fill="#fff" stroke="#cf661d" stroke-width="2"/>
<line x1="733.6" y1="1712.5" x2="751.6" y2="1712.5" stroke="#cf661d" stroke-width="2.4"/>
<text x="763.7" y="1719.5" font-size="21" fill="#111" textLength="76.8" lengthAdjust="spacingAndGlyphs">cluster2</text>
<line x1="103.7" y1="1747" x2="103.7" y2="2199.9" stroke="#000" stroke-width="2.3"/>
<line x1="102.5" y1="2198.9" x2="1306.7" y2="2198.9" stroke="#000" stroke-width="2.3"/>
<line x1="99" y1="1781.8" x2="103.7" y2="1781.8" stroke="#000" stroke-width="1.6"/>
<text x="95.8" y="1787.6" font-size="16.3" fill="#111" text-anchor="end">0.50</text>
<line x1="99" y1="1884.7" x2="103.7" y2="1884.7" stroke="#000" stroke-width="1.6"/>
<text x="95.8" y="1890.5" font-size="16.3" fill="#111" text-anchor="end">0.25</text>
<line x1="99" y1="1987.6" x2="103.7" y2="1987.6" stroke="#000" stroke-width="1.6"/>
<text x="95.8" y="1993.4" font-size="16.3" fill="#111" text-anchor="end">0.00</text>
<line x1="99" y1="2090.5" x2="103.7" y2="2090.5" stroke="#000" stroke-width="1.6"/>
<text x="95.8" y="2096.3" font-size="16.3" fill="#111" text-anchor="end">−0.25</text>
<line x1="99" y1="2193.4" x2="103.7" y2="2193.4" stroke="#000" stroke-width="1.6"/>
<text x="95.8" y="2199.2" font-size="16.3" fill="#111" text-anchor="end">−0.50</text>
<text x="43" y="1973" font-size="22.5" fill="#111" text-anchor="middle" textLength="58.7" lengthAdjust="spacingAndGlyphs" transform="rotate(-90 43 1973)">Score</text>
<line x1="128.8" y1="2199.9" x2="128.8" y2="2203" stroke="#000" stroke-width="1.8"/>
<line x1="120.4" y1="2051.81" x2="120.4" y2="2071.98" stroke="#23875a" stroke-width="2.5"/>
<line x1="120.4" y1="2086.38" x2="120.4" y2="2100.79" stroke="#23875a" stroke-width="2.5"/>
<line x1="116" y1="2051.81" x2="124.8" y2="2051.81" stroke="#23875a" stroke-width="2.5"/>
<line x1="116" y1="2100.79" x2="124.8" y2="2100.79" stroke="#23875a" stroke-width="2.5"/>
<rect x="112.1" y="2071.98" width="16.6" height="14.41" fill="#fff" stroke="#23875a" stroke-width="2.5"/>
<line x1="112.1" y1="2078.98" x2="128.7" y2="2078.98" stroke="#23875a" stroke-width="3.9"/>
<line x1="137.2" y1="2069.51" x2="137.2" y2="2080.62" stroke="#cf661d" stroke-width="2.5"/>
<line x1="137.2" y1="2089.68" x2="137.2" y2="2100.79" stroke="#cf661d" stroke-width="2.5"/>
<line x1="132.8" y1="2069.51" x2="141.6" y2="2069.51" stroke="#cf661d" stroke-width="2.5"/>
<line x1="132.8" y1="2100.79" x2="141.6" y2="2100.79" stroke="#cf661d" stroke-width="2.5"/>
<rect x="128.9" y="2080.62" width="16.6" height="9.06" fill="#fff" stroke="#cf661d" stroke-width="2.5"/>
<line x1="128.9" y1="2084.74" x2="145.5" y2="2084.74" stroke="#cf661d" stroke-width="3.9"/>
<text x="134.1" y="1768.8" font-size="23" fill="#333" text-anchor="middle" textLength="24.9" lengthAdjust="spacingAndGlyphs">***</text>
<text x="141.8" y="2216.6" font-size="20.3" fill="#111" text-anchor="end" textLength="131.14" lengthAdjust="spacingAndGlyphs" transform="rotate(-45 141.8 2216.6)">Activated B cell</text>
<line x1="171.5" y1="2199.9" x2="171.5" y2="2203" stroke="#000" stroke-width="1.8"/>
<line x1="163.1" y1="2102.44" x2="163.1" y2="2120.96" stroke="#23875a" stroke-width="2.5"/>
<line x1="163.1" y1="2151.42" x2="163.1" y2="2163.76" stroke="#23875a" stroke-width="2.5"/>
<line x1="158.7" y1="2102.44" x2="167.5" y2="2102.44" stroke="#23875a" stroke-width="2.5"/>
<line x1="158.7" y1="2163.76" x2="167.5" y2="2163.76" stroke="#23875a" stroke-width="2.5"/>
<rect x="154.8" y="2120.96" width="16.6" height="30.46" fill="#fff" stroke="#23875a" stroke-width="2.5"/>
<line x1="154.8" y1="2138.25" x2="171.4" y2="2138.25" stroke="#23875a" stroke-width="3.9"/>
<line x1="179.9" y1="2118.08" x2="179.9" y2="2139.89" stroke="#cf661d" stroke-width="2.5"/>
<line x1="179.9" y1="2158.41" x2="179.9" y2="2178.17" stroke="#cf661d" stroke-width="2.5"/>
<line x1="175.5" y1="2118.08" x2="184.3" y2="2118.08" stroke="#cf661d" stroke-width="2.5"/>
<line x1="175.5" y1="2178.17" x2="184.3" y2="2178.17" stroke="#cf661d" stroke-width="2.5"/>
<rect x="171.6" y="2139.89" width="16.6" height="18.52" fill="#fff" stroke="#cf661d" stroke-width="2.5"/>
<line x1="171.6" y1="2151.01" x2="188.2" y2="2151.01" stroke="#cf661d" stroke-width="3.9"/>
<text x="178.1" y="1768.8" font-size="23" fill="#333" text-anchor="middle" textLength="33.2" lengthAdjust="spacingAndGlyphs">****</text>
<text x="184.5" y="2216.6" font-size="20.3" fill="#111" text-anchor="end" textLength="173.07" lengthAdjust="spacingAndGlyphs" transform="rotate(-45 184.5 2216.6)">Activated CD4 T cell</text>
<line x1="214.2" y1="2199.9" x2="214.2" y2="2203" stroke="#000" stroke-width="1.8"/>
<line x1="205.8" y1="1997.07" x2="205.8" y2="2016" stroke="#23875a" stroke-width="2.5"/>
<line x1="205.8" y1="2038.64" x2="205.8" y2="2046.05" stroke="#23875a" stroke-width="2.5"/>
<line x1="201.4" y1="1997.07" x2="210.2" y2="1997.07" stroke="#23875a" stroke-width="2.5"/>
<line x1="201.4" y1="2046.05" x2="210.2" y2="2046.05" stroke="#23875a" stroke-width="2.5"/>
<rect x="197.5" y="2016" width="16.6" height="22.64" fill="#fff" stroke="#23875a" stroke-width="2.5"/>
<line x1="197.5" y1="2025.88" x2="214.1" y2="2025.88" stroke="#23875a" stroke-width="3.9"/>
<line x1="222.6" y1="2015.59" x2="222.6" y2="2029.99" stroke="#cf661d" stroke-width="2.5"/>
<line x1="222.6" y1="2041.93" x2="222.6" y2="2053.46" stroke="#cf661d" stroke-width="2.5"/>
<line x1="218.2" y1="2015.59" x2="227" y2="2015.59" stroke="#cf661d" stroke-width="2.5"/>
<line x1="218.2" y1="2053.46" x2="227" y2="2053.46" stroke="#cf661d" stroke-width="2.5"/>
<rect x="214.3" y="2029.99" width="16.6" height="11.94" fill="#fff" stroke="#cf661d" stroke-width="2.5"/>
<line x1="214.3" y1="2036.17" x2="230.9" y2="2036.17" stroke="#cf661d" stroke-width="3.9"/>
<text x="220.8" y="1768.8" font-size="23" fill="#333" text-anchor="middle" textLength="33.2" lengthAdjust="spacingAndGlyphs">****</text>
<text x="227.2" y="2216.6" font-size="20.3" fill="#111" text-anchor="end" textLength="173.07" lengthAdjust="spacingAndGlyphs" transform="rotate(-45 227.2 2216.6)">Activated CD8 T cell</text>
<line x1="256.9" y1="2199.9" x2="256.9" y2="2203" stroke="#000" stroke-width="1.8"/>
<line x1="248.5" y1="1920.51" x2="248.5" y2="1939.85" stroke="#23875a" stroke-width="2.5"/>
<line x1="248.5" y1="1952.61" x2="248.5" y2="1960.85" stroke="#23875a" stroke-width="2.5"/>
<line x1="244.1" y1="1920.51" x2="252.9" y2="1920.51" stroke="#23875a" stroke-width="2.5"/>
<line x1="244.1" y1="1960.85" x2="252.9" y2="1960.85" stroke="#23875a" stroke-width="2.5"/>
<rect x="240.2" y="1939.85" width="16.6" height="12.76" fill="#fff" stroke="#23875a" stroke-width="2.5"/>
<line x1="240.2" y1="1946.85" x2="256.8" y2="1946.85" stroke="#23875a" stroke-width="3.9"/>
<line x1="265.3" y1="1945.62" x2="265.3" y2="1951.38" stroke="#cf661d" stroke-width="2.5"/>
<line x1="265.3" y1="1962.49" x2="265.3" y2="1976.08" stroke="#cf661d" stroke-width="2.5"/>
<line x1="260.9" y1="1945.62" x2="269.7" y2="1945.62" stroke="#cf661d" stroke-width="2.5"/>
<line x1="260.9" y1="1976.08" x2="269.7" y2="1976.08" stroke="#cf661d" stroke-width="2.5"/>
<rect x="257" y="1951.38" width="16.6" height="11.11" fill="#fff" stroke="#cf661d" stroke-width="2.5"/>
<line x1="257" y1="1956.32" x2="273.6" y2="1956.32" stroke="#cf661d" stroke-width="3.9"/>
<text x="263.5" y="1768.8" font-size="23" fill="#333" text-anchor="middle" textLength="33.2" lengthAdjust="spacingAndGlyphs">****</text>
<text x="269.9" y="2216.6" font-size="20.3" fill="#111" text-anchor="end" textLength="190.85" lengthAdjust="spacingAndGlyphs" transform="rotate(-45 269.9 2216.6)">Activated dendritic cell</text>
<line x1="299.6" y1="2199.9" x2="299.6" y2="2203" stroke="#000" stroke-width="1.8"/>
<line x1="291.2" y1="1914.75" x2="291.2" y2="1921.33" stroke="#23875a" stroke-width="2.5"/>
<line x1="291.2" y1="1927.92" x2="291.2" y2="1933.27" stroke="#23875a" stroke-width="2.5"/>
<line x1="286.8" y1="1914.75" x2="295.6" y2="1914.75" stroke="#23875a" stroke-width="2.5"/>
<line x1="286.8" y1="1933.27" x2="295.6" y2="1933.27" stroke="#23875a" stroke-width="2.5"/>
<rect x="282.9" y="1921.33" width="16.6" height="6.59" fill="#fff" stroke="#23875a" stroke-width="2.5"/>
<line x1="282.9" y1="1924.63" x2="299.5" y2="1924.63" stroke="#23875a" stroke-width="3.9"/>
<line x1="308" y1="1917.63" x2="308" y2="1922.16" stroke="#cf661d" stroke-width="2.5"/>
<line x1="308" y1="1928.74" x2="308" y2="1932.03" stroke="#cf661d" stroke-width="2.5"/>
<line x1="303.6" y1="1917.63" x2="312.4" y2="1917.63" stroke="#cf661d" stroke-width="2.5"/>
<line x1="303.6" y1="1932.03" x2="312.4" y2="1932.03" stroke="#cf661d" stroke-width="2.5"/>
<rect x="299.7" y="1922.16" width="16.6" height="6.59" fill="#fff" stroke="#cf661d" stroke-width="2.5"/>
<line x1="299.7" y1="1925.45" x2="316.3" y2="1925.45" stroke="#cf661d" stroke-width="3.9"/>
<text x="302.1" y="1766.7" font-size="20.5" fill="#222" text-anchor="middle" textLength="18.7" lengthAdjust="spacingAndGlyphs">ns</text>
<text x="312.6" y="2216.6" font-size="20.3" fill="#111" text-anchor="end" textLength="239.88" lengthAdjust="spacingAndGlyphs" transform="rotate(-45 312.6 2216.6)">CD56bright natural killer cell</text>
<line x1="342.3" y1="2199.9" x2="342.3" y2="2203" stroke="#000" stroke-width="1.8"/>
<line x1="333.9" y1="1945.21" x2="333.9" y2="1952.61" stroke="#23875a" stroke-width="2.5"/>
<line x1="333.9" y1="1959.2" x2="333.9" y2="1966.2" stroke="#23875a" stroke-width="2.5"/>
<line x1="329.5" y1="1945.21" x2="338.3" y2="1945.21" stroke="#23875a" stroke-width="2.5"/>
<line x1="329.5" y1="1966.2" x2="338.3" y2="1966.2" stroke="#23875a" stroke-width="2.5"/>
<rect x="325.6" y="1952.61" width="16.6" height="6.59" fill="#fff" stroke="#23875a" stroke-width="2.5"/>
<line x1="325.6" y1="1955.91" x2="342.2" y2="1955.91" stroke="#23875a" stroke-width="3.9"/>
<line x1="350.7" y1="1945.62" x2="350.7" y2="1952.61" stroke="#cf661d" stroke-width="2.5"/>
<line x1="350.7" y1="1960.85" x2="350.7" y2="1967.84" stroke="#cf661d" stroke-width="2.5"/>
<line x1="346.3" y1="1945.62" x2="355.1" y2="1945.62" stroke="#cf661d" stroke-width="2.5"/>
<line x1="346.3" y1="1967.84" x2="355.1" y2="1967.84" stroke="#cf661d" stroke-width="2.5"/>
<rect x="342.4" y="1952.61" width="16.6" height="8.23" fill="#fff" stroke="#cf661d" stroke-width="2.5"/>
<line x1="342.4" y1="1956.73" x2="359" y2="1956.73" stroke="#cf661d" stroke-width="3.9"/>
<text x="344.8" y="1766.7" font-size="20.5" fill="#222" text-anchor="middle" textLength="18.7" lengthAdjust="spacingAndGlyphs">ns</text>
<text x="355.3" y="2216.6" font-size="20.3" fill="#111" text-anchor="end" textLength="222.81" lengthAdjust="spacingAndGlyphs" transform="rotate(-45 355.3 2216.6)">CD56dim natural killer cell</text>
<line x1="385" y1="2199.9" x2="385" y2="2203" stroke="#000" stroke-width="1.8"/>
<line x1="376.6" y1="1794.15" x2="376.6" y2="1803.61" stroke="#23875a" stroke-width="2.5"/>
<line x1="376.6" y1="1813.49" x2="376.6" y2="1825.84" stroke="#23875a" stroke-width="2.5"/>
<line x1="372.2" y1="1794.15" x2="381" y2="1794.15" stroke="#23875a" stroke-width="2.5"/>
<line x1="372.2" y1="1825.84" x2="381" y2="1825.84" stroke="#23875a" stroke-width="2.5"/>
<rect x="368.3" y="1803.61" width="16.6" height="9.88" fill="#fff" stroke="#23875a" stroke-width="2.5"/>
<line x1="368.3" y1="1809.79" x2="384.9" y2="1809.79" stroke="#23875a" stroke-width="3.9"/>
<line x1="393.4" y1="1797.03" x2="393.4" y2="1809.38" stroke="#cf661d" stroke-width="2.5"/>
<line x1="393.4" y1="1820.49" x2="393.4" y2="1833.66" stroke="#cf661d" stroke-width="2.5"/>
<line x1="389" y1="1797.03" x2="397.8" y2="1797.03" stroke="#cf661d" stroke-width="2.5"/>
<line x1="389" y1="1833.66" x2="397.8" y2="1833.66" stroke="#cf661d" stroke-width="2.5"/>
<rect x="385.1" y="1809.38" width="16.6" height="11.11" fill="#fff" stroke="#cf661d" stroke-width="2.5"/>
<line x1="385.1" y1="1815.55" x2="401.7" y2="1815.55" stroke="#cf661d" stroke-width="3.9"/>
<text x="391.6" y="1768.8" font-size="23" fill="#333" text-anchor="middle" textLength="33.2" lengthAdjust="spacingAndGlyphs">****</text>
<text x="398" y="2216.6" font-size="20.3" fill="#111" text-anchor="end" textLength="230.61" lengthAdjust="spacingAndGlyphs" transform="rotate(-45 398 2216.6)">Central memory CD4 T cell</text>
<line x1="427.7" y1="2199.9" x2="427.7" y2="2203" stroke="#000" stroke-width="1.8"/>
<line x1="419.3" y1="1857.95" x2="419.3" y2="1874.41" stroke="#23875a" stroke-width="2.5"/>
<line x1="419.3" y1="1886.35" x2="419.3" y2="1896.22" stroke="#23875a" stroke-width="2.5"/>
<line x1="414.9" y1="1857.95" x2="423.7" y2="1857.95" stroke="#23875a" stroke-width="2.5"/>
<line x1="414.9" y1="1896.22" x2="423.7" y2="1896.22" stroke="#23875a" stroke-width="2.5"/>
<rect x="411" y="1874.41" width="16.6" height="11.94" fill="#fff" stroke="#23875a" stroke-width="2.5"/>
<line x1="411" y1="1881.41" x2="427.6" y2="1881.41" stroke="#23875a" stroke-width="3.9"/>
<line x1="436.1" y1="1876.06" x2="436.1" y2="1888.4" stroke="#cf661d" stroke-width="2.5"/>
<line x1="436.1" y1="1897.87" x2="436.1" y2="1909.81" stroke="#cf661d" stroke-width="2.5"/>
<line x1="431.7" y1="1876.06" x2="440.5" y2="1876.06" stroke="#cf661d" stroke-width="2.5"/>
<line x1="431.7" y1="1909.81" x2="440.5" y2="1909.81" stroke="#cf661d" stroke-width="2.5"/>
<rect x="427.8" y="1888.4" width="16.6" height="9.47" fill="#fff" stroke="#cf661d" stroke-width="2.5"/>
<line x1="427.8" y1="1893.34" x2="444.4" y2="1893.34" stroke="#cf661d" stroke-width="3.9"/>
<text x="434.3" y="1768.8" font-size="23" fill="#333" text-anchor="middle" textLength="33.2" lengthAdjust="spacingAndGlyphs">****</text>
<text x="440.7" y="2216.6" font-size="20.3" fill="#111" text-anchor="end" textLength="230.61" lengthAdjust="spacingAndGlyphs" transform="rotate(-45 440.7 2216.6)">Central memory CD8 T cell</text>
<line x1="470.4" y1="2199.9" x2="470.4" y2="2203" stroke="#000" stroke-width="1.8"/>
<line x1="462" y1="1893.76" x2="462" y2="1907.34" stroke="#23875a" stroke-width="2.5"/>
<line x1="462" y1="1918.86" x2="462" y2="1930.8" stroke="#23875a" stroke-width="2.5"/>
<line x1="457.6" y1="1893.76" x2="466.4" y2="1893.76" stroke="#23875a" stroke-width="2.5"/>
<line x1="457.6" y1="1930.8" x2="466.4" y2="1930.8" stroke="#23875a" stroke-width="2.5"/>
<rect x="453.7" y="1907.34" width="16.6" height="11.52" fill="#fff" stroke="#23875a" stroke-width="2.5"/>
<line x1="453.7" y1="1910.63" x2="470.3" y2="1910.63" stroke="#23875a" stroke-width="3.9"/>
<line x1="478.8" y1="1899.11" x2="478.8" y2="1908.98" stroke="#cf661d" stroke-width="2.5"/>
<line x1="478.8" y1="1918.86" x2="478.8" y2="1933.27" stroke="#cf661d" stroke-width="2.5"/>
<line x1="474.4" y1="1899.11" x2="483.2" y2="1899.11" stroke="#cf661d" stroke-width="2.5"/>
<line x1="474.4" y1="1933.27" x2="483.2" y2="1933.27" stroke="#cf661d" stroke-width="2.5"/>
<rect x="470.5" y="1908.98" width="16.6" height="9.88" fill="#fff" stroke="#cf661d" stroke-width="2.5"/>
<line x1="470.5" y1="1913.1" x2="487.1" y2="1913.1" stroke="#cf661d" stroke-width="3.9"/>
<text x="472.9" y="1766.7" font-size="20.5" fill="#222" text-anchor="middle" textLength="18.7" lengthAdjust="spacingAndGlyphs">ns</text>
<text x="483.4" y="2216.6" font-size="20.3" fill="#111" text-anchor="end" textLength="245.19" lengthAdjust="spacingAndGlyphs" transform="rotate(-45 483.4 2216.6)">Effector memeory CD4 T cell</text>
<line x1="513.1" y1="2199.9" x2="513.1" y2="2203" stroke="#000" stroke-width="1.8"/>
<line x1="504.7" y1="1852.18" x2="504.7" y2="1870.71" stroke="#23875a" stroke-width="2.5"/>
<line x1="504.7" y1="1885.52" x2="504.7" y2="1897.87" stroke="#23875a" stroke-width="2.5"/>
<line x1="500.3" y1="1852.18" x2="509.1" y2="1852.18" stroke="#23875a" stroke-width="2.5"/>
<line x1="500.3" y1="1897.87" x2="509.1" y2="1897.87" stroke="#23875a" stroke-width="2.5"/>
<rect x="496.4" y="1870.71" width="16.6" height="14.82" fill="#fff" stroke="#23875a" stroke-width="2.5"/>
<line x1="496.4" y1="1878.94" x2="513" y2="1878.94" stroke="#23875a" stroke-width="3.9"/>
<line x1="521.5" y1="1864.53" x2="521.5" y2="1882.23" stroke="#cf661d" stroke-width="2.5"/>
<line x1="521.5" y1="1897.46" x2="521.5" y2="1912.28" stroke="#cf661d" stroke-width="2.5"/>
<line x1="517.1" y1="1864.53" x2="525.9" y2="1864.53" stroke="#cf661d" stroke-width="2.5"/>
<line x1="517.1" y1="1912.28" x2="525.9" y2="1912.28" stroke="#cf661d" stroke-width="2.5"/>
<rect x="513.2" y="1882.23" width="16.6" height="15.23" fill="#fff" stroke="#cf661d" stroke-width="2.5"/>
<line x1="513.2" y1="1888.82" x2="529.8" y2="1888.82" stroke="#cf661d" stroke-width="3.9"/>
<text x="519.7" y="1768.8" font-size="23" fill="#333" text-anchor="middle" textLength="33.2" lengthAdjust="spacingAndGlyphs">****</text>
<text x="526.1" y="2216.6" font-size="20.3" fill="#111" text-anchor="end" textLength="245.19" lengthAdjust="spacingAndGlyphs" transform="rotate(-45 526.1 2216.6)">Effector memeory CD8 T cell</text>
<line x1="555.8" y1="2199.9" x2="555.8" y2="2203" stroke="#000" stroke-width="1.8"/>
<line x1="547.4" y1="1926.27" x2="547.4" y2="1954.67" stroke="#23875a" stroke-width="2.5"/>
<line x1="547.4" y1="1978.54" x2="547.4" y2="2000.36" stroke="#23875a" stroke-width="2.5"/>
<line x1="543" y1="1926.27" x2="551.8" y2="1926.27" stroke="#23875a" stroke-width="2.5"/>
<line x1="543" y1="2000.36" x2="551.8" y2="2000.36" stroke="#23875a" stroke-width="2.5"/>
<rect x="539.1" y="1954.67" width="16.6" height="23.87" fill="#fff" stroke="#23875a" stroke-width="2.5"/>
<line x1="539.1" y1="1967.43" x2="555.7" y2="1967.43" stroke="#23875a" stroke-width="3.9"/>
<line x1="564.2" y1="1943.15" x2="564.2" y2="1966.61" stroke="#cf661d" stroke-width="2.5"/>
<line x1="564.2" y1="1984.31" x2="564.2" y2="2000.36" stroke="#cf661d" stroke-width="2.5"/>
<line x1="559.8" y1="1943.15" x2="568.6" y2="1943.15" stroke="#cf661d" stroke-width="2.5"/>
<line x1="559.8" y1="2000.36" x2="568.6" y2="2000.36" stroke="#cf661d" stroke-width="2.5"/>
<rect x="555.9" y="1966.61" width="16.6" height="17.7" fill="#fff" stroke="#cf661d" stroke-width="2.5"/>
<line x1="555.9" y1="1972.78" x2="572.5" y2="1972.78" stroke="#cf661d" stroke-width="3.9"/>
<text x="556.8" y="1768.8" font-size="23" fill="#333" text-anchor="middle" textLength="8.3" lengthAdjust="spacingAndGlyphs">*</text>
<text x="568.8" y="2216.6" font-size="20.3" fill="#111" text-anchor="end" textLength="88.51" lengthAdjust="spacingAndGlyphs" transform="rotate(-45 568.8 2216.6)">Eosinophil</text>
<line x1="598.5" y1="2199.9" x2="598.5" y2="2203" stroke="#000" stroke-width="1.8"/>
<line x1="590.1" y1="1915.57" x2="590.1" y2="1936.56" stroke="#23875a" stroke-width="2.5"/>
<line x1="590.1" y1="1950.97" x2="590.1" y2="1959.61" stroke="#23875a" stroke-width="2.5"/>
<line x1="585.7" y1="1915.57" x2="594.5" y2="1915.57" stroke="#23875a" stroke-width="2.5"/>
<line x1="585.7" y1="1959.61" x2="594.5" y2="1959.61" stroke="#23875a" stroke-width="2.5"/>
<rect x="581.8" y="1936.56" width="16.6" height="14.41" fill="#fff" stroke="#23875a" stroke-width="2.5"/>
<line x1="581.8" y1="1945.21" x2="598.4" y2="1945.21" stroke="#23875a" stroke-width="3.9"/>
<line x1="606.9" y1="1941.5" x2="606.9" y2="1950.97" stroke="#cf661d" stroke-width="2.5"/>
<line x1="606.9" y1="1960.02" x2="606.9" y2="1967.43" stroke="#cf661d" stroke-width="2.5"/>
<line x1="602.5" y1="1941.5" x2="611.3" y2="1941.5" stroke="#cf661d" stroke-width="2.5"/>
<line x1="602.5" y1="1967.43" x2="611.3" y2="1967.43" stroke="#cf661d" stroke-width="2.5"/>
<rect x="598.6" y="1950.97" width="16.6" height="9.06" fill="#fff" stroke="#cf661d" stroke-width="2.5"/>
<line x1="598.6" y1="1954.67" x2="615.2" y2="1954.67" stroke="#cf661d" stroke-width="3.9"/>
<text x="605.1" y="1768.8" font-size="23" fill="#333" text-anchor="middle" textLength="33.2" lengthAdjust="spacingAndGlyphs">****</text>
<text x="611.5" y="2216.6" font-size="20.3" fill="#111" text-anchor="end" textLength="165.6" lengthAdjust="spacingAndGlyphs" transform="rotate(-45 611.5 2216.6)">Gamma delta T cell</text>
<line x1="641.2" y1="2199.9" x2="641.2" y2="2203" stroke="#000" stroke-width="1.8"/>
<line x1="632.8" y1="1969.9" x2="632.8" y2="1985.95" stroke="#23875a" stroke-width="2.5"/>
<line x1="632.8" y1="1997.07" x2="632.8" y2="2011.88" stroke="#23875a" stroke-width="2.5"/>
<line x1="628.4" y1="1969.9" x2="637.2" y2="1969.9" stroke="#23875a" stroke-width="2.5"/>
<line x1="628.4" y1="2011.88" x2="637.2" y2="2011.88" stroke="#23875a" stroke-width="2.5"/>
<rect x="624.5" y="1985.95" width="16.6" height="11.11" fill="#fff" stroke="#23875a" stroke-width="2.5"/>
<line x1="624.5" y1="1990.89" x2="641.1" y2="1990.89" stroke="#23875a" stroke-width="3.9"/>
<line x1="649.6" y1="1979.37" x2="649.6" y2="1995.01" stroke="#cf661d" stroke-width="2.5"/>
<line x1="649.6" y1="2006.53" x2="649.6" y2="2021.76" stroke="#cf661d" stroke-width="2.5"/>
<line x1="645.2" y1="1979.37" x2="654" y2="1979.37" stroke="#cf661d" stroke-width="2.5"/>
<line x1="645.2" y1="2021.76" x2="654" y2="2021.76" stroke="#cf661d" stroke-width="2.5"/>
<rect x="641.3" y="1995.01" width="16.6" height="11.52" fill="#fff" stroke="#cf661d" stroke-width="2.5"/>
<line x1="641.3" y1="2000.36" x2="657.9" y2="2000.36" stroke="#cf661d" stroke-width="3.9"/>
<text x="647.8" y="1768.8" font-size="23" fill="#333" text-anchor="middle" textLength="33.2" lengthAdjust="spacingAndGlyphs">****</text>
<text x="654.2" y="2216.6" font-size="20.3" fill="#111" text-anchor="end" textLength="138.58" lengthAdjust="spacingAndGlyphs" transform="rotate(-45 654.2 2216.6)" xml:space="preserve">Immature  B cell</text>
<line x1="683.9" y1="2199.9" x2="683.9" y2="2203" stroke="#000" stroke-width="1.8"/>
<line x1="675.5" y1="1876.06" x2="675.5" y2="1883.88" stroke="#23875a" stroke-width="2.5"/>
<line x1="675.5" y1="1890.46" x2="675.5" y2="1895.4" stroke="#23875a" stroke-width="2.5"/>
<line x1="671.1" y1="1876.06" x2="679.9" y2="1876.06" stroke="#23875a" stroke-width="2.5"/>
<line x1="671.1" y1="1895.4" x2="679.9" y2="1895.4" stroke="#23875a" stroke-width="2.5"/>
<rect x="667.2" y="1883.88" width="16.6" height="6.59" fill="#fff" stroke="#23875a" stroke-width="2.5"/>
<line x1="667.2" y1="1887.17" x2="683.8" y2="1887.17" stroke="#23875a" stroke-width="3.9"/>
<line x1="692.3" y1="1876.06" x2="692.3" y2="1884.29" stroke="#cf661d" stroke-width="2.5"/>
<line x1="692.3" y1="1891.29" x2="692.3" y2="1896.22" stroke="#cf661d" stroke-width="2.5"/>
<line x1="687.9" y1="1876.06" x2="696.7" y2="1876.06" stroke="#cf661d" stroke-width="2.5"/>
<line x1="687.9" y1="1896.22" x2="696.7" y2="1896.22" stroke="#cf661d" stroke-width="2.5"/>
<rect x="684" y="1884.29" width="16.6" height="7" fill="#fff" stroke="#cf661d" stroke-width="2.5"/>
<line x1="684" y1="1887.58" x2="700.6" y2="1887.58" stroke="#cf661d" stroke-width="3.9"/>
<text x="686.4" y="1766.7" font-size="20.5" fill="#222" text-anchor="middle" textLength="18.7" lengthAdjust="spacingAndGlyphs">ns</text>
<text x="696.9" y="2216.6" font-size="20.3" fill="#111" text-anchor="end" textLength="192.96" lengthAdjust="spacingAndGlyphs" transform="rotate(-45 696.9 2216.6)">Immature dendritic cell</text>
<line x1="726.6" y1="2199.9" x2="726.6" y2="2203" stroke="#000" stroke-width="1.8"/>
<line x1="718.2" y1="2009.41" x2="718.2" y2="2036.17" stroke="#23875a" stroke-width="2.5"/>
<line x1="718.2" y1="2055.1" x2="718.2" y2="2071.15" stroke="#23875a" stroke-width="2.5"/>
<line x1="713.8" y1="2009.41" x2="722.6" y2="2009.41" stroke="#23875a" stroke-width="2.5"/>
<line x1="713.8" y1="2071.15" x2="722.6" y2="2071.15" stroke="#23875a" stroke-width="2.5"/>
<rect x="709.9" y="2036.17" width="16.6" height="18.93" fill="#fff" stroke="#23875a" stroke-width="2.5"/>
<line x1="709.9" y1="2047.28" x2="726.5" y2="2047.28" stroke="#23875a" stroke-width="3.9"/>
<line x1="735" y1="2036.17" x2="735" y2="2053.04" stroke="#cf661d" stroke-width="2.5"/>
<line x1="735" y1="2066.22" x2="735" y2="2081.44" stroke="#cf661d" stroke-width="2.5"/>
<line x1="730.6" y1="2036.17" x2="739.4" y2="2036.17" stroke="#cf661d" stroke-width="2.5"/>
<line x1="730.6" y1="2081.44" x2="739.4" y2="2081.44" stroke="#cf661d" stroke-width="2.5"/>
<rect x="726.7" y="2053.04" width="16.6" height="13.17" fill="#fff" stroke="#cf661d" stroke-width="2.5"/>
<line x1="726.7" y1="2060.45" x2="743.3" y2="2060.45" stroke="#cf661d" stroke-width="3.9"/>
<text x="733.2" y="1768.8" font-size="23" fill="#333" text-anchor="middle" textLength="33.2" lengthAdjust="spacingAndGlyphs">****</text>
<text x="739.6" y="2216.6" font-size="20.3" fill="#111" text-anchor="end" textLength="106.63" lengthAdjust="spacingAndGlyphs" transform="rotate(-45 739.6 2216.6)">Macrophage</text>
<line x1="769.3" y1="2199.9" x2="769.3" y2="2203" stroke="#000" stroke-width="1.8"/>
<line x1="760.9" y1="1960.85" x2="760.9" y2="1996.66" stroke="#23875a" stroke-width="2.5"/>
<line x1="760.9" y1="2021.76" x2="760.9" y2="2041.11" stroke="#23875a" stroke-width="2.5"/>
<line x1="756.5" y1="1960.85" x2="765.3" y2="1960.85" stroke="#23875a" stroke-width="2.5"/>
<line x1="756.5" y1="2041.11" x2="765.3" y2="2041.11" stroke="#23875a" stroke-width="2.5"/>
<rect x="752.6" y="1996.66" width="16.6" height="25.11" fill="#fff" stroke="#23875a" stroke-width="2.5"/>
<line x1="752.6" y1="2008.18" x2="769.2" y2="2008.18" stroke="#23875a" stroke-width="3.9"/>
<line x1="777.7" y1="1995.42" x2="777.7" y2="2016" stroke="#cf661d" stroke-width="2.5"/>
<line x1="777.7" y1="2036.17" x2="777.7" y2="2053.46" stroke="#cf661d" stroke-width="2.5"/>
<line x1="773.3" y1="1995.42" x2="782.1" y2="1995.42" stroke="#cf661d" stroke-width="2.5"/>
<line x1="773.3" y1="2053.46" x2="782.1" y2="2053.46" stroke="#cf661d" stroke-width="2.5"/>
<rect x="769.4" y="2016" width="16.6" height="20.17" fill="#fff" stroke="#cf661d" stroke-width="2.5"/>
<line x1="769.4" y1="2024.23" x2="786" y2="2024.23" stroke="#cf661d" stroke-width="3.9"/>
<text x="775.9" y="1768.8" font-size="23" fill="#333" text-anchor="middle" textLength="33.2" lengthAdjust="spacingAndGlyphs">****</text>
<text x="782.3" y="2216.6" font-size="20.3" fill="#111" text-anchor="end" textLength="75.68" lengthAdjust="spacingAndGlyphs" transform="rotate(-45 782.3 2216.6)">Mast cell</text>
<line x1="812" y1="2199.9" x2="812" y2="2203" stroke="#000" stroke-width="1.8"/>
<line x1="803.6" y1="1892.93" x2="803.6" y2="1937.38" stroke="#23875a" stroke-width="2.5"/>
<line x1="803.6" y1="1976.08" x2="803.6" y2="2013.53" stroke="#23875a" stroke-width="2.5"/>
<line x1="799.2" y1="1892.93" x2="808" y2="1892.93" stroke="#23875a" stroke-width="2.5"/>
<line x1="799.2" y1="2013.53" x2="808" y2="2013.53" stroke="#23875a" stroke-width="2.5"/>
<rect x="795.3" y="1937.38" width="16.6" height="38.69" fill="#fff" stroke="#23875a" stroke-width="2.5"/>
<line x1="795.3" y1="1960.02" x2="811.9" y2="1960.02" stroke="#23875a" stroke-width="3.9"/>
<line x1="820.4" y1="1929.98" x2="820.4" y2="1974.84" stroke="#cf661d" stroke-width="2.5"/>
<line x1="820.4" y1="2007.77" x2="820.4" y2="2052.22" stroke="#cf661d" stroke-width="2.5"/>
<line x1="816" y1="1929.98" x2="824.8" y2="1929.98" stroke="#cf661d" stroke-width="2.5"/>
<line x1="816" y1="2052.22" x2="824.8" y2="2052.22" stroke="#cf661d" stroke-width="2.5"/>
<rect x="812.1" y="1974.84" width="16.6" height="32.93" fill="#fff" stroke="#cf661d" stroke-width="2.5"/>
<line x1="812.1" y1="1990.48" x2="828.7" y2="1990.48" stroke="#cf661d" stroke-width="3.9"/>
<text x="818.6" y="1768.8" font-size="23" fill="#333" text-anchor="middle" textLength="33.2" lengthAdjust="spacingAndGlyphs">****</text>
<text x="825" y="2216.6" font-size="20.3" fill="#111" text-anchor="end" textLength="56.48" lengthAdjust="spacingAndGlyphs" transform="rotate(-45 825 2216.6)">MDSC</text>
<line x1="854.7" y1="2199.9" x2="854.7" y2="2203" stroke="#000" stroke-width="1.8"/>
<line x1="846.3" y1="1978.54" x2="846.3" y2="2011.88" stroke="#23875a" stroke-width="2.5"/>
<line x1="846.3" y1="2038.23" x2="846.3" y2="2057.98" stroke="#23875a" stroke-width="2.5"/>
<line x1="841.9" y1="1978.54" x2="850.7" y2="1978.54" stroke="#23875a" stroke-width="2.5"/>
<line x1="841.9" y1="2057.98" x2="850.7" y2="2057.98" stroke="#23875a" stroke-width="2.5"/>
<rect x="838" y="2011.88" width="16.6" height="26.34" fill="#fff" stroke="#23875a" stroke-width="2.5"/>
<line x1="838" y1="2030.41" x2="854.6" y2="2030.41" stroke="#23875a" stroke-width="3.9"/>
<line x1="863.1" y1="2010.24" x2="863.1" y2="2033.7" stroke="#cf661d" stroke-width="2.5"/>
<line x1="863.1" y1="2052.22" x2="863.1" y2="2075.27" stroke="#cf661d" stroke-width="2.5"/>
<line x1="858.7" y1="2010.24" x2="867.5" y2="2010.24" stroke="#cf661d" stroke-width="2.5"/>
<line x1="858.7" y1="2075.27" x2="867.5" y2="2075.27" stroke="#cf661d" stroke-width="2.5"/>
<rect x="854.8" y="2033.7" width="16.6" height="18.52" fill="#fff" stroke="#cf661d" stroke-width="2.5"/>
<line x1="854.8" y1="2042.34" x2="871.4" y2="2042.34" stroke="#cf661d" stroke-width="3.9"/>
<text x="861.3" y="1768.8" font-size="23" fill="#333" text-anchor="middle" textLength="33.2" lengthAdjust="spacingAndGlyphs">****</text>
<text x="867.7" y="2216.6" font-size="20.3" fill="#111" text-anchor="end" textLength="121.51" lengthAdjust="spacingAndGlyphs" transform="rotate(-45 867.7 2216.6)">Memory B cell</text>
<line x1="897.4" y1="2199.9" x2="897.4" y2="2203" stroke="#000" stroke-width="1.8"/>
<line x1="889" y1="1854.24" x2="889" y2="1859.18" stroke="#23875a" stroke-width="2.5"/>
<line x1="889" y1="1867" x2="889" y2="1873.18" stroke="#23875a" stroke-width="2.5"/>
<line x1="884.6" y1="1854.24" x2="893.4" y2="1854.24" stroke="#23875a" stroke-width="2.5"/>
<line x1="884.6" y1="1873.18" x2="893.4" y2="1873.18" stroke="#23875a" stroke-width="2.5"/>
<rect x="880.7" y="1859.18" width="16.6" height="7.82" fill="#fff" stroke="#23875a" stroke-width="2.5"/>
<line x1="880.7" y1="1863.3" x2="897.3" y2="1863.3" stroke="#23875a" stroke-width="3.9"/>
<line x1="905.8" y1="1853.83" x2="905.8" y2="1860.42" stroke="#cf661d" stroke-width="2.5"/>
<line x1="905.8" y1="1869.06" x2="905.8" y2="1874" stroke="#cf661d" stroke-width="2.5"/>
<line x1="901.4" y1="1853.83" x2="910.2" y2="1853.83" stroke="#cf661d" stroke-width="2.5"/>
<line x1="901.4" y1="1874" x2="910.2" y2="1874" stroke="#cf661d" stroke-width="2.5"/>
<rect x="897.5" y="1860.42" width="16.6" height="8.64" fill="#fff" stroke="#cf661d" stroke-width="2.5"/>
<line x1="897.5" y1="1864.94" x2="914.1" y2="1864.94" stroke="#cf661d" stroke-width="3.9"/>
<text x="898.4" y="1768.8" font-size="23" fill="#333" text-anchor="middle" textLength="8.3" lengthAdjust="spacingAndGlyphs">*</text>
<text x="910.4" y="2216.6" font-size="20.3" fill="#111" text-anchor="end" textLength="83.16" lengthAdjust="spacingAndGlyphs" transform="rotate(-45 910.4 2216.6)">Monocyte</text>
<line x1="940.1" y1="2199.9" x2="940.1" y2="2203" stroke="#000" stroke-width="1.8"/>
<line x1="931.7" y1="1858.36" x2="931.7" y2="1876.06" stroke="#23875a" stroke-width="2.5"/>
<line x1="931.7" y1="1888.82" x2="931.7" y2="1897.46" stroke="#23875a" stroke-width="2.5"/>
<line x1="927.3" y1="1858.36" x2="936.1" y2="1858.36" stroke="#23875a" stroke-width="2.5"/>
<line x1="927.3" y1="1897.46" x2="936.1" y2="1897.46" stroke="#23875a" stroke-width="2.5"/>
<rect x="923.4" y="1876.06" width="16.6" height="12.76" fill="#fff" stroke="#23875a" stroke-width="2.5"/>
<line x1="923.4" y1="1882.64" x2="940" y2="1882.64" stroke="#23875a" stroke-width="3.9"/>
<line x1="948.5" y1="1876.06" x2="948.5" y2="1883.47" stroke="#cf661d" stroke-width="2.5"/>
<line x1="948.5" y1="1891.29" x2="948.5" y2="1899.11" stroke="#cf661d" stroke-width="2.5"/>
<line x1="944.1" y1="1876.06" x2="952.9" y2="1876.06" stroke="#cf661d" stroke-width="2.5"/>
<line x1="944.1" y1="1899.11" x2="952.9" y2="1899.11" stroke="#cf661d" stroke-width="2.5"/>
<rect x="940.2" y="1883.47" width="16.6" height="7.82" fill="#fff" stroke="#cf661d" stroke-width="2.5"/>
<line x1="940.2" y1="1887.58" x2="956.8" y2="1887.58" stroke="#cf661d" stroke-width="3.9"/>
<text x="946.7" y="1768.8" font-size="23" fill="#333" text-anchor="middle" textLength="33.2" lengthAdjust="spacingAndGlyphs">****</text>
<text x="953.1" y="2216.6" font-size="20.3" fill="#111" text-anchor="end" textLength="140.71" lengthAdjust="spacingAndGlyphs" transform="rotate(-45 953.1 2216.6)">Natural killer cell</text>
<line x1="982.8" y1="2199.9" x2="982.8" y2="2203" stroke="#000" stroke-width="1.8"/>
<line x1="974.4" y1="1946.44" x2="974.4" y2="1964.96" stroke="#23875a" stroke-width="2.5"/>
<line x1="974.4" y1="1976.9" x2="974.4" y2="1987.19" stroke="#23875a" stroke-width="2.5"/>
<line x1="970" y1="1946.44" x2="978.8" y2="1946.44" stroke="#23875a" stroke-width="2.5"/>
<line x1="970" y1="1987.19" x2="978.8" y2="1987.19" stroke="#23875a" stroke-width="2.5"/>
<rect x="966.1" y="1964.96" width="16.6" height="11.94" fill="#fff" stroke="#23875a" stroke-width="2.5"/>
<line x1="966.1" y1="1971.55" x2="982.7" y2="1971.55" stroke="#23875a" stroke-width="3.9"/>
<line x1="991.2" y1="1966.2" x2="991.2" y2="1975.66" stroke="#cf661d" stroke-width="2.5"/>
<line x1="991.2" y1="1983.9" x2="991.2" y2="1990.48" stroke="#cf661d" stroke-width="2.5"/>
<line x1="986.8" y1="1966.2" x2="995.6" y2="1966.2" stroke="#cf661d" stroke-width="2.5"/>
<line x1="986.8" y1="1990.48" x2="995.6" y2="1990.48" stroke="#cf661d" stroke-width="2.5"/>
<rect x="982.9" y="1975.66" width="16.6" height="8.23" fill="#fff" stroke="#cf661d" stroke-width="2.5"/>
<line x1="982.9" y1="1979.37" x2="999.5" y2="1979.37" stroke="#cf661d" stroke-width="3.9"/>
<text x="989.4" y="1768.8" font-size="23" fill="#333" text-anchor="middle" textLength="33.2" lengthAdjust="spacingAndGlyphs">****</text>
<text x="995.8" y="2216.6" font-size="20.3" fill="#111" text-anchor="end" textLength="157.06" lengthAdjust="spacingAndGlyphs" transform="rotate(-45 995.8 2216.6)">Natural killer T cell</text>
<line x1="1025.5" y1="2199.9" x2="1025.5" y2="2203" stroke="#000" stroke-width="1.8"/>
<line x1="1017.1" y1="2064.16" x2="1017.1" y2="2088.44" stroke="#23875a" stroke-width="2.5"/>
<line x1="1017.1" y1="2110.67" x2="1017.1" y2="2131.66" stroke="#23875a" stroke-width="2.5"/>
<line x1="1012.7" y1="2064.16" x2="1021.5" y2="2064.16" stroke="#23875a" stroke-width="2.5"/>
<line x1="1012.7" y1="2131.66" x2="1021.5" y2="2131.66" stroke="#23875a" stroke-width="2.5"/>
<rect x="1008.8" y="2088.44" width="16.6" height="22.23" fill="#fff" stroke="#23875a" stroke-width="2.5"/>
<line x1="1008.8" y1="2107.79" x2="1025.4" y2="2107.79" stroke="#23875a" stroke-width="3.9"/>
<line x1="1033.9" y1="2078.56" x2="1033.9" y2="2106.14" stroke="#cf661d" stroke-width="2.5"/>
<line x1="1033.9" y1="2123.84" x2="1033.9" y2="2148.95" stroke="#cf661d" stroke-width="2.5"/>
<line x1="1029.5" y1="2078.56" x2="1038.3" y2="2078.56" stroke="#cf661d" stroke-width="2.5"/>
<line x1="1029.5" y1="2148.95" x2="1038.3" y2="2148.95" stroke="#cf661d" stroke-width="2.5"/>
<rect x="1025.6" y="2106.14" width="16.6" height="17.7" fill="#fff" stroke="#cf661d" stroke-width="2.5"/>
<line x1="1025.6" y1="2114.78" x2="1042.2" y2="2114.78" stroke="#cf661d" stroke-width="3.9"/>
<text x="1032.1" y="1768.8" font-size="23" fill="#333" text-anchor="middle" textLength="33.2" lengthAdjust="spacingAndGlyphs">****</text>
<text x="1038.5" y="2216.6" font-size="20.3" fill="#111" text-anchor="end" textLength="87.43" lengthAdjust="spacingAndGlyphs" transform="rotate(-45 1038.5 2216.6)">Neutrophil</text>
<line x1="1068.2" y1="2199.9" x2="1068.2" y2="2203" stroke="#000" stroke-width="1.8"/>
<line x1="1059.8" y1="1840.66" x2="1059.8" y2="1846.83" stroke="#23875a" stroke-width="2.5"/>
<line x1="1059.8" y1="1853.83" x2="1059.8" y2="1862.06" stroke="#23875a" stroke-width="2.5"/>
<line x1="1055.4" y1="1840.66" x2="1064.2" y2="1840.66" stroke="#23875a" stroke-width="2.5"/>
<line x1="1055.4" y1="1862.06" x2="1064.2" y2="1862.06" stroke="#23875a" stroke-width="2.5"/>
<rect x="1051.5" y="1846.83" width="16.6" height="7" fill="#fff" stroke="#23875a" stroke-width="2.5"/>
<line x1="1051.5" y1="1850.13" x2="1068.1" y2="1850.13" stroke="#23875a" stroke-width="3.9"/>
<line x1="1076.6" y1="1847.66" x2="1076.6" y2="1853.42" stroke="#cf661d" stroke-width="2.5"/>
<line x1="1076.6" y1="1860.42" x2="1076.6" y2="1866.18" stroke="#cf661d" stroke-width="2.5"/>
<line x1="1072.2" y1="1847.66" x2="1081" y2="1847.66" stroke="#cf661d" stroke-width="2.5"/>
<line x1="1072.2" y1="1866.18" x2="1081" y2="1866.18" stroke="#cf661d" stroke-width="2.5"/>
<rect x="1068.3" y="1853.42" width="16.6" height="7" fill="#fff" stroke="#cf661d" stroke-width="2.5"/>
<line x1="1068.3" y1="1857.12" x2="1084.9" y2="1857.12" stroke="#cf661d" stroke-width="3.9"/>
<text x="1074.8" y="1768.8" font-size="23" fill="#333" text-anchor="middle" textLength="33.2" lengthAdjust="spacingAndGlyphs">****</text>
<text x="1081.2" y="2216.6" font-size="20.3" fill="#111" text-anchor="end" textLength="226.02" lengthAdjust="spacingAndGlyphs" transform="rotate(-45 1081.2 2216.6)">Plasmacytoid dendritic cell</text>
<line x1="1110.9" y1="2199.9" x2="1110.9" y2="2203" stroke="#000" stroke-width="1.8"/>
<line x1="1102.5" y1="1921.33" x2="1102.5" y2="1952.2" stroke="#23875a" stroke-width="2.5"/>
<line x1="1102.5" y1="1976.08" x2="1102.5" y2="2003.24" stroke="#23875a" stroke-width="2.5"/>
<line x1="1098.1" y1="1921.33" x2="1106.9" y2="1921.33" stroke="#23875a" stroke-width="2.5"/>
<line x1="1098.1" y1="2003.24" x2="1106.9" y2="2003.24" stroke="#23875a" stroke-width="2.5"/>
<rect x="1094.2" y="1952.2" width="16.6" height="23.87" fill="#fff" stroke="#23875a" stroke-width="2.5"/>
<line x1="1094.2" y1="1962.9" x2="1110.8" y2="1962.9" stroke="#23875a" stroke-width="3.9"/>
<line x1="1119.3" y1="1957.96" x2="1119.3" y2="1977.72" stroke="#cf661d" stroke-width="2.5"/>
<line x1="1119.3" y1="1993.36" x2="1119.3" y2="2013.12" stroke="#cf661d" stroke-width="2.5"/>
<line x1="1114.9" y1="1957.96" x2="1123.7" y2="1957.96" stroke="#cf661d" stroke-width="2.5"/>
<line x1="1114.9" y1="2013.12" x2="1123.7" y2="2013.12" stroke="#cf661d" stroke-width="2.5"/>
<rect x="1111" y="1977.72" width="16.6" height="15.64" fill="#fff" stroke="#cf661d" stroke-width="2.5"/>
<line x1="1111" y1="1985.54" x2="1127.6" y2="1985.54" stroke="#cf661d" stroke-width="3.9"/>
<text x="1117.5" y="1768.8" font-size="23" fill="#333" text-anchor="middle" textLength="33.2" lengthAdjust="spacingAndGlyphs">****</text>
<text x="1123.9" y="2216.6" font-size="20.3" fill="#111" text-anchor="end" textLength="143.23" lengthAdjust="spacingAndGlyphs" transform="rotate(-45 1123.9 2216.6)">Regulatory T cell</text>
<line x1="1153.6" y1="2199.9" x2="1153.6" y2="2203" stroke="#000" stroke-width="1.8"/>
<line x1="1145.2" y1="1945.62" x2="1145.2" y2="1961.26" stroke="#23875a" stroke-width="2.5"/>
<line x1="1145.2" y1="1974.02" x2="1145.2" y2="1989.66" stroke="#23875a" stroke-width="2.5"/>
<line x1="1140.8" y1="1945.62" x2="1149.6" y2="1945.62" stroke="#23875a" stroke-width="2.5"/>
<line x1="1140.8" y1="1989.66" x2="1149.6" y2="1989.66" stroke="#23875a" stroke-width="2.5"/>
<rect x="1136.9" y="1961.26" width="16.6" height="12.76" fill="#fff" stroke="#23875a" stroke-width="2.5"/>
<line x1="1136.9" y1="1967.84" x2="1153.5" y2="1967.84" stroke="#23875a" stroke-width="3.9"/>
<line x1="1162" y1="1964.96" x2="1162" y2="1974.84" stroke="#cf661d" stroke-width="2.5"/>
<line x1="1162" y1="1983.9" x2="1162" y2="1996.24" stroke="#cf661d" stroke-width="2.5"/>
<line x1="1157.6" y1="1964.96" x2="1166.4" y2="1964.96" stroke="#cf661d" stroke-width="2.5"/>
<line x1="1157.6" y1="1996.24" x2="1166.4" y2="1996.24" stroke="#cf661d" stroke-width="2.5"/>
<rect x="1153.7" y="1974.84" width="16.6" height="9.06" fill="#fff" stroke="#cf661d" stroke-width="2.5"/>
<line x1="1153.7" y1="1978.54" x2="1170.3" y2="1978.54" stroke="#cf661d" stroke-width="3.9"/>
<text x="1160.2" y="1768.8" font-size="23" fill="#333" text-anchor="middle" textLength="33.2" lengthAdjust="spacingAndGlyphs">****</text>
<text x="1166.6" y="2216.6" font-size="20.3" fill="#111" text-anchor="end" textLength="179.82" lengthAdjust="spacingAndGlyphs" transform="rotate(-45 1166.6 2216.6)">T follicular helper cell</text>
<line x1="1196.3" y1="2199.9" x2="1196.3" y2="2203" stroke="#000" stroke-width="1.8"/>
<line x1="1187.9" y1="1940.68" x2="1187.9" y2="1955.08" stroke="#23875a" stroke-width="2.5"/>
<line x1="1187.9" y1="1967.84" x2="1187.9" y2="1976.08" stroke="#23875a" stroke-width="2.5"/>
<line x1="1183.5" y1="1940.68" x2="1192.3" y2="1940.68" stroke="#23875a" stroke-width="2.5"/>
<line x1="1183.5" y1="1976.08" x2="1192.3" y2="1976.08" stroke="#23875a" stroke-width="2.5"/>
<rect x="1179.6" y="1955.08" width="16.6" height="12.76" fill="#fff" stroke="#23875a" stroke-width="2.5"/>
<line x1="1179.6" y1="1961.26" x2="1196.2" y2="1961.26" stroke="#23875a" stroke-width="3.9"/>
<line x1="1204.7" y1="1954.26" x2="1204.7" y2="1966.2" stroke="#cf661d" stroke-width="2.5"/>
<line x1="1204.7" y1="1975.66" x2="1204.7" y2="1988.42" stroke="#cf661d" stroke-width="2.5"/>
<line x1="1200.3" y1="1954.26" x2="1209.1" y2="1954.26" stroke="#cf661d" stroke-width="2.5"/>
<line x1="1200.3" y1="1988.42" x2="1209.1" y2="1988.42" stroke="#cf661d" stroke-width="2.5"/>
<rect x="1196.4" y="1966.2" width="16.6" height="9.47" fill="#fff" stroke="#cf661d" stroke-width="2.5"/>
<line x1="1196.4" y1="1970.72" x2="1213" y2="1970.72" stroke="#cf661d" stroke-width="3.9"/>
<text x="1202.9" y="1768.8" font-size="23" fill="#333" text-anchor="middle" textLength="33.2" lengthAdjust="spacingAndGlyphs">****</text>
<text x="1209.3" y="2216.6" font-size="20.3" fill="#111" text-anchor="end" textLength="166.7" lengthAdjust="spacingAndGlyphs" transform="rotate(-45 1209.3 2216.6)">Type 1 T helper cell</text>
<line x1="1239" y1="2199.9" x2="1239" y2="2203" stroke="#000" stroke-width="1.8"/>
<line x1="1230.6" y1="2026.7" x2="1230.6" y2="2034.11" stroke="#23875a" stroke-width="2.5"/>
<line x1="1230.6" y1="2040.7" x2="1230.6" y2="2046.46" stroke="#23875a" stroke-width="2.5"/>
<line x1="1226.2" y1="2026.7" x2="1235" y2="2026.7" stroke="#23875a" stroke-width="2.5"/>
<line x1="1226.2" y1="2046.46" x2="1235" y2="2046.46" stroke="#23875a" stroke-width="2.5"/>
<rect x="1222.3" y="2034.11" width="16.6" height="6.59" fill="#fff" stroke="#23875a" stroke-width="2.5"/>
<line x1="1222.3" y1="2037.4" x2="1238.9" y2="2037.4" stroke="#23875a" stroke-width="3.9"/>
<line x1="1247.4" y1="2025.06" x2="1247.4" y2="2035.35" stroke="#cf661d" stroke-width="2.5"/>
<line x1="1247.4" y1="2043.58" x2="1247.4" y2="2054.28" stroke="#cf661d" stroke-width="2.5"/>
<line x1="1243" y1="2025.06" x2="1251.8" y2="2025.06" stroke="#cf661d" stroke-width="2.5"/>
<line x1="1243" y1="2054.28" x2="1251.8" y2="2054.28" stroke="#cf661d" stroke-width="2.5"/>
<rect x="1239.1" y="2035.35" width="16.6" height="8.23" fill="#fff" stroke="#cf661d" stroke-width="2.5"/>
<line x1="1239.1" y1="2039.46" x2="1255.7" y2="2039.46" stroke="#cf661d" stroke-width="3.9"/>
<text x="1240" y="1768.8" font-size="23" fill="#333" text-anchor="middle" textLength="8.3" lengthAdjust="spacingAndGlyphs">*</text>
<text x="1252" y="2216.6" font-size="20.3" fill="#111" text-anchor="end" textLength="177.37" lengthAdjust="spacingAndGlyphs" transform="rotate(-45 1252 2216.6)">Type 17 T helper cell</text>
<line x1="1281.7" y1="2199.9" x2="1281.7" y2="2203" stroke="#000" stroke-width="1.8"/>
<line x1="1273.3" y1="1989.25" x2="1273.3" y2="2003.24" stroke="#23875a" stroke-width="2.5"/>
<line x1="1273.3" y1="2014.77" x2="1273.3" y2="2025.88" stroke="#23875a" stroke-width="2.5"/>
<line x1="1268.9" y1="1989.25" x2="1277.7" y2="1989.25" stroke="#23875a" stroke-width="2.5"/>
<line x1="1268.9" y1="2025.88" x2="1277.7" y2="2025.88" stroke="#23875a" stroke-width="2.5"/>
<rect x="1265" y="2003.24" width="16.6" height="11.52" fill="#fff" stroke="#23875a" stroke-width="2.5"/>
<line x1="1265" y1="2009.41" x2="1281.6" y2="2009.41" stroke="#23875a" stroke-width="3.9"/>
<line x1="1290.1" y1="1994.6" x2="1290.1" y2="2008.18" stroke="#cf661d" stroke-width="2.5"/>
<line x1="1290.1" y1="2018.06" x2="1290.1" y2="2031.64" stroke="#cf661d" stroke-width="2.5"/>
<line x1="1285.7" y1="1994.6" x2="1294.5" y2="1994.6" stroke="#cf661d" stroke-width="2.5"/>
<line x1="1285.7" y1="2031.64" x2="1294.5" y2="2031.64" stroke="#cf661d" stroke-width="2.5"/>
<rect x="1281.8" y="2008.18" width="16.6" height="9.88" fill="#fff" stroke="#cf661d" stroke-width="2.5"/>
<line x1="1281.8" y1="2012.71" x2="1298.4" y2="2012.71" stroke="#cf661d" stroke-width="3.9"/>
<text x="1282.7" y="1768.8" font-size="23" fill="#333" text-anchor="middle" textLength="8.3" lengthAdjust="spacingAndGlyphs">*</text>
<text x="1294.7" y="2216.6" font-size="20.3" fill="#111" text-anchor="end" textLength="166.7" lengthAdjust="spacingAndGlyphs" transform="rotate(-45 1294.7 2216.6)">Type 2 T helper cell</text>
</svg></body></html>
